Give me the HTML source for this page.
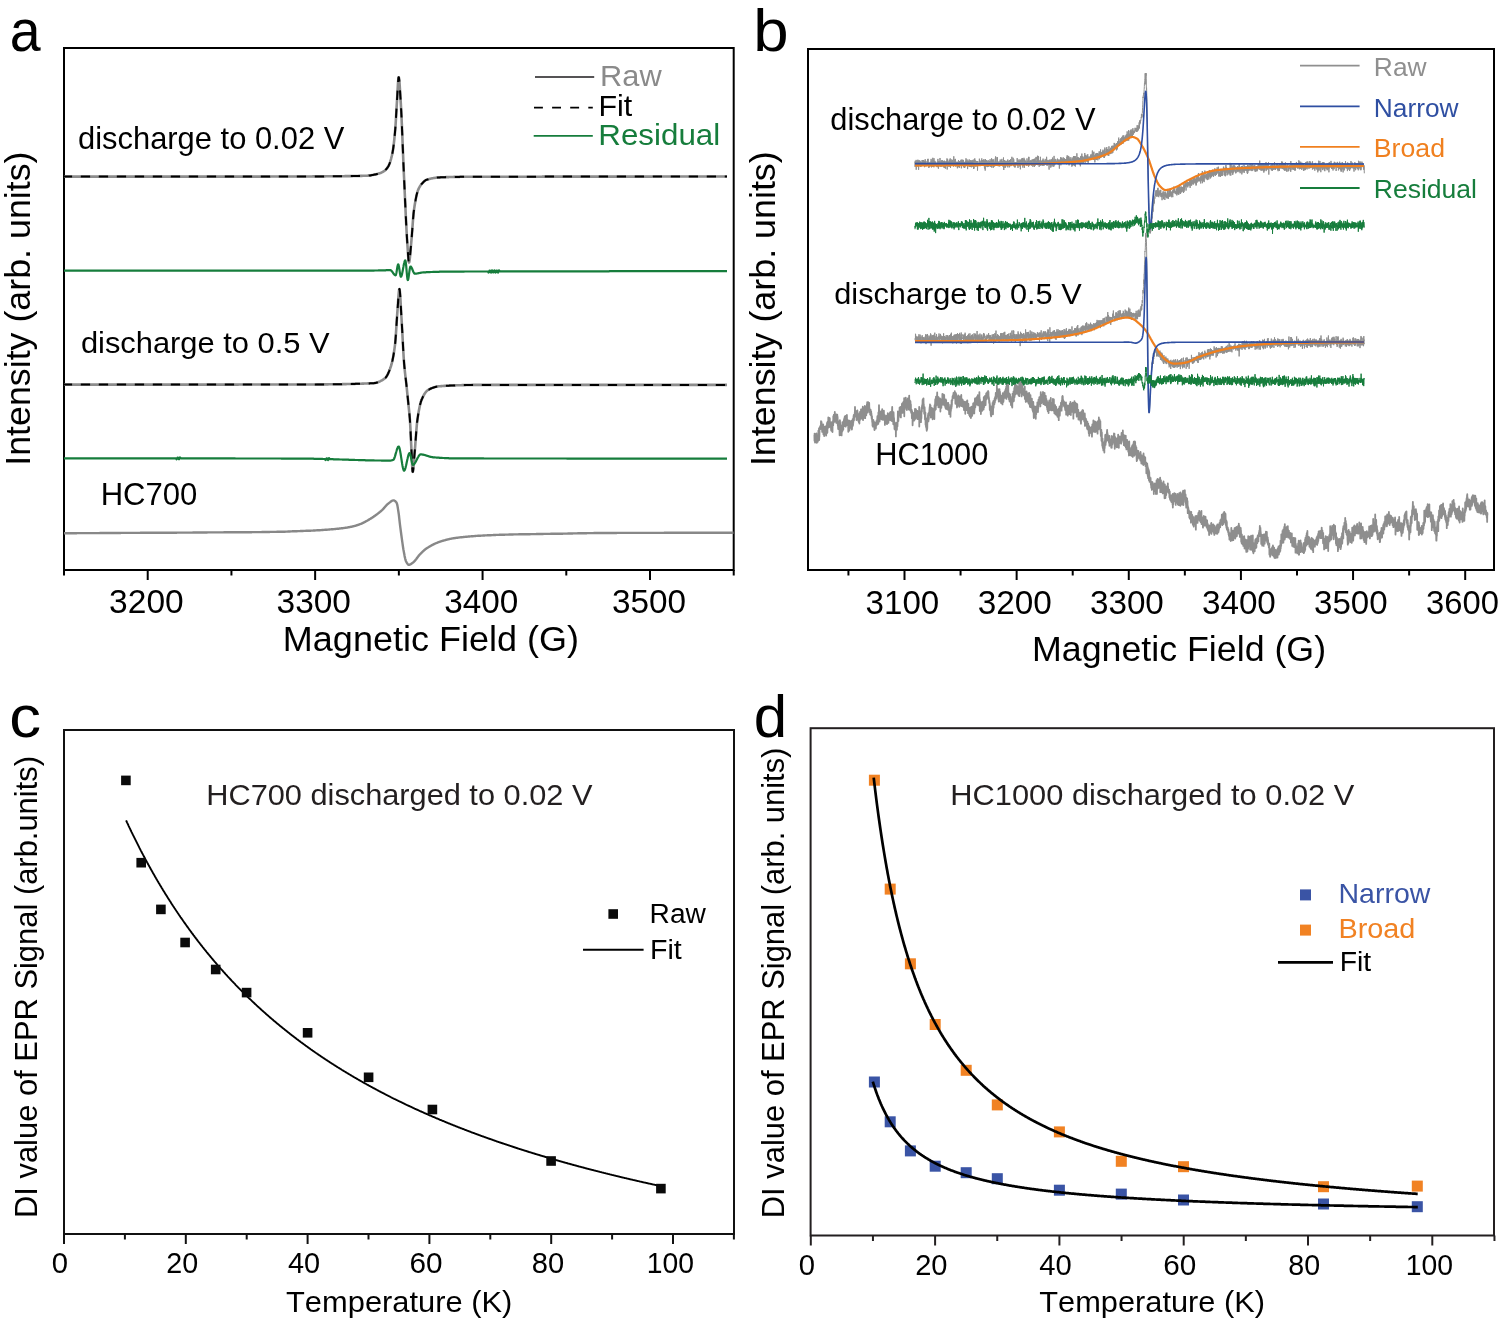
<!DOCTYPE html>
<html><head><meta charset="utf-8"><style>
html,body{margin:0;padding:0;background:#fff;overflow:hidden;}
svg{display:block;will-change:transform;}
text{font-family:"Liberation Sans", sans-serif;font-kerning:none;font-feature-settings:"kern" 0;}
</style></head><body>
<svg width="1500" height="1322" viewBox="0 0 1500 1322">
<rect width="1500" height="1322" fill="#fff"/>
<text transform="translate(9.84,51.21) scale(0.9247,1)" font-size="60.00" fill="#000">a</text>
<text transform="translate(753.20,51.11) scale(1.0599,1)" font-size="60.00" fill="#000">b</text>
<text transform="translate(9.30,737.01) scale(1.0592,1)" font-size="60.00" fill="#000">c</text>
<text transform="translate(753.78,736.71) scale(1.0007,1)" font-size="60.00" fill="#000">d</text>
<rect x="64.00" y="48.00" width="669.70" height="522.00" fill="none" stroke="#000" stroke-width="2"/>
<line x1="64.00" y1="570.00" x2="64.00" y2="575.50" stroke="#000" stroke-width="2" />
<line x1="147.71" y1="570.00" x2="147.71" y2="580.00" stroke="#000" stroke-width="2" />
<line x1="231.43" y1="570.00" x2="231.43" y2="575.50" stroke="#000" stroke-width="2" />
<line x1="315.14" y1="570.00" x2="315.14" y2="580.00" stroke="#000" stroke-width="2" />
<line x1="398.86" y1="570.00" x2="398.86" y2="575.50" stroke="#000" stroke-width="2" />
<line x1="482.57" y1="570.00" x2="482.57" y2="580.00" stroke="#000" stroke-width="2" />
<line x1="566.29" y1="570.00" x2="566.29" y2="575.50" stroke="#000" stroke-width="2" />
<line x1="650.00" y1="570.00" x2="650.00" y2="580.00" stroke="#000" stroke-width="2" />
<line x1="733.72" y1="570.00" x2="733.72" y2="575.50" stroke="#000" stroke-width="2" />
<text transform="translate(109.12,612.90) scale(1.0160,1)" font-size="33.00" fill="#000">3200</text>
<text transform="translate(276.52,612.90) scale(1.0146,1)" font-size="33.00" fill="#000">3300</text>
<text transform="translate(444.13,612.90) scale(1.0104,1)" font-size="33.00" fill="#000">3400</text>
<text transform="translate(611.93,612.90) scale(1.0089,1)" font-size="33.00" fill="#000">3500</text>
<text transform="translate(282.84,650.60) scale(1.0205,1)" font-size="35.30" fill="#000">Magnetic Field (G)</text>
<text transform="translate(30.40,465.80) rotate(-90) scale(1.0086,1)" font-size="35.50" fill="#000">Intensity (arb. units)</text>
<text transform="translate(78.00,149.00) scale(1.0068,1)" font-size="30.70" fill="#000">discharge to 0.02 V</text>
<text transform="translate(80.90,352.50) scale(1.0151,1)" font-size="30.40" fill="#000">discharge to 0.5 V</text>
<text transform="translate(100.65,505.40) scale(1.0028,1)" font-size="31.00" fill="#000">HC700</text>
<text transform="translate(600.08,85.50) scale(1.0256,1)" font-size="30.00" fill="#8a8a8a">Raw</text>
<text transform="translate(598.40,116.20) scale(1.0149,1)" font-size="30.00" fill="#000">Fit</text>
<text transform="translate(598.33,144.90) scale(1.0440,1)" font-size="30.00" fill="#167d3c">Residual</text>
<line x1="535.00" y1="77.00" x2="594.20" y2="77.00" stroke="#555355" stroke-width="1.9" />
<line x1="534.00" y1="107.60" x2="592.80" y2="107.60" stroke="#000" stroke-width="1.9" stroke-dasharray="8.9 9.2"/>
<line x1="533.70" y1="135.80" x2="592.80" y2="135.80" stroke="#167d3c" stroke-width="1.8" />
<rect x="808.00" y="49.00" width="686.00" height="521.00" fill="none" stroke="#000" stroke-width="2"/>
<line x1="848.43" y1="570.00" x2="848.43" y2="575.50" stroke="#000" stroke-width="2" />
<line x1="904.50" y1="570.00" x2="904.50" y2="580.00" stroke="#000" stroke-width="2" />
<line x1="960.57" y1="570.00" x2="960.57" y2="575.50" stroke="#000" stroke-width="2" />
<line x1="1016.64" y1="570.00" x2="1016.64" y2="580.00" stroke="#000" stroke-width="2" />
<line x1="1072.71" y1="570.00" x2="1072.71" y2="575.50" stroke="#000" stroke-width="2" />
<line x1="1128.78" y1="570.00" x2="1128.78" y2="580.00" stroke="#000" stroke-width="2" />
<line x1="1184.85" y1="570.00" x2="1184.85" y2="575.50" stroke="#000" stroke-width="2" />
<line x1="1240.92" y1="570.00" x2="1240.92" y2="580.00" stroke="#000" stroke-width="2" />
<line x1="1296.99" y1="570.00" x2="1296.99" y2="575.50" stroke="#000" stroke-width="2" />
<line x1="1353.06" y1="570.00" x2="1353.06" y2="580.00" stroke="#000" stroke-width="2" />
<line x1="1409.13" y1="570.00" x2="1409.13" y2="575.50" stroke="#000" stroke-width="2" />
<line x1="1465.20" y1="570.00" x2="1465.20" y2="580.00" stroke="#000" stroke-width="2" />
<text transform="translate(865.54,613.70) scale(0.9868,1)" font-size="33.60" fill="#000">3100</text>
<text transform="translate(977.73,613.70) scale(0.9923,1)" font-size="33.60" fill="#000">3200</text>
<text transform="translate(1089.93,613.70) scale(0.9895,1)" font-size="33.60" fill="#000">3300</text>
<text transform="translate(1201.93,613.70) scale(0.9895,1)" font-size="33.60" fill="#000">3400</text>
<text transform="translate(1314.04,613.70) scale(0.9854,1)" font-size="33.60" fill="#000">3500</text>
<text transform="translate(1426.05,613.70) scale(0.9757,1)" font-size="33.60" fill="#000">3600</text>
<text transform="translate(1031.97,661.00) scale(1.0222,1)" font-size="35.00" fill="#000">Magnetic Field (G)</text>
<text transform="translate(774.80,466.11) rotate(-90) scale(1.0103,1)" font-size="35.50" fill="#000">Intensity (arb. units)</text>
<text transform="translate(830.31,129.80) scale(1.0030,1)" font-size="30.70" fill="#000">discharge to 0.02 V</text>
<text transform="translate(834.31,304.40) scale(1.0097,1)" font-size="30.40" fill="#000">discharge to 0.5 V</text>
<text transform="translate(875.27,464.90) scale(0.9979,1)" font-size="30.90" fill="#000">HC1000</text>
<text transform="translate(1373.83,76.00) scale(1.0474,1)" font-size="25.20" fill="#8f8f8f">Raw</text>
<text transform="translate(1373.84,116.70) scale(1.0441,1)" font-size="25.20" fill="#2f4fa2">Narrow</text>
<text transform="translate(1373.81,157.30) scale(1.0589,1)" font-size="25.20" fill="#f0801f">Broad</text>
<text transform="translate(1373.82,198.30) scale(1.0530,1)" font-size="25.20" fill="#167d3c">Residual</text>
<line x1="1300.00" y1="65.60" x2="1359.60" y2="65.60" stroke="#8f8f8f" stroke-width="1.8" />
<line x1="1300.00" y1="106.30" x2="1359.60" y2="106.30" stroke="#2f4fa2" stroke-width="1.8" />
<line x1="1300.00" y1="146.90" x2="1359.60" y2="146.90" stroke="#f0801f" stroke-width="1.8" />
<line x1="1300.00" y1="188.00" x2="1359.60" y2="188.00" stroke="#167d3c" stroke-width="1.8" />
<rect x="64.00" y="730.00" width="670.00" height="504.00" fill="none" stroke="#111" stroke-width="2"/>
<line x1="64.00" y1="1234.00" x2="64.00" y2="1244.00" stroke="#111" stroke-width="2" />
<line x1="124.90" y1="1234.00" x2="124.90" y2="1239.50" stroke="#111" stroke-width="2" />
<line x1="185.80" y1="1234.00" x2="185.80" y2="1244.00" stroke="#111" stroke-width="2" />
<line x1="246.70" y1="1234.00" x2="246.70" y2="1239.50" stroke="#111" stroke-width="2" />
<line x1="307.60" y1="1234.00" x2="307.60" y2="1244.00" stroke="#111" stroke-width="2" />
<line x1="368.50" y1="1234.00" x2="368.50" y2="1239.50" stroke="#111" stroke-width="2" />
<line x1="429.40" y1="1234.00" x2="429.40" y2="1244.00" stroke="#111" stroke-width="2" />
<line x1="490.30" y1="1234.00" x2="490.30" y2="1239.50" stroke="#111" stroke-width="2" />
<line x1="551.20" y1="1234.00" x2="551.20" y2="1244.00" stroke="#111" stroke-width="2" />
<line x1="612.10" y1="1234.00" x2="612.10" y2="1239.50" stroke="#111" stroke-width="2" />
<line x1="673.00" y1="1234.00" x2="673.00" y2="1244.00" stroke="#111" stroke-width="2" />
<line x1="733.90" y1="1234.00" x2="733.90" y2="1239.50" stroke="#111" stroke-width="2" />
<text transform="translate(51.86,1273.30) scale(1.0099,1)" font-size="29.00" fill="#000">0</text>
<text transform="translate(166.15,1273.30) scale(0.9910,1)" font-size="29.00" fill="#000">20</text>
<text transform="translate(287.94,1273.30) scale(0.9981,1)" font-size="29.00" fill="#000">40</text>
<text transform="translate(409.49,1273.30) scale(1.0252,1)" font-size="29.00" fill="#000">60</text>
<text transform="translate(531.73,1273.30) scale(1.0046,1)" font-size="29.00" fill="#000">80</text>
<text transform="translate(646.84,1273.30) scale(0.9768,1)" font-size="29.00" fill="#000">100</text>
<text transform="translate(286.01,1311.50) scale(1.0357,1)" font-size="29.80" fill="#000">Temperature (K)</text>
<text transform="translate(37.40,1218.04) rotate(-90) scale(1.0038,1)" font-size="30.80" fill="#000">DI value of EPR Signal (arb.units)</text>
<text transform="translate(206.28,805.20) scale(1.0251,1)" font-size="30.00" fill="#231f20">HC700 discharged to 0.02 V</text>
<text transform="translate(649.59,923.30) scale(1.0059,1)" font-size="28.00" fill="#000">Raw</text>
<text transform="translate(649.96,958.80) scale(1.0209,1)" font-size="28.00" fill="#000">Fit</text>
<rect x="608.40" y="909.20" width="9.60" height="9.60" fill="#0a0a0a"/>
<line x1="583.00" y1="949.70" x2="643.60" y2="949.70" stroke="#000" stroke-width="2" />
<rect x="810.60" y="728.20" width="683.40" height="507.30" fill="none" stroke="#231f20" stroke-width="2"/>
<line x1="810.80" y1="1235.50" x2="810.80" y2="1245.50" stroke="#231f20" stroke-width="2" />
<line x1="872.95" y1="1235.50" x2="872.95" y2="1241.00" stroke="#231f20" stroke-width="2" />
<line x1="935.10" y1="1235.50" x2="935.10" y2="1245.50" stroke="#231f20" stroke-width="2" />
<line x1="997.25" y1="1235.50" x2="997.25" y2="1241.00" stroke="#231f20" stroke-width="2" />
<line x1="1059.40" y1="1235.50" x2="1059.40" y2="1245.50" stroke="#231f20" stroke-width="2" />
<line x1="1121.55" y1="1235.50" x2="1121.55" y2="1241.00" stroke="#231f20" stroke-width="2" />
<line x1="1183.70" y1="1235.50" x2="1183.70" y2="1245.50" stroke="#231f20" stroke-width="2" />
<line x1="1245.85" y1="1235.50" x2="1245.85" y2="1241.00" stroke="#231f20" stroke-width="2" />
<line x1="1308.00" y1="1235.50" x2="1308.00" y2="1245.50" stroke="#231f20" stroke-width="2" />
<line x1="1370.15" y1="1235.50" x2="1370.15" y2="1241.00" stroke="#231f20" stroke-width="2" />
<line x1="1432.30" y1="1235.50" x2="1432.30" y2="1245.50" stroke="#231f20" stroke-width="2" />
<line x1="1494.45" y1="1235.50" x2="1494.45" y2="1241.00" stroke="#231f20" stroke-width="2" />
<text transform="translate(798.86,1274.80) scale(1.0240,1)" font-size="28.60" fill="#000">0</text>
<text transform="translate(915.13,1274.80) scale(1.0186,1)" font-size="28.60" fill="#000">20</text>
<text transform="translate(1039.33,1274.80) scale(1.0220,1)" font-size="28.60" fill="#000">40</text>
<text transform="translate(1163.19,1274.80) scale(1.0396,1)" font-size="28.60" fill="#000">60</text>
<text transform="translate(1288.26,1274.80) scale(1.0016,1)" font-size="28.60" fill="#000">80</text>
<text transform="translate(1405.74,1274.80) scale(0.9927,1)" font-size="28.60" fill="#000">100</text>
<text transform="translate(1039.31,1312.00) scale(1.0330,1)" font-size="29.80" fill="#000">Temperature (K)</text>
<text transform="translate(783.90,1218.24) rotate(-90) scale(1.0038,1)" font-size="30.80" fill="#000">DI value of EPR Signal (arb. units)</text>
<text transform="translate(950.37,805.30) scale(1.0266,1)" font-size="30.00" fill="#231f20">HC1000 discharged to 0.02 V</text>
<text transform="translate(1338.46,902.60) scale(1.0181,1)" font-size="28.00" fill="#3a54a5">Narrow</text>
<text transform="translate(1338.43,937.80) scale(1.0309,1)" font-size="28.00" fill="#f18223">Broad</text>
<text transform="translate(1339.67,970.80) scale(1.0139,1)" font-size="28.00" fill="#000">Fit</text>
<rect x="1300.00" y="889.40" width="11.00" height="11.00" fill="#3a54a5"/>
<rect x="1300.00" y="924.60" width="11.00" height="11.00" fill="#f18223"/>
<line x1="1278.00" y1="962.40" x2="1333.00" y2="962.40" stroke="#000" stroke-width="2.6" />
<path d="M64.0 176.6l0.5 0.0 0.5 0.0 0.5 0.0 0.5 0.0 0.5 0.0 0.5 0.0 0.5 0.0 0.5 0.0 0.5 0.0 0.5 0.0 0.5 0.0 0.5 0.0 0.5 0.0 0.5 0.0 0.5 0.0 0.5 0.0 0.5 0.0 0.5 0.0 0.5 0.0 0.5 0.0 0.5 0.0 0.5 0.0 0.5 0.0 0.5 0.0 0.5 0.0 0.5 0.0 0.5 0.0 0.5 0.0 0.5 0.0 0.5 0.0 0.5 0.0 0.5 0.0 0.5 0.0 0.5 0.0 0.5 0.0 0.5 0.0 0.5 0.0 0.5 0.0 0.5 0.0 0.5 0.0 0.5 0.0 0.5 0.0 0.5 0.0 0.5 0.0 0.5 0.0 0.5 0.0 0.5 0.0 0.5 0.0 0.5 0.0 0.5 0.0 0.5 0.0 0.5 0.0 0.5 0.0 0.5 0.0 0.5 0.0 0.5 0.0 0.5 0.0 0.5 0.0 0.5 0.0 0.5 0.0 0.5 0.0 0.5 0.0 0.5 0.0 0.5 0.0 0.5 0.0 0.5 0.0 0.5 0.0 0.5 0.0 0.5 0.0 0.5 0.0 0.5 0.0 0.5 0.0 0.5 0.0 0.5 0.0 0.5 0.0 0.5 0.0 0.5 0.0 0.5 0.0 0.5 0.0 0.5 0.0 0.5 0.0 0.5 0.0 0.5 0.0 0.5 0.0 0.5 0.0 0.5 0.0 0.5 0.0 0.5 0.0 0.5 0.0 0.5 0.0 0.5 0.0 0.5 0.0 0.5 0.0 0.5 0.0 0.5 0.0 0.5 0.0 0.5 0.0 0.5 0.0 0.5 0.0 0.5 0.0 0.5 0.0 0.5 0.0 0.5 0.0 0.5 0.0 0.5 0.0 0.5 0.0 0.5 0.0 0.5 0.0 0.5 0.0 0.5 0.0 0.5 0.0 0.5 0.0 0.5 0.0 0.5 0.0 0.5 0.0 0.5 0.0 0.5 0.0 0.5 0.0 0.5 0.0 0.5 0.0 0.5 0.0 0.5 0.0 0.5 0.0 0.5 0.0 0.5 0.0 0.5 0.0 0.5 0.0 0.5 0.0 0.5 0.0 0.5 0.0 0.5 0.0 0.5 0.0 0.5 0.0 0.5 0.0 0.5 0.0 0.5 0.0 0.5 0.0 0.5 0.0 0.5 0.0 0.5 0.0 0.5 0.0 0.5 0.0 0.5 0.0 0.5 0.0 0.5 0.0 0.5 0.0 0.5 0.0 0.5 0.0 0.5 0.0 0.5 0.0 0.5 0.0 0.5 0.0 0.5 0.0 0.5 0.0 0.5 0.0 0.5 0.0 0.5 0.0 0.5 0.0 0.5 0.0 0.5 0.0 0.5 0.0 0.5 0.0 0.5 0.0 0.5 0.0 0.5 0.0 0.5 0.0 0.5 0.0 0.5 0.0 0.5 0.0 0.5 0.0 0.5 0.0 0.5 0.0 0.5 0.0 0.5 0.0 0.5 0.0 0.5 0.0 0.5 0.0 0.5 0.0 0.5 0.0 0.5 0.0 0.5 0.0 0.5 0.0 0.5 0.0 0.5 0.0 0.5 0.0 0.5 0.0 0.5 0.0 0.5 0.0 0.5 0.0 0.5 0.0 0.5 0.0 0.5 0.0 0.5 0.0 0.5 0.0 0.5 0.0 0.5 0.0 0.5 0.0 0.5 0.0 0.5 0.0 0.5 0.0 0.5 0.0 0.5 0.0 0.5 0.0 0.5 0.0 0.5 0.0 0.5 0.0 0.5 0.0 0.5 0.0 0.5 0.0 0.5 0.0 0.5 0.0 0.5 0.0 0.5 0.0 0.5 0.0 0.5 0.0 0.5 0.0 0.5 0.0 0.5 0.0 0.5 0.0 0.5 0.0 0.5 0.0 0.5 0.0 0.5 0.0 0.5 0.0 0.5 0.0 0.5 0.0 0.5 0.0 0.5 0.0 0.5 0.0 0.5 0.0 0.5 0.0 0.5 0.0 0.5 0.0 0.5 0.0 0.5 0.0 0.5 0.0 0.5 0.0 0.5 0.0 0.5 0.0 0.5 0.0 0.5 0.0 0.5 0.0 0.5 0.0 0.5 0.0 0.5 0.0 0.5 0.0 0.5 0.0 0.5 0.0 0.5 0.0 0.5 0.0 0.5 0.0 0.5 0.0 0.5 0.0 0.5 0.0 0.5 0.0 0.5 0.0 0.5 0.0 0.5 0.0 0.5 0.0 0.5 0.0 0.5 0.0 0.5 0.0 0.5 0.0 0.5 0.0 0.5 0.0 0.5 0.0 0.5 0.0 0.5 0.0 0.5 0.0 0.5 0.0 0.5 0.0 0.5 0.0 0.5 0.0 0.5 0.0 0.5 0.0 0.5 0.0 0.5 0.0 0.5 0.0 0.5 0.0 0.5 0.0 0.5 0.0 0.5 0.0 0.5 0.0 0.5 0.0 0.5 0.0 0.5 0.0 0.5 0.0 0.5 0.0 0.5 0.0 0.5 0.0 0.5 0.0 0.5 0.0 0.5 0.0 0.5 0.0 0.5 0.0 0.5 0.0 0.5 0.0 0.5 0.0 0.5 0.0 0.5 0.0 0.5 0.0 0.5 0.0 0.5 0.0 0.5 0.0 0.5 0.0 0.5 0.0 0.5 0.0 0.5 0.0 0.5 0.0 0.5 0.0 0.5 0.0 0.5 0.0 0.5 0.0 0.5 0.0 0.5 0.0 0.5 0.0 0.5 0.0 0.5 0.0 0.5 0.0 0.5 0.0 0.5 0.0 0.5 0.0 0.5 0.0 0.5 0.0 0.5 0.0 0.5 0.0 0.5 0.0 0.5 0.0 0.5 0.0 0.5 0.0 0.5 0.0 0.5 0.0 0.5 0.0 0.5 0.0 0.5 0.0 0.5 0.0 0.5 0.0 0.5 0.0 0.5 0.0 0.5 0.0 0.5 0.0 0.5 0.0 0.5 0.0 0.5 0.0 0.5 0.0 0.5 0.0 0.5 0.0 0.5 0.0 0.5 0.0 0.5 0.0 0.5 0.0 0.5 0.0 0.5 0.0 0.5 0.0 0.5 0.0 0.5 0.0 0.5 0.0 0.5 0.0 0.5 0.0 0.5 0.0 0.5 0.0 0.5 0.0 0.5 0.0 0.5 0.0 0.5 0.0 0.5 0.0 0.5 0.0 0.5 0.0 0.5 0.0 0.5 0.0 0.5 0.0 0.5 0.0 0.5 0.0 0.5 0.0 0.5 0.0 0.5 0.0 0.5 0.0 0.5 0.0 0.5 0.0 0.5 0.0 0.5 0.0 0.5 0.0 0.5 0.0 0.5 0.0 0.5 0.0 0.5 0.0 0.5 0.0 0.5 0.0 0.5 0.0 0.5 0.0 0.5 0.0 0.5 0.0 0.5 0.0 0.5 0.0 0.5 0.0 0.5 0.0 0.5 0.0 0.5 0.0 0.5 0.0 0.5 0.0 0.5 0.0 0.5 0.0 0.5 0.0 0.5 0.0 0.5 0.0 0.5 0.0 0.5 0.0 0.5 0.0 0.5 0.0 0.5 0.0 0.5 0.0 0.5 0.0 0.5 0.0 0.5 -0.1 0.5 0.0 0.5 0.0 0.5 0.0 0.5 0.0 0.5 0.0 0.5 0.0 0.5 0.0 0.5 0.0 0.5 0.0 0.5 0.0 0.5 0.0 0.5 0.0 0.5 0.0 0.5 0.0 0.5 0.0 0.5 0.0 0.5 0.0 0.5 0.0 0.5 0.0 0.5 0.0 0.5 0.0 0.5 0.0 0.5 0.0 0.5 0.0 0.5 0.0 0.5 0.0 0.5 0.0 0.5 0.0 0.5 0.0 0.5 0.0 0.5 0.0 0.5 0.0 0.5 0.0 0.5 0.0 0.5 0.0 0.5 0.0 0.5 0.0 0.5 0.0 0.5 0.0 0.5 0.0 0.5 0.0 0.5 0.0 0.5 0.0 0.5 0.0 0.5 0.0 0.5 0.0 0.5 0.0 0.5 0.0 0.5 0.0 0.5 0.0 0.5 0.0 0.5 0.0 0.5 0.0 0.5 0.0 0.5 0.0 0.5 0.0 0.5 0.0 0.5 0.0 0.5 0.0 0.5 0.0 0.5 0.0 0.5 0.0 0.5 0.0 0.5 0.0 0.5 0.0 0.5 0.0 0.5 0.0 0.5 0.0 0.5 0.0 0.5 0.0 0.5 0.0 0.5 0.0 0.5 0.0 0.5 0.0 0.5 0.0 0.5 0.0 0.5 0.0 0.5 0.0 0.5 0.0 0.5 0.0 0.5 0.0 0.5 0.0 0.5 -0.1 0.5 0.0 0.5 0.0 0.5 0.0 0.5 0.0 0.5 0.0 0.5 0.0 0.5 0.0 0.5 0.0 0.5 0.0 0.5 0.0 0.5 0.0 0.5 0.0 0.5 0.0 0.5 0.0 0.5 0.0 0.5 0.0 0.5 0.0 0.5 0.0 0.5 0.0 0.5 0.0 0.5 0.0 0.5 0.0 0.5 0.0 0.5 0.0 0.5 0.0 0.5 -0.1 0.5 0.0 0.5 0.0 0.5 0.0 0.5 0.0 0.5 0.0 0.5 0.0 0.5 0.0 0.5 0.0 0.5 0.0 0.5 0.0 0.5 0.0 0.5 0.0 0.5 0.0 0.5 0.0 0.5 0.0 0.5 0.0 0.5 0.0 0.5 0.0 0.5 0.0 0.5 -0.1 0.5 0.0 0.5 0.0 0.5 0.0 0.5 0.0 0.5 0.0 0.5 0.0 0.5 0.0 0.5 0.0 0.5 0.0 0.5 0.0 0.5 0.0 0.5 0.0 0.5 0.0 0.5 0.0 0.5 0.0 0.5 0.0 0.5 0.0 0.5 0.0 0.5 -0.1 0.5 0.0 0.5 0.0 0.5 0.0 0.5 0.0 0.5 0.0 0.5 0.0 0.5 0.0 0.5 0.0 0.5 0.0 0.5 0.0 0.5 0.0 0.5 0.0 0.5 0.0 0.5 0.0 0.5 0.0 0.5 -0.1 0.5 0.0 0.5 0.0 0.5 0.0 0.5 0.0 0.5 0.0 0.5 0.0 0.5 0.0 0.5 0.0 0.5 0.0 0.5 0.0 0.5 -0.1 0.5 0.0 0.5 0.0 0.5 0.0 0.5 0.0 0.5 0.0 0.5 0.0 0.5 0.0 0.5 -0.1 0.5 0.0 0.5 0.0 0.5 0.0 0.5 0.0 0.5 0.0 0.5 -0.1 0.5 0.0 0.5 0.0 0.5 0.0 0.5 0.0 0.5 -0.1 0.5 0.0 0.5 -0.1 0.5 0.0 0.5 -0.1 0.5 0.0 0.5 -0.1 0.5 -0.1 0.5 -0.1 0.5 -0.1 0.5 -0.1 0.5 -0.1 0.5 -0.1 0.5 -0.1 0.5 -0.1 0.5 -0.1 0.5 -0.1 0.5 -0.1 0.5 -0.2 0.5 -0.1 0.5 -0.1 0.5 -0.2 0.5 -0.1 0.5 -0.2 0.5 -0.1 0.2 -0.1 0.2 -0.1 0.1 0.0 0.1 0.0 0.2 -0.1 0.2 -0.1 0.0 0.0 0.2 -0.1 0.2 -0.1 0.1 0.0 0.1 -0.1 0.2 -0.1 0.2 -0.1 0.0 0.0 0.2 -0.1 0.2 -0.1 0.1 -0.1 0.1 0.0 0.2 -0.1 0.2 -0.2 0.0 0.0 0.2 -0.1 0.2 -0.1 0.1 -0.1 0.1 -0.1 0.2 -0.1 0.2 -0.1 0.0 0.0 0.2 -0.2 0.2 -0.1 0.1 -0.1 0.1 -0.1 0.2 -0.1 0.2 -0.2 0.0 0.0 0.2 -0.2 0.2 -0.1 0.1 -0.1 0.1 -0.1 0.2 -0.2 0.2 -0.2 0.0 0.0 0.2 -0.2 0.2 -0.2 0.1 -0.1 0.1 -0.1 0.2 -0.3 0.2 -0.2 0.0 0.0 0.2 -0.3 0.2 -0.3 0.1 -0.1 0.1 -0.2 0.2 -0.3 0.2 -0.3 0.0 0.0 0.2 -0.3 0.2 -0.4 0.1 -0.1 0.1 -0.2 0.2 -0.4 0.2 -0.5 0.0 0.0 0.2 -0.4 0.2 -0.5 0.1 -0.3 0.1 -0.2 0.2 -0.6 0.2 -0.5 0.0 0.0 0.2 -0.6 0.2 -0.7 0.1 -0.3 0.1 -0.3 0.2 -0.7 0.2 -0.7 0.0 0.0 0.2 -0.8 0.2 -0.8 0.1 -0.4 0.1 -0.4 0.2 -0.8 0.2 -0.9 0.0 0.0 0.2 -0.9 0.2 -0.9 0.1 -0.5 0.1 -0.5 0.2 -1.1 0.2 -1.3 0.0 0.0 0.2 -1.3 0.2 -1.5 0.1 -0.7 0.1 -0.8 0.2 -1.7 0.2 -1.7 0.0 0.0 0.2 -1.8 0.2 -2.0 0.1 -0.9 0.1 -1.1 0.2 -2.0 0.2 -2.2 0.0 0.0 0.2 -2.2 0.2 -2.5 0.1 -1.4 0.1 -1.5 0.2 -3.2 0.2 -3.4 0.0 0.0 0.2 -3.6 0.2 -3.5 0.1 -1.8 0.1 -1.7 0.2 -3.3 0.2 -3.1 0.0 0.0 0.2 -3.4 0.2 -3.7 0.1 -1.9 0.1 -1.8 0.2 -3.6 0.2 -3.3 0.0 0.0 0.2 -2.7 0.2 -2.1 0.1 -0.6 0.1 -0.5 0.2 0.0 0.2 0.8 0.0 0.0 0.2 1.5 0.2 2.0 0.1 1.2 0.1 1.3 0.2 2.9 0.2 3.1 0.0 0.0 0.2 3.3 0.2 3.4 0.1 1.6 0.1 1.6 0.2 3.2 0.2 3.5 0.0 0.0 0.2 3.7 0.2 4.1 0.1 2.1 0.1 2.2 0.2 4.6 0.2 4.7 0.0 0.0 0.2 4.8 0.2 5.0 0.1 2.5 0.1 2.5 0.2 5.0 0.2 5.0 0.0 0.0 0.2 5.0 0.2 4.9 0.1 2.4 0.1 2.3 0.2 4.6 0.2 4.4 0.0 0.0 0.2 4.3 0.2 4.4 0.1 2.2 0.1 2.2 0.2 4.4 0.2 4.5 0.0 0.0 0.2 4.4 0.2 4.4 0.1 2.2 0.1 2.1 0.2 4.3 0.2 4.1 0.0 0.0 0.2 4.0 0.2 3.9 0.1 1.9 0.1 1.8 0.2 3.5 0.2 3.4 0.0 0.0 0.2 3.0 0.2 3.0 0.1 1.5 0.1 1.5 0.2 3.1 0.2 3.0 0.0 0.0 0.2 2.8 0.2 2.5 0.1 1.0 0.1 0.9 0.2 1.2 0.2 0.5 0.0 0.0 0.2 -0.3 0.2 -0.8 0.1 -0.6 0.1 -0.7 0.2 -1.6 0.2 -1.9 0.0 0.0 0.2 -2.2 0.2 -2.3 0.1 -1.2 0.1 -1.1 0.2 -2.4 0.2 -2.3 0.0 0.0 0.2 -2.1 0.2 -2.1 0.1 -1.2 0.1 -1.2 0.2 -2.4 0.2 -2.7 0.0 0.0 0.2 -2.6 0.2 -2.8 0.1 -1.3 0.1 -1.4 0.2 -2.7 0.2 -2.5 0.0 0.0 0.2 -2.5 0.2 -2.3 0.1 -1.1 0.1 -1.0 0.2 -1.8 0.2 -1.6 0.0 0.0 0.2 -1.4 0.2 -1.3 0.1 -0.7 0.1 -0.6 0.2 -1.3 0.2 -1.2 0.0 0.0 0.2 -1.2 0.2 -1.1 0.1 -0.5 0.1 -0.6 0.2 -1.0 0.2 -1.0 0.0 0.0 0.2 -1.0 0.2 -0.9 0.1 -0.4 0.1 -0.5 0.2 -0.8 0.2 -0.8 0.0 0.0 0.2 -0.7 0.2 -0.7 0.1 -0.3 0.1 -0.3 0.2 -0.6 0.2 -0.6 0.0 0.0 0.2 -0.5 0.2 -0.5 0.1 -0.2 0.1 -0.2 0.2 -0.5 0.2 -0.4 0.0 0.0 0.2 -0.4 0.2 -0.3 0.1 -0.2 0.1 -0.2 0.2 -0.3 0.2 -0.4 0.0 0.0 0.2 -0.3 0.2 -0.3 0.1 -0.1 0.1 -0.2 0.2 -0.2 0.2 -0.3 0.0 0.0 0.2 -0.3 0.2 -0.2 0.1 -0.1 0.1 -0.1 0.2 -0.3 0.2 -0.2 0.0 0.0 0.2 -0.2 0.2 -0.2 0.1 -0.2 0.1 -0.1 0.2 -0.2 0.2 -0.2 0.0 0.0 0.2 -0.2 0.2 -0.2 0.1 -0.1 0.1 -0.1 0.2 -0.2 0.2 -0.2 0.0 0.0 0.2 -0.2 0.2 -0.2 0.1 -0.1 0.1 -0.1 0.2 -0.1 0.2 -0.2 0.0 0.0 0.2 -0.1 0.2 -0.2 0.1 0.0 0.1 -0.1 0.2 -0.1 0.2 -0.1 0.0 0.0 0.2 -0.1 0.2 -0.1 0.1 0.0 0.1 0.0 0.2 -0.1 0.2 -0.1 0.0 0.0 0.2 0.0 0.2 -0.1 0.1 0.0 0.1 0.0 0.2 -0.1 0.2 0.0 0.0 0.0 0.2 -0.1 0.2 -0.1 0.1 0.0 0.1 0.0 0.2 -0.1 0.2 0.0 0.0 0.0 0.2 -0.1 0.2 0.0 0.1 0.0 0.1 -0.1 0.2 0.0 0.2 -0.1 0.5 -0.1 0.5 -0.1 0.5 -0.1 0.5 -0.1 0.5 -0.1 0.5 -0.1 0.5 -0.1 0.5 -0.1 0.5 0.0 0.5 -0.1 0.5 -0.1 0.5 -0.1 0.5 0.0 0.5 -0.1 0.5 0.0 0.5 -0.1 0.5 0.0 0.5 -0.1 0.5 0.0 0.5 0.0 0.5 -0.1 0.5 0.0 0.5 0.0 0.5 0.0 0.5 0.0 0.5 -0.1 0.5 0.0 0.5 0.0 0.5 0.0 0.5 0.0 0.5 0.0 0.5 -0.1 0.5 0.0 0.5 0.0 0.5 0.0 0.5 0.0 0.5 0.0 0.5 0.0 0.5 -0.1 0.5 0.0 0.5 0.0 0.5 0.0 0.5 0.0 0.5 0.0 0.5 0.0 0.5 0.0 0.5 0.0 0.5 -0.1 0.5 0.0 0.5 0.0 0.5 0.0 0.5 0.0 0.5 0.0 0.5 0.0 0.5 0.0 0.5 0.0 0.5 0.0 0.5 0.0 0.5 0.0 0.5 -0.1 0.5 0.0 0.5 0.0 0.5 0.0 0.5 0.0 0.5 0.0 0.5 0.0 0.5 0.0 0.5 0.0 0.5 0.0 0.5 0.0 0.5 0.0 0.5 0.0 0.5 0.0 0.5 0.0 0.5 0.0 0.5 0.0 0.5 0.0 0.5 0.0 0.5 0.0 0.5 0.0 0.5 0.0 0.5 0.0 0.5 0.0 0.5 0.0 0.5 0.0 0.5 0.0 0.5 0.0 0.5 0.0 0.5 0.0 0.5 0.0 0.5 0.0 0.5 0.0 0.5 0.0 0.5 0.0 0.5 0.0 0.5 0.0 0.5 0.0 0.5 0.0 0.5 0.0 0.5 0.0 0.5 0.0 0.5 0.0 0.5 0.0 0.5 0.0 0.5 0.0 0.5 -0.1 0.5 0.0 0.5 0.0 0.5 0.0 0.5 0.0 0.5 0.0 0.5 0.0 0.5 0.0 0.5 0.0 0.5 0.0 0.5 0.0 0.5 0.0 0.5 0.0 0.5 0.0 0.5 0.0 0.5 0.0 0.5 0.0 0.5 0.0 0.5 0.0 0.5 0.0 0.5 0.0 0.5 0.0 0.5 0.0 0.5 0.0 0.5 0.0 0.5 0.0 0.5 0.0 0.5 0.0 0.5 0.0 0.5 0.0 0.5 0.0 0.5 0.0 0.5 0.0 0.5 0.0 0.5 0.0 0.5 0.0 0.5 0.0 0.5 0.0 0.5 0.0 0.5 0.0 0.5 0.0 0.5 0.0 0.5 0.0 0.5 0.0 0.5 0.0 0.5 0.0 0.5 0.0 0.5 0.0 0.5 0.0 0.5 0.0 0.5 0.0 0.5 0.0 0.5 0.0 0.5 0.0 0.5 0.0 0.5 0.0 0.5 0.0 0.5 0.0 0.5 0.0 0.5 0.0 0.5 0.0 0.5 0.0 0.5 0.0 0.5 0.0 0.5 0.0 0.5 0.0 0.5 0.0 0.5 0.0 0.5 0.0 0.5 0.0 0.5 0.0 0.5 0.0 0.5 0.0 0.5 0.0 0.5 0.0 0.5 0.0 0.5 0.0 0.5 0.0 0.5 0.0 0.5 0.0 0.5 0.0 0.5 0.0 0.5 0.0 0.5 0.0 0.5 0.0 0.5 0.0 0.5 0.0 0.5 0.0 0.5 0.0 0.5 0.0 0.5 0.0 0.5 0.0 0.5 0.0 0.5 0.0 0.5 0.0 0.5 0.0 0.5 0.0 0.5 0.0 0.5 0.0 0.5 0.0 0.5 0.0 0.5 0.0 0.5 0.0 0.5 0.0 0.5 0.0 0.5 0.0 0.5 0.0 0.5 0.0 0.5 0.0 0.5 0.0 0.5 0.0 0.5 0.0 0.5 0.0 0.5 0.0 0.5 0.0 0.5 0.0 0.5 0.0 0.5 0.0 0.5 0.0 0.5 -0.1 0.5 0.0 0.5 0.0 0.5 0.0 0.5 0.0 0.5 0.0 0.5 0.0 0.5 0.0 0.5 0.0 0.5 0.0 0.5 0.0 0.5 0.0 0.5 0.0 0.5 0.0 0.5 0.0 0.5 0.0 0.5 0.0 0.5 0.0 0.5 0.0 0.5 0.0 0.5 0.0 0.5 0.0 0.5 0.0 0.5 0.0 0.5 0.0 0.5 0.0 0.5 0.0 0.5 0.0 0.5 0.0 0.5 0.0 0.5 0.0 0.5 0.0 0.5 0.0 0.5 0.0 0.5 0.0 0.5 0.0 0.5 0.0 0.5 0.0 0.5 0.0 0.5 0.0 0.5 0.0 0.5 0.0 0.5 0.0 0.5 0.0 0.5 0.0 0.5 0.0 0.5 0.0 0.5 0.0 0.5 0.0 0.5 0.0 0.5 0.0 0.5 0.0 0.5 0.0 0.5 0.0 0.5 0.0 0.5 0.0 0.5 0.0 0.5 0.0 0.5 0.0 0.5 0.0 0.5 0.0 0.5 0.0 0.5 0.0 0.5 0.0 0.5 0.0 0.5 0.0 0.5 0.0 0.5 0.0 0.5 0.0 0.5 0.0 0.5 0.0 0.5 0.0 0.5 0.0 0.5 0.0 0.5 0.0 0.5 0.0 0.5 0.0 0.5 0.0 0.5 0.0 0.5 0.0 0.5 0.0 0.5 0.0 0.5 0.0 0.5 0.0 0.5 0.0 0.5 0.0 0.5 0.0 0.5 0.0 0.5 0.0 0.5 0.0 0.5 0.0 0.5 0.0 0.5 0.0 0.5 0.0 0.5 0.0 0.5 0.0 0.5 0.0 0.5 0.0 0.5 0.0 0.5 0.0 0.5 0.0 0.5 0.0 0.5 0.0 0.5 0.0 0.5 0.0 0.5 0.0 0.5 0.0 0.5 0.0 0.5 0.0 0.5 0.0 0.5 0.0 0.5 0.0 0.5 0.0 0.5 0.0 0.5 0.0 0.5 0.0 0.5 0.0 0.5 0.0 0.5 0.0 0.5 0.0 0.5 0.0 0.5 0.0 0.5 0.0 0.5 0.0 0.5 0.0 0.5 0.0 0.5 0.0 0.5 0.0 0.5 0.0 0.5 0.0 0.5 0.0 0.5 0.0 0.5 0.0 0.5 0.0 0.5 0.0 0.5 0.0 0.5 0.0 0.5 0.0 0.5 0.0 0.5 0.0 0.5 0.0 0.5 0.0 0.5 0.0 0.5 0.0 0.5 0.0 0.5 0.0 0.5 0.0 0.5 0.0 0.5 0.0 0.5 0.0 0.5 0.0 0.5 0.0 0.5 0.0 0.5 0.0 0.5 0.0 0.5 0.0 0.5 0.0 0.5 0.0 0.5 0.0 0.5 0.0 0.5 0.0 0.5 0.0 0.5 0.0 0.5 0.0 0.5 0.0 0.5 0.0 0.5 0.0 0.5 0.0 0.5 0.0 0.5 0.0 0.5 0.0 0.5 0.0 0.5 0.0 0.5 0.0 0.5 0.0 0.5 0.0 0.5 0.0 0.5 0.0 0.5 0.0 0.5 0.0 0.5 0.0 0.5 0.0 0.5 0.0 0.5 0.0 0.5 0.0 0.5 0.0 0.5 0.0 0.5 0.0 0.5 0.0 0.5 0.0 0.5 0.0 0.5 0.0 0.5 0.0 0.5 0.0 0.5 0.0 0.5 0.0 0.5 0.0 0.5 0.0 0.5 0.0 0.5 0.0 0.5 0.0 0.5 0.0 0.5 0.0 0.5 0.0 0.5 0.0 0.5 0.0 0.5 0.0 0.5 0.0 0.5 0.0 0.5 0.0 0.5 0.0 0.5 0.0 0.5 0.0 0.5 0.0 0.5 0.0 0.5 0.0 0.5 0.0 0.5 0.0 0.5 0.0 0.5 0.0 0.5 -0.1 0.5 0.0 0.5 0.0 0.5 0.0 0.5 0.0 0.5 0.0 0.5 0.0 0.5 0.0 0.5 0.0 0.5 0.0 0.5 0.0 0.5 0.0 0.5 0.0 0.5 0.0 0.5 0.0 0.5 0.0 0.5 0.0 0.5 0.0 0.5 0.0 0.5 0.0 0.5 0.0 0.5 0.0 0.5 0.0 0.5 0.0 0.5 0.0 0.5 0.0 0.5 0.0 0.5 0.0 0.5 0.0 0.5 0.0 0.5 0.0 0.5 0.0 0.5 0.0 0.5 0.0 0.5 0.0 0.5 0.0 0.5 0.0 0.5 0.0 0.5 0.0 0.5 0.0 0.5 0.0 0.5 0.0 0.5 0.0 0.5 0.0 0.5 0.0 0.5 0.0 0.5 0.0 0.5 0.0 0.5 0.0 0.5 0.0 0.5 0.0 0.5 0.0 0.5 0.0 0.5 0.0 0.5 0.0 0.5 0.0 0.5 0.0 0.5 0.0 0.5 0.0 0.5 0.0 0.5 0.0 0.5 0.0 0.5 0.0 0.5 0.0 0.5 0.0 0.5 0.0 0.5 0.0 0.5 0.0 0.5 0.0 0.5 0.0 0.5 0.0 0.5 0.0 0.5 0.0 0.5 0.0 0.5 0.0 0.5 0.0 0.5 0.0 0.5 0.0 0.5 0.0 0.5 0.0 0.5 0.0 0.5 0.0 0.5 0.0 0.5 0.0 0.5 0.0 0.5 0.0 0.5 0.0 0.5 0.0 0.5 0.0 0.5 0.0 0.5 0.0 0.5 0.0 0.5 0.0 0.5 0.0 0.5 0.0 0.5 0.0 0.5 0.0 0.5 0.0 0.5 0.0 0.5 0.0 0.5 0.0 0.5 0.0 0.5 0.0 0.5 0.0 0.5 0.0 0.5 0.0 0.5 0.0 0.5 0.0 0.5 0.0 0.5 0.0 0.5 0.0 0.5 0.0 0.5 0.0 0.5 0.0 0.5 0.0 0.5 0.0 0.5 0.0 0.5 0.0 0.5 0.0 0.5 0.0 0.5 0.0 0.5 0.0 0.5 0.0 0.5 0.0 0.5 0.0 0.5 0.0 0.5 0.0 0.5 0.0 0.5 0.0 0.5 0.0 0.5 0.0 0.5 0.0 0.5 0.0 0.5 0.0 0.5 0.0 0.5 0.0 0.5 0.0 0.5 0.0 0.5 0.0 0.5 0.0 0.5 0.0 0.5 0.0 0.5 0.0 0.5 0.0 0.5 0.0 0.5 0.0 0.5 0.0 0.5 0.0 0.5 0.0 0.5 0.0" fill="none" stroke="#8c8c8c" stroke-width="2.6" stroke-linejoin="round" />
<path d="M64.0 176.6l0.5 0.0 0.5 0.0 0.5 0.0 0.5 0.0 0.5 0.0 0.5 0.0 0.5 0.0 0.5 0.0 0.5 0.0 0.5 0.0 0.5 0.0 0.5 0.0 0.5 0.0 0.5 0.0 0.5 0.0 0.5 0.0 0.5 0.0 0.5 0.0 0.5 0.0 0.5 0.0 0.5 0.0 0.5 0.0 0.5 0.0 0.5 0.0 0.5 0.0 0.5 0.0 0.5 0.0 0.5 0.0 0.5 0.0 0.5 0.0 0.5 0.0 0.5 0.0 0.5 0.0 0.5 0.0 0.5 0.0 0.5 0.0 0.5 0.0 0.5 0.0 0.5 0.0 0.5 0.0 0.5 0.0 0.5 0.0 0.5 0.0 0.5 0.0 0.5 0.0 0.5 0.0 0.5 0.0 0.5 0.0 0.5 0.0 0.5 0.0 0.5 0.0 0.5 0.0 0.5 0.0 0.5 0.0 0.5 0.0 0.5 0.0 0.5 0.0 0.5 0.0 0.5 0.0 0.5 0.0 0.5 0.0 0.5 0.0 0.5 0.0 0.5 0.0 0.5 0.0 0.5 0.0 0.5 0.0 0.5 0.0 0.5 0.0 0.5 0.0 0.5 0.0 0.5 0.0 0.5 0.0 0.5 0.0 0.5 0.0 0.5 0.0 0.5 0.0 0.5 0.0 0.5 0.0 0.5 0.0 0.5 0.0 0.5 0.0 0.5 0.0 0.5 0.0 0.5 0.0 0.5 0.0 0.5 0.0 0.5 0.0 0.5 0.0 0.5 0.0 0.5 0.0 0.5 0.0 0.5 0.0 0.5 0.0 0.5 0.0 0.5 0.0 0.5 0.0 0.5 0.0 0.5 0.0 0.5 0.0 0.5 0.0 0.5 0.0 0.5 0.0 0.5 0.0 0.5 0.0 0.5 0.0 0.5 0.0 0.5 0.0 0.5 0.0 0.5 0.0 0.5 0.0 0.5 0.0 0.5 0.0 0.5 0.0 0.5 0.0 0.5 0.0 0.5 0.0 0.5 0.0 0.5 0.0 0.5 0.0 0.5 0.0 0.5 0.0 0.5 0.0 0.5 0.0 0.5 0.0 0.5 0.0 0.5 0.0 0.5 0.0 0.5 0.0 0.5 0.0 0.5 0.0 0.5 0.0 0.5 0.0 0.5 0.0 0.5 0.0 0.5 0.0 0.5 0.0 0.5 0.0 0.5 0.0 0.5 0.0 0.5 0.0 0.5 0.0 0.5 0.0 0.5 0.0 0.5 0.0 0.5 0.0 0.5 0.0 0.5 0.0 0.5 0.0 0.5 0.0 0.5 0.0 0.5 0.0 0.5 0.0 0.5 0.0 0.5 0.0 0.5 0.0 0.5 0.0 0.5 0.0 0.5 0.0 0.5 0.0 0.5 0.0 0.5 0.0 0.5 0.0 0.5 0.0 0.5 0.0 0.5 0.0 0.5 0.0 0.5 0.0 0.5 0.0 0.5 0.0 0.5 0.0 0.5 0.0 0.5 0.0 0.5 0.0 0.5 0.0 0.5 0.0 0.5 0.0 0.5 0.0 0.5 0.0 0.5 0.0 0.5 0.0 0.5 0.0 0.5 0.0 0.5 0.0 0.5 0.0 0.5 0.0 0.5 0.0 0.5 0.0 0.5 0.0 0.5 0.0 0.5 0.0 0.5 0.0 0.5 0.0 0.5 0.0 0.5 0.0 0.5 0.0 0.5 0.0 0.5 0.0 0.5 0.0 0.5 0.0 0.5 0.0 0.5 0.0 0.5 0.0 0.5 0.0 0.5 0.0 0.5 0.0 0.5 0.0 0.5 0.0 0.5 0.0 0.5 0.0 0.5 0.0 0.5 0.0 0.5 0.0 0.5 0.0 0.5 0.0 0.5 0.0 0.5 0.0 0.5 0.0 0.5 0.0 0.5 0.0 0.5 0.0 0.5 0.0 0.5 0.0 0.5 0.0 0.5 0.0 0.5 0.0 0.5 0.0 0.5 0.0 0.5 0.0 0.5 0.0 0.5 0.0 0.5 0.0 0.5 0.0 0.5 0.0 0.5 0.0 0.5 0.0 0.5 0.0 0.5 0.0 0.5 0.0 0.5 0.0 0.5 0.0 0.5 0.0 0.5 0.0 0.5 0.0 0.5 0.0 0.5 0.0 0.5 0.0 0.5 0.0 0.5 0.0 0.5 0.0 0.5 0.0 0.5 0.0 0.5 0.0 0.5 0.0 0.5 0.0 0.5 0.0 0.5 0.0 0.5 0.0 0.5 0.0 0.5 0.0 0.5 0.0 0.5 0.0 0.5 0.0 0.5 0.0 0.5 0.0 0.5 0.0 0.5 0.0 0.5 0.0 0.5 0.0 0.5 0.0 0.5 0.0 0.5 0.0 0.5 0.0 0.5 0.0 0.5 0.0 0.5 0.0 0.5 0.0 0.5 0.0 0.5 0.0 0.5 0.0 0.5 0.0 0.5 0.0 0.5 0.0 0.5 0.0 0.5 0.0 0.5 0.0 0.5 0.0 0.5 0.0 0.5 0.0 0.5 0.0 0.5 0.0 0.5 0.0 0.5 0.0 0.5 0.0 0.5 0.0 0.5 0.0 0.5 0.0 0.5 0.0 0.5 0.0 0.5 0.0 0.5 0.0 0.5 0.0 0.5 0.0 0.5 0.0 0.5 0.0 0.5 0.0 0.5 0.0 0.5 0.0 0.5 0.0 0.5 0.0 0.5 0.0 0.5 0.0 0.5 0.0 0.5 0.0 0.5 0.0 0.5 0.0 0.5 0.0 0.5 0.0 0.5 0.0 0.5 0.0 0.5 0.0 0.5 0.0 0.5 0.0 0.5 0.0 0.5 0.0 0.5 0.0 0.5 0.0 0.5 0.0 0.5 0.0 0.5 0.0 0.5 0.0 0.5 0.0 0.5 0.0 0.5 0.0 0.5 0.0 0.5 0.0 0.5 0.0 0.5 0.0 0.5 0.0 0.5 0.0 0.5 0.0 0.5 0.0 0.5 0.0 0.5 0.0 0.5 0.0 0.5 0.0 0.5 0.0 0.5 0.0 0.5 0.0 0.5 0.0 0.5 0.0 0.5 0.0 0.5 0.0 0.5 0.0 0.5 0.0 0.5 0.0 0.5 0.0 0.5 0.0 0.5 0.0 0.5 0.0 0.5 0.0 0.5 0.0 0.5 0.0 0.5 0.0 0.5 0.0 0.5 0.0 0.5 0.0 0.5 0.0 0.5 0.0 0.5 0.0 0.5 0.0 0.5 0.0 0.5 0.0 0.5 0.0 0.5 0.0 0.5 0.0 0.5 0.0 0.5 0.0 0.5 0.0 0.5 0.0 0.5 0.0 0.5 0.0 0.5 0.0 0.5 0.0 0.5 0.0 0.5 0.0 0.5 0.0 0.5 0.0 0.5 0.0 0.5 0.0 0.5 0.0 0.5 0.0 0.5 0.0 0.5 0.0 0.5 0.0 0.5 0.0 0.5 0.0 0.5 0.0 0.5 0.0 0.5 0.0 0.5 0.0 0.5 0.0 0.5 0.0 0.5 0.0 0.5 0.0 0.5 0.0 0.5 0.0 0.5 0.0 0.5 0.0 0.5 0.0 0.5 0.0 0.5 0.0 0.5 0.0 0.5 -0.1 0.5 0.0 0.5 0.0 0.5 0.0 0.5 0.0 0.5 0.0 0.5 0.0 0.5 0.0 0.5 0.0 0.5 0.0 0.5 0.0 0.5 0.0 0.5 0.0 0.5 0.0 0.5 0.0 0.5 0.0 0.5 0.0 0.5 0.0 0.5 0.0 0.5 0.0 0.5 0.0 0.5 0.0 0.5 0.0 0.5 0.0 0.5 0.0 0.5 0.0 0.5 0.0 0.5 0.0 0.5 0.0 0.5 0.0 0.5 0.0 0.5 0.0 0.5 0.0 0.5 0.0 0.5 0.0 0.5 0.0 0.5 0.0 0.5 0.0 0.5 0.0 0.5 0.0 0.5 0.0 0.5 0.0 0.5 0.0 0.5 0.0 0.5 0.0 0.5 0.0 0.5 0.0 0.5 0.0 0.5 0.0 0.5 0.0 0.5 0.0 0.5 0.0 0.5 0.0 0.5 0.0 0.5 0.0 0.5 0.0 0.5 0.0 0.5 0.0 0.5 0.0 0.5 0.0 0.5 0.0 0.5 0.0 0.5 0.0 0.5 0.0 0.5 0.0 0.5 0.0 0.5 0.0 0.5 0.0 0.5 0.0 0.5 0.0 0.5 0.0 0.5 0.0 0.5 0.0 0.5 0.0 0.5 0.0 0.5 0.0 0.5 0.0 0.5 0.0 0.5 0.0 0.5 0.0 0.5 0.0 0.5 0.0 0.5 0.0 0.5 -0.1 0.5 0.0 0.5 0.0 0.5 0.0 0.5 0.0 0.5 0.0 0.5 0.0 0.5 0.0 0.5 0.0 0.5 0.0 0.5 0.0 0.5 0.0 0.5 0.0 0.5 0.0 0.5 0.0 0.5 0.0 0.5 0.0 0.5 0.0 0.5 0.0 0.5 0.0 0.5 0.0 0.5 0.0 0.5 0.0 0.5 0.0 0.5 0.0 0.5 0.0 0.5 -0.1 0.5 0.0 0.5 0.0 0.5 0.0 0.5 0.0 0.5 0.0 0.5 0.0 0.5 0.0 0.5 0.0 0.5 0.0 0.5 0.0 0.5 0.0 0.5 0.0 0.5 0.0 0.5 0.0 0.5 0.0 0.5 0.0 0.5 0.0 0.5 0.0 0.5 0.0 0.5 -0.1 0.5 0.0 0.5 0.0 0.5 0.0 0.5 0.0 0.5 0.0 0.5 0.0 0.5 0.0 0.5 0.0 0.5 0.0 0.5 0.0 0.5 0.0 0.5 0.0 0.5 0.0 0.5 0.0 0.5 0.0 0.5 0.0 0.5 0.0 0.5 0.0 0.5 -0.1 0.5 0.0 0.5 0.0 0.5 0.0 0.5 0.0 0.5 0.0 0.5 0.0 0.5 0.0 0.5 0.0 0.5 0.0 0.5 0.0 0.5 0.0 0.5 0.0 0.5 0.0 0.5 0.0 0.5 0.0 0.5 -0.1 0.5 0.0 0.5 0.0 0.5 0.0 0.5 0.0 0.5 0.0 0.5 0.0 0.5 0.0 0.5 0.0 0.5 0.0 0.5 0.0 0.5 -0.1 0.5 0.0 0.5 0.0 0.5 0.0 0.5 0.0 0.5 0.0 0.5 0.0 0.5 0.0 0.5 -0.1 0.5 0.0 0.5 0.0 0.5 0.0 0.5 0.0 0.5 0.0 0.5 -0.1 0.5 0.0 0.5 0.0 0.5 0.0 0.5 0.0 0.5 -0.1 0.5 0.0 0.5 -0.1 0.5 0.0 0.5 -0.1 0.5 0.0 0.5 -0.1 0.5 -0.1 0.5 -0.1 0.5 -0.1 0.5 -0.1 0.5 -0.1 0.5 -0.1 0.5 -0.1 0.5 -0.1 0.5 -0.1 0.5 -0.1 0.5 -0.1 0.5 -0.2 0.5 -0.1 0.5 -0.1 0.5 -0.2 0.5 -0.1 0.5 -0.2 0.5 -0.1 0.2 -0.1 0.2 -0.1 0.1 0.0 0.1 0.0 0.2 -0.1 0.2 -0.1 0.0 0.0 0.2 -0.1 0.2 -0.1 0.1 0.0 0.1 -0.1 0.2 -0.1 0.2 -0.1 0.0 0.0 0.2 -0.1 0.2 -0.1 0.1 -0.1 0.1 0.0 0.2 -0.1 0.2 -0.2 0.0 0.0 0.2 -0.1 0.2 -0.1 0.1 -0.1 0.1 -0.1 0.2 -0.1 0.2 -0.1 0.0 0.0 0.2 -0.2 0.2 -0.1 0.1 -0.1 0.1 -0.1 0.2 -0.1 0.2 -0.2 0.0 0.0 0.2 -0.2 0.2 -0.1 0.1 -0.1 0.1 -0.1 0.2 -0.2 0.2 -0.2 0.0 0.0 0.2 -0.2 0.2 -0.2 0.1 -0.1 0.1 -0.1 0.2 -0.3 0.2 -0.2 0.0 0.0 0.2 -0.3 0.2 -0.3 0.1 -0.1 0.1 -0.2 0.2 -0.3 0.2 -0.3 0.0 0.0 0.2 -0.3 0.2 -0.4 0.1 -0.1 0.1 -0.2 0.2 -0.4 0.2 -0.5 0.0 0.0 0.2 -0.4 0.2 -0.5 0.1 -0.3 0.1 -0.2 0.2 -0.6 0.2 -0.5 0.0 0.0 0.2 -0.6 0.2 -0.7 0.1 -0.3 0.1 -0.3 0.2 -0.7 0.2 -0.7 0.0 0.0 0.2 -0.8 0.2 -0.8 0.1 -0.4 0.1 -0.4 0.2 -0.8 0.2 -0.9 0.0 0.0 0.2 -0.9 0.2 -0.9 0.1 -0.5 0.1 -0.5 0.2 -1.1 0.2 -1.3 0.0 0.0 0.2 -1.3 0.2 -1.5 0.1 -0.7 0.1 -0.8 0.2 -1.7 0.2 -1.7 0.0 0.0 0.2 -1.8 0.2 -2.0 0.1 -0.9 0.1 -1.1 0.2 -2.0 0.2 -2.2 0.0 0.0 0.2 -2.2 0.2 -2.5 0.1 -1.4 0.1 -1.5 0.2 -3.2 0.2 -3.4 0.0 0.0 0.2 -3.6 0.2 -3.5 0.1 -1.8 0.1 -1.7 0.2 -3.3 0.2 -3.1 0.0 0.0 0.2 -3.4 0.2 -3.7 0.1 -1.9 0.1 -1.8 0.2 -3.6 0.2 -3.3 0.0 0.0 0.2 -2.7 0.2 -2.1 0.1 -0.6 0.1 -0.5 0.2 0.0 0.2 0.8 0.0 0.0 0.2 1.5 0.2 2.0 0.1 1.2 0.1 1.3 0.2 2.9 0.2 3.1 0.0 0.0 0.2 3.3 0.2 3.4 0.1 1.6 0.1 1.6 0.2 3.2 0.2 3.5 0.0 0.0 0.2 3.7 0.2 4.1 0.1 2.1 0.1 2.2 0.2 4.6 0.2 4.7 0.0 0.0 0.2 4.8 0.2 5.0 0.1 2.5 0.1 2.5 0.2 5.0 0.2 5.0 0.0 0.0 0.2 5.0 0.2 4.9 0.1 2.4 0.1 2.3 0.2 4.6 0.2 4.4 0.0 0.0 0.2 4.3 0.2 4.4 0.1 2.2 0.1 2.2 0.2 4.4 0.2 4.5 0.0 0.0 0.2 4.4 0.2 4.4 0.1 2.2 0.1 2.1 0.2 4.3 0.2 4.1 0.0 0.0 0.2 4.0 0.2 3.9 0.1 1.9 0.1 1.8 0.2 3.5 0.2 3.4 0.0 0.0 0.2 3.0 0.2 3.0 0.1 1.5 0.1 1.5 0.2 3.1 0.2 3.0 0.0 0.0 0.2 2.8 0.2 2.5 0.1 1.0 0.1 0.9 0.2 1.2 0.2 0.5 0.0 0.0 0.2 -0.3 0.2 -0.8 0.1 -0.6 0.1 -0.7 0.2 -1.6 0.2 -1.9 0.0 0.0 0.2 -2.2 0.2 -2.3 0.1 -1.2 0.1 -1.1 0.2 -2.4 0.2 -2.3 0.0 0.0 0.2 -2.1 0.2 -2.1 0.1 -1.2 0.1 -1.2 0.2 -2.4 0.2 -2.7 0.0 0.0 0.2 -2.6 0.2 -2.8 0.1 -1.3 0.1 -1.4 0.2 -2.7 0.2 -2.5 0.0 0.0 0.2 -2.5 0.2 -2.3 0.1 -1.1 0.1 -1.0 0.2 -1.8 0.2 -1.6 0.0 0.0 0.2 -1.4 0.2 -1.3 0.1 -0.7 0.1 -0.6 0.2 -1.3 0.2 -1.2 0.0 0.0 0.2 -1.2 0.2 -1.1 0.1 -0.5 0.1 -0.6 0.2 -1.0 0.2 -1.0 0.0 0.0 0.2 -1.0 0.2 -0.9 0.1 -0.4 0.1 -0.5 0.2 -0.8 0.2 -0.8 0.0 0.0 0.2 -0.7 0.2 -0.7 0.1 -0.3 0.1 -0.3 0.2 -0.6 0.2 -0.6 0.0 0.0 0.2 -0.5 0.2 -0.5 0.1 -0.2 0.1 -0.2 0.2 -0.5 0.2 -0.4 0.0 0.0 0.2 -0.4 0.2 -0.3 0.1 -0.2 0.1 -0.2 0.2 -0.3 0.2 -0.4 0.0 0.0 0.2 -0.3 0.2 -0.3 0.1 -0.1 0.1 -0.2 0.2 -0.2 0.2 -0.3 0.0 0.0 0.2 -0.3 0.2 -0.2 0.1 -0.1 0.1 -0.1 0.2 -0.3 0.2 -0.2 0.0 0.0 0.2 -0.2 0.2 -0.2 0.1 -0.2 0.1 -0.1 0.2 -0.2 0.2 -0.2 0.0 0.0 0.2 -0.2 0.2 -0.2 0.1 -0.1 0.1 -0.1 0.2 -0.2 0.2 -0.2 0.0 0.0 0.2 -0.2 0.2 -0.2 0.1 -0.1 0.1 -0.1 0.2 -0.1 0.2 -0.2 0.0 0.0 0.2 -0.1 0.2 -0.2 0.1 0.0 0.1 -0.1 0.2 -0.1 0.2 -0.1 0.0 0.0 0.2 -0.1 0.2 -0.1 0.1 0.0 0.1 0.0 0.2 -0.1 0.2 -0.1 0.0 0.0 0.2 0.0 0.2 -0.1 0.1 0.0 0.1 0.0 0.2 -0.1 0.2 0.0 0.0 0.0 0.2 -0.1 0.2 -0.1 0.1 0.0 0.1 0.0 0.2 -0.1 0.2 0.0 0.0 0.0 0.2 -0.1 0.2 0.0 0.1 0.0 0.1 -0.1 0.2 0.0 0.2 -0.1 0.5 -0.1 0.5 -0.1 0.5 -0.1 0.5 -0.1 0.5 -0.1 0.5 -0.1 0.5 -0.1 0.5 -0.1 0.5 0.0 0.5 -0.1 0.5 -0.1 0.5 -0.1 0.5 0.0 0.5 -0.1 0.5 0.0 0.5 -0.1 0.5 0.0 0.5 -0.1 0.5 0.0 0.5 0.0 0.5 -0.1 0.5 0.0 0.5 0.0 0.5 0.0 0.5 0.0 0.5 -0.1 0.5 0.0 0.5 0.0 0.5 0.0 0.5 0.0 0.5 0.0 0.5 -0.1 0.5 0.0 0.5 0.0 0.5 0.0 0.5 0.0 0.5 0.0 0.5 0.0 0.5 -0.1 0.5 0.0 0.5 0.0 0.5 0.0 0.5 0.0 0.5 0.0 0.5 0.0 0.5 0.0 0.5 0.0 0.5 -0.1 0.5 0.0 0.5 0.0 0.5 0.0 0.5 0.0 0.5 0.0 0.5 0.0 0.5 0.0 0.5 0.0 0.5 0.0 0.5 0.0 0.5 0.0 0.5 -0.1 0.5 0.0 0.5 0.0 0.5 0.0 0.5 0.0 0.5 0.0 0.5 0.0 0.5 0.0 0.5 0.0 0.5 0.0 0.5 0.0 0.5 0.0 0.5 0.0 0.5 0.0 0.5 0.0 0.5 0.0 0.5 0.0 0.5 0.0 0.5 0.0 0.5 0.0 0.5 0.0 0.5 0.0 0.5 0.0 0.5 0.0 0.5 0.0 0.5 0.0 0.5 0.0 0.5 0.0 0.5 0.0 0.5 0.0 0.5 0.0 0.5 0.0 0.5 0.0 0.5 0.0 0.5 0.0 0.5 0.0 0.5 0.0 0.5 0.0 0.5 0.0 0.5 0.0 0.5 0.0 0.5 0.0 0.5 0.0 0.5 0.0 0.5 0.0 0.5 0.0 0.5 -0.1 0.5 0.0 0.5 0.0 0.5 0.0 0.5 0.0 0.5 0.0 0.5 0.0 0.5 0.0 0.5 0.0 0.5 0.0 0.5 0.0 0.5 0.0 0.5 0.0 0.5 0.0 0.5 0.0 0.5 0.0 0.5 0.0 0.5 0.0 0.5 0.0 0.5 0.0 0.5 0.0 0.5 0.0 0.5 0.0 0.5 0.0 0.5 0.0 0.5 0.0 0.5 0.0 0.5 0.0 0.5 0.0 0.5 0.0 0.5 0.0 0.5 0.0 0.5 0.0 0.5 0.0 0.5 0.0 0.5 0.0 0.5 0.0 0.5 0.0 0.5 0.0 0.5 0.0 0.5 0.0 0.5 0.0 0.5 0.0 0.5 0.0 0.5 0.0 0.5 0.0 0.5 0.0 0.5 0.0 0.5 0.0 0.5 0.0 0.5 0.0 0.5 0.0 0.5 0.0 0.5 0.0 0.5 0.0 0.5 0.0 0.5 0.0 0.5 0.0 0.5 0.0 0.5 0.0 0.5 0.0 0.5 0.0 0.5 0.0 0.5 0.0 0.5 0.0 0.5 0.0 0.5 0.0 0.5 0.0 0.5 0.0 0.5 0.0 0.5 0.0 0.5 0.0 0.5 0.0 0.5 0.0 0.5 0.0 0.5 0.0 0.5 0.0 0.5 0.0 0.5 0.0 0.5 0.0 0.5 0.0 0.5 0.0 0.5 0.0 0.5 0.0 0.5 0.0 0.5 0.0 0.5 0.0 0.5 0.0 0.5 0.0 0.5 0.0 0.5 0.0 0.5 0.0 0.5 0.0 0.5 0.0 0.5 0.0 0.5 0.0 0.5 0.0 0.5 0.0 0.5 0.0 0.5 0.0 0.5 0.0 0.5 0.0 0.5 0.0 0.5 0.0 0.5 0.0 0.5 0.0 0.5 0.0 0.5 0.0 0.5 0.0 0.5 0.0 0.5 0.0 0.5 0.0 0.5 0.0 0.5 0.0 0.5 0.0 0.5 0.0 0.5 0.0 0.5 0.0 0.5 0.0 0.5 -0.1 0.5 0.0 0.5 0.0 0.5 0.0 0.5 0.0 0.5 0.0 0.5 0.0 0.5 0.0 0.5 0.0 0.5 0.0 0.5 0.0 0.5 0.0 0.5 0.0 0.5 0.0 0.5 0.0 0.5 0.0 0.5 0.0 0.5 0.0 0.5 0.0 0.5 0.0 0.5 0.0 0.5 0.0 0.5 0.0 0.5 0.0 0.5 0.0 0.5 0.0 0.5 0.0 0.5 0.0 0.5 0.0 0.5 0.0 0.5 0.0 0.5 0.0 0.5 0.0 0.5 0.0 0.5 0.0 0.5 0.0 0.5 0.0 0.5 0.0 0.5 0.0 0.5 0.0 0.5 0.0 0.5 0.0 0.5 0.0 0.5 0.0 0.5 0.0 0.5 0.0 0.5 0.0 0.5 0.0 0.5 0.0 0.5 0.0 0.5 0.0 0.5 0.0 0.5 0.0 0.5 0.0 0.5 0.0 0.5 0.0 0.5 0.0 0.5 0.0 0.5 0.0 0.5 0.0 0.5 0.0 0.5 0.0 0.5 0.0 0.5 0.0 0.5 0.0 0.5 0.0 0.5 0.0 0.5 0.0 0.5 0.0 0.5 0.0 0.5 0.0 0.5 0.0 0.5 0.0 0.5 0.0 0.5 0.0 0.5 0.0 0.5 0.0 0.5 0.0 0.5 0.0 0.5 0.0 0.5 0.0 0.5 0.0 0.5 0.0 0.5 0.0 0.5 0.0 0.5 0.0 0.5 0.0 0.5 0.0 0.5 0.0 0.5 0.0 0.5 0.0 0.5 0.0 0.5 0.0 0.5 0.0 0.5 0.0 0.5 0.0 0.5 0.0 0.5 0.0 0.5 0.0 0.5 0.0 0.5 0.0 0.5 0.0 0.5 0.0 0.5 0.0 0.5 0.0 0.5 0.0 0.5 0.0 0.5 0.0 0.5 0.0 0.5 0.0 0.5 0.0 0.5 0.0 0.5 0.0 0.5 0.0 0.5 0.0 0.5 0.0 0.5 0.0 0.5 0.0 0.5 0.0 0.5 0.0 0.5 0.0 0.5 0.0 0.5 0.0 0.5 0.0 0.5 0.0 0.5 0.0 0.5 0.0 0.5 0.0 0.5 0.0 0.5 0.0 0.5 0.0 0.5 0.0 0.5 0.0 0.5 0.0 0.5 0.0 0.5 0.0 0.5 0.0 0.5 0.0 0.5 0.0 0.5 0.0 0.5 0.0 0.5 0.0 0.5 0.0 0.5 0.0 0.5 0.0 0.5 0.0 0.5 0.0 0.5 0.0 0.5 0.0 0.5 0.0 0.5 0.0 0.5 0.0 0.5 0.0 0.5 0.0 0.5 0.0 0.5 0.0 0.5 0.0 0.5 0.0 0.5 0.0 0.5 0.0 0.5 0.0 0.5 0.0 0.5 0.0 0.5 0.0 0.5 0.0 0.5 0.0 0.5 0.0 0.5 0.0 0.5 0.0 0.5 0.0 0.5 0.0 0.5 0.0 0.5 0.0 0.5 0.0 0.5 0.0 0.5 0.0 0.5 0.0 0.5 0.0 0.5 0.0 0.5 0.0 0.5 0.0 0.5 0.0 0.5 0.0 0.5 0.0 0.5 0.0 0.5 0.0 0.5 0.0 0.5 0.0 0.5 0.0 0.5 0.0 0.5 0.0 0.5 0.0 0.5 0.0 0.5 0.0 0.5 0.0 0.5 0.0 0.5 0.0 0.5 0.0 0.5 0.0 0.5 0.0 0.5 0.0 0.5 0.0 0.5 0.0 0.5 0.0 0.5 0.0 0.5 0.0 0.5 0.0 0.5 0.0 0.5 0.0 0.5 0.0 0.5 0.0 0.5 0.0 0.5 0.0 0.5 0.0 0.5 0.0 0.5 0.0 0.5 0.0 0.5 0.0 0.5 0.0 0.5 0.0 0.5 -0.1 0.5 0.0 0.5 0.0 0.5 0.0 0.5 0.0 0.5 0.0 0.5 0.0 0.5 0.0 0.5 0.0 0.5 0.0 0.5 0.0 0.5 0.0 0.5 0.0 0.5 0.0 0.5 0.0 0.5 0.0 0.5 0.0 0.5 0.0 0.5 0.0 0.5 0.0 0.5 0.0 0.5 0.0 0.5 0.0 0.5 0.0 0.5 0.0 0.5 0.0 0.5 0.0 0.5 0.0 0.5 0.0 0.5 0.0 0.5 0.0 0.5 0.0 0.5 0.0 0.5 0.0 0.5 0.0 0.5 0.0 0.5 0.0 0.5 0.0 0.5 0.0 0.5 0.0 0.5 0.0 0.5 0.0 0.5 0.0 0.5 0.0 0.5 0.0 0.5 0.0 0.5 0.0 0.5 0.0 0.5 0.0 0.5 0.0 0.5 0.0 0.5 0.0 0.5 0.0 0.5 0.0 0.5 0.0 0.5 0.0 0.5 0.0 0.5 0.0 0.5 0.0 0.5 0.0 0.5 0.0 0.5 0.0 0.5 0.0 0.5 0.0 0.5 0.0 0.5 0.0 0.5 0.0 0.5 0.0 0.5 0.0 0.5 0.0 0.5 0.0 0.5 0.0 0.5 0.0 0.5 0.0 0.5 0.0 0.5 0.0 0.5 0.0 0.5 0.0 0.5 0.0 0.5 0.0 0.5 0.0 0.5 0.0 0.5 0.0 0.5 0.0 0.5 0.0 0.5 0.0 0.5 0.0 0.5 0.0 0.5 0.0 0.5 0.0 0.5 0.0 0.5 0.0 0.5 0.0 0.5 0.0 0.5 0.0 0.5 0.0 0.5 0.0 0.5 0.0 0.5 0.0 0.5 0.0 0.5 0.0 0.5 0.0 0.5 0.0 0.5 0.0 0.5 0.0 0.5 0.0 0.5 0.0 0.5 0.0 0.5 0.0 0.5 0.0 0.5 0.0 0.5 0.0 0.5 0.0 0.5 0.0 0.5 0.0 0.5 0.0 0.5 0.0 0.5 0.0 0.5 0.0 0.5 0.0 0.5 0.0 0.5 0.0 0.5 0.0 0.5 0.0 0.5 0.0 0.5 0.0 0.5 0.0 0.5 0.0 0.5 0.0 0.5 0.0 0.5 0.0 0.5 0.0 0.5 0.0 0.5 0.0 0.5 0.0 0.5 0.0 0.5 0.0 0.5 0.0 0.5 0.0 0.5 0.0 0.5 0.0 0.5 0.0 0.5 0.0 0.5 0.0 0.5 0.0 0.5 0.0 0.5 0.0 0.5 0.0 0.5 0.0 0.5 0.0" fill="none" stroke="#000" stroke-width="2.0" stroke-linejoin="round" stroke-dasharray="9.3 8.7" stroke-dashoffset="1.2"/>
<path d="M64.0 384.6l0.5 0.0 0.5 0.0 0.5 0.0 0.5 0.0 0.5 0.0 0.5 0.0 0.5 0.0 0.5 0.0 0.5 0.0 0.5 0.0 0.5 0.0 0.5 0.0 0.5 0.0 0.5 0.0 0.5 0.0 0.5 0.0 0.5 0.0 0.5 0.0 0.5 0.0 0.5 0.0 0.5 0.0 0.5 0.0 0.5 0.0 0.5 0.0 0.5 0.0 0.5 0.0 0.5 0.0 0.5 0.0 0.5 0.0 0.5 0.0 0.5 0.0 0.5 0.0 0.5 0.0 0.5 0.0 0.5 0.0 0.5 0.0 0.5 0.0 0.5 0.0 0.5 0.0 0.5 0.0 0.5 0.0 0.5 0.0 0.5 0.0 0.5 0.0 0.5 0.0 0.5 0.0 0.5 0.0 0.5 0.0 0.5 0.0 0.5 0.0 0.5 0.0 0.5 0.0 0.5 0.0 0.5 0.0 0.5 0.0 0.5 0.0 0.5 0.0 0.5 0.0 0.5 0.0 0.5 0.0 0.5 0.0 0.5 0.0 0.5 0.0 0.5 0.0 0.5 0.0 0.5 0.0 0.5 0.0 0.5 0.0 0.5 0.0 0.5 0.0 0.5 0.0 0.5 0.0 0.5 0.0 0.5 0.0 0.5 0.0 0.5 0.0 0.5 0.0 0.5 0.0 0.5 0.0 0.5 0.0 0.5 0.0 0.5 0.0 0.5 0.0 0.5 0.0 0.5 0.0 0.5 0.0 0.5 0.0 0.5 0.0 0.5 0.0 0.5 0.0 0.5 0.0 0.5 0.0 0.5 0.0 0.5 0.0 0.5 0.0 0.5 0.0 0.5 0.0 0.5 0.0 0.5 0.0 0.5 0.0 0.5 0.0 0.5 0.0 0.5 0.0 0.5 0.0 0.5 0.0 0.5 0.0 0.5 0.0 0.5 0.0 0.5 0.0 0.5 0.0 0.5 0.0 0.5 0.0 0.5 0.0 0.5 0.0 0.5 0.0 0.5 0.0 0.5 0.0 0.5 0.0 0.5 0.0 0.5 0.0 0.5 0.0 0.5 0.0 0.5 0.0 0.5 0.0 0.5 0.0 0.5 0.0 0.5 0.0 0.5 0.0 0.5 0.0 0.5 0.0 0.5 0.0 0.5 0.0 0.5 0.0 0.5 0.0 0.5 0.0 0.5 0.0 0.5 0.0 0.5 0.0 0.5 0.0 0.5 0.0 0.5 0.0 0.5 0.0 0.5 0.0 0.5 0.0 0.5 0.0 0.5 0.0 0.5 0.0 0.5 0.0 0.5 0.0 0.5 0.0 0.5 0.0 0.5 0.0 0.5 0.0 0.5 0.0 0.5 0.0 0.5 0.0 0.5 0.0 0.5 0.0 0.5 0.0 0.5 0.0 0.5 0.0 0.5 0.0 0.5 0.0 0.5 0.0 0.5 0.0 0.5 0.0 0.5 0.0 0.5 0.0 0.5 0.0 0.5 0.0 0.5 0.0 0.5 0.0 0.5 0.0 0.5 0.0 0.5 0.0 0.5 0.0 0.5 0.0 0.5 0.0 0.5 0.0 0.5 0.0 0.5 0.0 0.5 0.0 0.5 0.0 0.5 0.0 0.5 0.0 0.5 0.0 0.5 0.0 0.5 0.0 0.5 0.0 0.5 0.0 0.5 0.0 0.5 0.0 0.5 0.0 0.5 0.0 0.5 0.0 0.5 0.0 0.5 0.0 0.5 0.0 0.5 0.0 0.5 0.0 0.5 0.0 0.5 0.0 0.5 0.0 0.5 0.0 0.5 0.0 0.5 0.0 0.5 0.0 0.5 0.0 0.5 0.0 0.5 0.0 0.5 0.0 0.5 0.0 0.5 0.0 0.5 0.0 0.5 0.0 0.5 0.0 0.5 0.0 0.5 0.0 0.5 0.0 0.5 0.0 0.5 0.0 0.5 0.0 0.5 0.0 0.5 0.0 0.5 0.0 0.5 0.0 0.5 0.0 0.5 0.0 0.5 0.0 0.5 0.0 0.5 0.0 0.5 0.0 0.5 0.0 0.5 0.0 0.5 0.0 0.5 0.0 0.5 0.0 0.5 0.0 0.5 0.0 0.5 0.0 0.5 0.0 0.5 0.0 0.5 0.0 0.5 0.0 0.5 0.0 0.5 0.0 0.5 0.0 0.5 0.0 0.5 0.0 0.5 0.0 0.5 0.0 0.5 0.0 0.5 0.0 0.5 0.0 0.5 0.0 0.5 0.0 0.5 0.0 0.5 0.0 0.5 0.0 0.5 0.0 0.5 0.0 0.5 0.0 0.5 0.0 0.5 0.0 0.5 0.0 0.5 0.0 0.5 0.0 0.5 0.0 0.5 0.0 0.5 0.0 0.5 0.0 0.5 0.0 0.5 0.0 0.5 0.0 0.5 0.0 0.5 0.0 0.5 0.0 0.5 0.0 0.5 0.0 0.5 0.0 0.5 0.0 0.5 0.0 0.5 0.0 0.5 0.0 0.5 0.0 0.5 0.0 0.5 0.0 0.5 0.0 0.5 0.0 0.5 0.0 0.5 0.0 0.5 0.0 0.5 0.0 0.5 0.0 0.5 0.0 0.5 0.0 0.5 0.0 0.5 0.0 0.5 0.0 0.5 0.0 0.5 0.0 0.5 0.0 0.5 0.0 0.5 0.0 0.5 0.0 0.5 0.0 0.5 0.0 0.5 0.0 0.5 0.0 0.5 0.0 0.5 0.0 0.5 0.0 0.5 0.0 0.5 0.0 0.5 0.0 0.5 0.0 0.5 0.0 0.5 0.0 0.5 0.0 0.5 0.0 0.5 0.0 0.5 0.0 0.5 0.0 0.5 0.0 0.5 0.0 0.5 0.0 0.5 0.0 0.5 0.0 0.5 0.0 0.5 0.0 0.5 0.0 0.5 0.0 0.5 0.0 0.5 0.0 0.5 0.0 0.5 0.0 0.5 0.0 0.5 0.0 0.5 0.0 0.5 0.0 0.5 0.0 0.5 0.0 0.5 0.0 0.5 0.0 0.5 0.0 0.5 0.0 0.5 0.0 0.5 0.0 0.5 0.0 0.5 -0.1 0.5 0.0 0.5 0.0 0.5 0.0 0.5 0.0 0.5 0.0 0.5 0.0 0.5 0.0 0.5 0.0 0.5 0.0 0.5 0.0 0.5 0.0 0.5 0.0 0.5 0.0 0.5 0.0 0.5 0.0 0.5 0.0 0.5 0.0 0.5 0.0 0.5 0.0 0.5 0.0 0.5 0.0 0.5 0.0 0.5 0.0 0.5 0.0 0.5 0.0 0.5 0.0 0.5 0.0 0.5 0.0 0.5 0.0 0.5 0.0 0.5 0.0 0.5 0.0 0.5 0.0 0.5 0.0 0.5 0.0 0.5 0.0 0.5 0.0 0.5 0.0 0.5 0.0 0.5 0.0 0.5 0.0 0.5 0.0 0.5 0.0 0.5 0.0 0.5 0.0 0.5 0.0 0.5 0.0 0.5 0.0 0.5 0.0 0.5 0.0 0.5 0.0 0.5 0.0 0.5 0.0 0.5 0.0 0.5 0.0 0.5 0.0 0.5 0.0 0.5 0.0 0.5 0.0 0.5 0.0 0.5 0.0 0.5 0.0 0.5 0.0 0.5 0.0 0.5 0.0 0.5 0.0 0.5 0.0 0.5 0.0 0.5 0.0 0.5 0.0 0.5 0.0 0.5 0.0 0.5 0.0 0.5 0.0 0.5 0.0 0.5 0.0 0.5 0.0 0.5 0.0 0.5 0.0 0.5 0.0 0.5 0.0 0.5 0.0 0.5 0.0 0.5 0.0 0.5 0.0 0.5 0.0 0.5 0.0 0.5 0.0 0.5 0.0 0.5 0.0 0.5 0.0 0.5 0.0 0.5 0.0 0.5 0.0 0.5 0.0 0.5 0.0 0.5 0.0 0.5 0.0 0.5 0.0 0.5 0.0 0.5 0.0 0.5 0.0 0.5 0.0 0.5 0.0 0.5 0.0 0.5 0.0 0.5 0.0 0.5 0.0 0.5 0.0 0.5 0.0 0.5 0.0 0.5 0.0 0.5 0.0 0.5 0.0 0.5 0.0 0.5 0.0 0.5 0.0 0.5 0.0 0.5 0.0 0.5 0.0 0.5 0.0 0.5 0.0 0.5 0.0 0.5 0.0 0.5 0.0 0.5 0.0 0.5 0.0 0.5 0.0 0.5 0.0 0.5 0.0 0.5 0.0 0.5 0.0 0.5 0.0 0.5 0.0 0.5 0.0 0.5 0.0 0.5 0.0 0.5 0.0 0.5 0.0 0.5 0.0 0.5 0.0 0.5 0.0 0.5 0.0 0.5 0.0 0.5 0.0 0.5 0.0 0.5 0.0 0.5 0.0 0.5 0.0 0.5 0.0 0.5 0.0 0.5 0.0 0.5 0.0 0.5 0.0 0.5 -0.1 0.5 0.0 0.5 0.0 0.5 0.0 0.5 0.0 0.5 0.0 0.5 0.0 0.5 0.0 0.5 0.0 0.5 0.0 0.5 0.0 0.5 0.0 0.5 0.0 0.5 0.0 0.5 0.0 0.5 0.0 0.5 0.0 0.5 0.0 0.5 0.0 0.5 0.0 0.5 0.0 0.5 0.0 0.5 0.0 0.5 0.0 0.5 -0.1 0.5 0.0 0.5 0.0 0.5 0.0 0.5 0.0 0.5 0.0 0.5 0.0 0.5 0.0 0.5 0.0 0.5 0.0 0.5 0.0 0.5 0.0 0.5 0.0 0.5 0.0 0.5 0.0 0.5 0.0 0.5 -0.1 0.5 0.0 0.5 0.0 0.5 0.0 0.5 0.0 0.5 0.0 0.5 0.0 0.5 0.0 0.5 0.0 0.5 0.0 0.5 0.0 0.5 0.0 0.5 -0.1 0.5 0.0 0.5 0.0 0.5 0.0 0.5 0.0 0.5 0.0 0.5 0.0 0.5 0.0 0.5 0.0 0.5 -0.1 0.5 0.0 0.5 0.0 0.5 0.0 0.5 0.0 0.5 0.0 0.5 0.0 0.5 0.0 0.5 0.0 0.5 -0.1 0.5 0.0 0.5 0.0 0.5 0.0 0.5 0.0 0.5 0.0 0.5 0.0 0.5 0.0 0.5 -0.1 0.5 0.0 0.5 0.0 0.5 0.0 0.5 0.0 0.5 0.0 0.5 -0.1 0.5 0.0 0.5 0.0 0.5 0.0 0.5 0.0 0.5 0.0 0.5 0.0 0.5 -0.1 0.5 0.0 0.5 0.0 0.5 0.0 0.5 0.0 0.5 -0.1 0.5 0.0 0.5 0.0 0.5 0.0 0.5 0.0 0.5 0.0 0.5 -0.1 0.5 0.0 0.5 0.0 0.5 0.0 0.5 0.0 0.5 -0.1 0.5 0.0 0.5 0.0 0.5 0.0 0.5 0.0 0.5 -0.1 0.5 0.0 0.5 0.0 0.5 0.0 0.5 -0.1 0.5 -0.1 0.5 -0.1 0.5 -0.1 0.5 -0.1 0.5 -0.2 0.5 -0.1 0.5 -0.2 0.5 -0.2 0.5 -0.2 0.5 -0.2 0.5 -0.2 0.2 -0.1 0.2 -0.2 0.1 0.0 0.1 -0.1 0.2 -0.1 0.2 -0.1 0.0 0.0 0.2 -0.1 0.2 -0.1 0.1 -0.1 0.1 0.0 0.2 -0.1 0.2 -0.1 0.0 0.0 0.2 -0.2 0.2 -0.1 0.1 -0.1 0.1 0.0 0.2 -0.1 0.2 -0.2 0.0 0.0 0.2 -0.1 0.2 -0.1 0.1 -0.1 0.1 -0.1 0.2 -0.1 0.2 -0.2 0.0 0.0 0.2 -0.1 0.2 -0.2 0.1 0.0 0.1 -0.1 0.2 -0.1 0.2 -0.2 0.0 0.0 0.2 -0.2 0.2 -0.1 0.1 -0.1 0.1 -0.1 0.2 -0.3 0.2 -0.2 0.0 0.0 0.2 -0.3 0.2 -0.3 0.1 -0.1 0.1 -0.2 0.2 -0.3 0.2 -0.3 0.0 0.0 0.2 -0.4 0.2 -0.3 0.1 -0.2 0.1 -0.2 0.2 -0.4 0.2 -0.4 0.0 0.0 0.2 -0.4 0.2 -0.5 0.1 -0.2 0.1 -0.2 0.2 -0.5 0.2 -0.5 0.0 0.0 0.2 -0.5 0.2 -0.5 0.1 -0.3 0.1 -0.2 0.2 -0.6 0.2 -0.5 0.0 0.0 0.2 -0.6 0.2 -0.5 0.1 -0.3 0.1 -0.3 0.2 -0.6 0.2 -0.6 0.0 0.0 0.2 -0.6 0.2 -0.7 0.1 -0.4 0.1 -0.3 0.2 -0.8 0.2 -0.8 0.0 0.0 0.2 -0.8 0.2 -0.9 0.1 -0.4 0.1 -0.5 0.2 -1.0 0.2 -1.0 0.0 0.0 0.2 -1.0 0.2 -1.1 0.1 -0.6 0.1 -0.6 0.2 -1.2 0.2 -1.3 0.0 0.0 0.2 -1.3 0.2 -1.4 0.1 -0.7 0.1 -0.7 0.2 -1.5 0.2 -1.5 0.0 0.0 0.2 -1.8 0.2 -2.2 0.1 -1.2 0.1 -1.3 0.2 -2.7 0.2 -3.0 0.0 0.0 0.2 -3.1 0.2 -3.2 0.1 -1.6 0.1 -1.5 0.2 -3.2 0.2 -3.0 0.0 0.0 0.2 -2.9 0.2 -2.6 0.1 -1.3 0.1 -1.3 0.2 -2.9 0.2 -3.0 0.0 0.0 0.2 -3.0 0.2 -2.9 0.1 -1.4 0.1 -1.2 0.2 -2.3 0.2 -1.7 0.0 0.0 0.2 -1.2 0.2 -0.4 0.1 0.1 0.1 0.4 0.2 1.3 0.2 2.0 0.0 0.0 0.2 2.6 0.2 3.2 0.1 1.6 0.1 1.8 0.2 3.7 0.2 3.7 0.0 0.0 0.2 3.8 0.2 3.5 0.1 1.7 0.1 1.6 0.2 3.2 0.2 3.5 0.0 0.0 0.2 3.6 0.2 3.8 0.1 1.9 0.1 1.9 0.2 3.8 0.2 3.8 0.0 0.0 0.2 3.7 0.2 3.5 0.1 1.7 0.1 1.7 0.2 3.1 0.2 2.7 0.0 0.0 0.2 2.5 0.2 2.2 0.1 1.1 0.1 1.0 0.2 2.0 0.2 1.9 0.0 0.0 0.2 1.7 0.2 1.8 0.1 0.8 0.1 0.9 0.2 1.6 0.2 1.7 0.0 0.0 0.2 1.7 0.2 1.8 0.1 1.0 0.1 0.9 0.2 1.9 0.2 2.0 0.0 0.0 0.2 1.9 0.2 2.0 0.1 0.9 0.1 1.0 0.2 2.0 0.2 2.0 0.0 0.0 0.2 2.0 0.2 2.0 0.1 1.0 0.1 0.9 0.2 1.9 0.2 1.9 0.0 0.0 0.2 1.9 0.2 2.0 0.1 1.1 0.1 1.2 0.2 2.4 0.2 2.7 0.0 0.0 0.2 3.3 0.2 3.7 0.1 2.0 0.1 2.1 0.2 4.2 0.2 4.4 0.0 0.0 0.2 4.2 0.2 4.2 0.1 1.9 0.1 1.9 0.2 4.1 0.2 4.5 0.0 0.0 0.2 4.4 0.2 3.5 0.1 1.3 0.1 0.8 0.2 0.2 0.2 -0.7 0.0 0.0 0.2 -1.4 0.2 -1.9 0.1 -1.0 0.1 -1.2 0.2 -2.5 0.2 -2.6 0.0 0.0 0.2 -2.7 0.2 -2.5 0.1 -1.2 0.1 -1.1 0.2 -2.3 0.2 -2.4 0.0 0.0 0.2 -2.5 0.2 -2.7 0.1 -1.3 0.1 -1.4 0.2 -2.7 0.2 -2.7 0.0 0.0 0.2 -2.6 0.2 -2.6 0.1 -1.2 0.1 -1.2 0.2 -2.3 0.2 -2.0 0.0 0.0 0.2 -1.9 0.2 -1.5 0.1 -0.7 0.1 -0.7 0.2 -1.3 0.2 -1.3 0.0 0.0 0.2 -1.3 0.2 -1.2 0.1 -0.6 0.1 -0.6 0.2 -1.1 0.2 -1.1 0.0 0.0 0.2 -1.0 0.2 -1.0 0.1 -0.5 0.1 -0.5 0.2 -0.9 0.2 -0.9 0.0 0.0 0.2 -0.8 0.2 -0.8 0.1 -0.4 0.1 -0.3 0.2 -0.7 0.2 -0.7 0.0 0.0 0.2 -0.6 0.2 -0.5 0.1 -0.3 0.1 -0.2 0.2 -0.5 0.2 -0.4 0.0 0.0 0.2 -0.5 0.2 -0.4 0.1 -0.2 0.1 -0.2 0.2 -0.5 0.2 -0.4 0.0 0.0 0.2 -0.4 0.2 -0.4 0.1 -0.2 0.1 -0.1 0.2 -0.4 0.2 -0.4 0.0 0.0 0.2 -0.3 0.2 -0.4 0.1 -0.1 0.1 -0.2 0.2 -0.3 0.2 -0.3 0.0 0.0 0.2 -0.3 0.2 -0.3 0.1 -0.1 0.1 -0.1 0.2 -0.3 0.2 -0.2 0.0 0.0 0.2 -0.3 0.2 -0.2 0.1 -0.1 0.1 -0.1 0.2 -0.2 0.2 -0.2 0.0 0.0 0.2 -0.2 0.2 -0.2 0.1 0.0 0.1 -0.1 0.2 -0.2 0.2 -0.1 0.0 0.0 0.2 -0.1 0.2 -0.1 0.1 -0.1 0.1 0.0 0.2 -0.1 0.2 -0.1 0.0 0.0 0.2 -0.1 0.2 -0.1 0.1 -0.1 0.1 0.0 0.2 -0.1 0.2 -0.1 0.5 -0.3 0.5 -0.2 0.5 -0.2 0.5 -0.2 0.5 -0.2 0.5 -0.2 0.5 -0.2 0.5 -0.1 0.5 -0.2 0.5 -0.1 0.5 -0.2 0.5 -0.1 0.5 -0.1 0.5 -0.1 0.5 -0.1 0.5 -0.1 0.5 -0.1 0.5 0.0 0.5 -0.1 0.5 0.0 0.5 0.0 0.5 -0.1 0.5 0.0 0.5 0.0 0.5 -0.1 0.5 0.0 0.5 0.0 0.5 -0.1 0.5 0.0 0.5 0.0 0.5 -0.1 0.5 0.0 0.5 0.0 0.5 0.0 0.5 -0.1 0.5 0.0 0.5 0.0 0.5 0.0 0.5 -0.1 0.5 0.0 0.5 0.0 0.5 0.0 0.5 -0.1 0.5 0.0 0.5 0.0 0.5 0.0 0.5 -0.1 0.5 0.0 0.5 0.0 0.5 0.0 0.5 0.0 0.5 -0.1 0.5 0.0 0.5 0.0 0.5 0.0 0.5 0.0 0.5 -0.1 0.5 0.0 0.5 0.0 0.5 0.0 0.5 0.0 0.5 0.0 0.5 0.0 0.5 -0.1 0.5 0.0 0.5 0.0 0.5 0.0 0.5 0.0 0.5 0.0 0.5 0.0 0.5 0.0 0.5 -0.1 0.5 0.0 0.5 0.0 0.5 0.0 0.5 0.0 0.5 0.0 0.5 0.0 0.5 0.0 0.5 0.0 0.5 0.0 0.5 0.0 0.5 0.0 0.5 -0.1 0.5 0.0 0.5 0.0 0.5 0.0 0.5 0.0 0.5 0.0 0.5 0.0 0.5 0.0 0.5 0.0 0.5 0.0 0.5 0.0 0.5 0.0 0.5 0.0 0.5 0.0 0.5 0.0 0.5 0.0 0.5 0.0 0.5 0.0 0.5 0.0 0.5 0.0 0.5 0.0 0.5 0.0 0.5 0.0 0.5 0.0 0.5 0.0 0.5 0.0 0.5 0.0 0.5 0.0 0.5 0.0 0.5 0.0 0.5 0.0 0.5 0.0 0.5 0.0 0.5 0.0 0.5 0.0 0.5 0.0 0.5 0.0 0.5 0.0 0.5 0.0 0.5 0.0 0.5 0.0 0.5 0.0 0.5 0.0 0.5 0.0 0.5 0.0 0.5 0.0 0.5 0.0 0.5 0.0 0.5 0.0 0.5 0.0 0.5 0.0 0.5 0.0 0.5 0.0 0.5 0.0 0.5 0.0 0.5 0.0 0.5 0.0 0.5 0.0 0.5 0.0 0.5 0.0 0.5 0.0 0.5 0.0 0.5 0.0 0.5 0.0 0.5 0.0 0.5 0.0 0.5 0.0 0.5 0.0 0.5 0.0 0.5 0.0 0.5 0.0 0.5 0.0 0.5 0.0 0.5 0.0 0.5 0.0 0.5 0.0 0.5 0.0 0.5 0.0 0.5 0.0 0.5 0.0 0.5 0.0 0.5 0.0 0.5 0.0 0.5 0.0 0.5 0.0 0.5 0.0 0.5 0.0 0.5 0.0 0.5 0.0 0.5 0.0 0.5 0.0 0.5 0.0 0.5 0.0 0.5 0.0 0.5 0.0 0.5 0.0 0.5 0.0 0.5 0.0 0.5 0.0 0.5 0.0 0.5 0.0 0.5 0.0 0.5 0.0 0.5 0.0 0.5 0.0 0.5 0.0 0.5 0.0 0.5 0.0 0.5 0.0 0.5 0.0 0.5 0.0 0.5 0.0 0.5 0.0 0.5 0.0 0.5 0.0 0.5 0.0 0.5 0.0 0.5 0.0 0.5 0.0 0.5 0.0 0.5 0.0 0.5 0.0 0.5 0.0 0.5 0.0 0.5 0.0 0.5 0.0 0.5 0.0 0.5 0.0 0.5 0.0 0.5 0.0 0.5 0.0 0.5 0.0 0.5 0.0 0.5 0.0 0.5 0.0 0.5 0.0 0.5 0.0 0.5 0.0 0.5 0.0 0.5 0.0 0.5 0.0 0.5 0.0 0.5 0.0 0.5 0.0 0.5 0.0 0.5 0.0 0.5 0.0 0.5 0.0 0.5 0.0 0.5 0.0 0.5 0.0 0.5 0.0 0.5 0.0 0.5 0.0 0.5 0.0 0.5 0.0 0.5 0.0 0.5 0.0 0.5 0.0 0.5 0.0 0.5 0.0 0.5 0.0 0.5 0.0 0.5 0.0 0.5 0.0 0.5 0.0 0.5 0.0 0.5 0.0 0.5 0.0 0.5 0.0 0.5 0.0 0.5 0.0 0.5 0.0 0.5 0.0 0.5 0.0 0.5 0.0 0.5 0.0 0.5 0.0 0.5 0.0 0.5 0.0 0.5 0.0 0.5 0.0 0.5 0.0 0.5 0.0 0.5 0.0 0.5 0.0 0.5 0.0 0.5 0.0 0.5 0.0 0.5 0.0 0.5 0.0 0.5 0.0 0.5 0.0 0.5 0.0 0.5 0.0 0.5 0.0 0.5 0.0 0.5 0.0 0.5 0.0 0.5 0.0 0.5 0.0 0.5 0.0 0.5 0.0 0.5 0.0 0.5 0.0 0.5 0.0 0.5 0.0 0.5 0.0 0.5 0.0 0.5 0.0 0.5 0.0 0.5 0.0 0.5 0.0 0.5 0.0 0.5 0.0 0.5 0.0 0.5 0.0 0.5 0.0 0.5 0.0 0.5 0.0 0.5 0.0 0.5 0.0 0.5 0.0 0.5 0.0 0.5 0.0 0.5 0.0 0.5 0.0 0.5 0.0 0.5 0.0 0.5 0.0 0.5 0.0 0.5 0.0 0.5 0.0 0.5 0.0 0.5 0.0 0.5 0.0 0.5 0.0 0.5 0.0 0.5 0.0 0.5 0.0 0.5 0.0 0.5 0.0 0.5 0.0 0.5 0.0 0.5 0.0 0.5 0.0 0.5 0.0 0.5 0.0 0.5 0.0 0.5 0.0 0.5 0.0 0.5 0.0 0.5 0.0 0.5 0.0 0.5 0.0 0.5 0.0 0.5 0.0 0.5 0.0 0.5 0.0 0.5 0.0 0.5 0.0 0.5 0.0 0.5 0.0 0.5 0.0 0.5 0.0 0.5 0.0 0.5 0.0 0.5 0.0 0.5 0.0 0.5 0.0 0.5 0.0 0.5 0.0 0.5 0.0 0.5 0.0 0.5 0.0 0.5 0.0 0.5 0.0 0.5 0.0 0.5 0.0 0.5 0.0 0.5 0.0 0.5 0.0 0.5 0.0 0.5 0.0 0.5 0.0 0.5 0.0 0.5 0.0 0.5 0.0 0.5 0.0 0.5 0.0 0.5 0.0 0.5 0.0 0.5 0.0 0.5 0.0 0.5 0.0 0.5 0.0 0.5 0.0 0.5 0.0 0.5 0.0 0.5 0.0 0.5 0.0 0.5 0.0 0.5 0.0 0.5 0.0 0.5 0.0 0.5 0.0 0.5 0.0 0.5 0.0 0.5 0.0 0.5 0.0 0.5 0.0 0.5 0.0 0.5 0.0 0.5 0.0 0.5 0.0 0.5 0.0 0.5 0.0 0.5 0.0 0.5 0.0 0.5 0.0 0.5 0.0 0.5 0.0 0.5 0.0 0.5 0.0 0.5 0.0 0.5 0.0 0.5 0.0 0.5 0.0 0.5 0.0 0.5 0.0 0.5 0.0 0.5 0.0 0.5 0.0 0.5 0.0 0.5 0.0 0.5 0.0 0.5 0.0 0.5 0.0 0.5 0.0 0.5 0.0 0.5 0.0 0.5 0.0 0.5 0.0 0.5 0.0 0.5 0.0 0.5 0.0 0.5 0.0 0.5 0.0 0.5 0.0 0.5 0.0 0.5 0.0 0.5 0.0 0.5 0.0 0.5 0.0 0.5 0.0 0.5 0.0 0.5 0.0 0.5 0.0 0.5 0.0 0.5 0.0 0.5 0.0 0.5 0.0 0.5 0.0 0.5 0.0 0.5 0.0 0.5 0.0 0.5 0.0 0.5 0.0 0.5 0.0 0.5 0.0 0.5 0.0 0.5 0.0 0.5 0.0 0.5 0.0 0.5 0.0 0.5 0.0 0.5 0.0 0.5 0.0 0.5 0.0 0.5 0.0 0.5 0.0 0.5 0.0 0.5 0.0 0.5 0.0 0.5 0.0 0.5 0.0 0.5 0.0 0.5 0.0 0.5 0.0 0.5 0.0 0.5 0.0 0.5 0.0 0.5 0.0 0.5 0.0 0.5 0.0 0.5 0.0 0.5 0.0 0.5 0.0 0.5 0.0 0.5 0.0 0.5 0.0 0.5 0.0 0.5 0.0 0.5 0.0 0.5 0.0 0.5 0.0 0.5 0.0 0.5 0.0 0.5 0.0 0.5 0.0 0.5 0.0 0.5 0.0 0.5 0.0 0.5 0.0 0.5 0.0 0.5 0.0 0.5 0.0 0.5 0.0 0.5 0.0 0.5 0.0 0.5 0.0 0.5 0.0 0.5 0.0 0.5 0.0 0.5 0.0 0.5 0.0 0.5 0.0 0.5 0.0 0.5 0.0 0.5 0.0 0.5 0.0 0.5 0.0 0.5 0.0 0.5 0.0 0.5 0.0 0.5 0.0 0.5 0.0 0.5 0.0 0.5 0.0 0.5 0.0 0.5 0.0 0.5 0.0 0.5 0.0 0.5 0.0 0.5 0.0 0.5 0.0 0.5 0.0 0.5 0.0 0.5 0.0 0.5 0.0 0.5 0.0 0.5 0.0 0.5 0.0 0.5 0.0 0.5 0.0 0.5 0.0 0.5 0.0 0.5 0.0 0.5 0.0 0.5 0.0 0.5 0.0 0.5 0.0 0.5 0.0 0.5 0.0 0.5 0.0 0.5 0.0 0.5 0.0 0.5 0.0 0.5 0.0 0.5 0.0 0.5 0.0 0.5 0.0 0.5 0.0 0.5 0.0 0.5 0.0 0.5 0.0 0.5 0.0 0.5 0.0 0.5 0.0 0.5 0.0 0.5 0.0 0.5 0.0 0.5 0.0 0.5 0.0 0.5 0.0 0.5 0.0 0.5 0.0 0.5 0.0 0.5 0.0 0.5 0.0 0.5 0.0 0.5 0.0 0.5 0.0 0.5 0.0 0.5 0.0 0.5 0.0 0.5 0.0 0.5 0.0 0.5 0.0 0.5 0.0 0.5 0.0 0.5 0.0 0.5 0.0 0.5 0.0 0.5 0.0 0.5 0.0 0.5 0.0 0.5 0.0 0.5 0.0 0.5 0.0 0.5 0.0" fill="none" stroke="#8c8c8c" stroke-width="2.6" stroke-linejoin="round" />
<path d="M64.0 384.6l0.5 0.0 0.5 0.0 0.5 0.0 0.5 0.0 0.5 0.0 0.5 0.0 0.5 0.0 0.5 0.0 0.5 0.0 0.5 0.0 0.5 0.0 0.5 0.0 0.5 0.0 0.5 0.0 0.5 0.0 0.5 0.0 0.5 0.0 0.5 0.0 0.5 0.0 0.5 0.0 0.5 0.0 0.5 0.0 0.5 0.0 0.5 0.0 0.5 0.0 0.5 0.0 0.5 0.0 0.5 0.0 0.5 0.0 0.5 0.0 0.5 0.0 0.5 0.0 0.5 0.0 0.5 0.0 0.5 0.0 0.5 0.0 0.5 0.0 0.5 0.0 0.5 0.0 0.5 0.0 0.5 0.0 0.5 0.0 0.5 0.0 0.5 0.0 0.5 0.0 0.5 0.0 0.5 0.0 0.5 0.0 0.5 0.0 0.5 0.0 0.5 0.0 0.5 0.0 0.5 0.0 0.5 0.0 0.5 0.0 0.5 0.0 0.5 0.0 0.5 0.0 0.5 0.0 0.5 0.0 0.5 0.0 0.5 0.0 0.5 0.0 0.5 0.0 0.5 0.0 0.5 0.0 0.5 0.0 0.5 0.0 0.5 0.0 0.5 0.0 0.5 0.0 0.5 0.0 0.5 0.0 0.5 0.0 0.5 0.0 0.5 0.0 0.5 0.0 0.5 0.0 0.5 0.0 0.5 0.0 0.5 0.0 0.5 0.0 0.5 0.0 0.5 0.0 0.5 0.0 0.5 0.0 0.5 0.0 0.5 0.0 0.5 0.0 0.5 0.0 0.5 0.0 0.5 0.0 0.5 0.0 0.5 0.0 0.5 0.0 0.5 0.0 0.5 0.0 0.5 0.0 0.5 0.0 0.5 0.0 0.5 0.0 0.5 0.0 0.5 0.0 0.5 0.0 0.5 0.0 0.5 0.0 0.5 0.0 0.5 0.0 0.5 0.0 0.5 0.0 0.5 0.0 0.5 0.0 0.5 0.0 0.5 0.0 0.5 0.0 0.5 0.0 0.5 0.0 0.5 0.0 0.5 0.0 0.5 0.0 0.5 0.0 0.5 0.0 0.5 0.0 0.5 0.0 0.5 0.0 0.5 0.0 0.5 0.0 0.5 0.0 0.5 0.0 0.5 0.0 0.5 0.0 0.5 0.0 0.5 0.0 0.5 0.0 0.5 0.0 0.5 0.0 0.5 0.0 0.5 0.0 0.5 0.0 0.5 0.0 0.5 0.0 0.5 0.0 0.5 0.0 0.5 0.0 0.5 0.0 0.5 0.0 0.5 0.0 0.5 0.0 0.5 0.0 0.5 0.0 0.5 0.0 0.5 0.0 0.5 0.0 0.5 0.0 0.5 0.0 0.5 0.0 0.5 0.0 0.5 0.0 0.5 0.0 0.5 0.0 0.5 0.0 0.5 0.0 0.5 0.0 0.5 0.0 0.5 0.0 0.5 0.0 0.5 0.0 0.5 0.0 0.5 0.0 0.5 0.0 0.5 0.0 0.5 0.0 0.5 0.0 0.5 0.0 0.5 0.0 0.5 0.0 0.5 0.0 0.5 0.0 0.5 0.0 0.5 0.0 0.5 0.0 0.5 0.0 0.5 0.0 0.5 0.0 0.5 0.0 0.5 0.0 0.5 0.0 0.5 0.0 0.5 0.0 0.5 0.0 0.5 0.0 0.5 0.0 0.5 0.0 0.5 0.0 0.5 0.0 0.5 0.0 0.5 0.0 0.5 0.0 0.5 0.0 0.5 0.0 0.5 0.0 0.5 0.0 0.5 0.0 0.5 0.0 0.5 0.0 0.5 0.0 0.5 0.0 0.5 0.0 0.5 0.0 0.5 0.0 0.5 0.0 0.5 0.0 0.5 0.0 0.5 0.0 0.5 0.0 0.5 0.0 0.5 0.0 0.5 0.0 0.5 0.0 0.5 0.0 0.5 0.0 0.5 0.0 0.5 0.0 0.5 0.0 0.5 0.0 0.5 0.0 0.5 0.0 0.5 0.0 0.5 0.0 0.5 0.0 0.5 0.0 0.5 0.0 0.5 0.0 0.5 0.0 0.5 0.0 0.5 0.0 0.5 0.0 0.5 0.0 0.5 0.0 0.5 0.0 0.5 0.0 0.5 0.0 0.5 0.0 0.5 0.0 0.5 0.0 0.5 0.0 0.5 0.0 0.5 0.0 0.5 0.0 0.5 0.0 0.5 0.0 0.5 0.0 0.5 0.0 0.5 0.0 0.5 0.0 0.5 0.0 0.5 0.0 0.5 0.0 0.5 0.0 0.5 0.0 0.5 0.0 0.5 0.0 0.5 0.0 0.5 0.0 0.5 0.0 0.5 0.0 0.5 0.0 0.5 0.0 0.5 0.0 0.5 0.0 0.5 0.0 0.5 0.0 0.5 0.0 0.5 0.0 0.5 0.0 0.5 0.0 0.5 0.0 0.5 0.0 0.5 0.0 0.5 0.0 0.5 0.0 0.5 0.0 0.5 0.0 0.5 0.0 0.5 0.0 0.5 0.0 0.5 0.0 0.5 0.0 0.5 0.0 0.5 0.0 0.5 0.0 0.5 0.0 0.5 0.0 0.5 0.0 0.5 0.0 0.5 0.0 0.5 0.0 0.5 0.0 0.5 0.0 0.5 0.0 0.5 0.0 0.5 0.0 0.5 0.0 0.5 0.0 0.5 0.0 0.5 0.0 0.5 0.0 0.5 0.0 0.5 0.0 0.5 0.0 0.5 0.0 0.5 0.0 0.5 0.0 0.5 0.0 0.5 0.0 0.5 0.0 0.5 0.0 0.5 0.0 0.5 0.0 0.5 0.0 0.5 0.0 0.5 0.0 0.5 0.0 0.5 0.0 0.5 0.0 0.5 0.0 0.5 0.0 0.5 0.0 0.5 0.0 0.5 0.0 0.5 0.0 0.5 0.0 0.5 0.0 0.5 0.0 0.5 0.0 0.5 0.0 0.5 0.0 0.5 0.0 0.5 0.0 0.5 0.0 0.5 0.0 0.5 0.0 0.5 0.0 0.5 0.0 0.5 0.0 0.5 0.0 0.5 0.0 0.5 0.0 0.5 0.0 0.5 -0.1 0.5 0.0 0.5 0.0 0.5 0.0 0.5 0.0 0.5 0.0 0.5 0.0 0.5 0.0 0.5 0.0 0.5 0.0 0.5 0.0 0.5 0.0 0.5 0.0 0.5 0.0 0.5 0.0 0.5 0.0 0.5 0.0 0.5 0.0 0.5 0.0 0.5 0.0 0.5 0.0 0.5 0.0 0.5 0.0 0.5 0.0 0.5 0.0 0.5 0.0 0.5 0.0 0.5 0.0 0.5 0.0 0.5 0.0 0.5 0.0 0.5 0.0 0.5 0.0 0.5 0.0 0.5 0.0 0.5 0.0 0.5 0.0 0.5 0.0 0.5 0.0 0.5 0.0 0.5 0.0 0.5 0.0 0.5 0.0 0.5 0.0 0.5 0.0 0.5 0.0 0.5 0.0 0.5 0.0 0.5 0.0 0.5 0.0 0.5 0.0 0.5 0.0 0.5 0.0 0.5 0.0 0.5 0.0 0.5 0.0 0.5 0.0 0.5 0.0 0.5 0.0 0.5 0.0 0.5 0.0 0.5 0.0 0.5 0.0 0.5 0.0 0.5 0.0 0.5 0.0 0.5 0.0 0.5 0.0 0.5 0.0 0.5 0.0 0.5 0.0 0.5 0.0 0.5 0.0 0.5 0.0 0.5 0.0 0.5 0.0 0.5 0.0 0.5 0.0 0.5 0.0 0.5 0.0 0.5 0.0 0.5 0.0 0.5 0.0 0.5 0.0 0.5 0.0 0.5 0.0 0.5 0.0 0.5 0.0 0.5 0.0 0.5 0.0 0.5 0.0 0.5 0.0 0.5 0.0 0.5 0.0 0.5 0.0 0.5 0.0 0.5 0.0 0.5 0.0 0.5 0.0 0.5 0.0 0.5 0.0 0.5 0.0 0.5 0.0 0.5 0.0 0.5 0.0 0.5 0.0 0.5 0.0 0.5 0.0 0.5 0.0 0.5 0.0 0.5 0.0 0.5 0.0 0.5 0.0 0.5 0.0 0.5 0.0 0.5 0.0 0.5 0.0 0.5 0.0 0.5 0.0 0.5 0.0 0.5 0.0 0.5 0.0 0.5 0.0 0.5 0.0 0.5 0.0 0.5 0.0 0.5 0.0 0.5 0.0 0.5 0.0 0.5 0.0 0.5 0.0 0.5 0.0 0.5 0.0 0.5 0.0 0.5 0.0 0.5 0.0 0.5 0.0 0.5 0.0 0.5 0.0 0.5 0.0 0.5 0.0 0.5 0.0 0.5 0.0 0.5 0.0 0.5 0.0 0.5 0.0 0.5 0.0 0.5 0.0 0.5 0.0 0.5 0.0 0.5 0.0 0.5 0.0 0.5 0.0 0.5 0.0 0.5 0.0 0.5 -0.1 0.5 0.0 0.5 0.0 0.5 0.0 0.5 0.0 0.5 0.0 0.5 0.0 0.5 0.0 0.5 0.0 0.5 0.0 0.5 0.0 0.5 0.0 0.5 0.0 0.5 0.0 0.5 0.0 0.5 0.0 0.5 0.0 0.5 0.0 0.5 0.0 0.5 0.0 0.5 0.0 0.5 0.0 0.5 0.0 0.5 0.0 0.5 -0.1 0.5 0.0 0.5 0.0 0.5 0.0 0.5 0.0 0.5 0.0 0.5 0.0 0.5 0.0 0.5 0.0 0.5 0.0 0.5 0.0 0.5 0.0 0.5 0.0 0.5 0.0 0.5 0.0 0.5 0.0 0.5 -0.1 0.5 0.0 0.5 0.0 0.5 0.0 0.5 0.0 0.5 0.0 0.5 0.0 0.5 0.0 0.5 0.0 0.5 0.0 0.5 0.0 0.5 0.0 0.5 -0.1 0.5 0.0 0.5 0.0 0.5 0.0 0.5 0.0 0.5 0.0 0.5 0.0 0.5 0.0 0.5 0.0 0.5 -0.1 0.5 0.0 0.5 0.0 0.5 0.0 0.5 0.0 0.5 0.0 0.5 0.0 0.5 0.0 0.5 0.0 0.5 -0.1 0.5 0.0 0.5 0.0 0.5 0.0 0.5 0.0 0.5 0.0 0.5 0.0 0.5 0.0 0.5 -0.1 0.5 0.0 0.5 0.0 0.5 0.0 0.5 0.0 0.5 0.0 0.5 -0.1 0.5 0.0 0.5 0.0 0.5 0.0 0.5 0.0 0.5 0.0 0.5 0.0 0.5 -0.1 0.5 0.0 0.5 0.0 0.5 0.0 0.5 0.0 0.5 -0.1 0.5 0.0 0.5 0.0 0.5 0.0 0.5 0.0 0.5 0.0 0.5 -0.1 0.5 0.0 0.5 0.0 0.5 0.0 0.5 0.0 0.5 -0.1 0.5 0.0 0.5 0.0 0.5 0.0 0.5 0.0 0.5 -0.1 0.5 0.0 0.5 0.0 0.5 0.0 0.5 -0.1 0.5 -0.1 0.5 -0.1 0.5 -0.1 0.5 -0.1 0.5 -0.2 0.5 -0.1 0.5 -0.2 0.5 -0.2 0.5 -0.2 0.5 -0.2 0.5 -0.2 0.2 -0.1 0.2 -0.2 0.1 0.0 0.1 -0.1 0.2 -0.1 0.2 -0.1 0.0 0.0 0.2 -0.1 0.2 -0.1 0.1 -0.1 0.1 0.0 0.2 -0.1 0.2 -0.1 0.0 0.0 0.2 -0.2 0.2 -0.1 0.1 -0.1 0.1 0.0 0.2 -0.1 0.2 -0.2 0.0 0.0 0.2 -0.1 0.2 -0.1 0.1 -0.1 0.1 -0.1 0.2 -0.1 0.2 -0.2 0.0 0.0 0.2 -0.1 0.2 -0.2 0.1 0.0 0.1 -0.1 0.2 -0.1 0.2 -0.2 0.0 0.0 0.2 -0.2 0.2 -0.1 0.1 -0.1 0.1 -0.1 0.2 -0.3 0.2 -0.2 0.0 0.0 0.2 -0.3 0.2 -0.3 0.1 -0.1 0.1 -0.2 0.2 -0.3 0.2 -0.3 0.0 0.0 0.2 -0.4 0.2 -0.3 0.1 -0.2 0.1 -0.2 0.2 -0.4 0.2 -0.4 0.0 0.0 0.2 -0.4 0.2 -0.5 0.1 -0.2 0.1 -0.2 0.2 -0.5 0.2 -0.5 0.0 0.0 0.2 -0.5 0.2 -0.5 0.1 -0.3 0.1 -0.2 0.2 -0.6 0.2 -0.5 0.0 0.0 0.2 -0.6 0.2 -0.5 0.1 -0.3 0.1 -0.3 0.2 -0.6 0.2 -0.6 0.0 0.0 0.2 -0.6 0.2 -0.7 0.1 -0.4 0.1 -0.3 0.2 -0.8 0.2 -0.8 0.0 0.0 0.2 -0.8 0.2 -0.9 0.1 -0.4 0.1 -0.5 0.2 -1.0 0.2 -1.0 0.0 0.0 0.2 -1.0 0.2 -1.1 0.1 -0.6 0.1 -0.6 0.2 -1.2 0.2 -1.3 0.0 0.0 0.2 -1.3 0.2 -1.4 0.1 -0.7 0.1 -0.7 0.2 -1.5 0.2 -1.5 0.0 0.0 0.2 -1.8 0.2 -2.2 0.1 -1.2 0.1 -1.3 0.2 -2.7 0.2 -3.0 0.0 0.0 0.2 -3.1 0.2 -3.2 0.1 -1.6 0.1 -1.5 0.2 -3.2 0.2 -3.0 0.0 0.0 0.2 -2.9 0.2 -2.6 0.1 -1.3 0.1 -1.3 0.2 -2.9 0.2 -3.0 0.0 0.0 0.2 -3.0 0.2 -2.9 0.1 -1.4 0.1 -1.2 0.2 -2.3 0.2 -1.7 0.0 0.0 0.2 -1.2 0.2 -0.4 0.1 0.1 0.1 0.4 0.2 1.3 0.2 2.0 0.0 0.0 0.2 2.6 0.2 3.2 0.1 1.6 0.1 1.8 0.2 3.7 0.2 3.7 0.0 0.0 0.2 3.8 0.2 3.5 0.1 1.7 0.1 1.6 0.2 3.2 0.2 3.5 0.0 0.0 0.2 3.6 0.2 3.8 0.1 1.9 0.1 1.9 0.2 3.8 0.2 3.8 0.0 0.0 0.2 3.7 0.2 3.5 0.1 1.7 0.1 1.7 0.2 3.1 0.2 2.7 0.0 0.0 0.2 2.5 0.2 2.2 0.1 1.1 0.1 1.0 0.2 2.0 0.2 1.9 0.0 0.0 0.2 1.7 0.2 1.8 0.1 0.8 0.1 0.9 0.2 1.6 0.2 1.7 0.0 0.0 0.2 1.7 0.2 1.8 0.1 1.0 0.1 0.9 0.2 1.9 0.2 2.0 0.0 0.0 0.2 1.9 0.2 2.0 0.1 0.9 0.1 1.0 0.2 2.0 0.2 2.0 0.0 0.0 0.2 2.0 0.2 2.0 0.1 1.0 0.1 0.9 0.2 1.9 0.2 1.9 0.0 0.0 0.2 1.9 0.2 2.0 0.1 1.1 0.1 1.2 0.2 2.4 0.2 2.7 0.0 0.0 0.2 3.3 0.2 3.7 0.1 2.0 0.1 2.1 0.2 4.2 0.2 4.4 0.0 0.0 0.2 4.2 0.2 4.2 0.1 1.9 0.1 1.9 0.2 4.1 0.2 4.5 0.0 0.0 0.2 4.4 0.2 3.5 0.1 1.3 0.1 0.8 0.2 0.2 0.2 -0.7 0.0 0.0 0.2 -1.4 0.2 -1.9 0.1 -1.0 0.1 -1.2 0.2 -2.5 0.2 -2.6 0.0 0.0 0.2 -2.7 0.2 -2.5 0.1 -1.2 0.1 -1.1 0.2 -2.3 0.2 -2.4 0.0 0.0 0.2 -2.5 0.2 -2.7 0.1 -1.3 0.1 -1.4 0.2 -2.7 0.2 -2.7 0.0 0.0 0.2 -2.6 0.2 -2.6 0.1 -1.2 0.1 -1.2 0.2 -2.3 0.2 -2.0 0.0 0.0 0.2 -1.9 0.2 -1.5 0.1 -0.7 0.1 -0.7 0.2 -1.3 0.2 -1.3 0.0 0.0 0.2 -1.3 0.2 -1.2 0.1 -0.6 0.1 -0.6 0.2 -1.1 0.2 -1.1 0.0 0.0 0.2 -1.0 0.2 -1.0 0.1 -0.5 0.1 -0.5 0.2 -0.9 0.2 -0.9 0.0 0.0 0.2 -0.8 0.2 -0.8 0.1 -0.4 0.1 -0.3 0.2 -0.7 0.2 -0.7 0.0 0.0 0.2 -0.6 0.2 -0.5 0.1 -0.3 0.1 -0.2 0.2 -0.5 0.2 -0.4 0.0 0.0 0.2 -0.5 0.2 -0.4 0.1 -0.2 0.1 -0.2 0.2 -0.5 0.2 -0.4 0.0 0.0 0.2 -0.4 0.2 -0.4 0.1 -0.2 0.1 -0.1 0.2 -0.4 0.2 -0.4 0.0 0.0 0.2 -0.3 0.2 -0.4 0.1 -0.1 0.1 -0.2 0.2 -0.3 0.2 -0.3 0.0 0.0 0.2 -0.3 0.2 -0.3 0.1 -0.1 0.1 -0.1 0.2 -0.3 0.2 -0.2 0.0 0.0 0.2 -0.3 0.2 -0.2 0.1 -0.1 0.1 -0.1 0.2 -0.2 0.2 -0.2 0.0 0.0 0.2 -0.2 0.2 -0.2 0.1 0.0 0.1 -0.1 0.2 -0.2 0.2 -0.1 0.0 0.0 0.2 -0.1 0.2 -0.1 0.1 -0.1 0.1 0.0 0.2 -0.1 0.2 -0.1 0.0 0.0 0.2 -0.1 0.2 -0.1 0.1 -0.1 0.1 0.0 0.2 -0.1 0.2 -0.1 0.5 -0.3 0.5 -0.2 0.5 -0.2 0.5 -0.2 0.5 -0.2 0.5 -0.2 0.5 -0.2 0.5 -0.1 0.5 -0.2 0.5 -0.1 0.5 -0.2 0.5 -0.1 0.5 -0.1 0.5 -0.1 0.5 -0.1 0.5 -0.1 0.5 -0.1 0.5 0.0 0.5 -0.1 0.5 0.0 0.5 0.0 0.5 -0.1 0.5 0.0 0.5 0.0 0.5 -0.1 0.5 0.0 0.5 0.0 0.5 -0.1 0.5 0.0 0.5 0.0 0.5 -0.1 0.5 0.0 0.5 0.0 0.5 0.0 0.5 -0.1 0.5 0.0 0.5 0.0 0.5 0.0 0.5 -0.1 0.5 0.0 0.5 0.0 0.5 0.0 0.5 -0.1 0.5 0.0 0.5 0.0 0.5 0.0 0.5 -0.1 0.5 0.0 0.5 0.0 0.5 0.0 0.5 0.0 0.5 -0.1 0.5 0.0 0.5 0.0 0.5 0.0 0.5 0.0 0.5 -0.1 0.5 0.0 0.5 0.0 0.5 0.0 0.5 0.0 0.5 0.0 0.5 0.0 0.5 -0.1 0.5 0.0 0.5 0.0 0.5 0.0 0.5 0.0 0.5 0.0 0.5 0.0 0.5 0.0 0.5 -0.1 0.5 0.0 0.5 0.0 0.5 0.0 0.5 0.0 0.5 0.0 0.5 0.0 0.5 0.0 0.5 0.0 0.5 0.0 0.5 0.0 0.5 0.0 0.5 -0.1 0.5 0.0 0.5 0.0 0.5 0.0 0.5 0.0 0.5 0.0 0.5 0.0 0.5 0.0 0.5 0.0 0.5 0.0 0.5 0.0 0.5 0.0 0.5 0.0 0.5 0.0 0.5 0.0 0.5 0.0 0.5 0.0 0.5 0.0 0.5 0.0 0.5 0.0 0.5 0.0 0.5 0.0 0.5 0.0 0.5 0.0 0.5 0.0 0.5 0.0 0.5 0.0 0.5 0.0 0.5 0.0 0.5 0.0 0.5 0.0 0.5 0.0 0.5 0.0 0.5 0.0 0.5 0.0 0.5 0.0 0.5 0.0 0.5 0.0 0.5 0.0 0.5 0.0 0.5 0.0 0.5 0.0 0.5 0.0 0.5 0.0 0.5 0.0 0.5 0.0 0.5 0.0 0.5 0.0 0.5 0.0 0.5 0.0 0.5 0.0 0.5 0.0 0.5 0.0 0.5 0.0 0.5 0.0 0.5 0.0 0.5 0.0 0.5 0.0 0.5 0.0 0.5 0.0 0.5 0.0 0.5 0.0 0.5 0.0 0.5 0.0 0.5 0.0 0.5 0.0 0.5 0.0 0.5 0.0 0.5 0.0 0.5 0.0 0.5 0.0 0.5 0.0 0.5 0.0 0.5 0.0 0.5 0.0 0.5 0.0 0.5 0.0 0.5 0.0 0.5 0.0 0.5 0.0 0.5 0.0 0.5 0.0 0.5 0.0 0.5 0.0 0.5 0.0 0.5 0.0 0.5 0.0 0.5 0.0 0.5 0.0 0.5 0.0 0.5 0.0 0.5 0.0 0.5 0.0 0.5 0.0 0.5 0.0 0.5 0.0 0.5 0.0 0.5 0.0 0.5 0.0 0.5 0.0 0.5 0.0 0.5 0.0 0.5 0.0 0.5 0.0 0.5 0.0 0.5 0.0 0.5 0.0 0.5 0.0 0.5 0.0 0.5 0.0 0.5 0.0 0.5 0.0 0.5 0.0 0.5 0.0 0.5 0.0 0.5 0.0 0.5 0.0 0.5 0.0 0.5 0.0 0.5 0.0 0.5 0.0 0.5 0.0 0.5 0.0 0.5 0.0 0.5 0.0 0.5 0.0 0.5 0.0 0.5 0.0 0.5 0.0 0.5 0.0 0.5 0.0 0.5 0.0 0.5 0.0 0.5 0.0 0.5 0.0 0.5 0.0 0.5 0.0 0.5 0.0 0.5 0.0 0.5 0.0 0.5 0.0 0.5 0.0 0.5 0.0 0.5 0.0 0.5 0.0 0.5 0.0 0.5 0.0 0.5 0.0 0.5 0.0 0.5 0.0 0.5 0.0 0.5 0.0 0.5 0.0 0.5 0.0 0.5 0.0 0.5 0.0 0.5 0.0 0.5 0.0 0.5 0.0 0.5 0.0 0.5 0.0 0.5 0.0 0.5 0.0 0.5 0.0 0.5 0.0 0.5 0.0 0.5 0.0 0.5 0.0 0.5 0.0 0.5 0.0 0.5 0.0 0.5 0.0 0.5 0.0 0.5 0.0 0.5 0.0 0.5 0.0 0.5 0.0 0.5 0.0 0.5 0.0 0.5 0.0 0.5 0.0 0.5 0.0 0.5 0.0 0.5 0.0 0.5 0.0 0.5 0.0 0.5 0.0 0.5 0.0 0.5 0.0 0.5 0.0 0.5 0.0 0.5 0.0 0.5 0.0 0.5 0.0 0.5 0.0 0.5 0.0 0.5 0.0 0.5 0.0 0.5 0.0 0.5 0.0 0.5 0.0 0.5 0.0 0.5 0.0 0.5 0.0 0.5 0.0 0.5 0.0 0.5 0.0 0.5 0.0 0.5 0.0 0.5 0.0 0.5 0.0 0.5 0.0 0.5 0.0 0.5 0.0 0.5 0.0 0.5 0.0 0.5 0.0 0.5 0.0 0.5 0.0 0.5 0.0 0.5 0.0 0.5 0.0 0.5 0.0 0.5 0.0 0.5 0.0 0.5 0.0 0.5 0.0 0.5 0.0 0.5 0.0 0.5 0.0 0.5 0.0 0.5 0.0 0.5 0.0 0.5 0.0 0.5 0.0 0.5 0.0 0.5 0.0 0.5 0.0 0.5 0.0 0.5 0.0 0.5 0.0 0.5 0.0 0.5 0.0 0.5 0.0 0.5 0.0 0.5 0.0 0.5 0.0 0.5 0.0 0.5 0.0 0.5 0.0 0.5 0.0 0.5 0.0 0.5 0.0 0.5 0.0 0.5 0.0 0.5 0.0 0.5 0.0 0.5 0.0 0.5 0.0 0.5 0.0 0.5 0.0 0.5 0.0 0.5 0.0 0.5 0.0 0.5 0.0 0.5 0.0 0.5 0.0 0.5 0.0 0.5 0.0 0.5 0.0 0.5 0.0 0.5 0.0 0.5 0.0 0.5 0.0 0.5 0.0 0.5 0.0 0.5 0.0 0.5 0.0 0.5 0.0 0.5 0.0 0.5 0.0 0.5 0.0 0.5 0.0 0.5 0.0 0.5 0.0 0.5 0.0 0.5 0.0 0.5 0.0 0.5 0.0 0.5 0.0 0.5 0.0 0.5 0.0 0.5 0.0 0.5 0.0 0.5 0.0 0.5 0.0 0.5 0.0 0.5 0.0 0.5 0.0 0.5 0.0 0.5 0.0 0.5 0.0 0.5 0.0 0.5 0.0 0.5 0.0 0.5 0.0 0.5 0.0 0.5 0.0 0.5 0.0 0.5 0.0 0.5 0.0 0.5 0.0 0.5 0.0 0.5 0.0 0.5 0.0 0.5 0.0 0.5 0.0 0.5 0.0 0.5 0.0 0.5 0.0 0.5 0.0 0.5 0.0 0.5 0.0 0.5 0.0 0.5 0.0 0.5 0.0 0.5 0.0 0.5 0.0 0.5 0.0 0.5 0.0 0.5 0.0 0.5 0.0 0.5 0.0 0.5 0.0 0.5 0.0 0.5 0.0 0.5 0.0 0.5 0.0 0.5 0.0 0.5 0.0 0.5 0.0 0.5 0.0 0.5 0.0 0.5 0.0 0.5 0.0 0.5 0.0 0.5 0.0 0.5 0.0 0.5 0.0 0.5 0.0 0.5 0.0 0.5 0.0 0.5 0.0 0.5 0.0 0.5 0.0 0.5 0.0 0.5 0.0 0.5 0.0 0.5 0.0 0.5 0.0 0.5 0.0 0.5 0.0 0.5 0.0 0.5 0.0 0.5 0.0 0.5 0.0 0.5 0.0 0.5 0.0 0.5 0.0 0.5 0.0 0.5 0.0 0.5 0.0 0.5 0.0 0.5 0.0 0.5 0.0 0.5 0.0 0.5 0.0 0.5 0.0 0.5 0.0 0.5 0.0 0.5 0.0 0.5 0.0 0.5 0.0 0.5 0.0 0.5 0.0 0.5 0.0 0.5 0.0 0.5 0.0 0.5 0.0 0.5 0.0 0.5 0.0 0.5 0.0 0.5 0.0 0.5 0.0 0.5 0.0 0.5 0.0 0.5 0.0 0.5 0.0 0.5 0.0 0.5 0.0 0.5 0.0 0.5 0.0 0.5 0.0 0.5 0.0 0.5 0.0 0.5 0.0 0.5 0.0 0.5 0.0 0.5 0.0 0.5 0.0 0.5 0.0 0.5 0.0 0.5 0.0 0.5 0.0 0.5 0.0 0.5 0.0 0.5 0.0 0.5 0.0 0.5 0.0 0.5 0.0 0.5 0.0 0.5 0.0 0.5 0.0 0.5 0.0 0.5 0.0 0.5 0.0 0.5 0.0 0.5 0.0 0.5 0.0 0.5 0.0 0.5 0.0 0.5 0.0 0.5 0.0 0.5 0.0 0.5 0.0 0.5 0.0 0.5 0.0 0.5 0.0 0.5 0.0 0.5 0.0 0.5 0.0 0.5 0.0 0.5 0.0 0.5 0.0 0.5 0.0 0.5 0.0 0.5 0.0 0.5 0.0 0.5 0.0 0.5 0.0 0.5 0.0 0.5 0.0 0.5 0.0 0.5 0.0 0.5 0.0 0.5 0.0 0.5 0.0 0.5 0.0 0.5 0.0 0.5 0.0 0.5 0.0 0.5 0.0 0.5 0.0 0.5 0.0 0.5 0.0 0.5 0.0 0.5 0.0 0.5 0.0 0.5 0.0 0.5 0.0 0.5 0.0 0.5 0.0 0.5 0.0 0.5 0.0 0.5 0.0 0.5 0.0 0.5 0.0 0.5 0.0 0.5 0.0 0.5 0.0 0.5 0.0 0.5 0.0 0.5 0.0 0.5 0.0 0.5 0.0 0.5 0.0 0.5 0.0 0.5 0.0 0.5 0.0 0.5 0.0 0.5 0.0 0.5 0.0 0.5 0.0 0.5 0.0 0.5 0.0 0.5 0.0 0.5 0.0 0.5 0.0 0.5 0.0 0.5 0.0 0.5 0.0 0.5 0.0 0.5 0.0 0.5 0.0 0.5 0.0 0.5 0.0 0.5 0.0 0.5 0.0 0.5 0.0 0.5 0.0 0.5 0.0" fill="none" stroke="#000" stroke-width="2.0" stroke-linejoin="round" stroke-dasharray="9.3 8.7" stroke-dashoffset="1.2"/>
<path d="M64.0 270.7l0.5 0.0 0.5 0.0 0.5 0.0 0.5 0.0 0.5 0.0 0.5 0.0 0.5 0.0 0.5 0.0 0.5 0.0 0.5 0.0 0.5 0.0 0.5 0.0 0.5 0.0 0.5 0.0 0.5 0.0 0.5 0.0 0.5 0.0 0.5 0.0 0.5 0.0 0.5 0.0 0.5 0.0 0.5 0.0 0.5 0.0 0.5 0.0 0.5 0.0 0.5 0.0 0.5 0.0 0.5 0.0 0.5 0.0 0.5 0.0 0.5 0.0 0.5 0.0 0.5 0.0 0.5 0.0 0.5 0.0 0.5 0.0 0.5 0.0 0.5 0.0 0.5 0.0 0.5 0.0 0.5 0.0 0.5 0.0 0.5 0.0 0.5 0.0 0.5 0.0 0.5 0.0 0.5 0.0 0.5 0.0 0.5 0.0 0.5 0.0 0.5 0.0 0.5 0.0 0.5 0.0 0.5 0.0 0.5 0.0 0.5 0.0 0.5 0.0 0.5 0.0 0.5 0.0 0.5 0.0 0.5 0.0 0.5 0.0 0.5 0.0 0.5 0.0 0.5 0.0 0.5 0.0 0.5 0.0 0.5 0.0 0.5 0.0 0.5 0.0 0.5 0.0 0.5 0.0 0.5 0.0 0.5 0.0 0.5 0.0 0.5 0.0 0.5 0.0 0.5 0.0 0.5 0.0 0.5 0.0 0.5 0.0 0.5 0.0 0.5 0.0 0.5 0.0 0.5 0.0 0.5 0.0 0.5 0.0 0.5 0.0 0.5 0.0 0.5 0.0 0.5 0.0 0.5 0.0 0.5 0.0 0.5 0.0 0.5 0.0 0.5 0.0 0.5 0.0 0.5 0.0 0.5 0.0 0.5 0.0 0.5 0.0 0.5 0.0 0.5 0.0 0.5 0.0 0.5 0.0 0.5 0.0 0.5 0.0 0.5 0.0 0.5 0.0 0.5 0.0 0.5 0.0 0.5 0.0 0.5 0.0 0.5 0.0 0.5 0.0 0.5 0.0 0.5 0.0 0.5 0.0 0.5 0.0 0.5 0.0 0.5 0.0 0.5 0.0 0.5 0.0 0.5 0.0 0.5 0.0 0.5 0.0 0.5 0.0 0.5 0.0 0.5 0.0 0.5 0.0 0.5 0.0 0.5 0.0 0.5 0.0 0.5 0.0 0.5 0.0 0.5 0.0 0.5 0.0 0.5 0.0 0.5 0.0 0.5 0.0 0.5 0.0 0.5 0.0 0.5 0.0 0.5 0.0 0.5 0.0 0.5 0.0 0.5 0.0 0.5 0.0 0.5 0.0 0.5 -0.1 0.5 0.0 0.5 0.0 0.5 0.0 0.5 0.0 0.5 0.0 0.5 0.0 0.5 0.0 0.5 0.0 0.5 0.0 0.5 0.0 0.5 0.0 0.5 0.0 0.5 0.0 0.5 0.0 0.5 0.0 0.5 0.0 0.5 0.0 0.5 0.0 0.5 0.0 0.5 0.0 0.5 0.0 0.5 0.0 0.5 0.0 0.5 0.0 0.5 0.0 0.5 0.0 0.5 0.0 0.5 0.0 0.5 0.0 0.5 0.0 0.5 0.0 0.5 0.0 0.5 0.0 0.5 0.0 0.5 0.0 0.5 0.0 0.5 0.0 0.5 0.0 0.5 0.0 0.5 0.0 0.5 0.0 0.5 0.0 0.5 0.0 0.5 0.0 0.5 0.0 0.5 0.0 0.5 0.0 0.5 0.0 0.5 0.0 0.5 0.0 0.5 0.0 0.5 0.0 0.5 0.0 0.5 0.0 0.5 0.0 0.5 0.0 0.5 0.0 0.5 0.0 0.5 0.0 0.5 0.0 0.5 0.0 0.5 0.0 0.5 0.0 0.5 0.0 0.5 0.0 0.5 0.0 0.5 0.0 0.5 0.0 0.5 0.0 0.5 0.0 0.5 0.0 0.5 0.0 0.5 0.0 0.5 0.0 0.5 0.0 0.5 0.0 0.5 0.0 0.5 0.0 0.5 0.0 0.5 0.0 0.5 0.0 0.5 0.0 0.5 0.0 0.5 0.0 0.5 0.0 0.5 0.0 0.5 0.0 0.5 0.0 0.5 0.0 0.5 0.0 0.5 0.0 0.5 0.0 0.5 0.0 0.5 0.0 0.5 0.0 0.5 0.0 0.5 0.0 0.5 0.0 0.5 0.0 0.5 0.0 0.5 0.0 0.5 0.0 0.5 0.0 0.5 0.0 0.5 0.0 0.5 0.0 0.5 0.0 0.5 0.0 0.5 0.0 0.5 0.0 0.5 0.0 0.5 0.0 0.5 0.0 0.5 0.0 0.5 0.0 0.5 0.0 0.5 0.0 0.5 0.0 0.5 0.0 0.5 0.0 0.5 0.0 0.5 0.0 0.5 0.0 0.5 0.0 0.5 0.0 0.5 0.0 0.5 0.0 0.5 0.0 0.5 0.0 0.5 0.0 0.5 0.0 0.5 0.0 0.5 0.0 0.5 0.0 0.5 0.0 0.5 0.0 0.5 0.0 0.5 0.0 0.5 0.0 0.5 0.0 0.5 0.0 0.5 0.0 0.5 0.0 0.5 0.0 0.5 0.0 0.5 0.0 0.5 0.0 0.5 0.0 0.5 0.0 0.5 0.0 0.5 0.0 0.5 0.0 0.5 0.0 0.5 0.0 0.5 0.0 0.5 0.0 0.5 0.0 0.5 0.0 0.5 0.0 0.5 0.0 0.5 0.0 0.5 0.0 0.5 0.0 0.5 0.0 0.5 0.0 0.5 0.0 0.5 0.0 0.5 0.0 0.5 0.0 0.5 0.0 0.5 0.0 0.5 0.0 0.5 0.0 0.5 0.0 0.5 0.0 0.5 0.0 0.5 0.0 0.5 0.0 0.5 0.0 0.5 0.0 0.5 0.0 0.5 0.0 0.5 0.0 0.5 0.0 0.5 0.0 0.5 0.0 0.5 0.0 0.5 0.0 0.5 0.0 0.5 0.0 0.5 0.0 0.5 0.0 0.5 0.0 0.5 0.0 0.5 0.0 0.5 0.0 0.5 0.0 0.5 0.0 0.5 0.0 0.5 0.0 0.5 0.0 0.5 0.0 0.5 0.0 0.5 0.0 0.5 0.0 0.5 0.0 0.5 0.0 0.5 0.0 0.5 0.0 0.5 0.0 0.5 0.0 0.5 0.0 0.5 0.0 0.5 0.0 0.5 0.0 0.5 0.0 0.5 0.0 0.5 0.0 0.5 0.0 0.5 0.0 0.5 0.0 0.5 0.0 0.5 0.0 0.5 0.0 0.5 0.0 0.5 0.0 0.5 0.0 0.5 0.0 0.5 0.0 0.5 0.0 0.5 0.0 0.5 0.0 0.5 0.0 0.5 0.0 0.5 0.0 0.5 0.0 0.5 0.0 0.5 0.0 0.5 0.0 0.5 0.0 0.5 0.0 0.5 0.0 0.5 0.0 0.5 0.0 0.5 0.0 0.5 0.0 0.5 0.0 0.5 0.0 0.5 0.0 0.5 0.0 0.5 0.0 0.5 0.0 0.5 0.0 0.5 0.0 0.5 0.0 0.5 0.0 0.5 0.0 0.5 0.0 0.5 0.0 0.5 0.0 0.5 0.0 0.5 0.0 0.5 0.0 0.5 0.0 0.5 0.0 0.5 0.0 0.5 0.0 0.5 0.0 0.5 0.0 0.5 0.0 0.5 0.0 0.5 0.0 0.5 0.0 0.5 0.0 0.5 0.0 0.5 0.0 0.5 0.0 0.5 0.0 0.5 0.0 0.5 0.0 0.5 0.0 0.5 0.0 0.5 0.0 0.5 0.0 0.5 0.0 0.5 0.0 0.5 0.0 0.5 0.0 0.5 0.0 0.5 0.0 0.5 0.0 0.5 0.0 0.5 0.0 0.5 0.0 0.5 0.0 0.5 0.0 0.5 0.0 0.5 0.0 0.5 0.0 0.5 0.0 0.5 0.0 0.5 0.0 0.5 0.0 0.5 0.0 0.5 0.0 0.5 0.0 0.5 0.0 0.5 0.0 0.5 0.0 0.5 0.0 0.5 0.0 0.5 0.0 0.5 0.0 0.5 0.0 0.5 0.0 0.5 0.0 0.5 0.0 0.5 0.0 0.5 0.0 0.5 0.0 0.5 0.0 0.5 0.0 0.5 0.0 0.5 0.0 0.5 0.0 0.5 0.0 0.5 0.0 0.5 0.0 0.5 0.0 0.5 0.0 0.5 0.0 0.5 0.0 0.5 0.0 0.5 0.0 0.5 0.0 0.5 0.0 0.5 0.0 0.5 0.0 0.5 0.0 0.5 0.0 0.5 0.0 0.5 0.0 0.5 0.0 0.5 0.0 0.5 0.0 0.5 0.0 0.5 0.0 0.5 0.0 0.5 0.0 0.5 0.0 0.5 0.0 0.5 0.0 0.5 0.0 0.5 0.0 0.5 0.0 0.5 0.0 0.5 0.0 0.5 0.0 0.5 0.0 0.5 0.0 0.5 0.0 0.5 0.0 0.5 0.0 0.5 0.0 0.5 0.0 0.5 0.0 0.5 0.0 0.5 0.0 0.5 0.0 0.5 0.0 0.5 0.0 0.5 0.0 0.5 0.0 0.5 0.0 0.5 0.0 0.5 0.0 0.5 0.0 0.5 0.0 0.5 0.0 0.5 0.0 0.5 0.0 0.5 0.0 0.5 0.0 0.5 0.0 0.5 0.0 0.5 0.0 0.5 0.0 0.5 0.0 0.5 0.0 0.5 0.0 0.5 0.0 0.5 0.0 0.5 0.0 0.5 0.0 0.5 0.0 0.5 0.0 0.5 0.0 0.5 0.0 0.5 0.0 0.5 0.0 0.5 0.0 0.5 0.0 0.5 0.0 0.5 0.0 0.5 0.0 0.5 0.0 0.5 0.0 0.5 0.0 0.5 0.0 0.5 0.0 0.5 0.0 0.5 0.0 0.5 0.0 0.5 0.0 0.5 0.0 0.5 0.0 0.5 0.0 0.5 0.0 0.5 0.0 0.5 0.0 0.5 0.0 0.5 0.0 0.5 0.0 0.5 0.0 0.5 0.0 0.5 0.0 0.5 0.0 0.5 0.0 0.5 0.0 0.5 0.0 0.5 0.0 0.5 0.0 0.5 0.0 0.5 0.0 0.5 0.0 0.5 0.0 0.5 0.0 0.5 0.0 0.5 0.0 0.5 0.0 0.5 0.0 0.5 0.0 0.5 0.0 0.5 0.0 0.5 0.0 0.5 0.0 0.5 0.0 0.5 0.0 0.5 0.0 0.5 0.0 0.5 0.0 0.5 0.0 0.5 0.0 0.5 0.0 0.5 0.0 0.5 0.0 0.5 0.0 0.5 0.0 0.5 0.0 0.5 0.0 0.5 0.0 0.5 0.0 0.5 0.0 0.5 0.0 0.5 0.0 0.5 0.0 0.5 0.0 0.5 0.0 0.5 0.0 0.5 0.0 0.5 -0.1 0.5 0.0 0.5 0.0 0.5 0.0 0.5 0.0 0.5 0.0 0.5 0.0 0.5 0.0 0.5 -0.1 0.5 0.0 0.5 0.0 0.5 0.0 0.2 0.0 0.2 0.0 0.1 0.0 0.1 0.0 0.2 0.0 0.2 0.0 0.0 0.0 0.2 0.0 0.2 0.0 0.1 0.0 0.1 0.0 0.2 0.0 0.2 -0.1 0.0 0.0 0.2 0.0 0.2 0.0 0.1 0.0 0.1 0.0 0.2 0.0 0.2 0.0 0.0 0.0 0.2 0.0 0.2 0.0 0.1 0.0 0.1 0.0 0.2 0.0 0.2 0.0 0.0 0.0 0.2 0.0 0.2 0.0 0.1 0.0 0.1 0.0 0.2 0.0 0.2 0.0 0.0 0.0 0.2 0.0 0.2 0.0 0.1 0.0 0.1 0.0 0.2 0.0 0.2 -0.1 0.0 0.0 0.2 0.0 0.2 0.0 0.1 0.0 0.1 0.0 0.2 0.0 0.2 0.0 0.0 0.0 0.2 0.0 0.2 0.0 0.1 0.0 0.1 0.0 0.2 0.0 0.2 0.0 0.0 0.0 0.2 0.0 0.2 0.0 0.1 0.0 0.1 0.0 0.2 0.0 0.2 0.0 0.0 0.0 0.2 0.0 0.2 0.0 0.1 0.0 0.1 0.0 0.2 0.0 0.2 0.0 0.0 0.0 0.2 0.0 0.2 0.0 0.1 0.0 0.1 0.0 0.2 0.1 0.2 0.1 0.0 0.0 0.2 0.2 0.2 0.2 0.1 0.1 0.1 0.1 0.2 0.2 0.2 0.2 0.0 0.0 0.2 0.3 0.2 0.3 0.1 0.1 0.1 0.1 0.2 0.3 0.2 0.3 0.0 0.0 0.2 0.3 0.2 0.3 0.1 0.1 0.1 0.2 0.2 0.2 0.2 0.3 0.0 0.0 0.2 0.2 0.2 0.2 0.1 0.1 0.1 0.1 0.2 0.2 0.2 0.1 0.0 0.0 0.2 0.1 0.2 0.1 0.1 0.0 0.1 0.0 0.2 -0.2 0.2 -0.5 0.0 0.0 0.2 -0.8 0.2 -1.0 0.1 -0.5 0.1 -0.6 0.2 -1.2 0.2 -1.3 0.0 0.0 0.2 -1.2 0.2 -1.1 0.1 -0.6 0.1 -0.4 0.2 -0.8 0.2 -0.5 0.0 0.0 0.2 -0.2 0.2 0.2 0.1 0.2 0.1 0.3 0.2 0.9 0.2 1.0 0.0 0.0 0.2 1.2 0.2 1.3 0.1 0.7 0.1 0.7 0.2 1.3 0.2 1.3 0.0 0.0 0.2 1.1 0.2 1.0 0.1 0.4 0.1 0.3 0.2 0.4 0.2 0.0 0.0 0.0 0.2 -0.2 0.2 -0.4 0.1 -0.2 0.1 -0.3 0.2 -0.7 0.2 -0.7 0.0 0.0 0.2 -0.9 0.2 -1.0 0.1 -0.5 0.1 -0.5 0.2 -1.1 0.2 -1.1 0.0 0.0 0.2 -1.1 0.2 -1.1 0.1 -0.5 0.1 -0.6 0.2 -1.0 0.2 -1.0 0.0 0.0 0.2 -0.9 0.2 -0.7 0.1 -0.4 0.1 -0.3 0.2 -0.5 0.2 -0.4 0.0 0.0 0.2 -0.2 0.2 0.1 0.1 0.3 0.1 0.4 0.2 1.2 0.2 1.8 0.0 0.0 0.2 2.0 0.2 2.3 0.1 1.2 0.1 1.1 0.2 2.4 0.2 2.1 0.0 0.0 0.2 1.9 0.2 1.5 0.1 0.6 0.1 0.4 0.2 0.4 0.2 -0.2 0.0 0.0 0.2 -0.6 0.2 -0.9 0.1 -0.6 0.1 -0.6 0.2 -1.3 0.2 -1.5 0.0 0.0 0.2 -1.5 0.2 -1.5 0.1 -0.7 0.1 -0.7 0.2 -1.2 0.2 -1.1 0.0 0.0 0.2 -0.7 0.2 -0.4 0.1 -0.1 0.1 0.0 0.2 0.1 0.2 0.2 0.0 0.0 0.2 0.2 0.2 0.3 0.1 0.2 0.1 0.2 0.2 0.4 0.2 0.4 0.0 0.0 0.2 0.5 0.2 0.5 0.1 0.2 0.1 0.3 0.2 0.5 0.2 0.5 0.0 0.0 0.2 0.5 0.2 0.4 0.1 0.2 0.1 0.2 0.2 0.4 0.2 0.3 0.0 0.0 0.2 0.3 0.2 0.2 0.1 0.1 0.1 0.1 0.2 0.0 0.2 0.0 0.0 0.0 0.2 0.0 0.2 0.0 0.1 0.0 0.1 0.0 0.2 0.0 0.2 -0.1 0.0 0.0 0.2 0.0 0.2 0.0 0.1 0.0 0.1 0.0 0.2 -0.1 0.2 0.0 0.0 0.0 0.2 0.0 0.2 -0.1 0.1 0.0 0.1 0.0 0.2 0.0 0.2 -0.1 0.0 0.0 0.2 0.0 0.2 -0.1 0.1 0.0 0.1 0.0 0.2 0.0 0.2 -0.1 0.0 0.0 0.2 0.0 0.2 -0.1 0.1 0.0 0.1 0.0 0.2 -0.1 0.2 0.0 0.0 0.0 0.2 0.0 0.2 -0.1 0.1 0.0 0.1 0.0 0.2 -0.1 0.2 0.0 0.0 0.0 0.2 0.0 0.2 -0.1 0.1 0.0 0.1 0.0 0.2 0.0 0.2 -0.1 0.0 0.0 0.2 0.0 0.2 0.0 0.1 0.0 0.1 0.0 0.2 -0.1 0.2 0.0 0.0 0.0 0.2 0.0 0.2 0.0 0.1 0.0 0.1 0.0 0.2 0.0 0.2 0.0 0.0 0.0 0.2 -0.1 0.2 0.0 0.1 0.0 0.1 0.0 0.2 0.0 0.2 0.0 0.0 0.0 0.2 0.0 0.2 0.0 0.1 0.0 0.1 0.0 0.2 0.0 0.2 0.0 0.0 0.0 0.2 -0.1 0.2 0.0 0.1 0.0 0.1 0.0 0.2 0.0 0.2 0.0 0.0 0.0 0.2 0.0 0.2 0.0 0.1 0.0 0.1 0.0 0.2 0.0 0.2 0.0 0.0 0.0 0.2 -0.1 0.2 0.0 0.1 0.0 0.1 0.0 0.2 0.0 0.2 0.0 0.0 0.0 0.2 0.0 0.2 0.0 0.1 0.0 0.1 0.0 0.2 0.0 0.2 0.0 0.5 -0.1 0.5 0.0 0.5 0.0 0.5 0.0 0.5 0.0 0.5 -0.1 0.5 0.0 0.5 0.0 0.5 0.0 0.5 0.0 0.5 0.0 0.5 -0.1 0.5 0.0 0.5 0.0 0.5 0.0 0.5 0.0 0.5 0.0 0.5 0.0 0.5 -0.1 0.5 0.0 0.5 0.0 0.5 0.0 0.5 0.0 0.5 0.0 0.5 0.0 0.5 0.0 0.5 0.0 0.5 0.0 0.5 -0.1 0.5 0.0 0.5 0.0 0.5 0.0 0.5 0.0 0.5 0.0 0.5 0.0 0.5 0.0 0.5 0.0 0.5 0.0 0.5 0.0 0.5 0.0 0.5 0.0 0.5 0.0 0.5 0.0 0.5 0.0 0.5 0.0 0.5 0.0 0.5 0.0 0.5 0.0 0.5 0.0 0.5 0.0 0.5 0.0 0.5 0.0 0.5 0.0 0.5 0.0 0.5 0.0 0.5 0.0 0.5 0.0 0.5 0.0 0.5 0.0 0.5 0.0 0.5 0.0 0.5 0.0 0.5 0.0 0.5 0.0 0.5 0.0 0.5 0.0 0.5 0.0 0.5 0.0 0.5 -0.1 0.5 0.0 0.5 0.0 0.5 0.0 0.5 0.0 0.5 0.0 0.5 0.0 0.5 0.0 0.5 0.0 0.5 0.0 0.5 0.0 0.5 0.0 0.5 0.0 0.5 0.0 0.5 0.0 0.5 0.0 0.5 0.0 0.5 0.0 0.5 0.0 0.5 0.0 0.5 0.0 0.5 0.0 0.5 0.0 0.5 0.0 0.5 0.0 0.5 0.0 0.5 0.0 0.5 0.0 0.5 0.0 0.5 0.0 0.5 0.0 0.5 0.0 0.5 0.0 0.5 0.0 0.5 0.0 0.5 0.0 0.5 0.0 0.5 0.0 0.5 0.0 0.5 0.0 0.5 0.0 0.5 0.0 0.5 0.0 0.5 0.0 0.5 0.0 0.5 0.0 0.5 0.0 0.5 0.0 0.5 1.1 0.5 -0.6 0.5 -1.5 0.5 0.0 0.5 1.5 0.5 0.6 0.5 -1.2 0.5 -1.1 0.5 0.7 0.5 1.4 0.5 0.0 0.5 -1.5 0.5 -0.6 0.5 1.2 0.5 1.1 0.5 -0.7 0.5 -1.4 0.5 0.1 0.5 1.4 0.5 0.6 0.5 -1.2 0.5 -1.1 0.5 0.7 0.5 0.4 0.5 0.0 0.5 0.0 0.5 0.0 0.5 0.0 0.5 0.0 0.5 0.0 0.5 0.0 0.5 0.0 0.5 0.0 0.5 0.0 0.5 0.0 0.5 0.0 0.5 0.0 0.5 0.0 0.5 0.0 0.5 0.0 0.5 0.0 0.5 0.0 0.5 0.0 0.5 0.0 0.5 0.0 0.5 0.0 0.5 0.0 0.5 0.0 0.5 0.0 0.5 0.0 0.5 0.0 0.5 0.0 0.5 0.0 0.5 0.0 0.5 0.0 0.5 0.0 0.5 0.0 0.5 0.0 0.5 0.0 0.5 0.0 0.5 0.0 0.5 0.0 0.5 0.0 0.5 0.0 0.5 0.0 0.5 0.0 0.5 0.0 0.5 0.0 0.5 0.0 0.5 0.0 0.5 0.0 0.5 0.0 0.5 0.0 0.5 0.0 0.5 0.0 0.5 0.0 0.5 0.0 0.5 0.0 0.5 0.0 0.5 0.0 0.5 0.0 0.5 0.0 0.5 0.0 0.5 0.0 0.5 0.0 0.5 0.0 0.5 0.0 0.5 0.0 0.5 0.0 0.5 0.0 0.5 0.0 0.5 0.0 0.5 0.0 0.5 0.0 0.5 0.0 0.5 0.0 0.5 0.0 0.5 0.0 0.5 0.0 0.5 0.0 0.5 0.0 0.5 0.0 0.5 0.0 0.5 0.0 0.5 -0.1 0.5 0.0 0.5 0.0 0.5 0.0 0.5 0.0 0.5 0.0 0.5 0.0 0.5 0.0 0.5 0.0 0.5 0.0 0.5 0.0 0.5 0.0 0.5 0.0 0.5 0.0 0.5 0.0 0.5 0.0 0.5 0.0 0.5 0.0 0.5 0.0 0.5 0.0 0.5 0.0 0.5 0.0 0.5 0.0 0.5 0.0 0.5 0.0 0.5 0.0 0.5 0.0 0.5 0.0 0.5 0.0 0.5 0.0 0.5 0.0 0.5 0.0 0.5 0.0 0.5 0.0 0.5 0.0 0.5 0.0 0.5 0.0 0.5 0.0 0.5 0.0 0.5 0.0 0.5 0.0 0.5 0.0 0.5 0.0 0.5 0.0 0.5 0.0 0.5 0.0 0.5 0.0 0.5 0.0 0.5 0.0 0.5 0.0 0.5 0.0 0.5 0.0 0.5 0.0 0.5 0.0 0.5 0.0 0.5 0.0 0.5 0.0 0.5 0.0 0.5 0.0 0.5 0.0 0.5 0.0 0.5 0.0 0.5 0.0 0.5 0.0 0.5 0.0 0.5 0.0 0.5 0.0 0.5 0.0 0.5 0.0 0.5 0.0 0.5 0.0 0.5 0.0 0.5 0.0 0.5 0.0 0.5 0.0 0.5 0.0 0.5 0.0 0.5 0.0 0.5 0.0 0.5 0.0 0.5 0.0 0.5 0.0 0.5 0.0 0.5 0.0 0.5 0.0 0.5 0.0 0.5 0.0 0.5 0.0 0.5 0.0 0.5 0.0 0.5 0.0 0.5 0.0 0.5 0.0 0.5 0.0 0.5 0.0 0.5 0.0 0.5 0.0 0.5 0.0 0.5 0.0 0.5 0.0 0.5 0.0 0.5 0.0 0.5 0.0 0.5 0.0 0.5 0.0 0.5 0.0 0.5 0.0 0.5 0.0 0.5 0.0 0.5 0.0 0.5 0.0 0.5 0.0 0.5 0.0 0.5 0.0 0.5 0.0 0.5 0.0 0.5 0.0 0.5 0.0 0.5 0.0 0.5 0.0 0.5 0.0 0.5 0.0 0.5 0.0 0.5 0.0 0.5 0.0 0.5 0.0 0.5 0.0 0.5 0.0 0.5 0.0 0.5 0.0 0.5 0.0 0.5 0.0 0.5 0.0 0.5 0.0 0.5 0.0 0.5 0.0 0.5 0.0 0.5 0.0 0.5 -0.1 0.5 0.0 0.5 0.0 0.5 0.0 0.5 0.0 0.5 0.0 0.5 0.0 0.5 0.0 0.5 0.0 0.5 0.0 0.5 0.0 0.5 0.0 0.5 0.0 0.5 0.0 0.5 0.0 0.5 0.0 0.5 0.0 0.5 0.0 0.5 0.0 0.5 0.0 0.5 0.0 0.5 0.0 0.5 0.0 0.5 0.0 0.5 0.0 0.5 0.0 0.5 0.0 0.5 0.0 0.5 0.0 0.5 0.0 0.5 0.0 0.5 0.0 0.5 0.0 0.5 0.0 0.5 0.0 0.5 0.0 0.5 0.0 0.5 0.0 0.5 0.0 0.5 0.0 0.5 0.0 0.5 0.0 0.5 0.0 0.5 0.0 0.5 0.0 0.5 0.0 0.5 0.0 0.5 0.0 0.5 0.0 0.5 0.0 0.5 0.0 0.5 0.0 0.5 0.0 0.5 0.0 0.5 0.0 0.5 0.0 0.5 0.0 0.5 0.0 0.5 0.0 0.5 0.0 0.5 0.0 0.5 0.0 0.5 0.0 0.5 0.0 0.5 0.0 0.5 0.0 0.5 0.0 0.5 0.0 0.5 0.0 0.5 0.0 0.5 0.0 0.5 0.0 0.5 0.0 0.5 0.0 0.5 0.0 0.5 0.0 0.5 0.0 0.5 0.0 0.5 0.0 0.5 0.0 0.5 0.0 0.5 0.0 0.5 0.0 0.5 0.0 0.5 0.0 0.5 0.0 0.5 0.0 0.5 0.0 0.5 0.0 0.5 0.0 0.5 0.0 0.5 0.0 0.5 0.0 0.5 0.0 0.5 0.0 0.5 0.0 0.5 0.0 0.5 0.0 0.5 0.0 0.5 0.0 0.5 0.0 0.5 0.0 0.5 0.0 0.5 0.0 0.5 0.0 0.5 0.0 0.5 0.0 0.5 0.0 0.5 0.0 0.5 0.0 0.5 0.0 0.5 0.0 0.5 0.0 0.5 0.0 0.5 0.0 0.5 0.0 0.5 0.0 0.5 0.0 0.5 0.0 0.5 0.0 0.5 0.0 0.5 0.0 0.5 0.0 0.5 0.0 0.5 0.0 0.5 0.0 0.5 0.0 0.5 0.0 0.5 0.0 0.5 0.0 0.5 0.0 0.5 0.0 0.5 0.0 0.5 0.0 0.5 0.0 0.5 0.0 0.5 0.0 0.5 0.0 0.5 0.0 0.5 0.0 0.5 0.0 0.5 0.0 0.5 0.0 0.5 0.0 0.5 0.0 0.5 0.0 0.5 0.0 0.5 0.0 0.5 0.0 0.5 0.0 0.5 0.0 0.5 0.0 0.5 0.0 0.5 0.0 0.5 0.0 0.5 0.0 0.5 0.0 0.5 0.0 0.5 0.0 0.5 0.0 0.5 0.0 0.5 0.0 0.5 0.0 0.5 0.0 0.5 0.0 0.5 0.0 0.5 0.0 0.5 0.0 0.5 0.0 0.5 0.0 0.5 0.0 0.5 0.0 0.5 0.0 0.5 0.0 0.5 0.0 0.5 0.0 0.5 0.0 0.5 0.0 0.5 0.0 0.5 0.0 0.5 0.0 0.5 0.0 0.5 0.0 0.5 0.0 0.5 0.0 0.5 0.0 0.5 0.0 0.5 0.0 0.5 0.0 0.5 0.0 0.5 0.0 0.5 0.0 0.5 0.0 0.5 0.0 0.5 0.0 0.5 0.0 0.5 0.0 0.5 0.0 0.5 0.0 0.5 0.0 0.5 0.0 0.5 0.0 0.5 0.0 0.5 0.0 0.5 0.0 0.5 0.0 0.5 0.0 0.5 0.0 0.5 0.0 0.5 0.0 0.5 0.0 0.5 0.0 0.5 0.0 0.5 0.0 0.5 0.0 0.5 0.0 0.5 0.0 0.5 0.0 0.5 0.0 0.5 0.0 0.5 0.0 0.5 0.0 0.5 0.0 0.5 0.0 0.5 0.0 0.5 0.0 0.5 0.0 0.5 0.0 0.5 0.0 0.5 0.0 0.5 0.0 0.5 0.0 0.5 0.0 0.5 0.0 0.5 0.0 0.5 0.0" fill="none" stroke="#167d3c" stroke-width="2.2" stroke-linejoin="round" />
<path d="M64.0 458.3l0.5 0.0 0.5 0.0 0.5 0.0 0.5 0.0 0.5 0.0 0.5 0.0 0.5 0.0 0.5 0.0 0.5 0.0 0.5 0.0 0.5 0.0 0.5 0.0 0.5 0.0 0.5 0.0 0.5 0.0 0.5 0.0 0.5 0.0 0.5 0.0 0.5 0.0 0.5 0.0 0.5 0.0 0.5 0.0 0.5 0.0 0.5 0.0 0.5 0.0 0.5 0.0 0.5 0.0 0.5 0.0 0.5 0.0 0.5 0.0 0.5 0.0 0.5 0.0 0.5 0.0 0.5 0.0 0.5 0.0 0.5 0.0 0.5 0.0 0.5 0.0 0.5 0.0 0.5 0.0 0.5 0.0 0.5 0.0 0.5 0.0 0.5 0.0 0.5 0.0 0.5 0.0 0.5 0.0 0.5 0.0 0.5 0.0 0.5 0.0 0.5 0.0 0.5 0.0 0.5 0.0 0.5 0.0 0.5 0.0 0.5 0.0 0.5 0.0 0.5 0.0 0.5 0.0 0.5 0.0 0.5 0.0 0.5 0.0 0.5 0.0 0.5 0.0 0.5 0.0 0.5 0.0 0.5 0.0 0.5 0.0 0.5 0.0 0.5 0.0 0.5 0.0 0.5 0.0 0.5 0.0 0.5 0.0 0.5 0.0 0.5 0.0 0.5 0.0 0.5 0.0 0.5 0.0 0.5 0.0 0.5 0.0 0.5 0.0 0.5 0.0 0.5 0.0 0.5 0.0 0.5 0.0 0.5 0.0 0.5 0.0 0.5 0.0 0.5 0.0 0.5 0.0 0.5 0.0 0.5 0.0 0.5 0.0 0.5 0.0 0.5 0.0 0.5 0.0 0.5 0.0 0.5 0.0 0.5 0.0 0.5 0.0 0.5 0.0 0.5 0.0 0.5 0.0 0.5 0.0 0.5 0.0 0.5 0.0 0.5 0.0 0.5 0.0 0.5 0.0 0.5 0.0 0.5 0.0 0.5 0.0 0.5 0.0 0.5 0.0 0.5 0.0 0.5 0.0 0.5 0.0 0.5 0.0 0.5 0.0 0.5 0.0 0.5 0.0 0.5 0.0 0.5 0.0 0.5 0.0 0.5 0.0 0.5 0.0 0.5 0.0 0.5 0.0 0.5 0.0 0.5 0.0 0.5 0.0 0.5 0.0 0.5 0.0 0.5 0.0 0.5 0.0 0.5 0.0 0.5 0.0 0.5 0.0 0.5 0.0 0.5 0.0 0.5 0.0 0.5 0.0 0.5 0.0 0.5 0.0 0.5 0.0 0.5 0.0 0.5 0.0 0.5 0.0 0.5 0.0 0.5 0.0 0.5 0.0 0.5 0.0 0.5 0.0 0.5 0.0 0.5 0.0 0.5 0.0 0.5 0.0 0.5 0.0 0.5 0.0 0.5 0.0 0.5 0.0 0.5 0.0 0.5 0.0 0.5 0.0 0.5 0.0 0.5 0.0 0.5 0.0 0.5 0.0 0.5 0.0 0.5 0.0 0.5 0.0 0.5 0.0 0.5 0.0 0.5 0.0 0.5 0.0 0.5 0.0 0.5 0.0 0.5 0.0 0.5 0.0 0.5 0.0 0.5 0.0 0.5 0.0 0.5 0.0 0.5 0.0 0.5 0.0 0.5 0.0 0.5 0.0 0.5 0.0 0.5 0.0 0.5 0.0 0.5 0.0 0.5 0.0 0.5 0.0 0.5 0.0 0.5 0.0 0.5 0.0 0.5 0.0 0.5 0.0 0.5 0.0 0.5 0.0 0.5 0.0 0.5 0.0 0.5 0.1 0.5 0.0 0.5 0.0 0.5 0.0 0.5 0.0 0.5 0.0 0.5 0.0 0.5 0.0 0.5 0.0 0.5 0.0 0.5 0.0 0.5 0.0 0.5 0.0 0.5 0.0 0.5 0.0 0.5 0.0 0.5 0.0 0.5 0.0 0.5 0.0 0.5 0.0 0.5 0.0 0.5 0.9 0.5 -0.5 0.5 -1.2 0.5 0.0 0.5 1.2 0.5 0.5 0.5 -1.0 0.5 -0.9 0.5 0.6 0.5 0.4 0.5 0.0 0.5 0.0 0.5 0.0 0.5 0.0 0.5 0.0 0.5 0.0 0.5 0.0 0.5 0.0 0.5 0.0 0.5 0.0 0.5 0.0 0.5 0.0 0.5 0.0 0.5 0.0 0.5 0.0 0.5 0.0 0.5 0.0 0.5 0.0 0.5 0.0 0.5 0.0 0.5 0.0 0.5 0.0 0.5 0.0 0.5 0.0 0.5 0.0 0.5 0.0 0.5 0.0 0.5 0.0 0.5 0.0 0.5 0.0 0.5 0.0 0.5 0.0 0.5 0.0 0.5 0.0 0.5 0.0 0.5 0.0 0.5 0.0 0.5 0.0 0.5 0.0 0.5 0.0 0.5 0.0 0.5 0.0 0.5 0.0 0.5 0.0 0.5 0.0 0.5 0.0 0.5 0.0 0.5 0.0 0.5 0.0 0.5 0.0 0.5 0.0 0.5 0.0 0.5 0.0 0.5 0.0 0.5 0.0 0.5 0.0 0.5 0.0 0.5 0.0 0.5 0.0 0.5 0.0 0.5 0.0 0.5 0.0 0.5 0.0 0.5 0.0 0.5 0.0 0.5 0.0 0.5 0.0 0.5 0.0 0.5 0.0 0.5 0.0 0.5 0.0 0.5 0.0 0.5 0.0 0.5 0.0 0.5 0.0 0.5 0.0 0.5 0.0 0.5 0.0 0.5 0.0 0.5 0.0 0.5 0.0 0.5 0.0 0.5 0.0 0.5 0.0 0.5 0.0 0.5 0.0 0.5 0.0 0.5 0.0 0.5 0.0 0.5 0.0 0.5 0.0 0.5 0.0 0.5 0.0 0.5 0.0 0.5 0.0 0.5 0.0 0.5 0.0 0.5 0.0 0.5 0.0 0.5 0.0 0.5 0.0 0.5 0.0 0.5 0.0 0.5 0.0 0.5 0.0 0.5 0.0 0.5 0.0 0.5 0.0 0.5 0.1 0.5 0.0 0.5 0.0 0.5 0.0 0.5 0.0 0.5 0.0 0.5 0.0 0.5 0.0 0.5 0.0 0.5 0.0 0.5 0.0 0.5 0.0 0.5 0.0 0.5 0.0 0.5 0.0 0.5 0.0 0.5 0.0 0.5 0.0 0.5 0.0 0.5 0.0 0.5 0.0 0.5 0.0 0.5 0.0 0.5 0.0 0.5 0.0 0.5 0.0 0.5 0.0 0.5 0.0 0.5 0.0 0.5 0.0 0.5 0.0 0.5 0.0 0.5 0.0 0.5 0.0 0.5 0.0 0.5 0.0 0.5 0.0 0.5 0.0 0.5 0.0 0.5 0.0 0.5 0.0 0.5 0.0 0.5 0.0 0.5 0.0 0.5 0.0 0.5 0.0 0.5 0.0 0.5 0.0 0.5 0.0 0.5 0.0 0.5 0.0 0.5 0.0 0.5 0.0 0.5 0.0 0.5 0.0 0.5 0.0 0.5 0.0 0.5 0.0 0.5 0.0 0.5 0.0 0.5 0.0 0.5 0.0 0.5 0.0 0.5 0.0 0.5 0.0 0.5 0.0 0.5 0.0 0.5 0.0 0.5 0.0 0.5 0.0 0.5 0.0 0.5 0.0 0.5 0.0 0.5 0.0 0.5 0.0 0.5 0.0 0.5 0.0 0.5 0.0 0.5 0.0 0.5 0.0 0.5 0.0 0.5 0.0 0.5 0.0 0.5 0.0 0.5 0.0 0.5 0.0 0.5 0.0 0.5 0.0 0.5 0.0 0.5 0.0 0.5 0.0 0.5 0.0 0.5 0.1 0.5 0.0 0.5 0.0 0.5 0.0 0.5 0.0 0.5 0.0 0.5 0.0 0.5 0.0 0.5 0.0 0.5 0.0 0.5 0.0 0.5 0.0 0.5 0.0 0.5 0.0 0.5 0.0 0.5 0.0 0.5 0.0 0.5 0.0 0.5 0.0 0.5 0.0 0.5 0.0 0.5 0.0 0.5 0.0 0.5 0.0 0.5 0.0 0.5 0.0 0.5 0.0 0.5 0.0 0.5 0.0 0.5 0.0 0.5 0.0 0.5 0.0 0.5 0.0 0.5 0.0 0.5 0.0 0.5 0.0 0.5 0.0 0.5 0.0 0.5 0.0 0.5 0.0 0.5 0.0 0.5 0.0 0.5 0.0 0.5 0.0 0.5 0.0 0.5 0.0 0.5 0.0 0.5 0.0 0.5 0.0 0.5 0.0 0.5 0.0 0.5 0.1 0.5 0.0 0.5 0.0 0.5 0.0 0.5 0.0 0.5 0.0 0.5 0.0 0.5 0.0 0.5 0.0 0.5 0.0 0.5 0.0 0.5 0.0 0.5 0.0 0.5 0.0 0.5 0.1 0.5 0.0 0.5 0.0 0.5 0.0 0.5 0.0 0.5 0.0 0.5 0.0 0.5 0.0 0.5 0.0 0.5 0.1 0.5 0.0 0.5 0.0 0.5 0.0 0.5 0.0 0.5 0.0 0.5 0.0 0.5 0.0 0.5 0.0 0.5 0.1 0.5 0.0 0.5 0.0 0.5 0.0 0.5 0.0 0.5 1.0 0.5 -0.5 0.5 -1.2 0.5 0.0 0.5 1.2 0.5 0.6 0.5 -1.0 0.5 -1.0 0.5 0.6 0.5 0.5 0.5 0.0 0.5 0.0 0.5 0.0 0.5 0.0 0.5 0.0 0.5 0.0 0.5 0.1 0.5 0.0 0.5 0.0 0.5 0.0 0.5 0.0 0.5 0.0 0.5 0.1 0.5 0.0 0.5 0.0 0.5 0.0 0.5 0.0 0.5 0.0 0.5 0.1 0.5 0.0 0.5 0.0 0.5 0.0 0.5 0.0 0.5 0.0 0.5 0.1 0.5 0.0 0.5 0.0 0.5 0.0 0.5 0.0 0.5 0.0 0.5 0.0 0.5 0.1 0.5 0.0 0.5 0.0 0.5 0.0 0.5 0.0 0.5 0.0 0.5 0.1 0.5 0.0 0.5 0.0 0.5 0.0 0.5 0.0 0.5 0.0 0.5 0.1 0.5 0.0 0.5 0.0 0.5 0.0 0.5 0.0 0.5 0.0 0.5 0.1 0.5 0.0 0.5 0.0 0.5 0.0 0.5 0.0 0.5 0.0 0.5 0.0 0.5 0.1 0.5 0.0 0.5 0.0 0.5 0.0 0.5 0.0 0.5 0.0 0.5 0.0 0.5 0.1 0.5 0.0 0.5 0.0 0.5 0.0 0.5 0.0 0.5 0.0 0.5 0.0 0.5 0.1 0.5 0.0 0.5 0.0 0.5 0.0 0.5 0.0 0.5 0.0 0.5 0.0 0.5 0.0 0.5 0.0 0.5 0.1 0.5 0.0 0.5 0.0 0.5 0.0 0.5 0.0 0.5 0.0 0.5 0.0 0.5 0.0 0.5 0.0 0.5 0.1 0.5 0.0 0.5 0.0 0.5 0.0 0.5 0.0 0.5 0.0 0.5 0.0 0.5 0.0 0.5 0.0 0.5 0.0 0.5 0.0 0.5 0.0 0.2 0.0 0.2 0.0 0.1 0.0 0.1 0.0 0.2 0.0 0.2 0.0 0.0 0.0 0.2 0.0 0.2 0.1 0.1 0.0 0.1 0.0 0.2 0.0 0.2 0.0 0.0 0.0 0.2 0.0 0.2 0.0 0.1 0.0 0.1 0.0 0.2 0.0 0.2 0.0 0.0 0.0 0.2 0.0 0.2 0.0 0.1 0.0 0.1 0.0 0.2 0.0 0.2 0.0 0.0 0.0 0.2 0.0 0.2 0.0 0.1 0.0 0.1 0.0 0.2 0.0 0.2 0.0 0.0 0.0 0.2 0.0 0.2 0.0 0.1 0.0 0.1 0.0 0.2 0.0 0.2 0.0 0.0 0.0 0.2 0.0 0.2 0.0 0.1 0.0 0.1 0.0 0.2 0.0 0.2 0.0 0.0 0.0 0.2 0.0 0.2 0.0 0.1 0.0 0.1 0.0 0.2 0.0 0.2 0.0 0.0 0.0 0.2 0.0 0.2 0.0 0.1 0.0 0.1 0.0 0.2 0.0 0.2 0.0 0.0 0.0 0.2 0.0 0.2 0.0 0.1 0.0 0.1 0.0 0.2 0.0 0.2 0.0 0.0 0.0 0.2 0.0 0.2 0.0 0.1 0.0 0.1 0.0 0.2 -0.1 0.2 0.0 0.0 0.0 0.2 0.0 0.2 -0.1 0.1 0.0 0.1 0.0 0.2 -0.1 0.2 0.0 0.0 0.0 0.2 -0.1 0.2 -0.1 0.1 0.0 0.1 0.0 0.2 -0.1 0.2 -0.1 0.0 0.0 0.2 -0.1 0.2 -0.1 0.1 0.0 0.1 -0.1 0.2 -0.3 0.2 -0.3 0.0 0.0 0.2 -0.5 0.2 -0.5 0.1 -0.2 0.1 -0.3 0.2 -0.6 0.2 -0.6 0.0 0.0 0.2 -0.7 0.2 -0.7 0.1 -0.4 0.1 -0.3 0.2 -0.8 0.2 -0.7 0.0 0.0 0.2 -0.7 0.2 -0.7 0.1 -0.4 0.1 -0.3 0.2 -0.7 0.2 -0.6 0.0 0.0 0.2 -0.6 0.2 -0.5 0.1 -0.3 0.1 -0.2 0.2 -0.4 0.2 -0.4 0.0 0.0 0.2 -0.2 0.2 -0.1 0.1 -0.1 0.1 0.0 0.2 0.1 0.2 0.3 0.0 0.0 0.2 0.4 0.2 0.6 0.1 0.3 0.1 0.4 0.2 0.8 0.2 1.0 0.0 0.0 0.2 1.0 0.2 1.2 0.1 0.5 0.1 0.6 0.2 1.3 0.2 1.3 0.0 0.0 0.2 1.3 0.2 1.3 0.1 0.6 0.1 0.7 0.2 1.3 0.2 1.2 0.0 0.0 0.2 1.3 0.2 1.1 0.1 0.6 0.1 0.5 0.2 1.0 0.2 0.9 0.0 0.0 0.2 0.8 0.2 0.6 0.1 0.3 0.1 0.2 0.2 0.4 0.2 0.2 0.0 0.0 0.2 0.0 0.2 -0.2 0.1 -0.1 0.1 -0.1 0.2 -0.4 0.2 -0.5 0.0 0.0 0.2 -0.5 0.2 -0.7 0.1 -0.3 0.1 -0.4 0.2 -0.8 0.2 -0.8 0.0 0.0 0.2 -0.9 0.2 -0.9 0.1 -0.5 0.1 -0.5 0.2 -0.9 0.2 -1.0 0.0 0.0 0.2 -0.9 0.2 -0.9 0.1 -0.5 0.1 -0.4 0.2 -0.9 0.2 -0.8 0.0 0.0 0.2 -0.8 0.2 -0.7 0.1 -0.3 0.1 -0.3 0.2 -0.5 0.2 -0.4 0.0 0.0 0.2 -0.3 0.2 -0.2 0.1 -0.1 0.1 0.0 0.2 0.1 0.2 0.4 0.0 0.0 0.2 0.5 0.2 0.7 0.1 0.4 0.1 0.5 0.2 0.9 0.2 1.0 0.0 0.0 0.2 1.1 0.2 1.0 0.1 0.6 0.1 0.5 0.2 1.0 0.2 0.9 0.0 0.0 0.2 0.7 0.2 0.7 0.1 0.2 0.1 0.2 0.2 0.3 0.2 0.0 0.0 0.0 0.2 0.0 0.2 -0.1 0.1 -0.1 0.1 0.0 0.2 -0.2 0.2 -0.2 0.0 0.0 0.2 -0.2 0.2 -0.2 0.1 -0.1 0.1 -0.2 0.2 -0.3 0.2 -0.3 0.0 0.0 0.2 -0.3 0.2 -0.3 0.1 -0.2 0.1 -0.2 0.2 -0.3 0.2 -0.4 0.0 0.0 0.2 -0.4 0.2 -0.4 0.1 -0.2 0.1 -0.2 0.2 -0.4 0.2 -0.4 0.0 0.0 0.2 -0.4 0.2 -0.4 0.1 -0.2 0.1 -0.2 0.2 -0.4 0.2 -0.3 0.0 0.0 0.2 -0.4 0.2 -0.3 0.1 -0.2 0.1 -0.1 0.2 -0.3 0.2 -0.3 0.0 0.0 0.2 -0.3 0.2 -0.2 0.1 -0.1 0.1 -0.1 0.2 -0.2 0.2 -0.2 0.0 0.0 0.2 -0.1 0.2 -0.1 0.1 0.0 0.1 0.0 0.2 0.0 0.2 0.0 0.0 0.0 0.2 0.0 0.2 0.0 0.1 0.0 0.1 0.0 0.2 0.1 0.2 0.0 0.0 0.0 0.2 0.0 0.2 0.0 0.1 0.0 0.1 0.1 0.2 0.0 0.2 0.0 0.0 0.0 0.2 0.1 0.2 0.0 0.1 0.0 0.1 0.1 0.2 0.0 0.2 0.0 0.0 0.0 0.2 0.1 0.2 0.0 0.1 0.1 0.1 0.0 0.2 0.1 0.2 0.0 0.0 0.0 0.2 0.1 0.2 0.0 0.1 0.1 0.1 0.0 0.2 0.1 0.2 0.0 0.0 0.0 0.2 0.1 0.2 0.0 0.1 0.1 0.1 0.0 0.2 0.1 0.2 0.0 0.0 0.0 0.2 0.1 0.2 0.1 0.1 0.0 0.1 0.0 0.2 0.1 0.2 0.1 0.0 0.0 0.2 0.0 0.2 0.1 0.1 0.0 0.1 0.1 0.2 0.0 0.2 0.1 0.0 0.0 0.2 0.0 0.2 0.1 0.1 0.0 0.1 0.1 0.2 0.0 0.2 0.1 0.5 0.1 0.5 0.1 0.5 0.1 0.5 0.1 0.5 0.1 0.5 0.1 0.5 0.0 0.5 0.1 0.5 0.0 0.5 0.0 0.5 0.1 0.5 0.0 0.5 0.1 0.5 0.0 0.5 0.0 0.5 0.1 0.5 0.0 0.5 0.0 0.5 0.1 0.5 0.0 0.5 0.0 0.5 0.1 0.5 0.0 0.5 0.0 0.5 0.1 0.5 0.0 0.5 0.0 0.5 0.0 0.5 0.1 0.5 0.0 0.5 0.0 0.5 0.0 0.5 0.1 0.5 0.0 0.5 0.0 0.5 0.0 0.5 0.0 0.5 0.1 0.5 0.0 0.5 0.0 0.5 0.0 0.5 0.0 0.5 0.0 0.5 0.0 0.5 0.1 0.5 0.0 0.5 0.0 0.5 0.0 0.5 0.0 0.5 0.0 0.5 0.0 0.5 0.0 0.5 0.0 0.5 0.0 0.5 0.0 0.5 0.0 0.5 0.0 0.5 0.0 0.5 0.0 0.5 0.0 0.5 0.0 0.5 0.0 0.5 0.0 0.5 0.0 0.5 0.0 0.5 0.0 0.5 0.0 0.5 0.0 0.5 0.0 0.5 0.0 0.5 0.0 0.5 0.0 0.5 0.0 0.5 0.0 0.5 0.0 0.5 0.0 0.5 0.0 0.5 0.0 0.5 0.0 0.5 0.0 0.5 0.0 0.5 0.0 0.5 0.0 0.5 0.0 0.5 0.0 0.5 0.0 0.5 0.0 0.5 0.0 0.5 0.0 0.5 0.0 0.5 0.0 0.5 0.0 0.5 0.0 0.5 0.0 0.5 0.0 0.5 0.0 0.5 0.0 0.5 0.0 0.5 0.0 0.5 0.0 0.5 0.0 0.5 0.0 0.5 0.0 0.5 0.0 0.5 0.0 0.5 0.0 0.5 0.0 0.5 0.1 0.5 0.0 0.5 0.0 0.5 0.0 0.5 0.0 0.5 0.0 0.5 0.0 0.5 0.0 0.5 0.0 0.5 0.0 0.5 0.0 0.5 0.0 0.5 0.0 0.5 0.0 0.5 0.0 0.5 0.0 0.5 0.0 0.5 0.0 0.5 0.0 0.5 0.0 0.5 0.0 0.5 0.0 0.5 0.0 0.5 0.0 0.5 0.0 0.5 0.0 0.5 0.0 0.5 0.0 0.5 0.0 0.5 0.0 0.5 0.0 0.5 0.0 0.5 0.0 0.5 0.0 0.5 0.0 0.5 0.0 0.5 0.0 0.5 0.0 0.5 0.0 0.5 0.0 0.5 0.0 0.5 0.0 0.5 0.0 0.5 0.0 0.5 0.0 0.5 0.0 0.5 0.0 0.5 0.0 0.5 0.0 0.5 0.0 0.5 0.0 0.5 0.0 0.5 0.0 0.5 0.0 0.5 0.0 0.5 0.0 0.5 0.0 0.5 0.0 0.5 0.0 0.5 0.0 0.5 0.0 0.5 0.0 0.5 0.0 0.5 0.0 0.5 0.0 0.5 0.0 0.5 0.0 0.5 0.0 0.5 0.0 0.5 0.0 0.5 0.0 0.5 0.0 0.5 0.0 0.5 0.0 0.5 0.0 0.5 0.0 0.5 0.0 0.5 0.0 0.5 0.0 0.5 0.0 0.5 0.0 0.5 0.0 0.5 0.0 0.5 0.0 0.5 0.0 0.5 0.0 0.5 0.0 0.5 0.0 0.5 0.0 0.5 0.0 0.5 0.0 0.5 0.0 0.5 0.0 0.5 0.0 0.5 0.0 0.5 0.0 0.5 0.0 0.5 0.0 0.5 0.0 0.5 0.0 0.5 0.0 0.5 0.0 0.5 0.0 0.5 0.0 0.5 0.0 0.5 0.0 0.5 0.0 0.5 0.0 0.5 0.0 0.5 0.0 0.5 0.0 0.5 0.0 0.5 0.0 0.5 0.0 0.5 0.0 0.5 0.0 0.5 0.0 0.5 0.0 0.5 0.0 0.5 0.0 0.5 0.0 0.5 0.0 0.5 0.0 0.5 0.0 0.5 0.0 0.5 0.0 0.5 0.0 0.5 0.0 0.5 0.0 0.5 0.0 0.5 0.0 0.5 0.0 0.5 0.0 0.5 0.0 0.5 0.0 0.5 0.0 0.5 0.0 0.5 0.0 0.5 0.0 0.5 0.0 0.5 0.0 0.5 0.0 0.5 0.0 0.5 0.0 0.5 0.0 0.5 0.0 0.5 0.0 0.5 0.0 0.5 0.0 0.5 0.0 0.5 0.0 0.5 0.0 0.5 0.0 0.5 0.0 0.5 0.0 0.5 0.0 0.5 0.0 0.5 0.0 0.5 0.0 0.5 0.0 0.5 0.0 0.5 0.0 0.5 0.0 0.5 0.0 0.5 0.0 0.5 0.0 0.5 0.1 0.5 0.0 0.5 0.0 0.5 0.0 0.5 0.0 0.5 0.0 0.5 0.0 0.5 0.0 0.5 0.0 0.5 0.0 0.5 0.0 0.5 0.0 0.5 0.0 0.5 0.0 0.5 0.0 0.5 0.0 0.5 0.0 0.5 0.0 0.5 0.0 0.5 0.0 0.5 0.0 0.5 0.0 0.5 0.0 0.5 0.0 0.5 0.0 0.5 0.0 0.5 0.0 0.5 0.0 0.5 0.0 0.5 0.0 0.5 0.0 0.5 0.0 0.5 0.0 0.5 0.0 0.5 0.0 0.5 0.0 0.5 0.0 0.5 0.0 0.5 0.0 0.5 0.0 0.5 0.0 0.5 0.0 0.5 0.0 0.5 0.0 0.5 0.0 0.5 0.0 0.5 0.0 0.5 0.0 0.5 0.0 0.5 0.0 0.5 0.0 0.5 0.0 0.5 0.0 0.5 0.0 0.5 0.0 0.5 0.0 0.5 0.0 0.5 0.0 0.5 0.0 0.5 0.0 0.5 0.0 0.5 0.0 0.5 0.0 0.5 0.0 0.5 0.0 0.5 0.0 0.5 0.0 0.5 0.0 0.5 0.0 0.5 0.0 0.5 0.0 0.5 0.0 0.5 0.0 0.5 0.0 0.5 0.0 0.5 0.0 0.5 0.0 0.5 0.0 0.5 0.0 0.5 0.0 0.5 0.0 0.5 0.0 0.5 0.0 0.5 0.0 0.5 0.0 0.5 0.0 0.5 0.0 0.5 0.0 0.5 0.0 0.5 0.0 0.5 0.0 0.5 0.0 0.5 0.0 0.5 0.0 0.5 0.0 0.5 0.0 0.5 0.0 0.5 0.0 0.5 0.0 0.5 0.0 0.5 0.0 0.5 0.0 0.5 0.0 0.5 0.0 0.5 0.0 0.5 0.0 0.5 0.0 0.5 0.0 0.5 0.0 0.5 0.0 0.5 0.0 0.5 0.0 0.5 0.0 0.5 0.0 0.5 0.0 0.5 0.0 0.5 0.0 0.5 0.0 0.5 0.0 0.5 0.0 0.5 0.0 0.5 0.0 0.5 0.0 0.5 0.0 0.5 0.0 0.5 0.0 0.5 0.0 0.5 0.0 0.5 0.0 0.5 0.0 0.5 0.0 0.5 0.0 0.5 0.0 0.5 0.0 0.5 0.0 0.5 0.0 0.5 0.0 0.5 0.0 0.5 0.0 0.5 0.0 0.5 0.0 0.5 0.0 0.5 0.0 0.5 0.0 0.5 0.0 0.5 0.0 0.5 0.0 0.5 0.0 0.5 0.0 0.5 0.0 0.5 0.0 0.5 0.0 0.5 0.0 0.5 0.0 0.5 0.0 0.5 0.0 0.5 0.0 0.5 0.0 0.5 0.0 0.5 0.0 0.5 0.0 0.5 0.0 0.5 0.0 0.5 0.0 0.5 0.0 0.5 0.0 0.5 0.0 0.5 0.0 0.5 0.0 0.5 0.0 0.5 0.0 0.5 0.0 0.5 0.0 0.5 0.0 0.5 0.0 0.5 0.0 0.5 0.0 0.5 0.0 0.5 0.0 0.5 0.0 0.5 0.0 0.5 0.0 0.5 0.0 0.5 0.0 0.5 0.0 0.5 0.0 0.5 0.0 0.5 0.0 0.5 0.0 0.5 0.0 0.5 0.0 0.5 0.0 0.5 0.0 0.5 0.0 0.5 0.0 0.5 0.0 0.5 0.0 0.5 0.0 0.5 0.0 0.5 0.0 0.5 0.0 0.5 0.0 0.5 0.0 0.5 0.0 0.5 0.0 0.5 0.0 0.5 0.0 0.5 0.0 0.5 0.0 0.5 0.0 0.5 0.0 0.5 0.0 0.5 0.0 0.5 0.0 0.5 0.0 0.5 0.0 0.5 0.0 0.5 0.0 0.5 0.0 0.5 0.0 0.5 0.0 0.5 0.0 0.5 0.0 0.5 0.0 0.5 0.0 0.5 0.0 0.5 0.0 0.5 0.0 0.5 0.0 0.5 0.0 0.5 0.0 0.5 0.0 0.5 0.0 0.5 0.0 0.5 0.0 0.5 0.0 0.5 0.0 0.5 0.0 0.5 0.0 0.5 0.0 0.5 0.0 0.5 0.0 0.5 0.0 0.5 0.0 0.5 0.0 0.5 0.0 0.5 0.0 0.5 0.0 0.5 0.0 0.5 0.0 0.5 0.0 0.5 0.0 0.5 0.0 0.5 0.0 0.5 0.0 0.5 0.0 0.5 0.0 0.5 0.0 0.5 0.0 0.5 0.0 0.5 0.0 0.5 0.0 0.5 0.0 0.5 0.0 0.5 0.0 0.5 0.0 0.5 0.0 0.5 0.0 0.5 0.0 0.5 0.0 0.5 0.0 0.5 0.0 0.5 0.0 0.5 0.0 0.5 0.0 0.5 0.0 0.5 0.0 0.5 0.0 0.5 0.0 0.5 0.0 0.5 0.0 0.5 0.0 0.5 0.0 0.5 0.0 0.5 0.0 0.5 0.0 0.5 0.0 0.5 0.0 0.5 0.0 0.5 0.0 0.5 0.0 0.5 0.0 0.5 0.0 0.5 0.0 0.5 0.0 0.5 0.0 0.5 0.0 0.5 0.0 0.5 0.0 0.5 0.0 0.5 0.0 0.5 0.0 0.5 0.0 0.5 0.0 0.5 0.0 0.5 0.0 0.5 0.0 0.5 0.0 0.5 0.0 0.5 0.0 0.5 0.0 0.5 0.0 0.5 0.0 0.5 0.0 0.5 0.0 0.5 0.0 0.5 0.0 0.5 0.0 0.5 0.0 0.5 0.0 0.5 0.0" fill="none" stroke="#167d3c" stroke-width="2.2" stroke-linejoin="round" />
<path d="M64.0 533.2l0.5 0.0 0.5 0.0 0.5 0.0 0.5 0.0 0.5 0.0 0.5 0.0 0.5 0.0 0.5 0.0 0.5 0.0 0.5 0.0 0.5 0.0 0.5 0.0 0.5 0.0 0.5 0.0 0.5 0.0 0.5 0.0 0.5 0.0 0.5 0.0 0.5 0.0 0.5 0.0 0.5 0.0 0.5 0.0 0.5 0.0 0.5 0.0 0.5 0.0 0.5 -0.1 0.5 0.0 0.5 0.0 0.5 0.0 0.5 0.0 0.5 0.0 0.5 0.0 0.5 0.0 0.5 0.0 0.5 0.0 0.5 0.0 0.5 0.0 0.5 0.0 0.5 0.0 0.5 0.0 0.5 0.0 0.5 0.0 0.5 0.0 0.5 0.0 0.5 0.0 0.5 0.0 0.5 0.0 0.5 0.0 0.5 0.0 0.5 0.0 0.5 0.0 0.5 0.0 0.5 0.0 0.5 0.0 0.5 0.0 0.5 0.0 0.5 0.0 0.5 0.0 0.5 0.0 0.5 0.0 0.5 0.0 0.5 0.0 0.5 0.0 0.5 0.0 0.5 0.0 0.5 0.0 0.5 0.0 0.5 0.0 0.5 0.0 0.5 0.0 0.5 0.0 0.5 -0.1 0.5 0.0 0.5 0.0 0.5 0.0 0.5 0.0 0.5 0.0 0.5 0.0 0.5 0.0 0.5 0.0 0.5 0.0 0.5 0.0 0.5 0.0 0.5 0.0 0.5 0.0 0.5 0.0 0.5 0.0 0.5 0.0 0.5 0.0 0.5 0.0 0.5 0.0 0.5 0.0 0.5 0.0 0.5 0.0 0.5 0.0 0.5 0.0 0.5 0.0 0.5 0.0 0.5 0.0 0.5 0.0 0.5 0.0 0.5 0.0 0.5 0.0 0.5 0.0 0.5 0.0 0.5 0.0 0.5 0.0 0.5 0.0 0.5 0.0 0.5 0.0 0.5 0.0 0.5 0.0 0.5 0.0 0.5 -0.1 0.5 0.0 0.5 0.0 0.5 0.0 0.5 0.0 0.5 0.0 0.5 0.0 0.5 0.0 0.5 0.0 0.5 0.0 0.5 0.0 0.5 0.0 0.5 0.0 0.5 0.0 0.5 0.0 0.5 0.0 0.5 0.0 0.5 0.0 0.5 0.0 0.5 0.0 0.5 0.0 0.5 0.0 0.5 0.0 0.5 0.0 0.5 0.0 0.5 0.0 0.5 0.0 0.5 0.0 0.5 0.0 0.5 0.0 0.5 0.0 0.5 0.0 0.5 0.0 0.5 0.0 0.5 0.0 0.5 0.0 0.5 0.0 0.5 0.0 0.5 0.0 0.5 -0.1 0.5 0.0 0.5 0.0 0.5 0.0 0.5 0.0 0.5 0.0 0.5 0.0 0.5 0.0 0.5 0.0 0.5 0.0 0.5 0.0 0.5 0.0 0.5 0.0 0.5 0.0 0.5 0.0 0.5 0.0 0.5 0.0 0.5 0.0 0.5 0.0 0.5 0.0 0.5 0.0 0.5 0.0 0.5 0.0 0.5 0.0 0.5 0.0 0.5 0.0 0.5 0.0 0.5 0.0 0.5 0.0 0.5 0.0 0.5 0.0 0.5 0.0 0.5 0.0 0.5 0.0 0.5 0.0 0.5 0.0 0.5 0.0 0.5 0.0 0.5 -0.1 0.5 0.0 0.5 0.0 0.5 0.0 0.5 0.0 0.5 0.0 0.5 0.0 0.5 0.0 0.5 0.0 0.5 0.0 0.5 0.0 0.5 0.0 0.5 0.0 0.5 0.0 0.5 0.0 0.5 0.0 0.5 0.0 0.5 0.0 0.5 0.0 0.5 0.0 0.5 0.0 0.5 0.0 0.5 0.0 0.5 0.0 0.5 0.0 0.5 0.0 0.5 0.0 0.5 0.0 0.5 0.0 0.5 0.0 0.5 0.0 0.5 0.0 0.5 0.0 0.5 0.0 0.5 0.0 0.5 -0.1 0.5 0.0 0.5 0.0 0.5 0.0 0.5 0.0 0.5 0.0 0.5 0.0 0.5 0.0 0.5 0.0 0.5 0.0 0.5 0.0 0.5 0.0 0.5 0.0 0.5 0.0 0.5 0.0 0.5 0.0 0.5 0.0 0.5 0.0 0.5 0.0 0.5 0.0 0.5 0.0 0.5 0.0 0.5 0.0 0.5 0.0 0.5 0.0 0.5 0.0 0.5 0.0 0.5 0.0 0.5 0.0 0.5 0.0 0.5 0.0 0.5 0.0 0.5 -0.1 0.5 0.0 0.5 0.0 0.5 0.0 0.5 0.0 0.5 0.0 0.5 0.0 0.5 0.0 0.5 0.0 0.5 0.0 0.5 0.0 0.5 0.0 0.5 0.0 0.5 0.0 0.5 0.0 0.5 0.0 0.5 0.0 0.5 0.0 0.5 0.0 0.5 0.0 0.5 0.0 0.5 0.0 0.5 0.0 0.5 0.0 0.5 0.0 0.5 0.0 0.5 0.0 0.5 0.0 0.5 0.0 0.5 -0.1 0.5 0.0 0.5 0.0 0.5 0.0 0.5 0.0 0.5 0.0 0.5 0.0 0.5 0.0 0.5 0.0 0.5 0.0 0.5 0.0 0.5 0.0 0.5 0.0 0.5 0.0 0.5 0.0 0.5 0.0 0.5 0.0 0.5 0.0 0.5 0.0 0.5 0.0 0.5 0.0 0.5 0.0 0.5 0.0 0.5 0.0 0.5 0.0 0.5 0.0 0.5 0.0 0.5 0.0 0.5 0.0 0.5 0.0 0.5 0.0 0.5 0.0 0.5 0.0 0.5 -0.1 0.5 0.0 0.5 0.0 0.5 0.0 0.5 0.0 0.5 0.0 0.5 0.0 0.5 0.0 0.5 0.0 0.5 0.0 0.5 0.0 0.5 0.0 0.5 0.0 0.5 0.0 0.5 0.0 0.5 0.0 0.5 0.0 0.5 0.0 0.5 0.0 0.5 0.0 0.5 0.0 0.5 0.0 0.5 0.0 0.5 0.0 0.5 0.0 0.5 0.0 0.5 0.0 0.5 0.0 0.5 0.0 0.5 0.0 0.5 0.0 0.5 -0.1 0.5 0.0 0.5 0.0 0.5 0.0 0.5 0.0 0.5 0.0 0.5 0.0 0.5 0.0 0.5 0.0 0.5 0.0 0.5 0.0 0.5 0.0 0.5 0.0 0.5 0.0 0.5 0.0 0.5 0.0 0.5 0.0 0.5 0.0 0.5 0.0 0.5 0.0 0.5 0.0 0.5 0.0 0.5 0.0 0.5 0.0 0.5 0.0 0.5 -0.1 0.5 0.0 0.5 0.0 0.5 0.0 0.5 0.0 0.5 0.0 0.5 0.0 0.5 0.0 0.5 0.0 0.5 0.0 0.5 0.0 0.5 0.0 0.5 0.0 0.5 0.0 0.5 0.0 0.5 0.0 0.5 0.0 0.5 0.0 0.5 0.0 0.5 0.0 0.5 -0.1 0.5 0.0 0.5 0.0 0.5 0.0 0.5 0.0 0.5 0.0 0.5 0.0 0.5 0.0 0.5 0.0 0.5 0.0 0.5 0.0 0.5 0.0 0.5 0.0 0.5 0.0 0.5 0.0 0.5 0.0 0.5 -0.1 0.5 0.0 0.5 0.0 0.5 0.0 0.5 0.0 0.5 0.0 0.5 0.0 0.5 0.0 0.5 0.0 0.5 0.0 0.5 0.0 0.5 0.0 0.5 0.0 0.5 0.0 0.5 -0.1 0.5 0.0 0.5 0.0 0.5 0.0 0.5 0.0 0.5 0.0 0.5 0.0 0.5 0.0 0.5 0.0 0.5 0.0 0.5 0.0 0.5 -0.1 0.5 0.0 0.5 0.0 0.5 0.0 0.5 0.0 0.5 0.0 0.5 -0.1 0.5 0.0 0.5 0.0 0.5 0.0 0.5 0.0 0.5 -0.1 0.5 0.0 0.5 0.0 0.5 0.0 0.5 0.0 0.5 -0.1 0.5 0.0 0.5 0.0 0.5 0.0 0.5 -0.1 0.5 0.0 0.5 0.0 0.5 0.0 0.5 0.0 0.5 -0.1 0.5 0.0 0.5 0.0 0.5 0.0 0.5 0.0 0.5 -0.1 0.5 0.0 0.5 0.0 0.5 0.0 0.5 0.0 0.5 0.0 0.5 -0.1 0.5 0.0 0.5 0.0 0.5 0.0 0.5 0.0 0.5 0.0 0.5 -0.1 0.5 0.0 0.5 0.0 0.5 0.0 0.5 0.0 0.5 -0.1 0.5 0.0 0.5 0.0 0.5 0.0 0.5 0.0 0.5 0.0 0.5 -0.1 0.5 0.0 0.5 0.0 0.5 0.0 0.5 -0.1 0.5 0.0 0.5 0.0 0.5 0.0 0.5 0.0 0.5 -0.1 0.5 0.0 0.5 0.0 0.5 0.0 0.5 -0.1 0.5 0.0 0.5 0.0 0.5 -0.1 0.5 0.0 0.5 0.0 0.5 0.0 0.5 -0.1 0.5 0.0 0.5 0.0 0.5 -0.1 0.5 0.0 0.5 0.0 0.5 -0.1 0.5 0.0 0.5 0.0 0.5 -0.1 0.5 0.0 0.5 0.0 0.5 -0.1 0.5 0.0 0.5 0.0 0.5 -0.1 0.5 0.0 0.5 -0.1 0.5 0.0 0.5 0.0 0.5 -0.1 0.5 0.0 0.5 -0.1 0.5 0.0 0.5 0.0 0.5 -0.1 0.5 0.0 0.5 -0.1 0.5 0.0 0.5 -0.1 0.5 0.0 0.5 0.0 0.5 -0.1 0.5 0.0 0.5 -0.1 0.5 0.0 0.5 -0.1 0.5 0.0 0.5 -0.1 0.5 0.0 0.5 -0.1 0.5 -0.1 0.5 0.0 0.5 -0.1 0.5 0.0 0.5 -0.1 0.5 0.0 0.5 -0.1 0.5 -0.1 0.5 0.0 0.5 -0.1 0.5 -0.1 0.5 0.0 0.5 -0.1 0.5 -0.1 0.5 -0.1 0.5 0.0 0.5 -0.1 0.5 -0.1 0.5 -0.1 0.5 -0.1 0.5 -0.1 0.5 -0.1 0.5 -0.1 0.5 -0.1 0.5 -0.1 0.5 -0.1 0.5 -0.1 0.5 -0.1 0.5 -0.2 0.5 -0.1 0.5 -0.1 0.5 -0.2 0.5 -0.1 0.5 -0.1 0.5 -0.2 0.5 -0.2 0.5 -0.1 0.5 -0.2 0.5 -0.2 0.5 -0.1 0.5 -0.2 0.5 -0.2 0.5 -0.2 0.5 -0.2 0.5 -0.2 0.5 -0.2 0.5 -0.3 0.5 -0.2 0.5 -0.3 0.5 -0.2 0.5 -0.3 0.5 -0.2 0.5 -0.3 0.5 -0.3 0.5 -0.3 0.5 -0.2 0.5 -0.3 0.5 -0.3 0.5 -0.3 0.5 -0.3 0.5 -0.3 0.5 -0.3 0.5 -0.3 0.5 -0.3 0.5 -0.3 0.5 -0.3 0.5 -0.4 0.5 -0.3 0.5 -0.3 0.5 -0.4 0.5 -0.3 0.5 -0.4 0.5 -0.3 0.5 -0.4 0.5 -0.4 0.5 -0.3 0.5 -0.4 0.5 -0.4 0.5 -0.4 0.5 -0.4 0.5 -0.4 0.5 -0.4 0.2 -0.2 0.2 -0.1 0.1 -0.1 0.1 -0.1 0.2 -0.2 0.2 -0.1 0.0 0.0 0.2 -0.2 0.2 -0.2 0.1 -0.1 0.1 -0.1 0.2 -0.2 0.2 -0.1 0.0 0.0 0.2 -0.2 0.2 -0.2 0.1 -0.1 0.1 -0.1 0.2 -0.2 0.2 -0.2 0.0 0.0 0.2 -0.2 0.2 -0.2 0.1 -0.1 0.1 -0.1 0.2 -0.3 0.2 -0.2 0.0 0.0 0.2 -0.2 0.2 -0.3 0.1 -0.1 0.1 -0.1 0.2 -0.2 0.2 -0.3 0.0 0.0 0.2 -0.2 0.2 -0.2 0.1 -0.2 0.1 -0.1 0.2 -0.2 0.2 -0.2 0.0 0.0 0.2 -0.3 0.2 -0.2 0.1 -0.1 0.1 -0.1 0.2 -0.2 0.2 -0.2 0.0 0.0 0.2 -0.2 0.2 -0.2 0.1 -0.1 0.1 -0.1 0.2 -0.1 0.2 -0.2 0.0 0.0 0.2 -0.2 0.2 -0.1 0.1 -0.1 0.1 -0.1 0.2 -0.1 0.2 -0.2 0.0 0.0 0.2 -0.2 0.2 -0.1 0.1 -0.1 0.1 -0.1 0.2 -0.2 0.2 -0.1 0.0 0.0 0.2 -0.2 0.2 -0.1 0.1 -0.1 0.1 -0.1 0.2 -0.1 0.2 -0.2 0.0 0.0 0.2 -0.1 0.2 -0.1 0.1 -0.1 0.1 -0.1 0.2 -0.1 0.2 -0.1 0.0 0.0 0.2 -0.1 0.2 -0.1 0.1 0.0 0.1 0.0 0.2 -0.1 0.2 0.0 0.0 0.0 0.2 -0.1 0.2 0.0 0.1 0.0 0.1 0.0 0.2 0.0 0.2 0.0 0.0 0.0 0.2 0.1 0.2 0.1 0.1 0.0 0.1 0.1 0.2 0.1 0.2 0.2 0.0 0.0 0.2 0.1 0.2 0.2 0.1 0.1 0.1 0.1 0.2 0.3 0.2 0.2 0.0 0.0 0.2 0.2 0.2 0.3 0.1 0.2 0.1 0.1 0.2 0.4 0.2 0.6 0.0 0.0 0.2 0.8 0.2 1.0 0.1 0.5 0.1 0.5 0.2 1.2 0.2 1.3 0.0 0.0 0.2 1.3 0.2 1.3 0.1 0.6 0.1 0.7 0.2 1.4 0.2 1.6 0.0 0.0 0.2 1.8 0.2 1.8 0.1 0.9 0.1 0.9 0.2 1.8 0.2 1.6 0.0 0.0 0.2 1.6 0.2 1.6 0.1 0.7 0.1 0.8 0.2 1.5 0.2 1.5 0.0 0.0 0.2 1.5 0.2 1.5 0.1 0.7 0.1 0.8 0.2 1.4 0.2 1.4 0.0 0.0 0.2 1.5 0.2 1.4 0.1 0.7 0.1 0.7 0.2 1.4 0.2 1.4 0.0 0.0 0.2 1.3 0.2 1.2 0.1 0.5 0.1 0.6 0.2 1.1 0.2 1.1 0.0 0.0 0.2 1.1 0.2 1.0 0.1 0.6 0.1 0.5 0.2 1.0 0.2 0.9 0.0 0.0 0.2 0.9 0.2 0.8 0.1 0.3 0.1 0.3 0.2 0.6 0.2 0.5 0.0 0.0 0.2 0.4 0.2 0.4 0.1 0.2 0.1 0.2 0.2 0.3 0.2 0.4 0.0 0.0 0.2 0.3 0.2 0.3 0.1 0.1 0.1 0.2 0.2 0.2 0.2 0.2 0.0 0.0 0.2 0.2 0.2 0.1 0.1 0.0 0.1 0.1 0.2 0.0 0.2 0.0 0.0 0.0 0.2 0.0 0.2 -0.1 0.1 0.0 0.1 0.0 0.2 -0.1 0.2 -0.1 0.0 0.0 0.2 -0.1 0.2 -0.1 0.1 0.0 0.1 -0.1 0.2 -0.1 0.2 -0.1 0.0 0.0 0.2 -0.1 0.2 -0.2 0.1 0.0 0.1 -0.1 0.2 -0.2 0.2 -0.1 0.0 0.0 0.2 -0.2 0.2 -0.1 0.1 -0.1 0.1 -0.1 0.2 -0.1 0.2 -0.2 0.0 0.0 0.2 -0.1 0.2 -0.2 0.1 -0.1 0.1 0.0 0.2 -0.2 0.2 -0.2 0.0 0.0 0.2 -0.2 0.2 -0.2 0.1 -0.1 0.1 -0.1 0.2 -0.2 0.2 -0.3 0.0 0.0 0.2 -0.2 0.2 -0.2 0.1 -0.2 0.1 -0.1 0.2 -0.2 0.2 -0.3 0.0 0.0 0.2 -0.3 0.2 -0.2 0.1 -0.2 0.1 -0.1 0.2 -0.3 0.2 -0.2 0.0 0.0 0.2 -0.3 0.2 -0.3 0.1 -0.1 0.1 -0.2 0.2 -0.2 0.2 -0.3 0.0 0.0 0.2 -0.3 0.2 -0.2 0.1 -0.1 0.1 -0.2 0.2 -0.2 0.2 -0.3 0.0 0.0 0.2 -0.2 0.2 -0.2 0.1 -0.2 0.1 -0.1 0.2 -0.2 0.2 -0.2 0.0 0.0 0.2 -0.2 0.2 -0.2 0.1 -0.1 0.1 -0.1 0.2 -0.2 0.2 -0.2 0.0 0.0 0.2 -0.2 0.2 -0.2 0.1 -0.1 0.1 -0.1 0.2 -0.2 0.2 -0.2 0.0 0.0 0.2 -0.2 0.2 -0.2 0.1 -0.1 0.1 -0.1 0.2 -0.2 0.2 -0.2 0.0 0.0 0.2 -0.2 0.2 -0.2 0.1 0.0 0.1 -0.1 0.2 -0.2 0.2 -0.2 0.0 0.0 0.2 -0.2 0.2 -0.1 0.1 -0.1 0.1 -0.1 0.2 -0.2 0.2 -0.1 0.0 0.0 0.2 -0.2 0.2 -0.2 0.1 0.0 0.1 -0.1 0.2 -0.2 0.2 -0.1 0.0 0.0 0.2 -0.2 0.2 -0.1 0.1 -0.1 0.1 0.0 0.2 -0.2 0.2 -0.1 0.0 0.0 0.2 -0.1 0.2 -0.2 0.1 0.0 0.1 -0.1 0.2 -0.1 0.2 -0.1 0.0 0.0 0.2 -0.2 0.2 -0.1 0.1 0.0 0.1 -0.1 0.2 -0.1 0.2 -0.2 0.0 0.0 0.2 -0.1 0.2 -0.1 0.1 0.0 0.1 -0.1 0.2 -0.1 0.2 -0.1 0.5 -0.3 0.5 -0.3 0.5 -0.3 0.5 -0.2 0.5 -0.3 0.5 -0.3 0.5 -0.2 0.5 -0.3 0.5 -0.2 0.5 -0.2 0.5 -0.2 0.5 -0.3 0.5 -0.2 0.5 -0.2 0.5 -0.2 0.5 -0.2 0.5 -0.2 0.5 -0.2 0.5 -0.1 0.5 -0.2 0.5 -0.2 0.5 -0.1 0.5 -0.2 0.5 -0.2 0.5 -0.1 0.5 -0.2 0.5 -0.1 0.5 -0.2 0.5 -0.1 0.5 -0.1 0.5 -0.2 0.5 -0.1 0.5 -0.2 0.5 -0.1 0.5 -0.1 0.5 -0.1 0.5 -0.1 0.5 -0.2 0.5 -0.1 0.5 -0.1 0.5 -0.1 0.5 -0.1 0.5 -0.1 0.5 -0.1 0.5 -0.1 0.5 -0.1 0.5 0.0 0.5 -0.1 0.5 -0.1 0.5 -0.1 0.5 0.0 0.5 -0.1 0.5 -0.1 0.5 0.0 0.5 -0.1 0.5 -0.1 0.5 0.0 0.5 -0.1 0.5 -0.1 0.5 0.0 0.5 -0.1 0.5 0.0 0.5 -0.1 0.5 0.0 0.5 -0.1 0.5 0.0 0.5 -0.1 0.5 0.0 0.5 -0.1 0.5 0.0 0.5 -0.1 0.5 0.0 0.5 -0.1 0.5 0.0 0.5 -0.1 0.5 0.0 0.5 -0.1 0.5 0.0 0.5 0.0 0.5 -0.1 0.5 0.0 0.5 -0.1 0.5 0.0 0.5 -0.1 0.5 0.0 0.5 0.0 0.5 -0.1 0.5 0.0 0.5 0.0 0.5 -0.1 0.5 0.0 0.5 -0.1 0.5 0.0 0.5 0.0 0.5 -0.1 0.5 0.0 0.5 0.0 0.5 0.0 0.5 -0.1 0.5 0.0 0.5 0.0 0.5 -0.1 0.5 0.0 0.5 0.0 0.5 0.0 0.5 -0.1 0.5 0.0 0.5 0.0 0.5 0.0 0.5 -0.1 0.5 0.0 0.5 0.0 0.5 0.0 0.5 -0.1 0.5 0.0 0.5 0.0 0.5 0.0 0.5 -0.1 0.5 0.0 0.5 0.0 0.5 0.0 0.5 0.0 0.5 -0.1 0.5 0.0 0.5 0.0 0.5 0.0 0.5 -0.1 0.5 0.0 0.5 0.0 0.5 0.0 0.5 0.0 0.5 -0.1 0.5 0.0 0.5 0.0 0.5 0.0 0.5 0.0 0.5 0.0 0.5 -0.1 0.5 0.0 0.5 0.0 0.5 0.0 0.5 0.0 0.5 0.0 0.5 -0.1 0.5 0.0 0.5 0.0 0.5 0.0 0.5 0.0 0.5 0.0 0.5 -0.1 0.5 0.0 0.5 0.0 0.5 0.0 0.5 0.0 0.5 0.0 0.5 0.0 0.5 0.0 0.5 -0.1 0.5 0.0 0.5 0.0 0.5 0.0 0.5 0.0 0.5 0.0 0.5 0.0 0.5 0.0 0.5 0.0 0.5 -0.1 0.5 0.0 0.5 0.0 0.5 0.0 0.5 0.0 0.5 0.0 0.5 0.0 0.5 0.0 0.5 0.0 0.5 0.0 0.5 -0.1 0.5 0.0 0.5 0.0 0.5 0.0 0.5 0.0 0.5 0.0 0.5 0.0 0.5 0.0 0.5 0.0 0.5 0.0 0.5 0.0 0.5 0.0 0.5 -0.1 0.5 0.0 0.5 0.0 0.5 0.0 0.5 0.0 0.5 0.0 0.5 0.0 0.5 0.0 0.5 0.0 0.5 0.0 0.5 0.0 0.5 0.0 0.5 -0.1 0.5 0.0 0.5 0.0 0.5 0.0 0.5 0.0 0.5 0.0 0.5 0.0 0.5 0.0 0.5 0.0 0.5 0.0 0.5 0.0 0.5 0.0 0.5 -0.1 0.5 0.0 0.5 0.0 0.5 0.0 0.5 0.0 0.5 0.0 0.5 0.0 0.5 0.0 0.5 0.0 0.5 0.0 0.5 0.0 0.5 0.0 0.5 0.0 0.5 0.0 0.5 -0.1 0.5 0.0 0.5 0.0 0.5 0.0 0.5 0.0 0.5 0.0 0.5 0.0 0.5 0.0 0.5 0.0 0.5 0.0 0.5 0.0 0.5 0.0 0.5 0.0 0.5 0.0 0.5 -0.1 0.5 0.0 0.5 0.0 0.5 0.0 0.5 0.0 0.5 0.0 0.5 0.0 0.5 0.0 0.5 0.0 0.5 0.0 0.5 0.0 0.5 0.0 0.5 0.0 0.5 -0.1 0.5 0.0 0.5 0.0 0.5 0.0 0.5 0.0 0.5 0.0 0.5 0.0 0.5 0.0 0.5 0.0 0.5 0.0 0.5 0.0 0.5 0.0 0.5 -0.1 0.5 0.0 0.5 0.0 0.5 0.0 0.5 0.0 0.5 0.0 0.5 0.0 0.5 0.0 0.5 0.0 0.5 0.0 0.5 -0.1 0.5 0.0 0.5 0.0 0.5 0.0 0.5 0.0 0.5 0.0 0.5 0.0 0.5 0.0 0.5 0.0 0.5 0.0 0.5 -0.1 0.5 0.0 0.5 0.0 0.5 0.0 0.5 0.0 0.5 0.0 0.5 0.0 0.5 0.0 0.5 0.0 0.5 -0.1 0.5 0.0 0.5 0.0 0.5 0.0 0.5 0.0 0.5 0.0 0.5 0.0 0.5 0.0 0.5 0.0 0.5 -0.1 0.5 0.0 0.5 0.0 0.5 0.0 0.5 0.0 0.5 0.0 0.5 0.0 0.5 0.0 0.5 0.0 0.5 0.0 0.5 -0.1 0.5 0.0 0.5 0.0 0.5 0.0 0.5 0.0 0.5 0.0 0.5 0.0 0.5 0.0 0.5 0.0 0.5 0.0 0.5 0.0 0.5 0.0 0.5 0.0 0.5 0.0 0.5 -0.1 0.5 0.0 0.5 0.0 0.5 0.0 0.5 0.0 0.5 0.0 0.5 0.0 0.5 0.0 0.5 0.0 0.5 0.0 0.5 0.0 0.5 0.0 0.5 0.0 0.5 0.0 0.5 0.0 0.5 0.0 0.5 0.0 0.5 0.0 0.5 0.0 0.5 0.0 0.5 0.0 0.5 0.0 0.5 0.0 0.5 0.0 0.5 0.0 0.5 0.0 0.5 0.0 0.5 0.0 0.5 0.0 0.5 0.0 0.5 0.0 0.5 0.0 0.5 0.0 0.5 0.0 0.5 0.0 0.5 0.0 0.5 0.0 0.5 0.0 0.5 0.0 0.5 0.0 0.5 0.0 0.5 0.0 0.5 0.0 0.5 0.0 0.5 0.0 0.5 0.0 0.5 -0.1 0.5 0.0 0.5 0.0 0.5 0.0 0.5 0.0 0.5 0.0 0.5 0.0 0.5 0.0 0.5 0.0 0.5 0.0 0.5 0.0 0.5 0.0 0.5 0.0 0.5 0.0 0.5 0.0 0.5 0.0 0.5 0.0 0.5 0.0 0.5 0.0 0.5 0.0 0.5 0.0 0.5 0.0 0.5 0.0 0.5 0.0 0.5 0.0 0.5 0.0 0.5 0.0 0.5 0.0 0.5 0.0 0.5 0.0 0.5 0.0 0.5 0.0 0.5 0.0 0.5 0.0 0.5 0.0 0.5 0.0 0.5 0.0 0.5 0.0 0.5 0.0 0.5 0.0 0.5 0.0 0.5 0.0 0.5 0.0 0.5 0.0 0.5 0.0 0.5 0.0 0.5 0.0 0.5 0.0 0.5 0.0 0.5 0.0 0.5 0.0 0.5 0.0 0.5 0.0 0.5 0.0 0.5 0.0 0.5 0.0 0.5 0.0 0.5 0.0 0.5 0.0 0.5 0.0 0.5 0.0 0.5 0.0 0.5 0.0 0.5 0.0 0.5 0.0 0.5 0.0 0.5 0.0 0.5 0.0 0.5 0.0 0.5 0.0 0.5 0.0 0.5 0.0 0.5 0.0 0.5 0.0 0.5 0.0 0.5 0.0 0.5 0.0 0.5 0.0 0.5 0.0 0.5 0.0 0.5 0.0 0.5 0.0 0.5 0.0 0.5 0.0 0.5 0.0 0.5 0.0 0.5 0.0 0.5 0.0 0.5 0.0 0.5 0.0 0.5 0.0 0.5 0.0 0.5 0.0 0.5 0.0 0.5 -0.1 0.5 0.0 0.5 0.0 0.5 0.0 0.5 0.0 0.5 0.0 0.5 0.0 0.5 0.0 0.5 0.0 0.5 0.0 0.5 0.0 0.5 0.0 0.5 0.0 0.5 0.0 0.5 0.0 0.5 0.0 0.5 0.0 0.5 0.0 0.5 0.0 0.5 0.0 0.5 0.0 0.5 0.0 0.5 0.0 0.5 0.0 0.5 0.0 0.5 0.0 0.5 0.0 0.5 0.0 0.5 0.0 0.5 0.0 0.5 0.0 0.5 0.0 0.5 0.0 0.5 0.0 0.5 0.0 0.5 0.0 0.5 0.0 0.5 0.0 0.5 0.0 0.5 0.0 0.5 0.0 0.5 0.0 0.5 0.0 0.5 0.0 0.5 0.0 0.5 0.0 0.5 0.0 0.5 0.0 0.5 0.0 0.5 0.0 0.5 0.0 0.5 0.0 0.5 0.0 0.5 0.0 0.5 0.0 0.5 0.0 0.5 0.0 0.5 0.0 0.5 0.0 0.5 0.0 0.5 0.0 0.5 0.0 0.5 0.0 0.5 0.0 0.5 0.0 0.5 0.0 0.5 0.0 0.5 0.0 0.5 0.0 0.5 0.0 0.5 0.0 0.5 0.0 0.5 0.0 0.5 0.0 0.5 0.0 0.5 0.0 0.5 0.0 0.5 0.0 0.5 0.0 0.5 0.0 0.5 0.0 0.5 0.0 0.5 0.0 0.5 0.0 0.5 0.0 0.5 0.0 0.5 0.0 0.5 0.0 0.5 0.0 0.5 0.0 0.5 0.0 0.5 0.0 0.5 0.0 0.5 0.0 0.5 0.0 0.5 0.0 0.5 0.0 0.5 0.0 0.5 0.0 0.5 0.0 0.5 0.0 0.5 0.0 0.5 0.0 0.5 0.0 0.5 0.0 0.5 0.0 0.5 0.0 0.5 0.0 0.5 0.0 0.5 0.0 0.5 0.0 0.5 0.0 0.5 0.0 0.5 0.0 0.5 0.0 0.5 0.0 0.5 0.0 0.5 0.0 0.5 0.0 0.5 0.0 0.5 0.0 0.5 0.0 0.5 0.0 0.5 0.0 0.5 0.0 0.5 0.0 0.5 0.0 0.5 0.0 0.5 0.0 0.5 0.0 0.5 0.0 0.5 0.0 0.5 0.0 0.5 0.0 0.5 0.0 0.5 0.0 0.5 0.0 0.5 0.0 0.5 0.0 0.5 0.0" fill="none" stroke="#888888" stroke-width="2.4" stroke-linejoin="round" />
<path d="M915.0 160.8l0.1 6.1 0.1 -4.9 0.2 1.4 0.1 0.4 0.1 -1.5 0.2 -1.3 0.1 4.8 0.1 -0.6 0.1 -5.3 0.1 9.8 0.2 -3.3 0.1 -4.2 0.1 3.7 0.2 -3.3 0.1 0.8 0.1 1.8 0.1 -4.7 0.1 4.2 0.2 1.9 0.1 -0.1 0.1 -3.8 0.2 2.8 0.1 -5.8 0.1 3.4 0.1 1.4 0.1 -4.0 0.2 3.0 0.1 4.2 0.1 2.1 0.2 -4.1 0.1 0.1 0.1 -4.2 0.1 -0.7 0.1 -0.6 0.2 4.4 0.1 0.4 0.1 -3.3 0.2 -1.3 0.1 3.5 0.1 0.2 0.1 -1.0 0.1 3.3 0.2 -3.0 0.1 0.2 0.1 -2.3 0.2 2.9 0.1 2.7 0.1 -3.0 0.1 0.0 0.1 0.9 0.2 -0.2 0.1 0.6 0.1 0.1 0.2 0.1 0.1 -3.3 0.1 2.4 0.1 -4.5 0.1 4.1 0.2 -3.8 0.1 2.5 0.1 1.3 0.2 -1.9 0.1 1.4 0.1 -3.7 0.1 2.0 0.1 3.6 0.2 -4.3 0.1 4.0 0.1 -5.0 0.2 0.9 0.1 -0.5 0.1 2.6 0.1 1.3 0.1 -3.6 0.2 2.1 0.1 4.1 0.1 -4.4 0.2 -1.2 0.1 2.8 0.1 -1.4 0.1 -1.2 0.1 -2.6 0.2 5.9 0.1 -3.3 0.1 1.4 0.2 -2.3 0.1 5.6 0.1 -1.1 0.1 0.6 0.1 -2.6 0.2 1.3 0.1 0.9 0.1 0.3 0.2 -1.7 0.1 -1.0 0.1 -0.7 0.1 -0.8 0.1 -0.5 0.2 3.2 0.1 -1.3 0.1 -4.1 0.2 4.1 0.1 2.6 0.1 -3.2 0.1 -3.7 0.1 4.1 0.2 2.3 0.1 -1.2 0.1 -1.3 0.2 5.2 0.1 0.1 0.1 -4.6 0.1 2.1 0.1 -1.0 0.2 1.0 0.1 1.6 0.1 -1.4 0.2 -1.7 0.1 -1.7 0.1 -0.4 0.1 1.8 0.1 2.6 0.2 -2.1 0.1 -0.7 0.1 0.4 0.2 -0.5 0.1 1.2 0.1 -3.8 0.1 -1.9 0.1 3.7 0.2 -1.6 0.1 6.4 0.1 -4.0 0.2 -0.1 0.1 -2.9 0.1 4.2 0.1 -2.1 0.1 4.0 0.2 -0.7 0.1 -3.7 0.1 2.8 0.2 -7.1 0.1 4.8 0.1 4.4 0.1 -1.2 0.1 -1.5 0.2 -0.7 0.1 -3.3 0.1 0.0 0.2 3.6 0.1 3.4 0.1 -9.1 0.1 6.4 0.1 0.0 0.2 0.9 0.1 -4.1 0.1 0.8 0.2 1.4 0.1 -2.4 0.1 -0.3 0.1 0.9 0.1 1.8 0.2 0.9 0.1 -1.0 0.1 0.2 0.2 -1.8 0.1 -0.1 0.1 4.3 0.1 -2.8 0.1 -0.1 0.2 2.3 0.1 0.8 0.1 0.3 0.2 -1.8 0.1 -0.9 0.1 0.9 0.1 -0.3 0.1 2.7 0.2 -2.7 0.1 0.7 0.1 -1.6 0.2 3.1 0.1 -7.8 0.1 5.6 0.1 1.0 0.1 -4.4 0.2 7.6 0.1 -5.4 0.1 -0.1 0.2 -2.2 0.1 4.4 0.1 -1.5 0.1 -1.8 0.1 2.0 0.2 1.1 0.1 1.1 0.1 -2.3 0.2 -2.8 0.1 0.9 0.1 -4.1 0.1 3.4 0.1 3.3 0.2 -0.5 0.1 -1.3 0.1 -0.4 0.2 4.4 0.1 -3.1 0.1 1.3 0.1 -1.3 0.1 -2.5 0.2 5.2 0.1 -6.2 0.1 0.2 0.2 1.9 0.1 -0.5 0.1 0.5 0.1 0.0 0.1 3.7 0.2 -2.1 0.1 0.7 0.1 -4.4 0.2 1.7 0.1 4.3 0.1 -5.4 0.1 5.3 0.1 -5.2 0.2 3.1 0.1 -2.6 0.1 2.4 0.2 -2.5 0.1 1.4 0.1 4.4 0.1 -4.8 0.1 5.6 0.2 -5.7 0.1 -1.6 0.1 2.9 0.2 -1.2 0.1 4.8 0.1 -2.2 0.1 0.6 0.1 -1.3 0.2 4.3 0.1 -3.7 0.1 -0.5 0.2 -3.1 0.1 -0.2 0.1 2.6 0.1 2.0 0.1 0.4 0.2 -4.6 0.1 3.4 0.1 -0.9 0.2 -3.1 0.1 3.8 0.1 -6.3 0.1 6.0 0.1 5.1 0.2 -8.0 0.1 2.3 0.1 -4.5 0.2 2.5 0.1 3.3 0.1 -4.2 0.1 2.3 0.1 -0.8 0.2 -0.1 0.1 1.4 0.1 0.8 0.2 1.9 0.1 -0.8 0.1 -3.2 0.1 4.4 0.1 -0.6 0.2 -6.5 0.1 5.1 0.1 0.3 0.2 0.3 0.1 -1.0 0.1 -4.2 0.1 2.3 0.1 -4.1 0.2 4.4 0.1 5.0 0.1 -3.1 0.2 0.5 0.1 -2.9 0.1 -1.1 0.1 -0.1 0.1 2.7 0.2 -2.2 0.1 0.3 0.1 4.0 0.2 -6.5 0.1 0.8 0.1 1.9 0.1 1.0 0.1 0.0 0.2 -3.0 0.1 3.6 0.1 -0.7 0.2 1.3 0.1 -3.2 0.1 3.2 0.1 0.0 0.1 -2.1 0.2 0.9 0.1 -0.8 0.1 4.3 0.2 -10.3 0.1 3.9 0.1 -0.6 0.1 3.0 0.1 -0.8 0.2 0.6 0.1 2.6 0.1 -5.3 0.2 1.9 0.1 1.6 0.1 -2.3 0.1 3.6 0.1 -0.3 0.2 -2.6 0.1 -2.7 0.1 7.6 0.2 -2.7 0.1 0.0 0.1 -0.7 0.1 0.0 0.1 2.1 0.2 -1.8 0.1 -1.4 0.1 3.2 0.2 -1.5 0.1 -1.9 0.1 -0.2 0.1 4.8 0.1 -1.2 0.2 3.1 0.1 -5.8 0.1 -0.5 0.2 2.5 0.1 2.1 0.1 -2.0 0.1 -0.5 0.1 3.2 0.2 -6.1 0.1 -1.0 0.1 1.3 0.2 1.1 0.1 1.8 0.1 1.5 0.1 -1.4 0.1 2.5 0.2 -5.5 0.1 6.2 0.1 -6.3 0.2 4.6 0.1 -4.6 0.1 3.1 0.1 -0.6 0.1 1.0 0.2 0.4 0.1 -2.3 0.1 0.3 0.2 0.7 0.1 -3.5 0.1 1.3 0.1 -2.1 0.1 3.7 0.2 4.9 0.1 -3.5 0.1 -3.8 0.2 0.3 0.1 4.0 0.1 -3.3 0.1 -2.5 0.1 1.5 0.2 0.0 0.1 0.1 0.1 4.0 0.2 -1.2 0.1 -3.5 0.1 2.1 0.1 -1.5 0.1 -0.3 0.2 -0.8 0.1 7.4 0.1 -4.8 0.2 1.9 0.1 0.5 0.1 -3.0 0.1 2.1 0.1 0.1 0.2 -0.7 0.1 4.5 0.1 -4.2 0.2 -1.1 0.1 2.1 0.1 2.7 0.1 -1.8 0.1 -3.4 0.2 -1.0 0.1 -0.1 0.1 0.7 0.2 2.5 0.1 1.2 0.1 -7.2 0.1 5.1 0.1 -2.7 0.2 4.0 0.1 0.6 0.1 -3.8 0.2 0.9 0.1 -1.1 0.1 2.9 0.1 -4.7 0.1 1.0 0.2 1.1 0.1 4.6 0.1 2.9 0.2 -5.3 0.1 -2.9 0.1 2.9 0.1 -2.3 0.1 2.9 0.2 -3.6 0.1 1.8 0.1 0.9 0.2 1.3 0.1 -1.3 0.1 3.1 0.1 -2.7 0.1 -4.5 0.2 6.2 0.1 -2.9 0.1 -0.9 0.2 5.0 0.1 -5.8 0.1 2.6 0.1 -1.7 0.1 4.8 0.2 -3.9 0.1 1.4 0.1 -3.9 0.2 6.4 0.1 -5.9 0.1 4.4 0.1 0.5 0.1 0.2 0.2 1.4 0.1 -6.8 0.1 3.6 0.2 -0.6 0.1 0.7 0.1 1.5 0.1 -2.3 0.1 -2.2 0.2 1.6 0.1 3.8 0.1 -6.2 0.2 3.0 0.1 -2.3 0.1 4.9 0.1 -6.2 0.1 3.1 0.2 0.4 0.1 0.5 0.1 5.1 0.2 -1.9 0.1 -5.9 0.1 7.4 0.1 -7.8 0.1 -1.6 0.2 0.8 0.1 4.0 0.1 0.8 0.2 -6.3 0.1 6.0 0.1 -1.8 0.1 2.2 0.1 -2.6 0.2 3.0 0.1 -0.8 0.1 -3.9 0.2 6.1 0.1 -2.8 0.1 1.2 0.1 1.3 0.1 -5.2 0.2 2.1 0.1 -1.7 0.1 -0.2 0.2 2.7 0.1 0.0 0.1 2.1 0.1 0.0 0.1 -3.2 0.2 -1.7 0.1 9.4 0.1 -2.2 0.2 -5.1 0.1 -2.0 0.1 1.1 0.1 1.6 0.1 2.0 0.2 -0.3 0.1 -1.2 0.1 -1.5 0.2 1.0 0.1 -1.2 0.1 0.7 0.1 -0.6 0.1 1.4 0.2 -5.6 0.1 3.6 0.1 0.2 0.2 -2.0 0.1 2.2 0.1 -2.0 0.1 1.0 0.1 0.9 0.2 0.2 0.1 -0.6 0.1 3.9 0.2 -2.1 0.1 0.3 0.1 -0.2 0.1 -2.0 0.1 -0.6 0.2 4.0 0.1 -2.8 0.1 -3.3 0.2 -1.0 0.1 5.5 0.1 -2.2 0.1 1.5 0.1 -1.2 0.2 0.3 0.1 0.4 0.1 -2.5 0.2 2.9 0.1 2.6 0.1 -0.4 0.1 -5.4 0.1 1.0 0.2 0.0 0.1 2.3 0.1 2.3 0.2 -1.4 0.1 -4.9 0.1 4.1 0.1 1.7 0.1 -2.9 0.2 5.3 0.1 -5.8 0.1 4.3 0.2 2.8 0.1 -8.3 0.1 2.2 0.1 2.0 0.1 6.0 0.2 -11.5 0.1 5.4 0.1 -0.6 0.2 -1.6 0.1 -0.9 0.1 0.6 0.1 0.4 0.1 -2.3 0.2 6.5 0.1 -6.1 0.1 1.6 0.2 -0.5 0.1 0.6 0.1 1.2 0.1 -1.9 0.1 1.1 0.2 4.5 0.1 -1.5 0.1 -3.1 0.2 2.8 0.1 -3.8 0.1 2.3 0.1 -3.7 0.1 0.9 0.2 0.8 0.1 4.9 0.1 -2.5 0.2 0.5 0.1 -1.1 0.1 0.3 0.1 0.1 0.1 0.8 0.2 -1.2 0.1 -2.4 0.1 0.3 0.2 4.5 0.1 0.3 0.1 -2.0 0.1 -5.1 0.1 7.3 0.2 -2.9 0.1 -1.0 0.1 0.1 0.2 -0.9 0.1 5.0 0.1 0.1 0.1 -6.1 0.1 2.2 0.2 1.3 0.1 2.4 0.1 -8.4 0.2 7.8 0.1 1.6 0.1 -4.7 0.1 0.4 0.1 2.8 0.2 -2.2 0.1 -4.1 0.1 0.2 0.2 0.2 0.1 -0.9 0.1 3.4 0.1 -1.0 0.1 1.4 0.2 1.7 0.1 2.7 0.1 -3.5 0.2 -4.7 0.1 7.5 0.1 -3.5 0.1 2.8 0.1 -3.7 0.2 1.6 0.1 -1.0 0.1 0.1 0.2 3.0 0.1 -4.6 0.1 1.8 0.1 0.1 0.1 -1.5 0.2 -4.2 0.1 5.9 0.1 -7.3 0.2 3.2 0.1 2.4 0.1 2.1 0.1 1.0 0.1 -0.1 0.2 -0.7 0.1 -2.4 0.1 3.4 0.2 -3.6 0.1 3.1 0.1 -7.6 0.1 3.1 0.1 1.1 0.2 1.4 0.1 -5.4 0.1 7.4 0.2 0.3 0.1 -0.5 0.1 -3.0 0.1 4.6 0.1 -4.5 0.2 3.4 0.1 -2.1 0.1 0.1 0.2 -0.3 0.1 0.3 0.1 2.5 0.1 0.7 0.1 -0.1 0.2 -1.2 0.1 -0.8 0.1 -0.7 0.2 2.9 0.1 -5.1 0.1 -0.1 0.1 1.9 0.1 -3.6 0.2 3.4 0.1 0.4 0.1 -2.4 0.2 0.9 0.1 2.9 0.1 -2.1 0.1 0.7 0.1 2.1 0.2 -3.9 0.1 -1.2 0.1 2.6 0.2 1.1 0.1 -5.1 0.1 5.7 0.1 -2.2 0.1 -0.2 0.2 -1.0 0.1 1.5 0.1 2.5 0.2 -1.1 0.1 0.7 0.1 -2.5 0.1 4.7 0.1 -0.6 0.2 -2.9 0.1 -6.0 0.1 6.2 0.2 6.3 0.1 -6.3 0.1 -2.2 0.1 6.3 0.1 -5.4 0.2 2.4 0.1 0.6 0.1 -5.3 0.2 3.5 0.1 2.3 0.1 -3.6 0.1 2.3 0.1 -1.5 0.2 2.5 0.1 2.0 0.1 -6.8 0.2 1.8 0.1 1.5 0.1 -2.5 0.1 -0.5 0.1 1.1 0.2 0.2 0.1 -0.7 0.1 2.4 0.2 1.3 0.1 -0.1 0.1 0.0 0.1 1.2 0.1 -5.9 0.2 2.8 0.1 0.6 0.1 0.6 0.2 -5.1 0.1 7.9 0.1 -6.5 0.1 2.5 0.1 1.1 0.2 0.9 0.1 -3.9 0.1 0.4 0.2 2.1 0.1 0.4 0.1 0.6 0.1 -2.2 0.1 -1.3 0.2 -1.4 0.1 7.2 0.1 -7.1 0.2 4.6 0.1 -1.1 0.1 1.1 0.1 0.4 0.1 1.0 0.2 -3.0 0.1 1.2 0.1 -5.3 0.2 4.7 0.1 -2.3 0.1 1.6 0.1 3.0 0.1 -2.9 0.2 2.1 0.1 -3.1 0.1 1.3 0.2 -1.9 0.1 -4.8 0.1 4.2 0.1 1.1 0.1 1.0 0.2 -0.4 0.1 -0.3 0.1 2.4 0.2 -0.8 0.1 -2.4 0.1 2.8 0.1 -6.6 0.1 4.0 0.2 0.4 0.1 3.5 0.1 -4.1 0.2 -2.2 0.1 3.7 0.1 3.4 0.1 -4.5 0.1 0.2 0.2 -0.1 0.1 0.7 0.1 2.9 0.2 1.6 0.1 -3.3 0.1 -1.3 0.1 4.7 0.1 -4.0 0.2 -0.1 0.1 -1.1 0.1 -0.1 0.2 1.2 0.1 -1.3 0.1 1.7 0.1 -0.6 0.1 1.1 0.2 -2.1 0.1 0.4 0.1 1.0 0.2 -0.5 0.1 -0.1 0.1 2.4 0.1 -5.2 0.1 -2.0 0.2 6.2 0.1 -2.1 0.1 3.7 0.2 -3.3 0.1 -2.5 0.1 7.8 0.1 -4.1 0.1 -1.9 0.2 -0.7 0.1 2.9 0.1 -2.9 0.2 2.3 0.1 1.8 0.1 -5.9 0.1 2.4 0.1 1.9 0.2 2.7 0.1 -1.7 0.1 -3.2 0.2 4.2 0.1 -4.3 0.1 0.4 0.1 1.2 0.1 -3.3 0.2 9.6 0.1 -4.2 0.1 -2.3 0.2 -1.8 0.1 -1.3 0.1 3.5 0.1 0.7 0.1 -2.4 0.2 0.6 0.1 1.8 0.1 -1.3 0.2 -4.1 0.1 5.8 0.1 -0.9 0.1 1.2 0.1 -3.4 0.2 -3.2 0.1 1.9 0.1 3.3 0.2 3.9 0.1 0.5 0.1 -4.7 0.1 -4.0 0.1 2.7 0.2 1.9 0.1 0.0 0.1 -0.7 0.2 3.0 0.1 -5.1 0.1 -2.9 0.1 3.0 0.1 -0.7 0.2 7.7 0.1 -5.6 0.1 -3.0 0.2 4.6 0.1 0.8 0.1 -2.2 0.1 0.2 0.1 1.9 0.2 -1.2 0.1 -2.7 0.1 3.1 0.2 1.0 0.1 -1.1 0.1 1.5 0.1 -0.6 0.1 -1.8 0.2 0.1 0.1 1.7 0.1 -2.7 0.2 3.8 0.1 0.2 0.1 -7.4 0.1 4.5 0.1 -1.5 0.2 0.2 0.1 1.8 0.1 -0.7 0.2 1.6 0.1 -0.7 0.1 -0.1 0.1 -2.9 0.1 0.9 0.2 4.3 0.1 -8.9 0.1 9.8 0.2 -5.1 0.1 4.0 0.1 -8.7 0.1 5.0 0.1 3.0 0.2 -1.6 0.1 1.9 0.1 -4.4 0.2 0.6 0.1 -0.2 0.1 2.6 0.1 -0.1 0.1 -1.4 0.2 -0.3 0.1 0.0 0.1 0.7 0.2 -2.5 0.1 1.8 0.1 -0.3 0.1 -1.0 0.1 0.0 0.2 4.7 0.1 -4.7 0.1 2.4 0.2 2.3 0.1 -1.4 0.1 -1.5 0.1 2.3 0.1 -5.6 0.2 0.4 0.1 1.9 0.1 0.5 0.2 0.3 0.1 4.6 0.1 -0.4 0.1 -3.9 0.1 0.7 0.2 -2.7 0.1 2.7 0.1 -4.1 0.2 6.1 0.1 -4.6 0.1 2.4 0.1 -4.2 0.1 6.4 0.2 -1.6 0.1 3.2 0.1 -4.3 0.2 -4.0 0.1 1.8 0.1 -1.1 0.1 6.5 0.1 -5.0 0.2 -0.1 0.1 3.2 0.1 -0.7 0.2 0.4 0.1 -2.5 0.1 -3.5 0.1 1.3 0.1 -2.0 0.2 7.9 0.1 -0.8 0.1 -2.9 0.2 2.4 0.1 0.2 0.1 -0.1 0.1 -0.4 0.1 0.7 0.2 -1.8 0.1 -5.3 0.1 -1.1 0.2 9.5 0.1 -1.4 0.1 -7.0 0.1 6.1 0.1 -2.5 0.2 0.6 0.1 -4.8 0.1 7.7 0.2 -1.8 0.1 2.2 0.1 0.8 0.1 0.7 0.1 1.0 0.2 -2.9 0.1 -0.2 0.1 -2.1 0.2 2.5 0.1 -1.9 0.1 -2.2 0.1 5.6 0.1 -1.1 0.2 -7.7 0.1 1.9 0.1 3.9 0.2 -2.6 0.1 5.7 0.1 -2.7 0.1 0.5 0.1 0.5 0.2 0.7 0.1 -3.8 0.1 2.1 0.2 -0.8 0.1 1.4 0.1 -0.4 0.1 2.1 0.1 -1.9 0.2 -2.2 0.1 1.5 0.1 -2.8 0.2 3.4 0.1 2.7 0.1 -5.0 0.1 -2.4 0.1 3.7 0.2 -0.9 0.1 1.3 0.1 -1.4 0.2 1.5 0.1 -2.7 0.1 5.8 0.1 -4.3 0.1 1.6 0.2 0.5 0.1 -2.2 0.1 1.4 0.2 -1.6 0.1 -0.5 0.1 0.5 0.1 1.7 0.1 -4.1 0.2 0.8 0.1 0.2 0.1 0.4 0.2 3.9 0.1 -2.6 0.1 -0.6 0.1 1.1 0.1 2.2 0.2 -4.1 0.1 4.2 0.1 -7.6 0.2 3.3 0.1 5.5 0.1 0.1 0.1 -3.2 0.1 -1.6 0.2 2.8 0.1 -3.0 0.1 4.6 0.2 -0.8 0.1 -0.9 0.1 -3.7 0.1 4.1 0.1 -2.9 0.2 0.0 0.1 -0.4 0.1 0.7 0.2 1.5 0.1 0.8 0.1 0.0 0.1 5.9 0.1 -8.6 0.2 3.5 0.1 -4.0 0.1 1.2 0.2 -2.1 0.1 5.4 0.1 -2.2 0.1 -0.4 0.1 -0.7 0.2 2.3 0.1 -3.3 0.1 2.1 0.2 4.8 0.1 -6.1 0.1 -1.2 0.1 -0.9 0.1 4.2 0.2 -1.7 0.1 -1.9 0.1 -0.2 0.2 2.0 0.1 -2.4 0.1 7.2 0.1 -5.3 0.1 0.1 0.2 0.2 0.1 -4.0 0.1 0.9 0.2 2.6 0.1 0.9 0.1 -2.7 0.1 6.8 0.1 -2.9 0.2 1.7 0.1 -0.5 0.1 -3.5 0.2 5.9 0.1 -5.3 0.1 -4.6 0.1 -1.0 0.1 5.5 0.2 2.0 0.1 -1.8 0.1 3.8 0.2 -4.8 0.1 2.0 0.1 0.3 0.1 -4.0 0.1 3.1 0.2 0.2 0.1 1.8 0.1 0.2 0.2 -0.6 0.1 -4.2 0.1 3.3 0.1 0.7 0.1 -2.3 0.2 1.7 0.1 0.2 0.1 1.0 0.2 -2.4 0.1 1.0 0.1 -0.6 0.1 -0.4 0.1 -1.7 0.2 0.5 0.1 -1.8 0.1 2.1 0.2 2.1 0.1 0.0 0.1 0.4 0.1 -1.8 0.1 3.4 0.2 -4.4 0.1 2.6 0.1 -0.9 0.2 -2.7 0.1 0.3 0.1 3.5 0.1 -1.6 0.1 0.6 0.2 6.4 0.1 -5.9 0.1 -1.0 0.2 1.3 0.1 -3.0 0.1 0.9 0.1 1.5 0.1 -3.0 0.2 1.8 0.1 -0.4 0.1 0.6 0.2 -4.3 0.1 8.2 0.1 -4.2 0.1 1.3 0.1 -3.8 0.2 -0.8 0.1 2.9 0.1 -0.9 0.2 2.3 0.1 -3.5 0.1 -0.1 0.1 3.0 0.1 0.7 0.2 0.5 0.1 -2.2 0.1 0.7 0.2 -2.4 0.1 4.9 0.1 -0.4 0.1 0.1 0.1 -6.1 0.2 5.8 0.1 -3.7 0.1 2.8 0.2 -0.2 0.1 1.8 0.1 -3.2 0.1 -0.4 0.1 -1.5 0.2 -0.5 0.1 4.0 0.1 -3.4 0.2 3.7 0.1 -2.2 0.1 -0.2 0.1 3.6 0.1 -0.2 0.2 -4.4 0.1 1.7 0.1 0.2 0.2 1.4 0.1 -3.2 0.1 0.7 0.1 0.6 0.1 1.7 0.2 0.3 0.1 -3.4 0.1 5.2 0.2 -3.0 0.1 -2.8 0.1 -1.6 0.1 2.6 0.1 -4.2 0.2 6.0 0.1 0.9 0.1 1.6 0.2 -1.8 0.1 -5.2 0.1 3.2 0.1 2.4 0.1 -6.5 0.2 3.2 0.1 3.4 0.1 -1.3 0.2 -4.9 0.1 3.4 0.1 1.1 0.1 4.6 0.1 -5.7 0.2 -1.1 0.1 2.7 0.1 0.1 0.2 0.6 0.1 1.9 0.1 -3.6 0.1 -3.2 0.1 3.0 0.2 -0.1 0.1 2.3 0.1 -0.1 0.2 -3.4 0.1 3.7 0.1 0.6 0.1 -2.8 0.1 2.4 0.2 -2.0 0.1 -0.1 0.1 -0.8 0.2 2.2 0.1 4.7 0.1 -6.1 0.1 -3.2 0.1 2.2 0.2 -0.7 0.1 2.2 0.1 -1.1 0.2 6.0 0.1 -4.2 0.1 2.6 0.1 -5.9 0.1 1.2 0.2 5.2 0.1 -8.6 0.1 4.1 0.2 -4.0 0.1 7.0 0.1 -6.8 0.1 2.6 0.1 0.3 0.2 -3.3 0.1 9.6 0.1 -5.9 0.2 4.2 0.1 -5.4 0.1 -1.9 0.1 3.8 0.1 -0.2 0.2 6.2 0.1 -9.1 0.1 -1.2 0.2 1.9 0.1 2.3 0.1 0.6 0.1 -3.0 0.1 1.0 0.2 2.1 0.1 1.3 0.1 -3.9 0.2 1.5 0.1 -6.8 0.1 4.0 0.1 3.2 0.1 -1.0 0.2 -0.3 0.1 4.2 0.1 -4.3 0.2 -1.9 0.1 3.0 0.1 0.0 0.1 -3.0 0.1 5.0 0.2 1.8 0.1 -5.3 0.1 -0.7 0.2 1.7 0.1 2.9 0.1 -4.3 0.1 -0.5 0.1 0.2 0.2 1.8 0.1 -0.1 0.1 -1.0 0.2 3.3 0.1 2.5 0.1 -6.4 0.1 3.8 0.1 -1.8 0.2 6.2 0.1 -8.9 0.1 1.2 0.2 0.9 0.1 -3.5 0.1 2.8 0.1 2.1 0.1 -5.0 0.2 3.6 0.1 3.8 0.1 -5.5 0.2 -0.6 0.1 -3.6 0.1 5.8 0.1 -3.2 0.1 5.1 0.2 2.4 0.1 -2.7 0.1 -3.4 0.2 3.0 0.1 -2.6 0.1 -1.5 0.1 1.5 0.1 1.7 0.2 -1.4 0.1 1.9 0.1 3.5 0.2 -3.6 0.1 0.3 0.1 -3.3 0.1 4.7 0.1 -2.2 0.2 1.4 0.1 -4.2 0.1 2.2 0.2 -6.0 0.1 4.6 0.1 -0.9 0.1 -0.2 0.1 6.4 0.2 -7.5 0.1 3.1 0.1 -0.1 0.2 1.4 0.1 1.0 0.1 -6.0 0.1 2.4 0.1 -0.4 0.2 3.2 0.1 0.6 0.1 -3.1 0.2 -0.3 0.1 -1.1 0.1 3.1 0.1 2.9 0.1 -3.1 0.2 -2.6 0.1 -0.4 0.1 0.3 0.2 -2.1 0.1 7.8 0.1 -3.8 0.1 -1.0 0.1 5.8 0.2 -4.7 0.1 2.8 0.1 -2.9 0.2 1.8 0.1 -2.6 0.1 -1.1 0.1 1.8 0.1 0.7 0.2 1.1 0.1 -1.9 0.1 -0.9 0.2 -0.1 0.1 1.7 0.1 -1.8 0.1 0.4 0.1 2.0 0.2 0.1 0.1 -0.3 0.1 -3.0 0.2 -1.6 0.1 3.8 0.1 -0.5 0.1 -1.2 0.1 1.2 0.2 1.5 0.1 -2.3 0.1 1.4 0.2 -3.1 0.1 1.6 0.1 -1.5 0.1 -1.5 0.1 4.3 0.2 -7.7 0.1 6.3 0.1 1.8 0.2 -1.0 0.1 -4.6 0.1 4.2 0.1 -4.8 0.1 2.2 0.2 5.3 0.1 -3.0 0.1 2.3 0.2 -5.3 0.1 -2.2 0.1 3.2 0.1 4.7 0.1 -0.9 0.2 0.3 0.1 -3.0 0.1 -0.2 0.2 -0.4 0.1 7.0 0.1 -6.6 0.1 4.0 0.1 -4.3 0.2 3.7 0.1 -5.6 0.1 1.2 0.2 1.9 0.1 -2.3 0.1 0.5 0.1 0.7 0.1 -0.7 0.2 4.9 0.1 -0.9 0.1 -5.9 0.2 7.0 0.1 -4.3 0.1 -0.2 0.1 -0.3 0.1 2.4 0.2 -0.3 0.1 -2.7 0.1 1.5 0.2 -3.1 0.1 7.3 0.1 -6.3 0.1 -0.2 0.1 0.2 0.2 1.9 0.1 1.3 0.1 -2.6 0.2 0.9 0.1 -0.8 0.1 3.8 0.1 -2.5 0.1 -4.6 0.2 7.1 0.1 -2.9 0.1 3.6 0.2 -5.9 0.1 0.3 0.1 0.8 0.1 -2.8 0.1 2.4 0.2 3.7 0.1 -1.2 0.1 -7.1 0.2 8.5 0.1 -2.1 0.1 1.1 0.1 -1.9 0.1 0.3 0.2 -0.4 0.1 -0.1 0.1 -2.7 0.2 4.5 0.1 -2.1 0.1 0.2 0.1 -0.1 0.1 -1.4 0.2 0.7 0.1 -2.9 0.1 3.6 0.2 -0.1 0.1 -1.4 0.1 -3.4 0.1 7.0 0.1 -3.4 0.2 0.3 0.1 -0.7 0.1 -0.8 0.2 0.3 0.1 -1.7 0.1 1.2 0.1 6.1 0.1 -2.0 0.2 1.9 0.1 -6.1 0.1 -2.8 0.2 1.3 0.1 -2.8 0.1 8.6 0.1 0.2 0.1 -2.7 0.2 0.5 0.1 -0.1 0.1 -1.1 0.2 1.9 0.1 -4.1 0.1 1.2 0.1 0.5 0.1 -3.7 0.2 1.6 0.1 3.4 0.1 -0.2 0.2 -6.4 0.1 7.8 0.1 -1.2 0.1 0.9 0.1 -2.0 0.2 1.3 0.1 -4.6 0.1 2.2 0.2 -2.1 0.1 1.3 0.1 3.9 0.1 1.1 0.1 -3.8 0.2 -1.2 0.1 2.7 0.1 -0.8 0.2 3.3 0.1 -2.9 0.1 -6.7 0.1 5.5 0.1 -1.1 0.2 -1.3 0.1 1.9 0.1 -0.3 0.2 -1.0 0.1 4.2 0.1 -2.6 0.1 -0.1 0.1 -0.7 0.2 2.4 0.1 -5.4 0.1 5.5 0.2 -3.3 0.1 3.9 0.1 -0.3 0.1 -2.3 0.1 -2.5 0.2 1.4 0.1 -0.1 0.1 -4.2 0.2 2.6 0.1 -0.7 0.1 4.8 0.1 0.8 0.1 -5.6 0.2 0.3 0.1 -1.9 0.1 3.4 0.2 1.0 0.1 2.1 0.1 -7.2 0.1 5.0 0.1 -2.6 0.2 -1.5 0.1 0.6 0.1 -1.1 0.2 2.6 0.1 -1.1 0.1 2.8 0.1 -4.0 0.1 -3.3 0.2 1.9 0.1 2.9 0.1 -4.1 0.2 1.7 0.1 3.0 0.1 -4.4 0.1 4.9 0.1 -1.4 0.2 -2.3 0.1 1.1 0.1 -1.2 0.2 0.1 0.1 0.0 0.1 0.6 0.1 -0.3 0.1 -1.5 0.2 -0.5 0.1 7.0 0.1 -7.2 0.2 2.1 0.1 2.9 0.1 -0.7 0.1 -4.1 0.1 6.1 0.2 -0.7 0.1 -5.0 0.1 -2.3 0.2 4.0 0.1 -2.1 0.1 -0.5 0.1 -1.5 0.1 0.3 0.2 1.6 0.1 1.7 0.1 -6.7 0.2 -0.7 0.1 7.8 0.1 -4.2 0.1 3.4 0.1 -1.4 0.2 2.4 0.1 -1.0 0.1 -2.9 0.2 0.3 0.1 1.2 0.1 1.0 0.1 -3.1 0.1 -2.1 0.2 3.6 0.1 -0.5 0.1 -0.3 0.2 -2.0 0.1 3.6 0.1 -5.4 0.1 2.7 0.1 3.8 0.2 -5.8 0.1 3.2 0.1 0.0 0.2 -0.2 0.1 -4.8 0.1 6.1 0.1 -2.0 0.1 0.8 0.2 -0.4 0.1 -0.6 0.1 2.6 0.2 0.4 0.1 -7.7 0.1 2.4 0.1 1.3 0.1 -4.7 0.2 8.2 0.1 -5.3 0.1 2.9 0.2 -0.9 0.1 -1.1 0.1 -1.9 0.1 1.3 0.1 0.9 0.2 1.4 0.1 -2.5 0.1 -0.5 0.2 0.2 0.1 3.5 0.1 -2.3 0.1 -2.2 0.1 -1.4 0.2 2.0 0.1 -1.1 0.1 1.1 0.2 3.8 0.1 -1.9 0.1 -1.4 0.1 0.1 0.1 2.9 0.2 -6.5 0.1 3.7 0.1 -1.5 0.2 0.8 0.1 -0.3 0.1 -1.1 0.1 1.7 0.1 -6.3 0.2 5.7 0.1 0.9 0.1 -3.7 0.2 0.0 0.1 6.6 0.1 -6.5 0.1 1.0 0.1 -1.1 0.2 0.0 0.1 -0.5 0.1 -3.6 0.2 10.3 0.1 -7.0 0.1 2.6 0.1 -1.1 0.1 3.2 0.2 -1.7 0.1 0.9 0.1 -0.1 0.2 -0.8 0.1 -2.0 0.1 2.0 0.1 -5.8 0.1 5.5 0.2 -0.7 0.1 -1.1 0.1 -3.9 0.2 6.1 0.1 -4.5 0.1 3.0 0.1 -5.6 0.1 3.8 0.2 -1.2 0.1 -0.5 0.1 0.0 0.2 5.4 0.1 -4.2 0.1 0.8 0.1 4.1 0.1 -8.2 0.2 6.7 0.1 -4.4 0.1 -0.7 0.2 0.4 0.1 -3.3 0.1 0.7 0.1 0.9 0.1 1.2 0.2 2.9 0.1 0.7 0.1 -3.4 0.2 1.6 0.1 0.2 0.1 -1.5 0.1 1.0 0.1 -1.9 0.2 2.5 0.1 -1.8 0.1 0.5 0.2 0.3 0.1 -0.4 0.1 -2.2 0.1 -1.7 0.1 2.8 0.2 -1.2 0.1 0.0 0.1 1.0 0.2 -1.5 0.1 2.5 0.1 -0.2 0.1 -3.1 0.1 2.9 0.2 -3.1 0.1 3.9 0.1 -0.2 0.2 -1.6 0.1 1.9 0.1 0.1 0.1 -1.5 0.1 -5.3 0.2 4.5 0.1 0.2 0.1 1.3 0.2 -4.2 0.1 3.7 0.1 -1.0 0.1 -0.2 0.1 -4.1 0.2 0.5 0.1 4.2 0.1 -1.1 0.2 -2.4 0.1 2.3 0.1 -2.1 0.1 -1.7 0.1 -2.7 0.2 5.8 0.1 -2.9 0.1 0.4 0.2 -5.2 0.1 2.3 0.1 1.4 0.1 -1.6 0.1 -1.5 0.2 -1.1 0.1 2.8 0.1 -1.7 0.2 -0.3 0.1 -0.4 0.1 -1.5 0.1 -0.1 0.1 -1.4 0.2 0.7 0.1 -4.0 0.1 -0.1 0.2 1.8 0.1 -1.3 0.1 -0.2 0.1 3.1 0.1 -4.1 0.2 -0.3 0.1 -2.9 0.1 -2.4 0.2 -2.8 0.1 -3.9 0.1 -0.5 0.1 -3.7 0.1 1.2 0.2 -2.7 0.1 -0.3 0.1 0.5 0.2 -2.6 0.1 1.3 0.1 -1.5 0.1 -1.3 0.1 -1.9 0.2 -3.0 0.1 -3.4 0.1 0.7 0.2 -2.9 0.1 -1.2 0.1 0.3 0.1 -4.5 0.1 -2.2 0.2 3.7 0.1 2.8 0.1 -1.6 0.2 6.2 0.1 -11.2 0.1 2.5 0.1 -2.5 0.1 5.2 0.2 8.8 0.1 2.6 0.1 -2.2 0.2 6.0 0.1 3.7 0.1 4.3 0.1 8.4 0.1 6.3 0.2 7.9 0.1 7.6 0.1 8.6 0.2 9.4 0.1 4.7 0.1 7.1 0.1 7.8 0.1 8.0 0.2 5.4 0.1 4.5 0.1 7.0 0.2 8.4 0.1 1.2 0.1 8.9 0.1 -0.8 0.1 8.2 0.2 3.1 0.1 0.7 0.1 2.5 0.2 1.2 0.1 5.6 0.1 -4.0 0.1 -0.1 0.1 2.6 0.2 1.5 0.1 -2.1 0.1 -1.6 0.2 2.0 0.1 -4.9 0.1 -1.0 0.1 -2.2 0.1 4.4 0.2 -9.0 0.1 0.9 0.1 2.3 0.2 -0.8 0.1 1.8 0.1 -4.2 0.1 -3.3 0.1 2.9 0.2 -2.0 0.1 -1.2 0.1 -1.5 0.2 -2.5 0.1 -5.5 0.1 -0.1 0.1 6.0 0.1 -5.2 0.2 -5.1 0.1 3.5 0.1 1.2 0.2 -2.1 0.1 -1.7 0.1 -6.1 0.1 4.7 0.1 -1.1 0.2 3.7 0.1 -4.2 0.1 -0.4 0.2 -1.2 0.1 0.3 0.1 0.4 0.1 -2.3 0.1 -1.4 0.2 -1.4 0.1 2.7 0.1 -1.4 0.2 -0.2 0.1 -3.0 0.1 1.4 0.1 -2.7 0.1 6.2 0.2 0.4 0.1 -1.9 0.1 -1.3 0.2 1.3 0.1 -4.6 0.1 0.3 0.1 5.7 0.1 -4.9 0.2 2.3 0.1 -1.3 0.1 -3.9 0.2 4.0 0.1 3.3 0.1 1.0 0.1 -8.9 0.1 2.1 0.2 2.2 0.1 3.6 0.1 0.6 0.2 0.8 0.1 0.1 0.1 -4.9 0.1 -1.3 0.1 4.3 0.2 -2.7 0.1 0.7 0.1 -0.8 0.2 0.0 0.1 3.0 0.1 -4.2 0.1 -1.4 0.1 2.6 0.2 2.0 0.1 -0.8 0.1 0.4 0.2 -4.2 0.1 2.5 0.1 4.4 0.1 -2.7 0.1 -1.1 0.2 4.2 0.1 -3.7 0.1 3.2 0.2 -1.2 0.1 0.5 0.1 1.4 0.1 2.8 0.1 -2.2 0.2 -4.8 0.1 -0.5 0.1 1.7 0.2 0.3 0.1 1.9 0.1 -1.5 0.1 0.4 0.1 -4.3 0.2 3.9 0.1 1.4 0.1 2.7 0.2 -2.2 0.1 -1.7 0.1 -3.2 0.1 2.5 0.1 -0.1 0.2 -0.3 0.1 0.7 0.1 0.9 0.2 0.0 0.1 4.2 0.1 -7.3 0.1 -1.3 0.1 4.6 0.2 -3.7 0.1 2.3 0.1 0.3 0.2 -1.6 0.1 3.8 0.1 -0.1 0.1 -0.9 0.1 1.2 0.2 0.5 0.1 -2.9 0.1 1.7 0.2 -1.3 0.1 -0.6 0.1 -1.2 0.1 5.0 0.1 -3.2 0.2 -3.9 0.1 4.5 0.1 -6.8 0.2 6.5 0.1 1.1 0.1 1.4 0.1 -2.9 0.1 -2.3 0.2 5.9 0.1 -2.2 0.1 0.5 0.2 -3.5 0.1 2.0 0.1 -5.5 0.1 5.1 0.1 -5.9 0.2 2.3 0.1 -1.0 0.1 5.9 0.2 -0.5 0.1 -3.4 0.1 4.2 0.1 -2.8 0.1 -4.7 0.2 3.6 0.1 -3.1 0.1 4.2 0.2 0.6 0.1 -2.5 0.1 3.5 0.1 0.5 0.1 -4.4 0.2 3.4 0.1 -1.6 0.1 -0.5 0.2 4.3 0.1 -5.6 0.1 0.7 0.1 0.5 0.1 1.4 0.2 0.3 0.1 -4.1 0.1 5.1 0.2 1.1 0.1 0.4 0.1 -4.2 0.1 -1.6 0.1 -1.3 0.2 3.1 0.1 -1.1 0.1 -0.2 0.2 -1.5 0.1 -3.7 0.1 4.4 0.1 0.3 0.1 -0.3 0.2 -2.3 0.1 2.7 0.1 0.3 0.2 -2.3 0.1 4.0 0.1 -1.7 0.1 0.2 0.1 0.5 0.2 -1.5 0.1 0.5 0.1 1.5 0.2 0.7 0.1 0.3 0.1 -2.5 0.1 2.1 0.1 0.8 0.2 -5.9 0.1 2.2 0.1 0.8 0.2 0.0 0.1 4.0 0.1 -1.4 0.1 -3.0 0.1 -0.1 0.2 -3.1 0.1 0.7 0.1 5.2 0.2 -7.3 0.1 5.4 0.1 -3.1 0.1 1.0 0.1 0.5 0.2 4.5 0.1 -3.5 0.1 0.4 0.2 1.1 0.1 -7.5 0.1 9.3 0.1 -8.1 0.1 2.2 0.2 3.1 0.1 -4.6 0.1 -1.3 0.2 6.7 0.1 -3.4 0.1 3.0 0.1 -0.9 0.1 -1.6 0.2 4.2 0.1 -4.8 0.1 4.9 0.2 -6.9 0.1 -0.3 0.1 0.7 0.1 2.2 0.1 -3.1 0.2 1.0 0.1 4.9 0.1 -3.0 0.2 2.1 0.1 -1.9 0.1 -2.2 0.1 -0.4 0.1 2.2 0.2 -0.4 0.1 -1.4 0.1 -0.2 0.2 4.4 0.1 -1.1 0.1 -1.8 0.1 -1.5 0.1 -0.2 0.2 5.5 0.1 -6.1 0.1 6.6 0.2 -6.9 0.1 -2.0 0.1 7.9 0.1 -5.1 0.1 3.5 0.2 -2.8 0.1 -1.8 0.1 2.6 0.2 -2.9 0.1 1.7 0.1 -1.4 0.1 -3.8 0.1 4.9 0.2 -2.1 0.1 0.9 0.1 1.4 0.2 -4.1 0.1 4.6 0.1 0.0 0.1 3.0 0.1 -2.8 0.2 -1.2 0.1 -2.4 0.1 1.3 0.2 -3.3 0.1 4.1 0.1 -1.5 0.1 -0.4 0.1 0.8 0.2 0.9 0.1 -0.7 0.1 -3.5 0.2 5.5 0.1 -3.1 0.1 0.7 0.1 -0.7 0.1 -2.2 0.2 2.8 0.1 -1.5 0.1 -1.0 0.2 2.3 0.1 1.5 0.1 -0.4 0.1 -1.2 0.1 -2.0 0.2 0.4 0.1 0.2 0.1 -3.0 0.2 5.1 0.1 -1.7 0.1 -3.1 0.1 6.4 0.1 1.0 0.2 -7.4 0.1 2.4 0.1 -1.7 0.2 3.6 0.1 -4.9 0.1 4.3 0.1 -0.1 0.1 1.7 0.2 -6.7 0.1 2.5 0.1 1.2 0.2 2.5 0.1 -2.2 0.1 1.3 0.1 -0.9 0.1 -3.3 0.2 1.6 0.1 -0.7 0.1 0.2 0.2 -1.3 0.1 3.8 0.1 -1.1 0.1 -5.2 0.1 5.9 0.2 -3.0 0.1 -2.1 0.1 6.2 0.2 -2.9 0.1 0.8 0.1 -1.3 0.1 0.1 0.1 -4.2 0.2 5.7 0.1 -3.6 0.1 1.6 0.2 -0.4 0.1 -2.1 0.1 -0.6 0.1 2.7 0.1 3.3 0.2 -4.4 0.1 0.0 0.1 1.4 0.2 -1.8 0.1 4.2 0.1 -2.0 0.1 4.6 0.1 -5.3 0.2 4.5 0.1 -6.6 0.1 1.8 0.2 -3.1 0.1 1.5 0.1 0.2 0.1 2.2 0.1 1.8 0.2 -3.7 0.1 -2.7 0.1 3.2 0.2 -0.5 0.1 -0.8 0.1 3.0 0.1 0.5 0.1 -4.2 0.2 -0.1 0.1 -4.3 0.1 4.6 0.2 3.3 0.1 -4.0 0.1 4.2 0.1 -0.5 0.1 -0.2 0.2 0.0 0.1 -1.8 0.1 2.3 0.2 -0.1 0.1 -1.8 0.1 -0.9 0.1 3.0 0.1 0.5 0.2 -4.9 0.1 3.4 0.1 -1.8 0.2 5.2 0.1 -6.1 0.1 -0.8 0.1 -0.7 0.1 4.2 0.2 -4.7 0.1 3.8 0.1 -2.8 0.2 4.3 0.1 0.5 0.1 -1.0 0.1 -7.1 0.1 1.0 0.2 -3.0 0.1 12.1 0.1 -7.4 0.2 0.3 0.1 1.0 0.1 1.2 0.1 -2.2 0.1 1.0 0.2 -0.1 0.1 -2.9 0.1 7.1 0.2 -0.3 0.1 -4.1 0.1 -0.4 0.1 4.5 0.1 1.2 0.2 -5.7 0.1 1.1 0.1 -2.3 0.2 1.8 0.1 -6.4 0.1 0.8 0.1 6.1 0.1 -1.5 0.2 1.2 0.1 -0.9 0.1 1.1 0.2 -0.8 0.1 -0.9 0.1 1.4 0.1 -2.5 0.1 4.7 0.2 -5.5 0.1 1.3 0.1 2.8 0.2 -3.1 0.1 2.9 0.1 1.2 0.1 -1.5 0.1 -2.7 0.2 5.4 0.1 -3.5 0.1 -3.5 0.2 6.7 0.1 -4.3 0.1 1.1 0.1 0.8 0.1 -3.2 0.2 3.2 0.1 -5.1 0.1 0.3 0.2 1.1 0.1 5.7 0.1 -3.6 0.1 1.3 0.1 -3.6 0.2 2.4 0.1 -5.9 0.1 4.4 0.2 1.5 0.1 -2.3 0.1 -3.3 0.1 0.7 0.1 5.2 0.2 1.6 0.1 -4.0 0.1 4.6 0.2 -6.6 0.1 4.6 0.1 -0.7 0.1 1.7 0.1 -6.1 0.2 5.6 0.1 -2.3 0.1 -2.4 0.2 0.9 0.1 0.6 0.1 1.3 0.1 -2.5 0.1 0.0 0.2 2.2 0.1 -0.4 0.1 1.1 0.2 0.8 0.1 -6.6 0.1 3.9 0.1 0.7 0.1 -0.6 0.2 -2.8 0.1 3.9 0.1 2.1 0.2 -4.4 0.1 -1.5 0.1 3.6 0.1 -1.7 0.1 0.3 0.2 0.3 0.1 -1.6 0.1 1.0 0.2 -1.6 0.1 -2.9 0.1 7.0 0.1 -1.8 0.1 -0.9 0.2 3.2 0.1 -3.6 0.1 3.0 0.2 -0.7 0.1 -2.6 0.1 -2.2 0.1 4.0 0.1 -0.5 0.2 1.8 0.1 -5.9 0.1 3.4 0.2 1.0 0.1 0.3 0.1 -0.5 0.1 0.3 0.1 -6.2 0.2 4.5 0.1 -0.9 0.1 -2.1 0.2 3.7 0.1 -1.2 0.1 -1.8 0.1 -0.5 0.1 4.1 0.2 -6.5 0.1 5.7 0.1 -2.5 0.2 2.6 0.1 4.0 0.1 -2.2 0.1 -2.6 0.1 3.7 0.2 0.9 0.1 -2.1 0.1 1.9 0.2 -3.8 0.1 0.8 0.1 -1.7 0.1 -0.7 0.1 0.9 0.2 -1.8 0.1 1.6 0.1 5.5 0.2 -3.4 0.1 -2.1 0.1 4.5 0.1 -0.6 0.1 -5.9 0.2 0.8 0.1 5.5 0.1 -3.8 0.2 0.1 0.1 -1.7 0.1 -1.4 0.1 5.3 0.1 -4.5 0.2 3.2 0.1 2.9 0.1 -3.2 0.2 -2.0 0.1 1.7 0.1 -0.3 0.1 -2.3 0.1 1.7 0.2 -3.4 0.1 -1.2 0.1 2.8 0.2 -2.8 0.1 2.6 0.1 1.1 0.1 0.8 0.1 3.9 0.2 -6.4 0.1 1.1 0.1 -0.1 0.2 -1.3 0.1 7.1 0.1 -6.6 0.1 1.3 0.1 0.0 0.2 6.0 0.1 -6.7 0.1 -1.3 0.2 4.5 0.1 -4.5 0.1 -3.3 0.1 7.7 0.1 -0.2 0.2 -5.2 0.1 0.7 0.1 3.0 0.2 -2.0 0.1 -1.2 0.1 0.7 0.1 6.9 0.1 -1.9 0.2 -5.2 0.1 2.0 0.1 0.6 0.2 -1.1 0.1 0.7 0.1 4.1 0.1 -5.8 0.1 -0.4 0.2 1.5 0.1 -1.5 0.1 0.6 0.2 0.1 0.1 -1.2 0.1 5.2 0.1 -4.3 0.1 4.8 0.2 -5.0 0.1 -0.1 0.1 2.6 0.2 -1.3 0.1 2.4 0.1 -0.5 0.1 3.7 0.1 -12.5 0.2 4.4 0.1 2.3 0.1 -0.4 0.2 0.3 0.1 6.1 0.1 -11.6 0.1 6.8 0.1 -2.2 0.2 0.6 0.1 2.7 0.1 -2.5 0.2 2.1 0.1 1.3 0.1 -0.2 0.1 -7.2 0.1 2.9 0.2 -1.5 0.1 1.3 0.1 1.5 0.2 5.3 0.1 -6.5 0.1 0.7 0.1 0.2 0.1 4.0 0.2 -4.8 0.1 2.5 0.1 0.9 0.2 -0.6 0.1 -6.1 0.1 1.7 0.1 4.7 0.1 -6.0 0.2 3.5 0.1 -3.2 0.1 4.4 0.2 -1.0 0.1 -3.5 0.1 3.1 0.1 -2.0 0.1 1.3 0.2 4.3 0.1 -2.2 0.1 0.2 0.2 2.9 0.1 -3.3 0.1 2.9 0.1 -2.2 0.1 -0.3 0.2 -1.5 0.1 -1.2 0.1 -0.6 0.2 0.1 0.1 3.2 0.1 -0.4 0.1 -2.9 0.1 4.9 0.2 -4.2 0.1 0.6 0.1 -2.4 0.2 1.2 0.1 3.8 0.1 -1.2 0.1 -2.7 0.1 4.1 0.2 -3.2 0.1 0.3 0.1 2.4 0.2 -1.2 0.1 -1.6 0.1 -1.4 0.1 5.6 0.1 -8.5 0.2 4.1 0.1 -2.8 0.1 2.6 0.2 3.2 0.1 -2.9 0.1 -0.3 0.1 0.9 0.1 4.7 0.2 -1.3 0.1 -2.7 0.1 -2.0 0.2 0.7 0.1 1.7 0.1 -1.3 0.1 0.4 0.1 -2.0 0.2 -0.7 0.1 0.5 0.1 2.9 0.2 -2.9 0.1 7.9 0.1 -4.7 0.1 0.2 0.1 0.8 0.2 -4.7 0.1 -0.2 0.1 2.2 0.2 2.1 0.1 -0.1 0.1 2.6 0.1 -0.7 0.1 -0.9 0.2 0.1 0.1 -2.1 0.1 1.3 0.2 -2.6 0.1 -0.2 0.1 3.2 0.1 -6.0 0.1 7.1 0.2 1.0 0.1 -5.5 0.1 2.9 0.2 -1.3 0.1 -2.7 0.1 3.1 0.1 0.3 0.1 1.0 0.2 -3.1 0.1 1.0 0.1 -1.8 0.2 3.8 0.1 -2.5 0.1 2.2 0.1 -3.5 0.1 1.9 0.2 -2.3 0.1 0.4 0.1 4.4 0.2 -2.9 0.1 0.3 0.1 2.0 0.1 -3.6 0.1 6.3 0.2 -6.3 0.1 0.9 0.1 6.1 0.2 -9.1 0.1 8.1 0.1 -3.2 0.1 0.2 0.1 -3.8 0.2 2.8 0.1 -3.3 0.1 5.3 0.2 -2.8 0.1 -0.9 0.1 0.3 0.1 0.7 0.1 2.5 0.2 -1.4 0.1 -2.7 0.1 -0.4 0.2 -0.5 0.1 4.2 0.1 -0.8 0.1 -3.8 0.1 -1.2 0.2 3.7 0.1 -1.0 0.1 2.7 0.2 -1.4 0.1 1.3 0.1 1.0 0.1 0.5 0.1 -3.0 0.2 2.0 0.1 -3.2 0.1 -1.6 0.2 3.2 0.1 2.2 0.1 0.6 0.1 -3.3 0.1 -3.7 0.2 4.8 0.1 -1.2 0.1 1.9 0.2 1.1 0.1 -3.5 0.1 -0.7 0.1 0.6 0.1 -0.8 0.2 -0.9 0.1 2.8 0.1 -2.1 0.2 1.3 0.1 0.1 0.1 -0.5 0.1 2.9 0.1 -2.4 0.2 0.9 0.1 1.9 0.1 -2.3 0.2 -3.1 0.1 2.1 0.1 -0.1 0.1 2.5 0.1 2.3 0.2 -3.3 0.1 -0.7 0.1 3.7 0.2 -4.9 0.1 2.2 0.1 0.4 0.1 -1.3 0.1 -0.4 0.2 0.8 0.1 3.0 0.1 -2.3 0.2 -2.8 0.1 1.9 0.1 1.4 0.1 1.9 0.1 -2.3 0.2 -1.3 0.1 2.7 0.1 -1.1 0.2 -1.7 0.1 -1.8 0.1 1.7 0.1 1.9 0.1 -4.7 0.2 -1.3 0.1 4.9 0.1 -4.6 0.2 0.7 0.1 2.6 0.1 0.0 0.1 0.5 0.1 0.1 0.2 0.8 0.1 -1.5 0.1 -1.7 0.2 -4.6 0.1 9.4 0.1 -0.9 0.1 -0.2 0.1 -1.3 0.2 -1.8 0.1 3.2 0.1 -1.3 0.2 -3.2 0.1 5.3 0.1 -5.9 0.1 2.1 0.1 4.9 0.2 -5.9 0.1 2.3 0.1 2.1 0.2 -2.4 0.1 -3.1 0.1 2.1 0.1 1.1 0.1 -3.3 0.2 6.7 0.1 -2.5 0.1 0.9 0.2 -1.1 0.1 0.3 0.1 -1.6 0.1 -2.5 0.1 4.9 0.2 -1.4 0.1 3.6 0.1 -6.2 0.2 3.1 0.1 4.6 0.1 -8.2 0.1 0.2 0.1 3.2 0.2 3.4 0.1 -6.6 0.1 2.7 0.2 -0.7 0.1 -1.0 0.1 0.6 0.1 3.4 0.1 -2.4 0.2 -3.1 0.1 1.8 0.1 1.8 0.2 -3.5 0.1 1.6 0.1 0.4 0.1 -4.1 0.1 9.0 0.2 -8.0 0.1 3.8 0.1 -0.6 0.2 -1.0 0.1 4.2 0.1 -2.6 0.1 -2.0 0.1 4.7 0.2 -1.4 0.1 -3.6 0.1 -1.2 0.2 5.5 0.1 -2.5 0.1 -3.0 0.1 4.6 0.1 -4.4 0.2 1.8 0.1 -0.4 0.1 -2.8 0.2 6.0 0.1 6.4 0.1 -6.7 0.1 -0.5 0.1 -1.5 0.2 0.5 0.1 1.0 0.1 1.0 0.2 -2.5 0.1 1.2 0.1 -0.7 0.1 1.6 0.1 0.8 0.2 0.3 0.1 -3.6 0.1 -0.1 0.2 2.7 0.1 -2.1 0.1 0.2 0.1 1.7 0.1 0.0 0.2 2.4 0.1 -5.7 0.1 5.5 0.2 -3.6 0.1 2.6 0.1 -4.7 0.1 2.5 0.1 -1.3 0.2 5.4 0.1 -6.4 0.1 4.7 0.2 -4.5 0.1 -0.7 0.1 3.3 0.1 1.7 0.1 -2.5 0.2 1.5 0.1 -0.9 0.1 -0.7 0.2 3.3 0.1 -3.1 0.1 2.3 0.1 -4.5 0.1 2.4 0.2 2.5 0.1 -3.3 0.1 -4.1 0.2 6.7 0.1 -0.3 0.1 -1.9 0.1 1.0 0.1 -0.9 0.2 1.7 0.1 1.6 0.1 -2.0 0.2 -1.1 0.1 -1.1 0.1 0.6 0.1 -0.8 0.1 3.4 0.2 -4.7 0.1 1.0 0.1 2.0 0.2 -0.3 0.1 -0.3 0.1 -1.5 0.1 1.7 0.1 -3.5 0.2 0.0 0.1 0.7 0.1 3.8 0.2 2.3 0.1 -4.2 0.1 -0.2 0.1 0.7 0.1 4.8 0.2 -3.8 0.1 -0.5 0.1 -1.7 0.2 2.4 0.1 1.9 0.1 -2.5 0.1 -2.3 0.1 4.9 0.2 -2.9 0.1 4.2 0.1 -6.4 0.2 2.1 0.1 1.0 0.1 -4.6 0.1 4.3 0.1 1.2 0.2 -1.8 0.1 1.2 0.1 -0.6 0.2 -2.5 0.1 3.5 0.1 -3.4 0.1 0.9 0.1 -1.0 0.2 3.1 0.1 -2.5 0.1 0.0 0.2 -3.8 0.1 4.3 0.1 2.9 0.1 -7.2 0.1 5.6 0.2 -1.0 0.1 -3.9 0.1 3.1 0.2 3.3 0.1 -2.2 0.1 0.9 0.1 1.7 0.1 -3.2 0.2 2.7 0.1 -4.9 0.1 0.7 0.2 5.2 0.1 -0.2 0.1 -0.9 0.1 -5.6 0.1 2.9 0.2 -1.5 0.1 6.4 0.1 -7.4 0.2 0.3 0.1 1.6 0.1 2.2 0.1 -2.0 0.1 0.6 0.2 1.4 0.1 -0.6 0.1 -4.4 0.2 1.4 0.1 6.6 0.1 -3.7 0.1 4.0 0.1 -0.9 0.2 -0.8 0.1 -2.3 0.1 3.4 0.2 -4.5 0.1 6.2 0.1 -3.7 0.1 -0.1 0.1 -2.4 0.2 -0.6 0.1 0.7 0.1 -0.5 0.2 -0.6 0.1 -0.4 0.1 3.1 0.1 2.3 0.1 1.8 0.2 -2.6 0.1 -1.9 0.1 1.7 0.2 2.4 0.1 -3.7 0.1 1.9 0.1 -1.5 0.1 -0.5 0.2 -1.5 0.1 3.0 0.1 -3.5 0.2 -0.3 0.1 3.0 0.1 1.3 0.1 -0.2 0.1 -0.3 0.2 -2.6 0.1 0.4 0.1 3.0 0.2 2.3 0.1 -10.7 0.1 9.1 0.1 -2.2 0.1 -0.6 0.2 -1.5 0.1 0.1 0.1 -1.4 0.2 3.1 0.1 -2.9 0.1 1.6 0.1 -3.1 0.1 6.0 0.2 -1.3 0.1 -4.3 0.1 3.7 0.2 -2.0 0.1 -1.1 0.1 2.2 0.1 1.8 0.1 1.5 0.2 -2.7 0.1 2.0 0.1 -1.1 0.2 0.0 0.1 0.7 0.1 -5.3 0.1 2.2 0.1 4.3 0.2 -6.5 0.1 1.0 0.1 6.1 0.2 -6.6 0.1 2.6 0.1 0.4 0.1 -1.3 0.1 2.8 0.2 -0.1 0.1 -3.5 0.1 5.7 0.2 -5.7 0.1 0.9 0.1 0.7 0.1 0.7 0.1 -2.9 0.2 3.2 0.1 -5.4 0.1 4.0 0.2 -1.0 0.1 0.4 0.1 1.2 0.1 0.6 0.1 -2.3 0.2 1.7 0.1 -3.5 0.1 2.5 0.2 2.9 0.1 -3.7 0.1 0.9 0.1 0.7 0.1 2.0 0.2 -0.9 0.1 -1.1 0.1 -1.8 0.2 2.8 0.1 -7.1 0.1 7.5 0.1 -2.7 0.1 3.0 0.2 -1.8 0.1 3.0 0.1 -4.7 0.2 -3.1 0.1 4.5 0.1 -1.1 0.1 1.0 0.1 3.0 0.2 -4.6 0.1 3.6 0.1 0.5 0.2 0.4 0.1 -7.0 0.1 4.7 0.1 -2.0 0.1 1.0 0.2 -1.4 0.1 1.1 0.1 2.9 0.2 1.7 0.1 -2.3 0.1 -4.5 0.1 5.4 0.1 -5.6 0.2 2.0 0.1 3.5 0.1 -3.8 0.2 3.0 0.1 -2.3 0.1 -2.0 0.1 3.1 0.1 -1.6 0.2 5.2 0.1 0.4 0.1 -0.4 0.2 -5.7 0.1 6.8 0.1 -3.6 0.1 0.2 0.1 -0.9 0.2 -1.9 0.1 1.5 0.1 1.9 0.2 1.6 0.1 -2.1 0.1 -1.2 0.1 -1.1 0.1 0.4 0.2 4.3 0.1 -2.2 0.1 -1.1 0.2 -4.4 0.1 -0.4 0.1 5.5 0.1 0.0 0.1 1.4 0.2 -1.8 0.1 -1.7 0.1 -2.2 0.2 1.8 0.1 -3.3 0.1 5.8 0.1 0.2 0.1 1.7 0.2 -7.5 0.1 0.8 0.1 4.6 0.2 -0.6 0.1 -5.2 0.1 3.0 0.1 1.9 0.1 -1.0 0.2 1.7 0.1 -0.8 0.1 -1.3 0.2 2.1 0.1 -1.1 0.1 2.8 0.1 -6.0 0.1 2.7 0.2 -1.0 0.1 1.1 0.1 1.4 0.2 0.5 0.1 -6.5 0.1 7.3 0.1 -1.6 0.1 -0.1 0.2 -1.0 0.1 2.2 0.1 -1.1 0.2 -4.9 0.1 2.8 0.1 1.1 0.1 -0.2 0.1 -0.1 0.2 2.4 0.1 -3.9 0.1 0.8 0.2 -0.6 0.1 2.1 0.1 0.8 0.1 -3.2 0.1 2.9 0.2 -2.0 0.1 4.8 0.1 -8.1 0.2 5.2 0.1 2.6 0.1 -3.6 0.1 -1.9 0.1 0.3 0.2 3.2 0.1 -2.5 0.1 3.8 0.2 -2.1 0.1 -1.3 0.1 0.2 0.1 2.0 0.1 1.1 0.2 -4.1 0.1 -0.8 0.1 0.1 0.2 3.9 0.1 3.2 0.1 -5.4 0.1 2.8 0.1 -2.5 0.2 2.9 0.1 -5.6 0.1 4.8 0.2 -4.3 0.1 1.0 0.1 2.7 0.1 -1.5 0.1 0.2 0.2 1.2 0.1 -0.7 0.1 3.0 0.2 -1.6 0.1 -3.7 0.1 1.8 0.1 -1.1 0.1 0.4 0.2 5.0 0.1 -5.9 0.1 4.6 0.2 0.6 0.1 2.9 0.1 -6.2 0.1 0.7 0.1 0.1 0.2 -1.6 0.1 4.8 0.1 0.4 0.2 -9.8 0.1 4.7 0.1 3.5 0.1 -5.1 0.1 0.8 0.2 1.6 0.1 -0.2 0.1 -0.3 0.2 0.2 0.1 4.6 0.1 -9.5 0.1 4.2 0.1 -1.4 0.2 3.2 0.1 -1.5 0.1 2.3 0.2 -1.0 0.1 5.4 0.1 -8.5 0.1 1.8 0.1 3.0 0.2 -3.0 0.1 1.3 0.1 -3.9 0.2 5.1 0.1 -2.0 0.1 1.5 0.1 -3.5 0.1 0.8 0.2 -0.6 0.1 5.9 0.1 -7.8 0.2 5.2 0.1 -0.4 0.1 2.3 0.1 -2.4 0.1 -3.1 0.2 3.5 0.1 -5.3 0.1 6.3 0.2 -2.7 0.1 -1.5 0.1 0.7 0.1 2.6 0.1 -5.1 0.2 8.0 0.1 -5.4 0.1 5.3 0.2 -3.1 0.1 4.0 0.1 -7.4 0.1 4.8 0.1 -2.4 0.2 -1.5 0.1 3.3 0.1 -2.7 0.2 -1.2 0.1 1.3 0.1 -1.2 0.1 1.5 0.1 0.6 0.2 2.7 0.1 -2.8 0.1 -1.6 0.2 3.5 0.1 -2.7 0.1 -1.4 0.1 -0.6 0.1 6.9 0.2 -4.4 0.1 4.0 0.1 -6.0 0.2 -0.3 0.1 6.3 0.1 -4.6 0.1 0.1 0.1 0.1 0.2 -1.7 0.1 4.9 0.1 -5.2 0.2 4.5 0.1 -4.3 0.1 8.6 0.1 -4.6 0.1 0.9 0.2 -6.6 0.1 4.8 0.1 -2.2 0.2 -0.5 0.1 0.1 0.1 3.8 0.1 -1.9 0.1 -1.4 0.2 -0.3 0.1 -0.1 0.1 0.4 0.2 0.7 0.1 -1.9 0.1 0.6 0.1 -3.2 0.1 5.0 0.2 1.3 0.1 -2.7 0.1 4.3 0.2 -5.1 0.1 1.9 0.1 2.7 0.1 -2.0 0.1 -2.4 0.2 2.8 0.1 -1.7 0.1 3.6 0.2 -0.6 0.1 -2.2 0.1 1.9 0.1 2.8 0.1 -1.5 0.2 -0.8 0.1 -2.6 0.1 -1.1 0.2 -0.4 0.1 4.1 0.1 -5.0 0.1 3.3 0.1 2.7 0.2 -7.4 0.1 4.6 0.1 -3.0 0.2 2.1 0.1 1.5 0.1 -3.5 0.1 -0.8 0.1 2.1 0.2 1.4 0.1 -1.4 0.1 -1.4 0.2 3.9 0.1 -4.1 0.1 -0.6 0.1 3.7 0.1 4.7 0.2 -6.2 0.1 1.0 0.1 -2.2 0.2 0.9 0.1 -1.2 0.1 3.1 0.1 -2.3 0.1 -0.5 0.2 3.9 0.1 -5.6 0.1 5.6 0.2 -2.4 0.1 -1.6 0.1 2.3 0.1 -0.5 0.1 1.5 0.2 -1.2 0.1 4.8 0.1 -2.0 0.2 0.0 0.1 -5.5 0.1 2.0 0.1 3.6 0.1 -1.3 0.2 -1.3 0.1 -0.2 0.1 2.7 0.2 -6.7 0.1 2.5 0.1 -1.1 0.1 6.0 0.1 -5.8 0.2 2.7 0.1 3.8 0.1 -3.9 0.2 1.3 0.1 -0.7 0.1 1.6 0.1 3.5 0.1 -7.9 0.2 2.4 0.1 3.7 0.1 1.5 0.2 -6.2 0.1 3.7 0.1 -1.6 0.1 0.0 0.1 -4.8 0.2 -0.4 0.1 4.1 0.1 -0.5 0.2 0.1 0.1 -2.4 0.1 6.2 0.1 -3.8 0.1 6.7 0.2 -6.9 0.1 1.4 0.1 0.8 0.2 -2.6 0.1 -1.6 0.1 1.0 0.1 1.3 0.1 -1.2 0.2 5.8 0.1 -5.8 0.1 3.1 0.2 0.2 0.1 -1.5 0.1 -2.9 0.1 3.8 0.1 1.0 0.2 -1.7 0.1 -0.4 0.1 -5.0 0.2 2.4 0.1 2.1 0.1 0.8 0.1 1.3 0.1 -2.4 0.2 1.2 0.1 -2.7 0.1 3.9 0.2 0.3 0.1 -1.9 0.1 2.5 0.1 -2.9 0.1 -0.4 0.2 0.4 0.1 5.3 0.1 -8.5 0.2 4.1 0.1 -1.4 0.1 1.1 0.1 -3.6 0.1 5.2 0.2 -0.2 0.1 -2.1 0.1 -0.3 0.2 1.2 0.1 2.2 0.1 -5.7 0.1 6.8 0.1 -4.1 0.2 2.6 0.1 -3.9 0.1 6.4 0.2 -4.1 0.1 3.5 0.1 -5.6 0.1 -0.1 0.1 4.1 0.2 -1.0 0.1 -0.9 0.1 2.1 0.2 -1.9 0.1 -1.7 0.1 -3.5 0.1 -0.8 0.1 6.9 0.2 -0.3 0.1 -3.6 0.1 3.2 0.2 -1.8 0.1 0.6 0.1 2.2 0.1 -5.8 0.1 4.6 0.2 0.3 0.1 -1.6 0.1 0.8 0.2 -3.0 0.1 3.1 0.1 1.2 0.1 0.4 0.1 -3.4 0.2 3.5 0.1 -1.3 0.1 0.7 0.2 -1.8 0.1 1.5 0.1 -1.0 0.1 5.2 0.1 -6.3 0.2 3.4 0.1 -2.7 0.1 -3.5 0.2 4.4 0.1 1.6 0.1 -1.2 0.1 -0.1 0.1 -3.6 0.2 2.7 0.1 -3.6 0.1 7.5 0.2 -0.4 0.1 -6.0 0.1 1.5 0.1 -1.9 0.1 1.1 0.2 0.7 0.1 -1.7 0.1 1.6 0.2 2.7 0.1 -2.0 0.1 2.4 0.1 -1.9 0.1 0.8 0.2 -3.1 0.1 5.1 0.1 -5.1 0.2 1.6 0.1 -2.5 0.1 4.0 0.1 -3.7 0.1 3.7 0.2 3.2 0.1 -3.7 0.1 -5.8 0.2 7.7 0.1 -1.9 0.1 0.9 0.1 -0.6 0.1 1.6 0.2 -0.4 0.1 -2.5 0.1 -2.7 0.2 2.7 0.1 2.1 0.1 -6.2 0.1 4.7 0.1 -4.5 0.2 6.7 0.1 1.7 0.1 -2.3 0.2 -3.0 0.1 2.9 0.1 1.5 0.1 1.0 0.1 -0.5 0.2 -0.8 0.1 -5.0 0.1 1.9 0.2 1.3 0.1 -1.0 0.1 -4.5 0.1 4.2 0.1 -1.3 0.2 2.1 0.1 0.3 0.1 -4.1 0.2 1.5 0.1 2.0 0.1 -2.9 0.1 2.3 0.1 -1.8 0.2 0.4 0.1 3.9 0.1 -2.3 0.2 -0.9 0.1 4.8 0.1 -4.4 0.1 0.7 0.1 0.1 0.2 7.1" fill="none" stroke="#8f8f8f" stroke-width="1.0" stroke-linejoin="round" />
<path d="M915.0 165.3l0.5 0.0 0.5 0.0 0.5 0.0 0.5 0.0 0.5 0.0 0.5 0.0 0.5 0.0 0.5 0.0 0.5 0.0 0.5 0.0 0.5 0.0 0.5 0.0 0.5 0.0 0.5 0.0 0.5 0.0 0.5 0.0 0.5 0.0 0.5 0.0 0.5 0.0 0.5 0.0 0.5 0.0 0.5 0.0 0.5 0.0 0.5 0.0 0.5 0.0 0.5 0.0 0.5 0.0 0.5 0.0 0.5 0.0 0.5 0.0 0.5 0.0 0.5 0.0 0.5 0.0 0.5 0.0 0.5 0.0 0.5 0.0 0.5 0.0 0.5 0.0 0.5 0.0 0.5 0.0 0.5 0.0 0.5 0.0 0.5 0.0 0.5 0.0 0.5 0.0 0.5 0.0 0.5 0.0 0.5 0.0 0.5 0.0 0.5 0.0 0.5 0.0 0.5 0.0 0.5 0.0 0.5 0.0 0.5 0.0 0.5 0.0 0.5 0.0 0.5 0.0 0.5 0.0 0.5 0.0 0.5 -0.1 0.5 0.0 0.5 0.0 0.5 0.0 0.5 0.0 0.5 0.0 0.5 0.0 0.5 0.0 0.5 0.0 0.5 0.0 0.5 0.0 0.5 0.0 0.5 0.0 0.5 0.0 0.5 0.0 0.5 0.0 0.5 0.0 0.5 0.0 0.5 0.0 0.5 0.0 0.5 0.0 0.5 0.0 0.5 0.0 0.5 0.0 0.5 0.0 0.5 0.0 0.5 0.0 0.5 0.0 0.5 0.0 0.5 0.0 0.5 0.0 0.5 0.0 0.5 0.0 0.5 0.0 0.5 0.0 0.5 0.0 0.5 0.0 0.5 0.0 0.5 0.0 0.5 0.0 0.5 0.0 0.5 0.0 0.5 0.0 0.5 0.0 0.5 0.0 0.5 0.0 0.5 0.0 0.5 0.0 0.5 -0.1 0.5 0.0 0.5 0.0 0.5 0.0 0.5 0.0 0.5 0.0 0.5 0.0 0.5 0.0 0.5 0.0 0.5 0.0 0.5 0.0 0.5 0.0 0.5 0.0 0.5 0.0 0.5 0.0 0.5 0.0 0.5 0.0 0.5 0.0 0.5 0.0 0.5 0.0 0.5 0.0 0.5 0.0 0.5 -0.1 0.5 0.0 0.5 0.0 0.5 0.0 0.5 0.0 0.5 0.0 0.5 0.0 0.5 0.0 0.5 0.0 0.5 0.0 0.5 0.0 0.5 0.0 0.5 0.0 0.5 0.0 0.5 0.0 0.5 0.0 0.5 0.0 0.5 -0.1 0.5 0.0 0.5 0.0 0.5 0.0 0.5 0.0 0.5 0.0 0.5 0.0 0.5 0.0 0.5 0.0 0.5 0.0 0.5 0.0 0.5 0.0 0.5 0.0 0.5 0.0 0.5 0.0 0.5 -0.1 0.5 0.0 0.5 0.0 0.5 0.0 0.5 0.0 0.5 0.0 0.5 0.0 0.5 0.0 0.5 0.0 0.5 0.0 0.5 0.0 0.5 0.0 0.5 0.0 0.5 0.0 0.5 -0.1 0.5 0.0 0.5 0.0 0.5 0.0 0.5 0.0 0.5 0.0 0.5 0.0 0.5 0.0 0.5 0.0 0.5 0.0 0.5 0.0 0.5 0.0 0.5 0.0 0.5 -0.1 0.5 0.0 0.5 0.0 0.5 0.0 0.5 0.0 0.5 0.0 0.5 0.0 0.5 0.0 0.5 0.0 0.5 0.0 0.5 0.0 0.5 -0.1 0.5 0.0 0.5 0.0 0.5 0.0 0.5 0.0 0.5 0.0 0.5 0.0 0.5 0.0 0.5 0.0 0.5 -0.1 0.5 0.0 0.5 0.0 0.5 0.0 0.5 0.0 0.5 0.0 0.5 0.0 0.5 0.0 0.5 0.0 0.5 -0.1 0.5 0.0 0.5 0.0 0.5 0.0 0.5 0.0 0.5 0.0 0.5 0.0 0.5 0.0 0.5 -0.1 0.5 0.0 0.5 0.0 0.5 0.0 0.5 0.0 0.5 0.0 0.5 0.0 0.5 -0.1 0.5 0.0 0.5 0.0 0.5 0.0 0.5 0.0 0.5 0.0 0.5 0.0 0.5 -0.1 0.5 0.0 0.5 0.0 0.5 0.0 0.5 0.0 0.5 0.0 0.5 -0.1 0.5 0.0 0.5 0.0 0.5 0.0 0.5 0.0 0.5 0.0 0.5 -0.1 0.5 0.0 0.5 0.0 0.5 0.0 0.5 0.0 0.5 -0.1 0.5 0.0 0.5 0.0 0.5 0.0 0.5 -0.1 0.5 0.0 0.5 0.0 0.5 0.0 0.5 -0.1 0.5 0.0 0.5 0.0 0.5 0.0 0.5 -0.1 0.5 0.0 0.5 0.0 0.5 -0.1 0.5 0.0 0.5 0.0 0.5 -0.1 0.5 0.0 0.5 0.0 0.5 0.0 0.5 -0.1 0.5 0.0 0.5 0.0 0.5 -0.1 0.5 0.0 0.5 0.0 0.5 -0.1 0.5 0.0 0.5 0.0 0.5 -0.1 0.5 0.0 0.5 0.0 0.5 -0.1 0.5 0.0 0.5 0.0 0.5 -0.1 0.5 0.0 0.5 0.0 0.5 -0.1 0.5 0.0 0.5 0.0 0.5 -0.1 0.5 0.0 0.5 0.0 0.5 -0.1 0.5 0.0 0.5 0.0 0.5 -0.1 0.5 0.0 0.5 0.0 0.5 -0.1 0.5 0.0 0.5 0.0 0.5 -0.1 0.5 0.0 0.5 -0.1 0.5 0.0 0.5 0.0 0.5 -0.1 0.5 0.0 0.5 -0.1 0.5 0.0 0.5 -0.1 0.5 0.0 0.5 -0.1 0.5 0.0 0.5 -0.1 0.5 0.0 0.5 -0.1 0.5 0.0 0.5 -0.1 0.5 -0.1 0.5 0.0 0.5 -0.1 0.5 -0.1 0.5 0.0 0.5 -0.1 0.5 -0.1 0.5 -0.1 0.5 -0.1 0.5 -0.1 0.5 -0.1 0.5 -0.1 0.5 -0.1 0.5 -0.1 0.5 -0.1 0.5 -0.1 0.5 -0.1 0.5 -0.1 0.5 -0.2 0.5 -0.1 0.5 -0.1 0.5 -0.1 0.5 -0.1 0.5 -0.2 0.5 -0.1 0.5 -0.1 0.5 -0.1 0.5 -0.2 0.5 -0.1 0.5 -0.1 0.5 -0.1 0.5 -0.2 0.5 -0.1 0.5 -0.1 0.5 -0.2 0.5 -0.1 0.5 -0.2 0.5 -0.1 0.5 -0.2 0.5 -0.1 0.5 -0.2 0.5 -0.2 0.5 -0.1 0.5 -0.2 0.5 -0.2 0.5 -0.2 0.5 -0.2 0.5 -0.1 0.5 -0.2 0.5 -0.2 0.5 -0.3 0.5 -0.2 0.5 -0.2 0.5 -0.2 0.5 -0.2 0.5 -0.3 0.5 -0.3 0.5 -0.3 0.5 -0.3 0.5 -0.3 0.5 -0.3 0.5 -0.4 0.5 -0.4 0.5 -0.3 0.5 -0.4 0.5 -0.4 0.5 -0.4 0.5 -0.4 0.5 -0.4 0.5 -0.5 0.5 -0.4 0.5 -0.4 0.5 -0.4 0.5 -0.5 0.5 -0.4 0.5 -0.4 0.5 -0.4 0.5 -0.4 0.5 -0.4 0.5 -0.4 0.5 -0.4 0.5 -0.3 0.5 -0.4 0.5 -0.4 0.5 -0.4 0.5 -0.4 0.5 -0.4 0.5 -0.4 0.5 -0.4 0.5 -0.3 0.5 -0.4 0.5 -0.3 0.5 -0.3 0.5 -0.3 0.5 -0.3 0.5 -0.2 0.5 -0.3 0.5 -0.3 0.5 -0.3 0.5 -0.2 0.5 -0.2 0.5 -0.2 0.5 -0.1 0.5 -0.1 0.5 0.0 0.5 0.0 0.5 0.1 0.5 0.1 0.5 0.2 0.5 0.2 0.1 0.0 0.1 0.1 0.1 0.0 0.1 0.1 0.1 0.0 0.0 0.0 0.1 0.1 0.1 0.0 0.1 0.1 0.1 0.0 0.1 0.1 0.0 0.0 0.1 0.0 0.1 0.1 0.1 0.0 0.1 0.1 0.1 0.0 0.0 0.0 0.1 0.1 0.1 0.0 0.1 0.1 0.1 0.0 0.1 0.1 0.0 0.0 0.1 0.1 0.1 0.0 0.1 0.1 0.1 0.1 0.1 0.1 0.0 0.0 0.1 0.1 0.1 0.0 0.1 0.1 0.1 0.2 0.1 0.1 0.0 0.0 0.1 0.1 0.1 0.1 0.1 0.1 0.1 0.2 0.1 0.1 0.0 0.0 0.1 0.1 0.1 0.2 0.1 0.1 0.1 0.2 0.1 0.1 0.0 0.0 0.1 0.2 0.1 0.1 0.1 0.2 0.1 0.1 0.1 0.2 0.0 0.0 0.1 0.1 0.1 0.2 0.1 0.2 0.1 0.1 0.1 0.2 0.0 0.0 0.1 0.2 0.1 0.1 0.1 0.2 0.1 0.2 0.1 0.1 0.0 0.0 0.1 0.2 0.1 0.2 0.1 0.1 0.1 0.2 0.1 0.2 0.0 0.0 0.1 0.1 0.1 0.2 0.1 0.2 0.1 0.1 0.1 0.2 0.0 0.0 0.1 0.1 0.1 0.2 0.1 0.2 0.1 0.1 0.1 0.2 0.0 0.0 0.1 0.2 0.1 0.2 0.1 0.1 0.1 0.2 0.1 0.2 0.0 0.0 0.1 0.2 0.1 0.1 0.1 0.2 0.1 0.2 0.1 0.2 0.0 0.0 0.1 0.1 0.1 0.2 0.1 0.2 0.1 0.2 0.1 0.2 0.0 0.0 0.1 0.2 0.1 0.2 0.1 0.1 0.1 0.2 0.1 0.2 0.0 0.0 0.1 0.2 0.1 0.2 0.1 0.2 0.1 0.2 0.1 0.2 0.0 0.0 0.1 0.2 0.1 0.2 0.1 0.2 0.1 0.2 0.1 0.2 0.0 0.0 0.1 0.2 0.1 0.2 0.1 0.2 0.1 0.2 0.1 0.2 0.0 0.0 0.1 0.2 0.1 0.2 0.1 0.2 0.1 0.2 0.1 0.2 0.0 0.0 0.1 0.3 0.1 0.2 0.1 0.2 0.1 0.2 0.1 0.2 0.0 0.0 0.1 0.2 0.1 0.3 0.1 0.2 0.1 0.2 0.1 0.2 0.0 0.0 0.1 0.2 0.1 0.3 0.1 0.2 0.1 0.2 0.1 0.2 0.0 0.0 0.1 0.3 0.1 0.2 0.1 0.2 0.1 0.2 0.1 0.3 0.0 0.0 0.1 0.2 0.1 0.2 0.1 0.3 0.1 0.2 0.1 0.3 0.0 0.0 0.1 0.2 0.1 0.3 0.1 0.2 0.1 0.3 0.1 0.3 0.0 0.0 0.1 0.2 0.1 0.3 0.1 0.3 0.1 0.2 0.1 0.3 0.0 0.0 0.1 0.3 0.1 0.3 0.1 0.3 0.1 0.3 0.1 0.3 0.0 0.0 0.1 0.3 0.1 0.3 0.1 0.3 0.1 0.3 0.1 0.3 0.0 0.0 0.1 0.3 0.1 0.3 0.1 0.3 0.1 0.3 0.1 0.3 0.0 0.0 0.1 0.3 0.1 0.3 0.1 0.3 0.1 0.3 0.1 0.3 0.0 0.0 0.1 0.3 0.1 0.3 0.1 0.3 0.1 0.3 0.1 0.4 0.0 0.0 0.1 0.3 0.1 0.3 0.1 0.3 0.1 0.3 0.1 0.3 0.0 0.0 0.1 0.3 0.1 0.2 0.1 0.3 0.1 0.3 0.1 0.3 0.0 0.0 0.1 0.3 0.1 0.3 0.1 0.3 0.1 0.3 0.1 0.2 0.0 0.0 0.1 0.3 0.1 0.3 0.1 0.2 0.1 0.3 0.1 0.3 0.0 0.0 0.1 0.2 0.1 0.3 0.1 0.2 0.1 0.3 0.1 0.2 0.0 0.0 0.1 0.2 0.1 0.3 0.1 0.2 0.1 0.2 0.1 0.2 0.0 0.0 0.1 0.2 0.1 0.3 0.1 0.2 0.1 0.2 0.1 0.2 0.0 0.0 0.1 0.2 0.1 0.2 0.1 0.3 0.1 0.2 0.1 0.2 0.0 0.0 0.1 0.2 0.1 0.2 0.1 0.2 0.1 0.2 0.1 0.2 0.0 0.0 0.1 0.2 0.1 0.3 0.1 0.2 0.1 0.2 0.1 0.2 0.0 0.0 0.1 0.2 0.1 0.2 0.1 0.2 0.1 0.1 0.1 0.2 0.0 0.0 0.1 0.2 0.1 0.2 0.1 0.2 0.1 0.2 0.1 0.2 0.0 0.0 0.1 0.1 0.1 0.2 0.1 0.2 0.1 0.1 0.1 0.2 0.0 0.0 0.1 0.2 0.1 0.1 0.1 0.2 0.1 0.1 0.1 0.2 0.0 0.0 0.1 0.1 0.1 0.2 0.1 0.1 0.1 0.1 0.1 0.1 0.0 0.0 0.1 0.2 0.1 0.1 0.1 0.1 0.1 0.1 0.1 0.1 0.0 0.0 0.1 0.1 0.1 0.1 0.1 0.1 0.1 0.1 0.1 0.1 0.0 0.0 0.1 0.1 0.1 0.1 0.1 0.1 0.1 0.1 0.1 0.1 0.0 0.0 0.1 0.1 0.1 0.1 0.1 0.1 0.1 0.1 0.1 0.1 0.0 0.0 0.1 0.1 0.1 0.1 0.1 0.1 0.1 0.1 0.1 0.1 0.0 0.0 0.1 0.0 0.1 0.1 0.1 0.1 0.1 0.1 0.1 0.1 0.0 0.0 0.1 0.1 0.1 0.1 0.1 0.0 0.1 0.1 0.1 0.1 0.0 0.0 0.1 0.1 0.1 0.0 0.1 0.1 0.1 0.1 0.1 0.0 0.0 0.0 0.1 0.1 0.1 0.0 0.1 0.1 0.1 0.1 0.1 0.0 0.0 0.0 0.1 0.1 0.1 0.0 0.1 0.0 0.1 0.1 0.1 0.0 0.0 0.0 0.1 0.1 0.1 0.0 0.1 0.0 0.1 0.0 0.1 0.1 0.5 0.0 0.5 0.0 0.5 0.0 0.5 -0.1 0.5 -0.1 0.5 -0.1 0.5 -0.1 0.5 -0.1 0.5 -0.1 0.5 -0.2 0.5 -0.1 0.5 -0.2 0.5 -0.2 0.5 -0.2 0.5 -0.1 0.5 -0.2 0.5 -0.2 0.5 -0.2 0.5 -0.2 0.5 -0.2 0.5 -0.2 0.5 -0.2 0.5 -0.2 0.5 -0.2 0.5 -0.2 0.5 -0.3 0.5 -0.2 0.5 -0.3 0.5 -0.3 0.5 -0.3 0.5 -0.3 0.5 -0.3 0.5 -0.3 0.5 -0.3 0.5 -0.3 0.5 -0.3 0.5 -0.3 0.5 -0.3 0.5 -0.3 0.5 -0.3 0.5 -0.3 0.5 -0.3 0.5 -0.3 0.5 -0.3 0.5 -0.3 0.5 -0.2 0.5 -0.3 0.5 -0.2 0.5 -0.3 0.5 -0.2 0.5 -0.3 0.5 -0.2 0.5 -0.3 0.5 -0.2 0.5 -0.3 0.5 -0.2 0.5 -0.3 0.5 -0.2 0.5 -0.3 0.5 -0.2 0.5 -0.2 0.5 -0.3 0.5 -0.2 0.5 -0.2 0.5 -0.3 0.5 -0.2 0.5 -0.2 0.5 -0.2 0.5 -0.2 0.5 -0.2 0.5 -0.2 0.5 -0.2 0.5 -0.2 0.5 -0.1 0.5 -0.2 0.5 -0.2 0.5 -0.1 0.5 -0.2 0.5 -0.2 0.5 -0.1 0.5 -0.2 0.5 -0.1 0.5 -0.2 0.5 -0.1 0.5 -0.2 0.5 -0.1 0.5 -0.2 0.5 -0.1 0.5 -0.2 0.5 -0.1 0.5 -0.1 0.5 -0.1 0.5 -0.2 0.5 -0.1 0.5 -0.1 0.5 -0.1 0.5 -0.1 0.5 -0.1 0.5 -0.1 0.5 0.0 0.5 -0.1 0.5 -0.1 0.5 0.0 0.5 -0.1 0.5 -0.1 0.5 0.0 0.5 -0.1 0.5 0.0 0.5 -0.1 0.5 0.0 0.5 -0.1 0.5 0.0 0.5 -0.1 0.5 0.0 0.5 -0.1 0.5 0.0 0.5 -0.1 0.5 0.0 0.5 -0.1 0.5 0.0 0.5 -0.1 0.5 0.0 0.5 0.0 0.5 -0.1 0.5 0.0 0.5 -0.1 0.5 0.0 0.5 0.0 0.5 -0.1 0.5 0.0 0.5 -0.1 0.5 0.0 0.5 0.0 0.5 -0.1 0.5 0.0 0.5 0.0 0.5 -0.1 0.5 0.0 0.5 0.0 0.5 -0.1 0.5 0.0 0.5 0.0 0.5 0.0 0.5 -0.1 0.5 0.0 0.5 0.0 0.5 -0.1 0.5 0.0 0.5 0.0 0.5 0.0 0.5 -0.1 0.5 0.0 0.5 0.0 0.5 0.0 0.5 -0.1 0.5 0.0 0.5 0.0 0.5 0.0 0.5 -0.1 0.5 0.0 0.5 0.0 0.5 0.0 0.5 0.0 0.5 -0.1 0.5 0.0 0.5 0.0 0.5 0.0 0.5 -0.1 0.5 0.0 0.5 0.0 0.5 0.0 0.5 0.0 0.5 -0.1 0.5 0.0 0.5 0.0 0.5 0.0 0.5 0.0 0.5 -0.1 0.5 0.0 0.5 0.0 0.5 0.0 0.5 -0.1 0.5 0.0 0.5 0.0 0.5 0.0 0.5 0.0 0.5 -0.1 0.5 0.0 0.5 0.0 0.5 0.0 0.5 0.0 0.5 0.0 0.5 -0.1 0.5 0.0 0.5 0.0 0.5 0.0 0.5 0.0 0.5 -0.1 0.5 0.0 0.5 0.0 0.5 0.0 0.5 0.0 0.5 -0.1 0.5 0.0 0.5 0.0 0.5 0.0 0.5 0.0 0.5 0.0 0.5 -0.1 0.5 0.0 0.5 0.0 0.5 0.0 0.5 0.0 0.5 0.0 0.5 -0.1 0.5 0.0 0.5 0.0 0.5 0.0 0.5 0.0 0.5 0.0 0.5 0.0 0.5 -0.1 0.5 0.0 0.5 0.0 0.5 0.0 0.5 0.0 0.5 0.0 0.5 0.0 0.5 -0.1 0.5 0.0 0.5 0.0 0.5 0.0 0.5 0.0 0.5 0.0 0.5 0.0 0.5 -0.1 0.5 0.0 0.5 0.0 0.5 0.0 0.5 0.0 0.5 0.0 0.5 0.0 0.5 0.0 0.5 0.0 0.5 0.0 0.5 -0.1 0.5 0.0 0.5 0.0 0.5 0.0 0.5 0.0 0.5 0.0 0.5 0.0 0.5 0.0 0.5 0.0 0.5 0.0 0.5 0.0 0.5 -0.1 0.5 0.0 0.5 0.0 0.5 0.0 0.5 0.0 0.5 0.0 0.5 0.0 0.5 0.0 0.5 0.0 0.5 0.0 0.5 0.0 0.5 0.0 0.5 0.0 0.5 0.0 0.5 0.0 0.5 0.0 0.5 0.0 0.5 0.0 0.5 -0.1 0.5 0.0 0.5 0.0 0.5 0.0 0.5 0.0 0.5 0.0 0.5 0.0 0.5 0.0 0.5 0.0 0.5 0.0 0.5 0.0 0.5 0.0 0.5 0.0 0.5 0.0 0.5 0.0 0.5 0.0 0.5 0.0 0.5 0.0 0.5 0.0 0.5 0.0 0.5 0.0 0.5 -0.1 0.5 0.0 0.5 0.0 0.5 0.0 0.5 0.0 0.5 0.0 0.5 0.0 0.5 0.0 0.5 0.0 0.5 0.0 0.5 0.0 0.5 0.0 0.5 0.0 0.5 0.0 0.5 0.0 0.5 0.0 0.5 0.0 0.5 0.0 0.5 0.0 0.5 0.0 0.5 0.0 0.5 0.0 0.5 0.0 0.5 0.0 0.5 0.0 0.5 -0.1 0.5 0.0 0.5 0.0 0.5 0.0 0.5 0.0 0.5 0.0 0.5 0.0 0.5 0.0 0.5 0.0 0.5 0.0 0.5 0.0 0.5 0.0 0.5 0.0 0.5 0.0 0.5 0.0 0.5 0.0 0.5 0.0 0.5 0.0 0.5 0.0 0.5 0.0 0.5 0.0 0.5 0.0 0.5 0.0 0.5 0.0 0.5 0.0 0.5 0.0 0.5 0.0 0.5 0.0 0.5 0.0 0.5 0.0 0.5 0.0 0.5 0.0 0.5 0.0 0.5 0.0 0.5 0.0 0.5 -0.1 0.5 0.0 0.5 0.0 0.5 0.0 0.5 0.0 0.5 0.0 0.5 0.0 0.5 0.0 0.5 0.0 0.5 0.0 0.5 0.0 0.5 0.0 0.5 0.0 0.5 0.0 0.5 0.0 0.5 0.0 0.5 0.0 0.5 0.0 0.5 0.0 0.5 0.0 0.5 0.0 0.5 0.0 0.5 0.0 0.5 0.0 0.5 0.0 0.5 0.0 0.5 0.0 0.5 0.0 0.5 0.0 0.5 0.0 0.5 0.0 0.5 0.0 0.5 0.0 0.5 0.0 0.5 0.0 0.5 0.0 0.5 0.0 0.5 0.0 0.5 0.0 0.5 0.0 0.5 0.0 0.5 0.0 0.5 0.0" fill="none" stroke="#f0801f" stroke-width="2.2" stroke-linejoin="round" />
<path d="M915.0 163.6l0.5 0.0 0.5 0.0 0.5 0.0 0.5 0.0 0.5 0.0 0.5 0.0 0.5 0.0 0.5 0.0 0.5 0.0 0.5 0.0 0.5 0.0 0.5 0.0 0.5 0.0 0.5 0.0 0.5 0.0 0.5 0.0 0.5 0.0 0.5 0.0 0.5 0.0 0.5 0.0 0.5 0.0 0.5 0.0 0.5 0.0 0.5 0.0 0.5 0.0 0.5 0.0 0.5 0.0 0.5 0.0 0.5 0.0 0.5 0.0 0.5 0.0 0.5 0.0 0.5 0.0 0.5 0.0 0.5 0.0 0.5 0.0 0.5 0.0 0.5 0.0 0.5 0.0 0.5 0.0 0.5 0.0 0.5 0.0 0.5 0.0 0.5 0.0 0.5 0.0 0.5 0.0 0.5 0.0 0.5 0.0 0.5 0.0 0.5 0.0 0.5 0.0 0.5 0.0 0.5 0.0 0.5 0.0 0.5 0.0 0.5 0.0 0.5 0.0 0.5 0.0 0.5 0.0 0.5 0.0 0.5 0.0 0.5 0.0 0.5 0.0 0.5 0.0 0.5 0.0 0.5 0.0 0.5 0.0 0.5 0.0 0.5 0.0 0.5 0.0 0.5 0.0 0.5 0.0 0.5 0.0 0.5 0.0 0.5 0.0 0.5 0.0 0.5 0.0 0.5 0.0 0.5 0.0 0.5 0.0 0.5 0.0 0.5 0.0 0.5 0.0 0.5 0.0 0.5 0.0 0.5 0.0 0.5 0.0 0.5 0.0 0.5 0.0 0.5 0.0 0.5 0.0 0.5 0.0 0.5 0.0 0.5 0.0 0.5 0.0 0.5 0.0 0.5 0.0 0.5 0.0 0.5 0.0 0.5 0.0 0.5 0.0 0.5 0.0 0.5 0.0 0.5 0.0 0.5 0.0 0.5 0.0 0.5 0.0 0.5 0.0 0.5 0.0 0.5 0.0 0.5 0.0 0.5 0.0 0.5 0.0 0.5 0.0 0.5 0.0 0.5 0.0 0.5 0.1 0.5 0.0 0.5 0.0 0.5 0.0 0.5 0.0 0.5 0.0 0.5 0.0 0.5 0.0 0.5 0.0 0.5 0.0 0.5 0.0 0.5 0.0 0.5 0.0 0.5 0.0 0.5 0.0 0.5 0.0 0.5 0.0 0.5 0.0 0.5 0.0 0.5 0.0 0.5 0.0 0.5 0.0 0.5 0.0 0.5 0.0 0.5 0.0 0.5 0.0 0.5 0.0 0.5 0.0 0.5 0.0 0.5 0.0 0.5 0.0 0.5 0.0 0.5 0.0 0.5 0.0 0.5 0.0 0.5 0.0 0.5 0.0 0.5 0.0 0.5 0.0 0.5 0.0 0.5 0.0 0.5 0.0 0.5 0.0 0.5 0.0 0.5 0.0 0.5 0.0 0.5 0.0 0.5 0.0 0.5 0.0 0.5 0.0 0.5 0.0 0.5 0.0 0.5 0.0 0.5 0.0 0.5 0.0 0.5 0.0 0.5 0.0 0.5 0.0 0.5 0.0 0.5 0.0 0.5 0.0 0.5 0.0 0.5 0.0 0.5 0.0 0.5 0.0 0.5 0.0 0.5 0.0 0.5 0.0 0.5 0.0 0.5 0.0 0.5 0.0 0.5 0.0 0.5 0.0 0.5 0.0 0.5 0.0 0.5 0.0 0.5 0.0 0.5 0.0 0.5 0.0 0.5 0.0 0.5 0.0 0.5 0.0 0.5 0.0 0.5 0.0 0.5 0.0 0.5 0.0 0.5 0.0 0.5 0.0 0.5 0.0 0.5 0.0 0.5 0.0 0.5 0.0 0.5 0.0 0.5 0.0 0.5 0.0 0.5 0.0 0.5 0.0 0.5 0.0 0.5 0.0 0.5 0.0 0.5 0.0 0.5 0.0 0.5 0.0 0.5 0.0 0.5 0.0 0.5 0.0 0.5 0.0 0.5 0.0 0.5 0.0 0.5 0.0 0.5 0.0 0.5 0.0 0.5 0.0 0.5 0.0 0.5 0.0 0.5 0.0 0.5 0.0 0.5 0.0 0.5 0.0 0.5 0.0 0.5 0.0 0.5 0.0 0.5 0.0 0.5 0.0 0.5 0.0 0.5 0.0 0.5 0.0 0.5 0.0 0.5 0.0 0.5 0.0 0.5 0.0 0.5 0.0 0.5 0.0 0.5 0.0 0.5 0.0 0.5 0.0 0.5 0.0 0.5 0.0 0.5 0.0 0.5 0.0 0.5 0.0 0.5 0.0 0.5 0.0 0.5 0.0 0.5 0.0 0.5 0.0 0.5 0.0 0.5 0.0 0.5 0.0 0.5 0.0 0.5 0.0 0.5 0.0 0.5 0.0 0.5 0.0 0.5 0.0 0.5 0.0 0.5 0.0 0.5 0.0 0.5 0.0 0.5 0.0 0.5 0.0 0.5 0.0 0.5 0.0 0.5 0.0 0.5 0.0 0.5 0.0 0.5 0.0 0.5 0.0 0.5 0.0 0.5 0.0 0.5 0.0 0.5 0.0 0.5 0.0 0.5 0.0 0.5 0.0 0.5 0.0 0.5 0.0 0.5 0.0 0.5 0.0 0.5 0.0 0.5 0.0 0.5 0.0 0.5 0.0 0.5 0.0 0.5 0.0 0.5 0.0 0.5 0.0 0.5 0.0 0.5 0.0 0.5 0.0 0.5 0.0 0.5 0.0 0.5 0.0 0.5 0.0 0.5 0.0 0.5 0.0 0.5 0.0 0.5 0.0 0.5 0.0 0.5 0.0 0.5 0.0 0.5 0.0 0.5 0.0 0.5 0.0 0.5 0.0 0.5 0.0 0.5 0.0 0.5 0.0 0.5 0.0 0.5 0.0 0.5 0.0 0.5 0.0 0.5 0.0 0.5 0.0 0.5 0.0 0.5 0.0 0.5 0.0 0.5 0.0 0.5 0.0 0.5 0.0 0.5 0.0 0.5 0.0 0.5 0.0 0.5 0.0 0.5 0.0 0.5 0.0 0.5 0.0 0.5 0.0 0.5 0.0 0.5 0.0 0.5 0.0 0.5 0.0 0.5 0.0 0.5 0.0 0.5 0.0 0.5 0.0 0.5 0.0 0.5 0.0 0.5 0.0 0.5 0.0 0.5 0.0 0.5 0.0 0.5 0.0 0.5 0.0 0.5 0.0 0.5 0.0 0.5 0.0 0.5 0.0 0.5 0.0 0.5 0.0 0.5 0.0 0.5 0.0 0.5 0.0 0.5 0.0 0.5 0.0 0.5 0.0 0.5 0.0 0.5 0.0 0.5 0.0 0.5 0.0 0.5 0.0 0.5 0.0 0.5 0.0 0.5 0.0 0.5 0.0 0.5 0.0 0.5 0.0 0.5 -0.1 0.5 0.0 0.5 0.0 0.5 0.0 0.5 0.0 0.5 0.0 0.5 0.0 0.5 0.0 0.5 0.0 0.5 0.0 0.5 0.0 0.5 0.0 0.5 0.0 0.5 0.0 0.5 0.0 0.5 0.0 0.5 -0.1 0.5 0.0 0.5 0.0 0.5 0.0 0.5 0.0 0.5 0.0 0.5 0.0 0.5 0.0 0.5 -0.1 0.5 0.0 0.5 0.0 0.5 0.0 0.5 0.0 0.5 -0.1 0.5 0.0 0.5 0.0 0.5 0.0 0.5 -0.1 0.5 0.0 0.5 -0.1 0.5 0.0 0.5 0.0 0.5 -0.1 0.5 0.0 0.5 -0.1 0.5 -0.1 0.5 0.0 0.5 -0.1 0.5 -0.1 0.5 -0.1 0.5 -0.1 0.5 -0.1 0.5 -0.1 0.5 -0.2 0.5 -0.1 0.5 -0.2 0.5 -0.2 0.5 -0.2 0.5 -0.3 0.5 -0.3 0.5 -0.3 0.1 -0.1 0.1 -0.1 0.1 0.0 0.1 -0.1 0.1 -0.1 0.0 0.0 0.1 -0.1 0.1 -0.1 0.1 0.0 0.1 -0.1 0.1 -0.1 0.0 0.0 0.1 -0.1 0.1 -0.1 0.1 -0.1 0.1 -0.1 0.1 -0.1 0.0 0.0 0.1 -0.1 0.1 -0.1 0.1 -0.2 0.1 -0.1 0.1 -0.1 0.0 0.0 0.1 -0.1 0.1 -0.2 0.1 -0.1 0.1 -0.1 0.1 -0.2 0.0 0.0 0.1 -0.1 0.1 -0.2 0.1 -0.1 0.1 -0.2 0.1 -0.2 0.0 0.0 0.1 -0.1 0.1 -0.2 0.1 -0.2 0.1 -0.2 0.1 -0.2 0.0 0.0 0.1 -0.2 0.1 -0.2 0.1 -0.2 0.1 -0.3 0.1 -0.2 0.0 0.0 0.1 -0.2 0.1 -0.3 0.1 -0.3 0.1 -0.2 0.1 -0.3 0.0 0.0 0.1 -0.3 0.1 -0.3 0.1 -0.4 0.1 -0.3 0.1 -0.3 0.0 0.0 0.1 -0.4 0.1 -0.4 0.1 -0.4 0.1 -0.4 0.1 -0.5 0.0 0.0 0.1 -0.4 0.1 -0.5 0.1 -0.5 0.1 -0.5 0.1 -0.6 0.0 0.0 0.1 -0.6 0.1 -0.6 0.1 -0.6 0.1 -0.7 0.1 -0.7 0.0 0.0 0.1 -0.7 0.1 -0.8 0.1 -0.8 0.1 -0.9 0.1 -0.9 0.0 0.0 0.1 -0.9 0.1 -1.0 0.1 -1.1 0.1 -1.1 0.1 -1.1 0.0 0.0 0.1 -1.2 0.1 -1.2 0.1 -1.3 0.1 -1.3 0.1 -1.4 0.0 0.0 0.1 -1.5 0.1 -1.4 0.1 -1.6 0.1 -1.5 0.1 -1.6 0.0 0.0 0.1 -1.7 0.1 -1.7 0.1 -1.7 0.1 -1.7 0.1 -1.8 0.0 0.0 0.1 -1.7 0.1 -1.8 0.1 -1.7 0.1 -1.7 0.1 -1.7 0.0 0.0 0.1 -1.6 0.1 -1.6 0.1 -1.6 0.1 -1.4 0.1 -1.3 0.0 0.0 0.1 -1.2 0.1 -1.1 0.1 -0.9 0.1 -0.8 0.1 -0.5 0.0 0.0 0.1 -0.4 0.1 -0.1 0.1 0.1 0.1 0.4 0.1 0.7 0.0 0.0 0.1 1.0 0.1 1.3 0.1 1.6 0.1 1.9 0.1 2.3 0.0 0.0 0.1 2.6 0.1 3.0 0.1 3.3 0.1 3.7 0.1 4.0 0.0 0.0 0.1 4.3 0.1 4.6 0.1 4.9 0.1 5.0 0.1 5.3 0.0 0.0 0.1 5.5 0.1 5.6 0.1 5.7 0.1 5.7 0.1 5.3 0.0 0.0 0.1 5.2 0.1 5.1 0.1 5.0 0.1 4.8 0.1 4.6 0.0 0.0 0.1 4.4 0.1 4.2 0.1 3.8 0.1 3.6 0.1 3.2 0.0 0.0 0.1 3.0 0.1 2.6 0.1 2.3 0.1 2.0 0.1 1.6 0.0 0.0 0.1 1.4 0.1 1.1 0.1 0.8 0.1 0.6 0.1 0.3 0.0 0.0 0.1 0.1 0.1 -0.1 0.1 -0.3 0.1 -0.4 0.1 -0.6 0.0 0.0 0.1 -0.7 0.1 -0.9 0.1 -0.9 0.1 -1.0 0.1 -1.1 0.0 0.0 0.1 -1.2 0.1 -1.2 0.1 -1.2 0.1 -1.3 0.1 -1.3 0.0 0.0 0.1 -1.3 0.1 -1.3 0.1 -1.3 0.1 -1.3 0.1 -1.3 0.0 0.0 0.1 -1.3 0.1 -1.3 0.1 -1.2 0.1 -1.3 0.1 -1.2 0.0 0.0 0.1 -1.2 0.1 -1.1 0.1 -1.1 0.1 -1.1 0.1 -1.1 0.0 0.0 0.1 -1.0 0.1 -1.1 0.1 -0.9 0.1 -1.0 0.1 -0.9 0.0 0.0 0.1 -0.9 0.1 -0.9 0.1 -0.8 0.1 -0.9 0.1 -0.7 0.0 0.0 0.1 -0.8 0.1 -0.7 0.1 -0.8 0.1 -0.7 0.1 -0.6 0.0 0.0 0.1 -0.7 0.1 -0.6 0.1 -0.6 0.1 -0.6 0.1 -0.5 0.0 0.0 0.1 -0.6 0.1 -0.5 0.1 -0.5 0.1 -0.5 0.1 -0.5 0.0 0.0 0.1 -0.4 0.1 -0.5 0.1 -0.4 0.1 -0.4 0.1 -0.4 0.0 0.0 0.1 -0.4 0.1 -0.4 0.1 -0.3 0.1 -0.4 0.1 -0.3 0.0 0.0 0.1 -0.3 0.1 -0.4 0.1 -0.3 0.1 -0.3 0.1 -0.2 0.0 0.0 0.1 -0.3 0.1 -0.3 0.1 -0.2 0.1 -0.3 0.1 -0.2 0.0 0.0 0.1 -0.3 0.1 -0.2 0.1 -0.2 0.1 -0.2 0.1 -0.2 0.0 0.0 0.1 -0.2 0.1 -0.2 0.1 -0.2 0.1 -0.2 0.1 -0.2 0.0 0.0 0.1 -0.2 0.1 -0.1 0.1 -0.2 0.1 -0.2 0.1 -0.1 0.0 0.0 0.1 -0.2 0.1 -0.1 0.1 -0.1 0.1 -0.2 0.1 -0.1 0.0 0.0 0.1 -0.1 0.1 -0.2 0.1 -0.1 0.1 -0.1 0.1 -0.1 0.0 0.0 0.1 -0.1 0.1 -0.1 0.1 -0.1 0.1 -0.1 0.1 -0.1 0.0 0.0 0.1 -0.1 0.1 -0.1 0.1 -0.1 0.1 -0.1 0.1 -0.1 0.0 0.0 0.1 -0.1 0.1 -0.1 0.1 0.0 0.1 -0.1 0.1 -0.1 0.0 0.0 0.1 -0.1 0.1 0.0 0.1 -0.1 0.1 -0.1 0.1 0.0 0.0 0.0 0.1 -0.1 0.1 -0.1 0.1 0.0 0.1 -0.1 0.1 -0.1 0.0 0.0 0.1 0.0 0.1 -0.1 0.1 0.0 0.1 -0.1 0.1 0.0 0.0 0.0 0.1 -0.1 0.1 0.0 0.1 -0.1 0.1 0.0 0.1 -0.1 0.0 0.0 0.1 0.0 0.1 -0.1 0.1 0.0 0.1 -0.1 0.1 0.0 0.0 0.0 0.1 0.0 0.1 -0.1 0.1 0.0 0.1 -0.1 0.1 0.0 0.0 0.0 0.1 0.0 0.1 -0.1 0.1 0.0 0.1 0.0 0.1 -0.1 0.5 -0.1 0.5 -0.2 0.5 -0.1 0.5 -0.1 0.5 -0.1 0.5 -0.1 0.5 -0.1 0.5 -0.1 0.5 0.0 0.5 -0.1 0.5 -0.1 0.5 0.0 0.5 -0.1 0.5 0.0 0.5 -0.1 0.5 0.0 0.5 0.0 0.5 -0.1 0.5 0.0 0.5 0.0 0.5 -0.1 0.5 0.0 0.5 0.0 0.5 0.0 0.5 -0.1 0.5 0.0 0.5 0.0 0.5 0.0 0.5 0.0 0.5 0.0 0.5 -0.1 0.5 0.0 0.5 0.0 0.5 0.0 0.5 0.0 0.5 0.0 0.5 0.0 0.5 0.0 0.5 0.0 0.5 0.0 0.5 -0.1 0.5 0.0 0.5 0.0 0.5 0.0 0.5 0.0 0.5 0.0 0.5 0.0 0.5 0.0 0.5 0.0 0.5 0.0 0.5 0.0 0.5 0.0 0.5 0.0 0.5 0.0 0.5 0.0 0.5 0.0 0.5 0.0 0.5 0.0 0.5 0.0 0.5 0.0 0.5 0.0 0.5 -0.1 0.5 0.0 0.5 0.0 0.5 0.0 0.5 0.0 0.5 0.0 0.5 0.0 0.5 0.0 0.5 0.0 0.5 0.0 0.5 0.0 0.5 0.0 0.5 0.0 0.5 0.0 0.5 0.0 0.5 0.0 0.5 0.0 0.5 0.0 0.5 0.0 0.5 0.0 0.5 0.0 0.5 0.0 0.5 0.0 0.5 0.0 0.5 0.0 0.5 0.0 0.5 0.0 0.5 0.0 0.5 0.0 0.5 0.0 0.5 0.0 0.5 0.0 0.5 0.0 0.5 0.0 0.5 0.0 0.5 0.0 0.5 0.0 0.5 0.0 0.5 0.0 0.5 0.0 0.5 0.0 0.5 0.0 0.5 0.0 0.5 0.0 0.5 0.0 0.5 0.0 0.5 0.0 0.5 0.0 0.5 0.0 0.5 0.0 0.5 0.0 0.5 0.0 0.5 0.0 0.5 0.0 0.5 0.0 0.5 0.0 0.5 0.0 0.5 0.0 0.5 0.0 0.5 0.0 0.5 0.0 0.5 0.0 0.5 0.0 0.5 0.0 0.5 0.0 0.5 0.0 0.5 0.0 0.5 0.0 0.5 0.0 0.5 0.0 0.5 0.0 0.5 0.0 0.5 0.0 0.5 0.0 0.5 0.0 0.5 0.0 0.5 0.0 0.5 0.0 0.5 0.0 0.5 0.0 0.5 0.0 0.5 0.0 0.5 0.0 0.5 0.0 0.5 0.0 0.5 0.0 0.5 0.0 0.5 0.0 0.5 0.0 0.5 0.0 0.5 0.0 0.5 0.0 0.5 0.0 0.5 0.0 0.5 0.0 0.5 0.0 0.5 0.0 0.5 0.0 0.5 0.0 0.5 0.0 0.5 0.0 0.5 0.0 0.5 0.0 0.5 0.0 0.5 0.0 0.5 0.0 0.5 0.0 0.5 0.0 0.5 0.0 0.5 0.0 0.5 0.0 0.5 0.0 0.5 0.0 0.5 0.0 0.5 0.0 0.5 0.0 0.5 0.0 0.5 0.0 0.5 0.0 0.5 0.0 0.5 0.0 0.5 0.0 0.5 0.0 0.5 0.0 0.5 0.0 0.5 0.0 0.5 0.0 0.5 0.0 0.5 0.0 0.5 0.0 0.5 0.0 0.5 0.0 0.5 0.0 0.5 0.0 0.5 0.0 0.5 0.0 0.5 0.0 0.5 0.0 0.5 0.0 0.5 0.0 0.5 0.0 0.5 0.0 0.5 0.0 0.5 0.0 0.5 0.0 0.5 0.0 0.5 0.0 0.5 0.0 0.5 0.0 0.5 0.0 0.5 0.0 0.5 0.0 0.5 0.0 0.5 0.0 0.5 0.0 0.5 0.0 0.5 0.0 0.5 0.0 0.5 0.0 0.5 0.0 0.5 0.0 0.5 0.0 0.5 0.0 0.5 0.0 0.5 0.0 0.5 0.0 0.5 0.0 0.5 0.0 0.5 0.0 0.5 0.0 0.5 0.0 0.5 0.0 0.5 0.0 0.5 0.0 0.5 0.0 0.5 0.0 0.5 0.0 0.5 0.0 0.5 0.0 0.5 0.0 0.5 0.0 0.5 0.0 0.5 0.0 0.5 0.0 0.5 0.0 0.5 0.0 0.5 0.0 0.5 0.0 0.5 0.0 0.5 0.0 0.5 0.0 0.5 0.0 0.5 0.0 0.5 0.0 0.5 0.0 0.5 0.0 0.5 0.0 0.5 0.0 0.5 0.0 0.5 0.0 0.5 0.0 0.5 0.0 0.5 0.0 0.5 0.0 0.5 0.0 0.5 0.0 0.5 0.0 0.5 0.0 0.5 0.0 0.5 0.0 0.5 0.0 0.5 0.0 0.5 0.0 0.5 0.0 0.5 0.0 0.5 0.0 0.5 0.0 0.5 0.0 0.5 0.0 0.5 0.1 0.5 0.0 0.5 0.0 0.5 0.0 0.5 0.0 0.5 0.0 0.5 0.0 0.5 0.0 0.5 0.0 0.5 0.0 0.5 0.0 0.5 0.0 0.5 0.0 0.5 0.0 0.5 0.0 0.5 0.0 0.5 0.0 0.5 0.0 0.5 0.0 0.5 0.0 0.5 0.0 0.5 0.0 0.5 0.0 0.5 0.0 0.5 0.0 0.5 0.0 0.5 0.0 0.5 0.0 0.5 0.0 0.5 0.0 0.5 0.0 0.5 0.0 0.5 0.0 0.5 0.0 0.5 0.0 0.5 0.0 0.5 0.0 0.5 0.0 0.5 0.0 0.5 0.0 0.5 0.0 0.5 0.0 0.5 0.0 0.5 0.0 0.5 0.0 0.5 0.0 0.5 0.0 0.5 0.0 0.5 0.0 0.5 0.0 0.5 0.0 0.5 0.0 0.5 0.0 0.5 0.0 0.5 0.0 0.5 0.0 0.5 0.0 0.5 0.0 0.5 0.0 0.5 0.0 0.5 0.0 0.5 0.0 0.5 0.0 0.5 0.0 0.5 0.0 0.5 0.0 0.5 0.0 0.5 0.0 0.5 0.0 0.5 0.0 0.5 0.0 0.5 0.0 0.5 0.0 0.5 0.0 0.5 0.0 0.5 0.0 0.5 0.0 0.5 0.0 0.5 0.0 0.5 0.0 0.5 0.0 0.5 0.0 0.5 0.0 0.5 0.0 0.5 0.0 0.5 0.0 0.5 0.0 0.5 0.0 0.5 0.0 0.5 0.0 0.5 0.0 0.5 0.0 0.5 0.0 0.5 0.0 0.5 0.0 0.5 0.0 0.5 0.0 0.5 0.0 0.5 0.0 0.5 0.0 0.5 0.0 0.5 0.0 0.5 0.0 0.5 0.0 0.5 0.0 0.5 0.0 0.5 0.0 0.5 0.0 0.5 0.0 0.5 0.0 0.5 0.0 0.5 0.0 0.5 0.0 0.5 0.0 0.5 0.0 0.5 0.0 0.5 0.0 0.5 0.0" fill="none" stroke="#2f4fa2" stroke-width="1.6" stroke-linejoin="round" />
<path d="M915.0 229.2l0.1 -3.2 0.1 1.6 0.2 -2.8 0.1 -1.3 0.1 1.2 0.2 -2.0 0.1 0.0 0.1 3.4 0.1 0.0 0.1 -3.0 0.2 -0.2 0.1 1.5 0.1 -1.1 0.2 3.1 0.1 -2.2 0.1 -2.1 0.1 1.0 0.1 2.8 0.2 3.6 0.1 -3.1 0.1 -3.8 0.2 1.0 0.1 2.2 0.1 -0.8 0.1 0.6 0.1 3.9 0.2 -6.4 0.1 0.2 0.1 1.9 0.2 0.2 0.1 0.4 0.1 1.3 0.1 -1.7 0.1 2.3 0.2 -1.8 0.1 0.3 0.1 -4.5 0.2 1.7 0.1 1.0 0.1 2.2 0.1 -2.7 0.1 -0.6 0.2 0.5 0.1 5.3 0.1 -6.8 0.2 3.6 0.1 -0.4 0.1 2.9 0.1 -1.5 0.1 -2.1 0.2 2.7 0.1 1.0 0.1 -3.4 0.2 -2.9 0.1 0.8 0.1 2.4 0.1 -2.5 0.1 2.3 0.2 2.1 0.1 -1.9 0.1 4.4 0.2 -4.8 0.1 -2.1 0.1 3.1 0.1 1.7 0.1 -4.9 0.2 3.8 0.1 2.3 0.1 -3.2 0.2 3.3 0.1 -7.1 0.1 4.3 0.1 -4.6 0.1 -0.1 0.2 0.7 0.1 5.5 0.1 -1.5 0.2 2.4 0.1 -4.7 0.1 -1.7 0.1 5.4 0.1 -3.2 0.2 -1.8 0.1 4.8 0.1 0.5 0.2 -3.9 0.1 1.9 0.1 0.8 0.1 -3.2 0.1 0.3 0.2 2.3 0.1 3.0 0.1 -5.5 0.2 3.8 0.1 -0.6 0.1 -1.0 0.1 -1.0 0.1 -1.4 0.2 3.2 0.1 -1.7 0.1 -5.1 0.2 6.0 0.1 -2.4 0.1 1.5 0.1 4.8 0.1 -3.5 0.2 -5.2 0.1 3.4 0.1 -1.7 0.2 4.5 0.1 -9.3 0.1 8.5 0.1 -0.9 0.1 -0.8 0.2 1.6 0.1 2.9 0.1 -8.0 0.2 2.8 0.1 1.0 0.1 0.2 0.1 -0.5 0.1 1.7 0.2 -0.7 0.1 -1.2 0.1 -3.1 0.2 5.6 0.1 1.7 0.1 -0.6 0.1 -1.7 0.1 1.6 0.2 -5.8 0.1 5.0 0.1 -0.9 0.2 -0.8 0.1 2.6 0.1 -2.9 0.1 -0.6 0.1 -1.4 0.2 -1.7 0.1 3.1 0.1 4.8 0.2 0.3 0.1 -5.3 0.1 1.7 0.1 3.0 0.1 -5.6 0.2 1.3 0.1 -2.1 0.1 6.6 0.2 -4.7 0.1 0.7 0.1 0.9 0.1 -1.9 0.1 7.3 0.2 -3.3 0.1 1.9 0.1 -9.3 0.2 6.1 0.1 -2.1 0.1 -2.0 0.1 2.7 0.1 3.5 0.2 -1.0 0.1 -3.7 0.1 8.7 0.2 -5.0 0.1 -4.2 0.1 0.0 0.1 0.4 0.1 1.2 0.2 -1.1 0.1 -0.4 0.1 3.5 0.2 -3.5 0.1 2.0 0.1 -1.4 0.1 1.0 0.1 3.2 0.2 -2.7 0.1 1.5 0.1 -2.0 0.2 2.6 0.1 -2.6 0.1 2.7 0.1 -5.3 0.1 5.3 0.2 -1.5 0.1 -3.2 0.1 0.4 0.2 -3.1 0.1 3.8 0.1 1.2 0.1 -1.3 0.1 3.7 0.2 -6.9 0.1 4.2 0.1 -2.4 0.2 1.5 0.1 3.0 0.1 -1.9 0.1 3.4 0.1 -3.9 0.2 -0.6 0.1 0.7 0.1 -2.8 0.2 1.3 0.1 1.7 0.1 2.1 0.1 -4.3 0.1 0.1 0.2 -1.5 0.1 0.3 0.1 3.1 0.2 0.4 0.1 0.8 0.1 -1.2 0.1 3.1 0.1 -6.2 0.2 3.7 0.1 1.3 0.1 -2.5 0.2 1.6 0.1 -1.4 0.1 -0.2 0.1 1.4 0.1 -1.8 0.2 1.2 0.1 1.3 0.1 -4.0 0.2 3.9 0.1 1.2 0.1 1.2 0.1 -4.1 0.1 3.4 0.2 -6.6 0.1 1.0 0.1 3.0 0.2 -2.8 0.1 0.2 0.1 -0.2 0.1 1.6 0.1 -0.6 0.2 -0.5 0.1 2.1 0.1 -1.0 0.2 1.1 0.1 0.6 0.1 0.5 0.1 -1.8 0.1 -0.5 0.2 0.0 0.1 -1.5 0.1 3.4 0.2 -1.2 0.1 2.4 0.1 -1.7 0.1 -1.8 0.1 2.9 0.2 -2.5 0.1 0.5 0.1 1.2 0.2 -0.4 0.1 -2.1 0.1 3.4 0.1 -0.6 0.1 -0.8 0.2 -0.4 0.1 0.8 0.1 -4.0 0.2 5.9 0.1 -8.3 0.1 3.2 0.1 0.0 0.1 3.0 0.2 -0.9 0.1 0.7 0.1 -3.5 0.2 5.3 0.1 -0.7 0.1 -6.4 0.1 4.9 0.1 -4.6 0.2 3.0 0.1 2.3 0.1 -1.1 0.2 -2.9 0.1 1.5 0.1 3.7 0.1 -2.0 0.1 1.2 0.2 -5.1 0.1 4.8 0.1 -0.6 0.2 -2.4 0.1 5.2 0.1 -3.0 0.1 2.0 0.1 -3.1 0.2 1.9 0.1 0.2 0.1 -1.4 0.2 0.4 0.1 0.3 0.1 -1.0 0.1 -2.7 0.1 3.3 0.2 -1.0 0.1 0.8 0.1 -2.2 0.2 5.1 0.1 -1.1 0.1 1.3 0.1 1.2 0.1 -1.8 0.2 -2.9 0.1 -2.2 0.1 4.9 0.2 -2.0 0.1 1.2 0.1 1.1 0.1 -3.0 0.1 -1.5 0.2 3.0 0.1 -1.7 0.1 -0.7 0.2 2.5 0.1 -1.5 0.1 1.5 0.1 -3.6 0.1 2.1 0.2 -0.3 0.1 0.6 0.1 -1.2 0.2 2.7 0.1 -4.4 0.1 4.0 0.1 1.4 0.1 -2.3 0.2 0.2 0.1 -1.8 0.1 2.2 0.2 0.4 0.1 -0.6 0.1 0.3 0.1 0.3 0.1 -0.7 0.2 -4.3 0.1 1.6 0.1 2.3 0.2 4.9 0.1 -2.3 0.1 -2.3 0.1 -0.4 0.1 -0.6 0.2 2.0 0.1 -2.1 0.1 0.7 0.2 -2.0 0.1 1.0 0.1 -1.1 0.1 0.3 0.1 0.8 0.2 3.1 0.1 -1.7 0.1 1.6 0.2 -3.0 0.1 1.6 0.1 -1.9 0.1 0.8 0.1 0.0 0.2 -3.2 0.1 3.5 0.1 -2.5 0.2 3.5 0.1 -2.4 0.1 -2.0 0.1 0.8 0.1 0.7 0.2 4.9 0.1 -5.6 0.1 1.9 0.2 1.1 0.1 -0.7 0.1 0.3 0.1 1.6 0.1 -3.0 0.2 5.0 0.1 -0.8 0.1 -2.3 0.2 2.6 0.1 -2.4 0.1 -0.9 0.1 -1.6 0.1 1.0 0.2 2.4 0.1 -0.7 0.1 2.5 0.2 -0.1 0.1 -1.3 0.1 -1.6 0.1 3.6 0.1 -3.8 0.2 -5.0 0.1 4.3 0.1 1.4 0.2 0.3 0.1 0.1 0.1 0.7 0.1 -6.8 0.1 10.3 0.2 -3.7 0.1 -1.1 0.1 -4.4 0.2 5.7 0.1 -3.8 0.1 -1.8 0.1 5.5 0.1 -0.1 0.2 -1.4 0.1 -1.8 0.1 2.6 0.2 -0.8 0.1 0.5 0.1 0.2 0.1 -4.1 0.1 4.0 0.2 -3.7 0.1 3.6 0.1 -1.7 0.2 -0.2 0.1 4.6 0.1 -2.9 0.1 0.0 0.1 1.2 0.2 3.1 0.1 -10.5 0.1 7.2 0.2 -0.9 0.1 2.3 0.1 -2.5 0.1 -0.3 0.1 1.2 0.2 -1.5 0.1 -1.9 0.1 2.0 0.2 3.9 0.1 -2.6 0.1 -6.0 0.1 4.7 0.1 -1.8 0.2 4.1 0.1 -4.4 0.1 2.2 0.2 1.2 0.1 0.6 0.1 -3.1 0.1 2.0 0.1 4.2 0.2 -6.2 0.1 1.5 0.1 -1.9 0.2 1.4 0.1 1.5 0.1 -1.0 0.1 1.2 0.1 -4.2 0.2 3.0 0.1 -1.0 0.1 -5.3 0.2 8.6 0.1 -2.1 0.1 -1.4 0.1 3.6 0.1 -1.2 0.2 -6.2 0.1 6.1 0.1 4.2 0.2 -4.5 0.1 1.1 0.1 -5.4 0.1 0.2 0.1 0.3 0.2 5.4 0.1 -0.3 0.1 -7.4 0.2 7.4 0.1 -6.5 0.1 1.4 0.1 2.8 0.1 -1.4 0.2 1.4 0.1 0.5 0.1 2.1 0.2 -3.7 0.1 -0.4 0.1 -0.2 0.1 6.8 0.1 -2.7 0.2 0.1 0.1 -1.3 0.1 -0.6 0.2 2.6 0.1 -3.2 0.1 -3.1 0.1 -0.1 0.1 9.1 0.2 -7.8 0.1 0.6 0.1 1.0 0.2 2.6 0.1 -4.7 0.1 2.0 0.1 1.3 0.1 -3.6 0.2 3.0 0.1 2.2 0.1 -1.8 0.2 -0.4 0.1 0.9 0.1 -1.2 0.1 -0.8 0.1 0.0 0.2 3.2 0.1 -5.2 0.1 1.0 0.2 4.4 0.1 0.7 0.1 -2.7 0.1 -2.4 0.1 -1.8 0.2 4.9 0.1 -0.9 0.1 0.4 0.2 0.1 0.1 -3.5 0.1 0.4 0.1 1.3 0.1 -0.2 0.2 -3.2 0.1 0.9 0.1 2.4 0.2 3.7 0.1 2.3 0.1 -4.6 0.1 -1.1 0.1 1.4 0.2 -0.5 0.1 -2.1 0.1 -5.4 0.2 7.5 0.1 -1.9 0.1 1.3 0.1 -2.0 0.1 1.5 0.2 1.0 0.1 -3.3 0.1 1.5 0.2 3.0 0.1 0.5 0.1 -5.6 0.1 5.7 0.1 1.0 0.2 -2.0 0.1 -0.1 0.1 -0.7 0.2 0.5 0.1 -1.8 0.1 3.9 0.1 -2.9 0.1 -3.1 0.2 4.4 0.1 0.8 0.1 -0.9 0.2 -2.9 0.1 3.7 0.1 -7.7 0.1 10.1 0.1 -2.5 0.2 -5.3 0.1 -0.6 0.1 9.7 0.2 -4.8 0.1 -2.1 0.1 2.3 0.1 -1.2 0.1 0.0 0.2 1.2 0.1 -0.1 0.1 -3.0 0.2 3.0 0.1 -0.3 0.1 -2.8 0.1 4.2 0.1 -1.1 0.2 -3.5 0.1 6.2 0.1 -2.7 0.2 2.1 0.1 -4.5 0.1 0.7 0.1 1.5 0.1 -1.5 0.2 0.9 0.1 -2.5 0.1 7.7 0.2 -3.3 0.1 1.6 0.1 0.8 0.1 -4.0 0.1 4.4 0.2 -9.6 0.1 4.2 0.1 -0.5 0.2 1.0 0.1 -2.4 0.1 4.5 0.1 2.5 0.1 -3.7 0.2 0.8 0.1 -6.0 0.1 3.2 0.2 2.6 0.1 -2.4 0.1 2.2 0.1 -1.6 0.1 1.5 0.2 -3.9 0.1 4.1 0.1 2.0 0.2 -1.5 0.1 3.4 0.1 -4.6 0.1 2.4 0.1 -4.9 0.2 4.8 0.1 -1.2 0.1 -1.8 0.2 2.9 0.1 -5.0 0.1 2.0 0.1 1.2 0.1 -2.9 0.2 0.0 0.1 4.3 0.1 -2.9 0.2 -1.3 0.1 1.4 0.1 -0.2 0.1 -0.5 0.1 2.3 0.2 -3.1 0.1 -1.0 0.1 3.4 0.2 -0.2 0.1 2.8 0.1 -5.6 0.1 1.6 0.1 3.4 0.2 -1.5 0.1 -2.0 0.1 -0.5 0.2 3.3 0.1 -1.7 0.1 -1.8 0.1 0.8 0.1 0.2 0.2 3.0 0.1 -7.6 0.1 4.2 0.2 3.8 0.1 -6.5 0.1 2.9 0.1 2.4 0.1 -4.7 0.2 1.8 0.1 -0.5 0.1 2.3 0.2 -1.9 0.1 -1.0 0.1 2.4 0.1 0.2 0.1 2.0 0.2 -3.2 0.1 0.6 0.1 -0.7 0.2 3.9 0.1 0.3 0.1 -4.3 0.1 -2.8 0.1 8.9 0.2 -8.4 0.1 0.2 0.1 2.5 0.2 5.3 0.1 -1.7 0.1 -3.0 0.1 2.0 0.1 -2.0 0.2 2.6 0.1 -3.6 0.1 4.4 0.2 -2.2 0.1 -2.4 0.1 -2.3 0.1 6.6 0.1 -1.1 0.2 -3.0 0.1 0.2 0.1 0.8 0.2 0.2 0.1 0.3 0.1 0.3 0.1 0.0 0.1 -1.2 0.2 5.8 0.1 -5.2 0.1 -1.0 0.2 2.3 0.1 -3.5 0.1 2.8 0.1 -0.6 0.1 2.1 0.2 -4.2 0.1 -1.8 0.1 6.7 0.2 -2.8 0.1 4.3 0.1 -2.0 0.1 -2.5 0.1 1.8 0.2 -3.4 0.1 0.3 0.1 2.1 0.2 0.2 0.1 -3.9 0.1 5.3 0.1 -0.7 0.1 1.1 0.2 -5.4 0.1 4.4 0.1 -2.7 0.2 0.3 0.1 3.2 0.1 -2.3 0.1 1.1 0.1 0.8 0.2 0.6 0.1 -4.4 0.1 0.1 0.2 3.1 0.1 0.6 0.1 -2.7 0.1 2.4 0.1 -2.8 0.2 1.2 0.1 0.2 0.1 0.7 0.2 1.0 0.1 -2.2 0.1 1.1 0.1 -2.1 0.1 3.5 0.2 -0.4 0.1 -2.2 0.1 5.4 0.2 -4.0 0.1 -0.3 0.1 -0.2 0.1 1.7 0.1 -0.5 0.2 -1.7 0.1 2.2 0.1 1.0 0.2 0.8 0.1 -1.9 0.1 -1.8 0.1 -0.9 0.1 2.8 0.2 1.6 0.1 2.2 0.1 -5.3 0.2 -1.6 0.1 0.2 0.1 2.8 0.1 0.5 0.1 -3.1 0.2 -1.1 0.1 -1.7 0.1 5.7 0.2 -4.8 0.1 4.5 0.1 -1.5 0.1 -3.9 0.1 1.7 0.2 4.5 0.1 -2.2 0.1 -0.5 0.2 3.0 0.1 -2.8 0.1 0.2 0.1 0.2 0.1 0.1 0.2 2.3 0.1 -3.3 0.1 3.6 0.2 0.9 0.1 -4.4 0.1 1.9 0.1 -3.6 0.1 2.5 0.2 2.3 0.1 -0.7 0.1 -3.0 0.2 2.1 0.1 -0.1 0.1 -0.8 0.1 0.1 0.1 3.8 0.2 -9.9 0.1 4.3 0.1 3.2 0.2 -2.1 0.1 1.2 0.1 0.2 0.1 -0.9 0.1 0.6 0.2 -1.6 0.1 1.5 0.1 1.6 0.2 0.5 0.1 -1.2 0.1 -1.7 0.1 -0.3 0.1 -2.8 0.2 3.3 0.1 -1.6 0.1 0.5 0.2 0.8 0.1 0.9 0.1 0.2 0.1 -0.3 0.1 -2.4 0.2 1.3 0.1 2.4 0.1 -1.8 0.2 1.1 0.1 -0.8 0.1 3.2 0.1 0.4 0.1 2.0 0.2 -6.2 0.1 2.5 0.1 -4.6 0.2 4.2 0.1 -0.7 0.1 -1.8 0.1 4.0 0.1 -2.7 0.2 -3.4 0.1 6.4 0.1 -3.0 0.2 1.4 0.1 -3.2 0.1 -0.3 0.1 -1.0 0.1 0.4 0.2 3.8 0.1 -0.3 0.1 -4.5 0.2 3.6 0.1 0.1 0.1 -1.7 0.1 2.2 0.1 -2.4 0.2 3.5 0.1 -2.8 0.1 0.8 0.2 -7.7 0.1 6.4 0.1 1.1 0.1 -1.4 0.1 0.8 0.2 -1.6 0.1 3.7 0.1 -3.9 0.2 1.6 0.1 3.8 0.1 -0.4 0.1 -2.5 0.1 -2.7 0.2 -1.3 0.1 4.8 0.1 -0.4 0.2 -1.2 0.1 0.0 0.1 5.1 0.1 -2.6 0.1 -1.8 0.2 -0.3 0.1 -0.1 0.1 1.6 0.2 -1.2 0.1 0.7 0.1 -1.3 0.1 2.3 0.1 -1.1 0.2 -2.9 0.1 8.6 0.1 -5.5 0.2 -1.7 0.1 -1.7 0.1 2.8 0.1 -1.4 0.1 5.0 0.2 -2.4 0.1 -2.4 0.1 -2.5 0.2 5.3 0.1 -5.4 0.1 4.5 0.1 -0.9 0.1 -6.3 0.2 5.3 0.1 4.1 0.1 -5.2 0.2 -2.8 0.1 1.3 0.1 3.5 0.1 0.8 0.1 1.1 0.2 -1.4 0.1 -2.8 0.1 0.9 0.2 0.3 0.1 0.1 0.1 -2.2 0.1 4.2 0.1 1.2 0.2 -2.5 0.1 0.6 0.1 -3.2 0.2 3.0 0.1 -2.2 0.1 -0.1 0.1 3.8 0.1 -1.3 0.2 -1.3 0.1 -2.5 0.1 3.6 0.2 3.4 0.1 -2.8 0.1 -0.3 0.1 2.2 0.1 2.0 0.2 -3.0 0.1 1.2 0.1 -1.7 0.2 0.5 0.1 -0.2 0.1 1.3 0.1 -3.5 0.1 1.6 0.2 0.0 0.1 -0.9 0.1 -1.0 0.2 3.0 0.1 -2.6 0.1 -2.5 0.1 4.9 0.1 -4.6 0.2 4.9 0.1 -7.1 0.1 5.5 0.2 3.8 0.1 -4.4 0.1 3.0 0.1 -3.4 0.1 -0.8 0.2 1.2 0.1 2.7 0.1 0.8 0.2 0.3 0.1 -1.2 0.1 -2.2 0.1 -4.4 0.1 2.5 0.2 4.9 0.1 -6.7 0.1 4.6 0.2 -0.1 0.1 -4.6 0.1 4.4 0.1 -1.7 0.1 1.2 0.2 -0.7 0.1 -0.3 0.1 -1.5 0.2 -2.3 0.1 8.2 0.1 -5.7 0.1 1.4 0.1 -0.2 0.2 0.4 0.1 -0.8 0.1 3.0 0.2 -1.2 0.1 -1.1 0.1 -0.4 0.1 2.2 0.1 -3.3 0.2 2.9 0.1 1.6 0.1 -0.6 0.2 -0.9 0.1 -4.7 0.1 5.5 0.1 -0.8 0.1 2.4 0.2 -4.4 0.1 0.1 0.1 4.0 0.2 -5.1 0.1 4.2 0.1 -1.8 0.1 -6.2 0.1 4.4 0.2 0.0 0.1 -1.8 0.1 -1.1 0.2 4.5 0.1 -2.3 0.1 0.8 0.1 -0.6 0.1 1.5 0.2 1.5 0.1 0.6 0.1 -0.6 0.2 -1.9 0.1 0.5 0.1 1.7 0.1 1.5 0.1 -2.9 0.2 -2.5 0.1 3.6 0.1 0.9 0.2 -2.4 0.1 3.6 0.1 -3.7 0.1 0.8 0.1 0.7 0.2 2.6 0.1 -6.1 0.1 3.7 0.2 0.6 0.1 -1.9 0.1 2.6 0.1 -3.6 0.1 -1.2 0.2 -0.1 0.1 1.1 0.1 -0.9 0.2 3.5 0.1 -1.2 0.1 -3.2 0.1 6.6 0.1 -2.9 0.2 -4.2 0.1 -0.5 0.1 4.1 0.2 2.8 0.1 -3.8 0.1 2.9 0.1 1.5 0.1 -2.0 0.2 -2.3 0.1 -2.3 0.1 1.4 0.2 4.3 0.1 -2.8 0.1 -2.1 0.1 1.5 0.1 0.6 0.2 3.1 0.1 -3.8 0.1 5.4 0.2 -3.7 0.1 0.2 0.1 -3.4 0.1 3.2 0.1 -0.3 0.2 1.1 0.1 -3.1 0.1 2.1 0.2 -3.8 0.1 1.3 0.1 7.5 0.1 -6.2 0.1 -0.7 0.2 3.7 0.1 -2.4 0.1 6.3 0.2 -5.6 0.1 1.5 0.1 -2.2 0.1 3.1 0.1 -2.5 0.2 5.9 0.1 -7.7 0.1 2.5 0.2 0.5 0.1 -4.2 0.1 1.3 0.1 -0.6 0.1 -2.1 0.2 4.4 0.1 -7.0 0.1 3.6 0.2 0.5 0.1 3.2 0.1 -1.1 0.1 2.4 0.1 0.1 0.2 -2.4 0.1 -2.5 0.1 3.8 0.2 -3.1 0.1 1.0 0.1 0.9 0.1 3.3 0.1 2.6 0.2 -3.1 0.1 -3.7 0.1 3.3 0.2 1.0 0.1 -4.6 0.1 2.4 0.1 -1.8 0.1 0.0 0.2 1.5 0.1 0.1 0.1 -2.2 0.2 1.6 0.1 -3.1 0.1 2.3 0.1 0.6 0.1 -1.3 0.2 -2.2 0.1 1.8 0.1 2.7 0.2 1.4 0.1 0.2 0.1 0.3 0.1 1.7 0.1 -4.9 0.2 3.4 0.1 -4.5 0.1 5.5 0.2 -1.6 0.1 -4.3 0.1 3.9 0.1 0.8 0.1 -3.9 0.2 2.5 0.1 1.1 0.1 2.1 0.2 -5.4 0.1 4.7 0.1 -5.6 0.1 0.5 0.1 5.0 0.2 -1.3 0.1 -3.5 0.1 4.8 0.2 -2.5 0.1 -1.0 0.1 -1.3 0.1 -5.2 0.1 5.7 0.2 2.1 0.1 -2.1 0.1 1.9 0.2 -1.5 0.1 3.5 0.1 -9.3 0.1 7.6 0.1 -3.2 0.2 2.4 0.1 0.8 0.1 0.9 0.2 -1.0 0.1 0.6 0.1 -5.0 0.1 2.5 0.1 -5.0 0.2 5.7 0.1 -4.2 0.1 6.2 0.2 -1.8 0.1 -0.9 0.1 -0.8 0.1 1.8 0.1 -1.9 0.2 -2.0 0.1 3.9 0.1 -2.8 0.2 3.0 0.1 -3.1 0.1 -0.5 0.1 7.6 0.1 -3.7 0.2 1.2 0.1 -3.5 0.1 0.4 0.2 0.1 0.1 4.4 0.1 -2.8 0.1 -1.1 0.1 -0.2 0.2 0.4 0.1 2.4 0.1 -2.1 0.2 0.1 0.1 2.8 0.1 -0.9 0.1 -0.4 0.1 2.6 0.2 -4.6 0.1 -2.2 0.1 -1.1 0.2 3.5 0.1 0.6 0.1 1.6 0.1 -5.3 0.1 0.2 0.2 2.5 0.1 -0.2 0.1 -2.5 0.2 2.6 0.1 1.8 0.1 -2.3 0.1 5.6 0.1 -3.6 0.2 -3.4 0.1 1.4 0.1 -2.6 0.2 8.1 0.1 -5.3 0.1 0.0 0.1 2.3 0.1 -2.3 0.2 -0.8 0.1 1.2 0.1 2.3 0.2 0.0 0.1 -5.3 0.1 -0.6 0.1 4.7 0.1 -1.8 0.2 -0.3 0.1 3.4 0.1 -1.2 0.2 -2.0 0.1 2.5 0.1 -3.1 0.1 0.4 0.1 5.2 0.2 -4.7 0.1 1.9 0.1 -1.7 0.2 -0.1 0.1 -1.9 0.1 -0.1 0.1 5.2 0.1 2.1 0.2 -3.4 0.1 -0.2 0.1 -2.5 0.2 1.2 0.1 3.6 0.1 2.5 0.1 -4.2 0.1 -0.6 0.2 1.6 0.1 -2.0 0.1 -1.9 0.2 -0.3 0.1 1.3 0.1 -0.5 0.1 -4.5 0.1 1.2 0.2 5.8 0.1 0.4 0.1 -0.3 0.2 -2.3 0.1 -0.9 0.1 1.4 0.1 0.8 0.1 -2.0 0.2 3.3 0.1 -4.2 0.1 -3.9 0.2 6.8 0.1 0.6 0.1 -2.2 0.1 2.9 0.1 0.5 0.2 -8.3 0.1 6.6 0.1 -3.6 0.2 4.2 0.1 -1.0 0.1 1.3 0.1 -2.5 0.1 -0.8 0.2 1.8 0.1 4.8 0.1 -4.5 0.2 -3.2 0.1 2.3 0.1 -0.5 0.1 3.3 0.1 -2.6 0.2 -1.1 0.1 1.1 0.1 -1.9 0.2 2.8 0.1 -3.4 0.1 1.5 0.1 1.4 0.1 -3.6 0.2 0.0 0.1 1.1 0.1 5.0 0.2 -1.5 0.1 -1.9 0.1 2.1 0.1 -0.2 0.1 -3.1 0.2 -0.9 0.1 5.3 0.1 -4.0 0.2 3.0 0.1 -4.8 0.1 3.2 0.1 -2.7 0.1 4.2 0.2 0.0 0.1 -0.9 0.1 0.7 0.2 -3.0 0.1 2.1 0.1 0.5 0.1 -3.2 0.1 3.3 0.2 -0.7 0.1 0.4 0.1 -1.6 0.2 0.4 0.1 1.3 0.1 -0.6 0.1 1.2 0.1 -4.2 0.2 5.2 0.1 -3.9 0.1 4.1 0.2 -5.7 0.1 1.7 0.1 1.9 0.1 0.2 0.1 -1.9 0.2 -1.0 0.1 3.5 0.1 1.0 0.2 -4.3 0.1 -0.6 0.1 1.4 0.1 1.1 0.1 -3.7 0.2 1.7 0.1 3.8 0.1 -3.2 0.2 -0.1 0.1 5.1 0.1 -1.1 0.1 1.0 0.1 -3.9 0.2 -0.3 0.1 -0.5 0.1 -2.2 0.2 -1.4 0.1 4.5 0.1 -1.8 0.1 3.0 0.1 0.6 0.2 -5.6 0.1 0.4 0.1 3.6 0.2 2.8 0.1 0.4 0.1 -4.9 0.1 1.7 0.1 3.1 0.2 -4.9 0.1 -0.5 0.1 5.4 0.2 -4.4 0.1 -1.0 0.1 6.3 0.1 -4.5 0.1 0.0 0.2 2.3 0.1 2.1 0.1 -1.5 0.2 -1.2 0.1 0.4 0.1 -0.1 0.1 -0.5 0.1 -4.6 0.2 4.5 0.1 -3.7 0.1 1.5 0.2 2.0 0.1 -0.4 0.1 1.2 0.1 -0.8 0.1 1.2 0.2 3.0 0.1 -6.6 0.1 4.8 0.2 1.4 0.1 -5.2 0.1 0.1 0.1 0.7 0.1 1.6 0.2 -2.4 0.1 0.9 0.1 0.6 0.2 0.1 0.1 2.7 0.1 -4.5 0.1 2.7 0.1 -0.1 0.2 -1.3 0.1 0.0 0.1 -2.0 0.2 0.2 0.1 2.3 0.1 -0.4 0.1 -1.2 0.1 3.2 0.2 -2.2 0.1 -0.1 0.1 -0.4 0.2 2.7 0.1 -1.2 0.1 -0.6 0.1 -3.5 0.1 6.6 0.2 -6.9 0.1 4.0 0.1 -3.4 0.2 -0.7 0.1 -3.7 0.1 7.3 0.1 0.2 0.1 -1.6 0.2 -0.1 0.1 -1.9 0.1 3.1 0.2 -0.5 0.1 -2.8 0.1 2.1 0.1 0.2 0.1 -1.9 0.2 4.9 0.1 -5.3 0.1 7.3 0.2 -1.7 0.1 -3.5 0.1 4.6 0.1 -1.2 0.1 0.2 0.2 -2.4 0.1 -2.6 0.1 -2.4 0.2 5.5 0.1 -0.8 0.1 -1.0 0.1 6.0 0.1 -3.5 0.2 -4.4 0.1 3.0 0.1 1.4 0.2 -4.0 0.1 3.0 0.1 -1.4 0.1 -2.7 0.1 4.2 0.2 0.7 0.1 -7.2 0.1 6.8 0.2 -2.3 0.1 0.5 0.1 -2.9 0.1 1.6 0.1 6.3 0.2 -2.3 0.1 -1.9 0.1 0.6 0.2 -1.9 0.1 1.6 0.1 -1.6 0.1 2.4 0.1 -3.2 0.2 2.8 0.1 1.1 0.1 -2.5 0.2 1.1 0.1 0.2 0.1 -1.7 0.1 -1.8 0.1 5.5 0.2 -2.2 0.1 -0.9 0.1 3.5 0.2 -4.6 0.1 0.7 0.1 -0.4 0.1 -0.7 0.1 2.1 0.2 -1.0 0.1 4.6 0.1 -4.5 0.2 4.1 0.1 -4.8 0.1 1.3 0.1 0.8 0.1 -2.1 0.2 3.4 0.1 -2.9 0.1 -0.2 0.2 2.9 0.1 -3.2 0.1 3.0 0.1 0.9 0.1 -0.5 0.2 1.5 0.1 -3.9 0.1 3.8 0.2 -3.8 0.1 -2.5 0.1 3.1 0.1 4.5 0.1 -6.6 0.2 5.9 0.1 -7.2 0.1 5.0 0.2 -0.9 0.1 -2.0 0.1 -3.9 0.1 6.5 0.1 0.1 0.2 -0.3 0.1 1.1 0.1 -3.8 0.2 6.3 0.1 -2.3 0.1 -3.6 0.1 6.4 0.1 -5.0 0.2 0.7 0.1 0.6 0.1 -3.9 0.2 -0.1 0.1 1.7 0.1 -2.0 0.1 2.3 0.1 3.6 0.2 -5.4 0.1 2.7 0.1 -1.5 0.2 3.0 0.1 -4.6 0.1 0.0 0.1 1.9 0.1 4.7 0.2 -6.4 0.1 -1.6 0.1 1.6 0.2 3.8 0.1 0.5 0.1 -2.1 0.1 0.8 0.1 -3.6 0.2 4.0 0.1 -1.3 0.1 -1.0 0.2 3.6 0.1 0.1 0.1 -3.4 0.1 1.5 0.1 -4.7 0.2 1.9 0.1 5.2 0.1 -5.3 0.2 0.5 0.1 4.5 0.1 -7.5 0.1 3.5 0.1 3.1 0.2 -2.8 0.1 -1.2 0.1 -0.6 0.2 2.6 0.1 -2.4 0.1 3.0 0.1 -0.7 0.1 0.5 0.2 2.5 0.1 -3.6 0.1 -1.3 0.2 1.9 0.1 0.6 0.1 -0.9 0.1 -3.2 0.1 5.3 0.2 -5.3 0.1 -0.5 0.1 6.3 0.2 1.3 0.1 -3.9 0.1 -1.2 0.1 4.8 0.1 -6.0 0.2 2.9 0.1 -1.2 0.1 2.6 0.2 -0.5 0.1 -2.2 0.1 4.3 0.1 -0.7 0.1 -1.6 0.2 -0.7 0.1 0.4 0.1 -2.7 0.2 2.1 0.1 -0.2 0.1 1.7 0.1 -1.7 0.1 -0.4 0.2 1.5 0.1 1.5 0.1 -0.9 0.2 -1.5 0.1 -0.6 0.1 4.1 0.1 -2.9 0.1 -2.5 0.2 3.1 0.1 -4.5 0.1 2.6 0.2 2.5 0.1 -1.9 0.1 -0.4 0.1 2.4 0.1 1.1 0.2 -4.5 0.1 -0.2 0.1 1.0 0.2 -0.9 0.1 3.4 0.1 0.6 0.1 -1.9 0.1 -2.0 0.2 -1.2 0.1 3.1 0.1 -1.4 0.2 2.6 0.1 -3.8 0.1 1.5 0.1 0.4 0.1 3.2 0.2 -0.5 0.1 -0.6 0.1 -0.6 0.2 1.0 0.1 -5.5 0.1 5.9 0.1 -2.6 0.1 3.8 0.2 -1.2 0.1 0.6 0.1 -4.1 0.2 7.8 0.1 -5.0 0.1 -0.6 0.1 -1.9 0.1 2.0 0.2 -5.4 0.1 7.5 0.1 -1.9 0.2 -1.2 0.1 3.1 0.1 -1.9 0.1 -0.3 0.1 -2.2 0.2 1.8 0.1 -3.3 0.1 0.2 0.2 3.0 0.1 -1.5 0.1 -1.5 0.1 2.5 0.1 -3.7 0.2 7.4 0.1 -5.6 0.1 -0.1 0.2 5.2 0.1 -6.6 0.1 -1.6 0.1 4.9 0.1 -0.5 0.2 2.8 0.1 -2.4 0.1 -3.5 0.2 3.5 0.1 -1.0 0.1 3.1 0.1 -2.1 0.1 -2.7 0.2 0.6 0.1 1.6 0.1 -1.0 0.2 1.3 0.1 0.0 0.1 -3.4 0.1 2.8 0.1 1.1 0.2 -4.7 0.1 -0.7 0.1 4.7 0.2 -0.5 0.1 0.8 0.1 1.6 0.1 -4.2 0.1 -2.1 0.2 2.8 0.1 -2.0 0.1 2.3 0.2 0.8 0.1 -1.4 0.1 1.0 0.1 -1.4 0.1 0.5 0.2 -3.2 0.1 6.2 0.1 -5.2 0.2 0.5 0.1 -0.7 0.1 0.8 0.1 -0.6 0.1 -3.6 0.2 7.6 0.1 -2.8 0.1 -1.6 0.2 0.7 0.1 2.5 0.1 -0.2 0.1 -1.2 0.1 1.3 0.2 -7.8 0.1 7.3 0.1 -2.4 0.2 -1.2 0.1 -0.4 0.1 2.5 0.1 -3.9 0.1 4.5 0.2 -2.5 0.1 3.2 0.1 -5.5 0.2 4.7 0.1 -1.7 0.1 -1.5 0.1 5.4 0.1 0.0 0.2 -4.2 0.1 1.6 0.1 4.0 0.2 -3.1 0.1 -1.8 0.1 -0.9 0.1 0.3 0.1 3.0 0.2 0.9 0.1 -2.6 0.1 -1.2 0.2 0.6 0.1 -2.1 0.1 4.9 0.1 -1.2 0.1 2.3 0.2 2.5 0.1 -2.1 0.1 -3.9 0.2 0.2 0.1 -2.0 0.1 -1.4 0.1 9.1 0.1 -3.1 0.2 -3.4 0.1 5.4 0.1 -5.7 0.2 4.6 0.1 1.4 0.1 -1.0 0.1 1.1 0.1 3.9 0.2 -1.9 0.1 4.8 0.1 -5.6 0.2 3.9 0.1 5.4 0.1 -5.7 0.1 0.0 0.1 2.0 0.2 -1.5 0.1 0.8 0.1 0.8 0.2 -2.0 0.1 -1.8 0.1 -2.4 0.1 0.4 0.1 0.7 0.2 -4.7 0.1 0.1 0.1 -2.5 0.2 1.4 0.1 -1.0 0.1 -3.2 0.1 -3.1 0.1 -1.1 0.2 1.7 0.1 -3.7 0.1 2.8 0.2 -2.7 0.1 0.9 0.1 5.2 0.1 -1.5 0.1 6.1 0.2 -5.7 0.1 6.4 0.1 0.1 0.2 1.5 0.1 2.5 0.1 -4.0 0.1 10.1 0.1 -4.8 0.2 7.4 0.1 -2.6 0.1 -0.5 0.2 -3.2 0.1 7.8 0.1 -2.2 0.1 1.1 0.1 -6.5 0.2 -1.2 0.1 2.2 0.1 1.0 0.2 -0.3 0.1 0.0 0.1 -5.4 0.1 -1.8 0.1 4.0 0.2 -4.4 0.1 1.6 0.1 4.4 0.2 -5.8 0.1 1.6 0.1 -0.4 0.1 -0.6 0.1 0.9 0.2 0.4 0.1 -1.0 0.1 3.4 0.2 -1.3 0.1 -4.3 0.1 5.5 0.1 -2.9 0.1 -0.7 0.2 -1.3 0.1 3.6 0.1 -1.7 0.2 -1.5 0.1 -0.1 0.1 4.4 0.1 -3.4 0.1 -0.4 0.2 6.3 0.1 -4.9 0.1 0.7 0.2 -1.1 0.1 -0.3 0.1 -2.1 0.1 3.7 0.1 -1.0 0.2 -2.5 0.1 1.6 0.1 4.1 0.2 -3.2 0.1 -0.5 0.1 -1.6 0.1 0.2 0.1 2.4 0.2 0.7 0.1 -1.4 0.1 1.5 0.2 -3.9 0.1 0.8 0.1 1.7 0.1 1.7 0.1 -3.5 0.2 3.1 0.1 -4.5 0.1 4.9 0.2 0.4 0.1 -3.5 0.1 1.5 0.1 0.9 0.1 -3.1 0.2 0.6 0.1 -0.1 0.1 2.1 0.2 0.7 0.1 -4.2 0.1 0.3 0.1 2.9 0.1 -2.9 0.2 1.0 0.1 2.3 0.1 -1.5 0.2 2.4 0.1 -1.9 0.1 -0.3 0.1 -1.3 0.1 -3.2 0.2 4.1 0.1 -3.2 0.1 5.7 0.2 -0.1 0.1 -0.6 0.1 1.5 0.1 2.2 0.1 -8.6 0.2 3.5 0.1 2.0 0.1 -2.4 0.2 0.2 0.1 2.4 0.1 -1.4 0.1 -4.3 0.1 6.3 0.2 -4.9 0.1 2.4 0.1 1.0 0.2 -4.8 0.1 7.5 0.1 -2.3 0.1 -0.7 0.1 0.8 0.2 -2.3 0.1 2.1 0.1 -0.1 0.2 -6.1 0.1 2.3 0.1 4.8 0.1 -4.5 0.1 3.3 0.2 -1.8 0.1 1.9 0.1 -5.6 0.2 4.1 0.1 -0.2 0.1 0.5 0.1 -0.1 0.1 -0.4 0.2 0.6 0.1 0.5 0.1 -2.1 0.2 4.7 0.1 -2.9 0.1 -1.3 0.1 2.7 0.1 -4.7 0.2 5.5 0.1 -3.1 0.1 1.0 0.2 0.0 0.1 1.0 0.1 -2.5 0.1 0.4 0.1 1.7 0.2 -2.3 0.1 1.0 0.1 -0.4 0.2 -0.6 0.1 -0.7 0.1 -0.3 0.1 0.8 0.1 -1.9 0.2 0.1 0.1 8.4 0.1 -5.8 0.2 2.1 0.1 -1.4 0.1 1.0 0.1 -1.3 0.1 1.9 0.2 -1.7 0.1 0.3 0.1 -3.2 0.2 4.9 0.1 -2.5 0.1 0.4 0.1 0.9 0.1 -0.3 0.2 -0.7 0.1 2.6 0.1 -4.7 0.2 -2.6 0.1 3.7 0.1 -4.2 0.1 4.4 0.1 3.1 0.2 0.6 0.1 -5.7 0.1 3.3 0.2 -3.5 0.1 3.3 0.1 2.4 0.1 -4.3 0.1 4.8 0.2 -2.8 0.1 5.1 0.1 -7.1 0.2 -0.7 0.1 4.7 0.1 -0.8 0.1 -0.7 0.1 -3.0 0.2 2.0 0.1 -1.4 0.1 4.4 0.2 -1.9 0.1 -2.9 0.1 -0.4 0.1 -1.5 0.1 1.8 0.2 1.2 0.1 1.0 0.1 1.5 0.2 -3.3 0.1 3.9 0.1 -7.1 0.1 4.1 0.1 1.4 0.2 -2.6 0.1 1.5 0.1 1.2 0.2 -3.0 0.1 1.7 0.1 2.0 0.1 -4.9 0.1 5.1 0.2 -2.6 0.1 -2.8 0.1 4.0 0.2 0.6 0.1 -2.0 0.1 1.0 0.1 0.3 0.1 -0.8 0.2 0.3 0.1 1.7 0.1 -0.1 0.2 -1.9 0.1 -4.3 0.1 1.0 0.1 1.8 0.1 3.3 0.2 -1.2 0.1 2.9 0.1 -2.7 0.2 0.0 0.1 -1.7 0.1 3.3 0.1 -5.6 0.1 3.7 0.2 -1.0 0.1 -0.9 0.1 3.1 0.2 -0.7 0.1 -0.7 0.1 -1.6 0.1 -2.4 0.1 0.3 0.2 -2.5 0.1 2.6 0.1 3.6 0.2 2.3 0.1 -5.4 0.1 5.1 0.1 1.4 0.1 -1.7 0.2 1.2 0.1 -3.8 0.1 -1.0 0.2 1.7 0.1 1.5 0.1 -1.0 0.1 -0.6 0.1 1.4 0.2 -3.7 0.1 3.6 0.1 -6.2 0.2 7.3 0.1 -0.2 0.1 2.0 0.1 -7.2 0.1 0.7 0.2 -0.9 0.1 -0.9 0.1 -1.7 0.2 7.0 0.1 -2.1 0.1 0.3 0.1 -3.6 0.1 4.3 0.2 4.1 0.1 -4.1 0.1 1.4 0.2 -4.5 0.1 4.9 0.1 -2.5 0.1 0.3 0.1 0.4 0.2 -1.4 0.1 1.9 0.1 -1.8 0.2 -0.7 0.1 -1.3 0.1 0.1 0.1 4.6 0.1 0.6 0.2 -2.7 0.1 -0.4 0.1 -1.0 0.2 1.6 0.1 2.7 0.1 -2.3 0.1 -1.5 0.1 3.6 0.2 -0.7 0.1 -5.7 0.1 2.8 0.2 3.7 0.1 -1.9 0.1 -1.0 0.1 1.1 0.1 -3.5 0.2 0.1 0.1 2.4 0.1 0.8 0.2 3.4 0.1 -3.8 0.1 0.8 0.1 2.6 0.1 -4.9 0.2 0.7 0.1 0.8 0.1 0.7 0.2 -0.1 0.1 1.3 0.1 -4.2 0.1 -0.4 0.1 2.6 0.2 -3.4 0.1 7.1 0.1 -5.2 0.2 0.5 0.1 2.6 0.1 -0.7 0.1 0.4 0.1 -1.4 0.2 -2.9 0.1 2.6 0.1 -1.0 0.2 -2.1 0.1 3.1 0.1 2.9 0.1 -4.1 0.1 0.4 0.2 -0.1 0.1 3.3 0.1 -6.2 0.2 5.6 0.1 -0.7 0.1 -0.4 0.1 -1.9 0.1 1.3 0.2 4.8 0.1 -3.7 0.1 -1.2 0.2 2.9 0.1 -4.5 0.1 5.4 0.1 -2.6 0.1 5.9 0.2 -0.6 0.1 -3.5 0.1 -0.5 0.2 -2.1 0.1 2.0 0.1 0.3 0.1 -4.6 0.1 -0.3 0.2 4.5 0.1 -2.6 0.1 1.5 0.2 0.0 0.1 0.3 0.1 -0.7 0.1 2.0 0.1 2.0 0.2 0.5 0.1 -4.4 0.1 0.9 0.2 -0.3 0.1 -3.7 0.1 -0.4 0.1 3.1 0.1 1.3 0.2 0.6 0.1 -3.1 0.1 2.8 0.2 -1.7 0.1 -0.7 0.1 3.3 0.1 -5.8 0.1 -1.1 0.2 9.5 0.1 -4.2 0.1 1.8 0.2 -2.2 0.1 -1.6 0.1 -1.2 0.1 -1.5 0.1 4.6 0.2 -2.5 0.1 2.4 0.1 1.0 0.2 -0.6 0.1 0.4 0.1 3.1 0.1 -2.8 0.1 -0.2 0.2 -1.0 0.1 3.4 0.1 -0.2 0.2 -3.9 0.1 2.5 0.1 -0.9 0.1 -0.6 0.1 -1.1 0.2 5.8 0.1 -3.0 0.1 -6.1 0.2 6.9 0.1 1.6 0.1 -3.6 0.1 -0.3 0.1 0.4 0.2 1.7 0.1 -3.3 0.1 2.1 0.2 -4.2 0.1 5.9 0.1 -5.0 0.1 1.8 0.1 1.7 0.2 1.2 0.1 -3.9 0.1 0.0 0.2 4.9 0.1 -4.7 0.1 -0.4 0.1 0.6 0.1 2.5 0.2 -0.1 0.1 0.6 0.1 -1.4 0.2 -1.9 0.1 1.8 0.1 0.7 0.1 -4.1 0.1 1.4 0.2 1.5 0.1 3.8 0.1 -4.1 0.2 0.9 0.1 0.0 0.1 0.7 0.1 0.6 0.1 -3.7 0.2 -4.0 0.1 8.0 0.1 -6.3 0.2 5.2 0.1 0.2 0.1 0.7 0.1 -3.8 0.1 3.1 0.2 0.8 0.1 0.1 0.1 1.3 0.2 -5.0 0.1 1.0 0.1 0.4 0.1 0.4 0.1 2.1 0.2 -0.6 0.1 -1.6 0.1 3.6 0.2 -2.4 0.1 -3.7 0.1 5.5 0.1 -5.7 0.1 0.0 0.2 1.8 0.1 -0.2 0.1 1.0 0.2 0.5 0.1 -1.6 0.1 0.2 0.1 3.0 0.1 -1.0 0.2 -1.3 0.1 -1.4 0.1 1.9 0.2 -2.0 0.1 -0.6 0.1 5.2 0.1 -0.8 0.1 -2.5 0.2 4.1 0.1 -3.9 0.1 1.6 0.2 -0.3 0.1 -0.6 0.1 0.1 0.1 3.1 0.1 -1.5 0.2 -6.2 0.1 5.4 0.1 -6.2 0.2 2.5 0.1 3.3 0.1 -3.4 0.1 5.2 0.1 -3.5 0.2 2.1 0.1 -0.6 0.1 1.1 0.2 1.1 0.1 -6.2 0.1 3.1 0.1 0.7 0.1 2.1 0.2 -0.9 0.1 -1.8 0.1 -2.5 0.2 -0.6 0.1 1.4 0.1 2.4 0.1 0.1 0.1 2.9 0.2 -2.4 0.1 1.2 0.1 -4.7 0.2 3.6 0.1 -1.9 0.1 -0.4 0.1 3.8 0.1 -2.8 0.2 -0.2 0.1 0.1 0.1 -3.1 0.2 -0.6 0.1 7.7 0.1 -4.1 0.1 -0.1 0.1 0.5 0.2 -1.3 0.1 0.6 0.1 -1.2 0.2 2.6 0.1 -1.2 0.1 2.6 0.1 1.3 0.1 -5.6 0.2 4.0 0.1 -2.4 0.1 5.5 0.2 -4.6 0.1 1.4 0.1 -3.4 0.1 3.8 0.1 -4.3 0.2 -0.9 0.1 -2.4 0.1 5.4 0.2 -0.6 0.1 1.4 0.1 -2.4 0.1 2.1 0.1 0.1 0.2 -2.3 0.1 6.6 0.1 0.6 0.2 -4.4 0.1 0.4 0.1 0.2 0.1 0.2 0.1 -3.1 0.2 2.6 0.1 3.4 0.1 -4.4 0.2 -0.4 0.1 -1.8 0.1 0.8 0.1 -4.1 0.1 4.7 0.2 2.5 0.1 -1.5 0.1 -0.2 0.2 0.0 0.1 0.1 0.1 -2.3 0.1 -1.8 0.1 8.3 0.2 -3.1 0.1 -5.9 0.1 8.5 0.2 -4.4 0.1 3.2 0.1 -2.4 0.1 -1.2 0.1 3.1 0.2 -2.7 0.1 -4.8 0.1 6.7 0.2 -1.5 0.1 -0.1 0.1 -0.7 0.1 1.6 0.1 2.4 0.2 -1.0 0.1 -1.3 0.1 -0.3 0.2 -1.8 0.1 5.7 0.1 -8.3 0.1 2.0 0.1 1.8 0.2 0.5 0.1 0.2 0.1 -1.6 0.2 5.0 0.1 -1.6 0.1 -6.9 0.1 2.1 0.1 -0.8 0.2 6.3 0.1 -4.2 0.1 -2.6 0.2 2.6 0.1 -2.4 0.1 2.9 0.1 1.5 0.1 -3.9 0.2 3.3 0.1 0.4 0.1 -2.1 0.2 2.6 0.1 -2.7 0.1 2.8 0.1 -1.9 0.1 -0.7 0.2 4.2 0.1 -0.9 0.1 -2.8 0.2 -6.3 0.1 7.7 0.1 -1.6 0.1 2.1 0.1 -0.8 0.2 -0.6 0.1 -0.1 0.1 4.0 0.2 0.1 0.1 -0.5 0.1 -5.7 0.1 1.5 0.1 1.1 0.2 -4.9 0.1 6.7 0.1 -4.9 0.2 4.6 0.1 -3.5 0.1 2.1 0.1 -4.7 0.1 -1.6 0.2 4.1 0.1 -1.3 0.1 0.1 0.2 1.8 0.1 1.7 0.1 1.1 0.1 -3.9 0.1 -1.2 0.2 3.1 0.1 -2.2 0.1 -0.3 0.2 1.6 0.1 3.3 0.1 -2.0 0.1 -5.4 0.1 9.1 0.2 -7.3 0.1 3.6 0.1 -1.9 0.2 4.1 0.1 -1.2 0.1 1.7 0.1 -2.3 0.1 -0.9 0.2 3.1 0.1 -7.0 0.1 1.5 0.2 -0.4 0.1 2.7 0.1 -0.8 0.1 -0.8 0.1 3.6 0.2 -0.2 0.1 -2.2 0.1 -2.1 0.2 7.9 0.1 -4.1 0.1 -2.0 0.1 1.8 0.1 0.5 0.2 -2.1 0.1 3.1 0.1 -1.4 0.2 -1.5 0.1 3.6 0.1 -3.6 0.1 4.0 0.1 -2.4 0.2 -0.7 0.1 3.5 0.1 -3.5 0.2 2.0 0.1 1.6 0.1 -4.0 0.1 -0.7 0.1 3.0 0.2 0.5 0.1 -7.2 0.1 5.9 0.2 1.3 0.1 -3.8 0.1 3.6 0.1 -2.8 0.1 -0.5 0.2 0.9 0.1 2.5 0.1 -2.6 0.2 -0.5 0.1 1.2 0.1 1.6 0.1 -6.5 0.1 6.9 0.2 0.7 0.1 -5.5 0.1 2.3 0.2 1.2 0.1 -0.8 0.1 3.9 0.1 -3.9 0.1 -1.6 0.2 0.4 0.1 1.7 0.1 -2.5 0.2 0.3 0.1 0.1 0.1 4.9 0.1 -2.3 0.1 -3.9 0.2 3.9 0.1 -7.2 0.1 5.9 0.2 1.3 0.1 -0.6 0.1 0.5 0.1 -0.5 0.1 -1.9 0.2 1.2 0.1 -0.1 0.1 -2.8 0.2 3.3 0.1 -2.5 0.1 3.5 0.1 3.6 0.1 -0.3 0.2 1.2 0.1 -6.8 0.1 0.1 0.2 2.5 0.1 -3.4 0.1 3.5 0.1 -2.6 0.1 2.1 0.2 -1.5 0.1 4.4 0.1 -1.0 0.2 -0.9 0.1 -4.7 0.1 5.3 0.1 -3.8 0.1 -2.2 0.2 3.7 0.1 1.7 0.1 -5.6 0.2 5.3 0.1 -2.1 0.1 0.3 0.1 1.8 0.1 -1.8 0.2 -0.8 0.1 3.9 0.1 -8.0 0.2 7.7 0.1 -5.2 0.1 5.6 0.1 -5.5 0.1 5.6 0.2 -7.1 0.1 7.7 0.1 -3.8 0.2 -0.9 0.1 -0.2 0.1 3.1 0.1 -2.6 0.1 1.9 0.2 -0.9 0.1 -2.6 0.1 6.5 0.2 -3.9 0.1 1.1 0.1 -0.2 0.1 -0.6 0.1 3.5 0.2 -3.0 0.1 -1.4 0.1 1.0 0.2 -0.6 0.1 -1.5 0.1 5.0 0.1 -4.7 0.1 4.7 0.2 -2.9 0.1 1.4 0.1 -2.2 0.2 -0.9 0.1 5.7 0.1 -6.1 0.1 -1.1 0.1 3.2 0.2 2.3 0.1 -5.9 0.1 1.6 0.2 3.1 0.1 0.1 0.1 -0.9 0.1 -2.2 0.1 1.4 0.2 -1.9 0.1 2.6 0.1 -1.1 0.2 0.5 0.1 -1.2 0.1 2.1 0.1 -1.4 0.1 -1.8 0.2 4.9 0.1 -2.7 0.1 -1.1 0.2 0.3 0.1 3.9 0.1 -3.1 0.1 0.5 0.1 -2.6 0.2 0.9 0.1 -0.6 0.1 -0.6 0.2 -0.4 0.1 1.6 0.1 -2.0 0.1 4.3 0.1 0.4 0.2 -3.7 0.1 2.8 0.1 -2.5 0.2 2.3 0.1 0.2 0.1 -4.7 0.1 -1.7 0.1 6.5 0.2 0.0 0.1 -1.2 0.1 -1.2 0.2 -0.3 0.1 -4.1 0.1 8.9 0.1 -8.0 0.1 5.4 0.2 -1.0 0.1 1.1 0.1 -3.5 0.2 0.8 0.1 2.8 0.1 -3.5 0.1 2.7 0.1 -3.1 0.2 3.2 0.1 0.6 0.1 -1.1 0.2 1.2 0.1 -3.6 0.1 1.5 0.1 0.5 0.1 3.9 0.2 -4.5 0.1 1.1 0.1 2.4 0.2 -2.3 0.1 1.6 0.1 -4.2 0.1 4.6 0.1 -2.1 0.2 1.1 0.1 0.3 0.1 -5.7 0.2 6.6 0.1 -3.4 0.1 3.4 0.1 -3.1 0.1 1.1 0.2 -3.9 0.1 0.8 0.1 4.8 0.2 -4.1 0.1 2.4 0.1 -0.7 0.1 -2.4 0.1 1.9 0.2 0.2 0.1 1.6 0.1 -2.1 0.2 -0.4 0.1 4.5 0.1 0.2 0.1 -2.9 0.1 -2.3 0.2 3.2 0.1 -2.0 0.1 4.1 0.2 -3.2 0.1 -1.5 0.1 0.5 0.1 -1.5 0.1 1.9 0.2 -2.6 0.1 3.4 0.1 1.5 0.2 -0.6 0.1 -3.0 0.1 2.8 0.1 -1.9 0.1 -2.4 0.2 2.7 0.1 2.0 0.1 -1.3 0.2 -1.1 0.1 -0.4 0.1 1.5 0.1 1.2 0.1 -0.7 0.2 2.0 0.1 -1.0 0.1 0.2 0.2 -2.8 0.1 1.6 0.1 -0.9 0.1 0.9 0.1 0.0 0.2 4.8 0.1 -7.6 0.1 3.4 0.2 -1.8 0.1 1.9 0.1 -0.5 0.1 2.7 0.1 -3.7 0.2 -1.2 0.1 2.2 0.1 -0.1 0.2 -5.3 0.1 8.6 0.1 -6.0 0.1 5.3 0.1 -0.6 0.2 0.2 0.1 -2.6 0.1 -2.3 0.2 0.1 0.1 4.4 0.1 -3.6 0.1 2.0 0.1 -1.7 0.2 -0.5 0.1 3.3 0.1 -4.0 0.2 1.6 0.1 -0.3 0.1 0.8 0.1 -0.7 0.1 -2.0 0.2 1.4 0.1 0.4 0.1 5.1 0.2 -2.4 0.1 -1.8 0.1 0.6 0.1 -1.0 0.1 4.1 0.2 -4.0 0.1 -1.7 0.1 10.7 0.2 -10.3 0.1 0.5 0.1 -0.8 0.1 3.1 0.1 -2.4 0.2 -0.2 0.1 3.7 0.1 1.0 0.2 -2.5 0.1 -3.0 0.1 3.2 0.1 -2.6 0.1 1.8 0.2 -0.1 0.1 -3.2 0.1 4.6 0.2 -1.8 0.1 0.0 0.1 -2.1 0.1 4.4 0.1 -3.5 0.2 1.7 0.1 -2.4 0.1 -0.6 0.2 0.0 0.1 -0.8 0.1 2.6 0.1 3.7 0.1 -0.6 0.2 -4.3 0.1 0.2 0.1 5.0 0.2 -1.5 0.1 -1.5 0.1 -0.7 0.1 0.1 0.1 -4.2 0.2 3.5 0.1 5.8 0.1 -1.1 0.2 -4.0 0.1 2.5 0.1 -0.3 0.1 -2.4 0.1 -0.6 0.2 0.8 0.1 1.7 0.1 2.6 0.2 -2.2 0.1 -0.6 0.1 -0.6 0.1 3.1 0.1 0.7 0.2 -3.2 0.1 -1.3 0.1 1.0 0.2 0.4 0.1 1.3 0.1 -0.3 0.1 -3.6 0.1 1.6 0.2 -0.5 0.1 2.3 0.1 -3.8 0.2 -1.5 0.1 3.9 0.1 -1.3 0.1 0.0 0.1 0.6 0.2 -1.7 0.1 2.1 0.1 -2.5 0.2 0.0 0.1 3.8 0.1 -1.7 0.1 3.2 0.1 -1.8 0.2 -2.2 0.1 0.4 0.1 -1.0 0.2 2.2 0.1 1.1 0.1 -1.3 0.1 0.4 0.1 -2.7 0.2 4.6 0.1 -1.4 0.1 0.8 0.2 -4.6 0.1 1.9 0.1 -1.2 0.1 4.9 0.1 -3.8 0.2 5.3 0.1 -3.8 0.1 -2.1 0.2 4.0 0.1 1.2 0.1 -4.0 0.1 -0.8 0.1 1.1 0.2 -2.3 0.1 0.2 0.1 -2.3 0.2 3.3 0.1 -1.6 0.1 2.9 0.1 0.2 0.1 1.5 0.2 -1.5 0.1 -0.9 0.1 3.3 0.2 -4.2 0.1 -3.2 0.1 1.5 0.1 1.9 0.1 2.0 0.2 0.9 0.1 -4.3 0.1 4.4 0.2 -1.4 0.1 0.6 0.1 -3.4 0.1 1.7 0.1 -3.9 0.2 4.8 0.1 -1.0 0.1 2.2 0.2 0.9 0.1 -4.4 0.1 3.8 0.1 0.3 0.1 -3.0 0.2 4.5 0.1 -5.8 0.1 -1.4 0.2 3.0 0.1 3.6 0.1 -2.4 0.1 -4.7 0.1 2.7 0.2 3.9 0.1 -4.1 0.1 1.2 0.2 -1.9 0.1 6.3 0.1 -0.5 0.1 -6.3 0.1 -1.0 0.2 5.1 0.1 -0.2 0.1 -0.9 0.2 0.2 0.1 -0.9 0.1 2.4 0.1 -0.2 0.1 0.9 0.2 -0.8 0.1 -2.9 0.1 0.4 0.2 0.3 0.1 0.9 0.1 -1.7 0.1 -0.4 0.1 1.2 0.2 -0.5 0.1 0.6 0.1 3.7 0.2 -0.6 0.1 -3.8 0.1 1.3 0.1 -0.7 0.1 -1.2 0.2 3.0 0.1 -5.4 0.1 4.6 0.2 -1.1 0.1 -2.0 0.1 3.5 0.1 0.9 0.1 -1.6 0.2 0.3 0.1 -2.8 0.1 2.8 0.2 2.1 0.1 -5.6 0.1 7.0 0.1 -8.5 0.1 5.8 0.2 -3.0 0.1 2.0 0.1 -0.2 0.2 0.2 0.1 2.1 0.1 -2.8 0.1 1.0 0.1 1.9 0.2 -2.8 0.1 -4.4 0.1 3.4 0.2 0.0 0.1 -0.7 0.1 3.1 0.1 -1.2 0.1 -2.0 0.2 0.4 0.1 -1.8 0.1 2.0 0.2 5.2 0.1 -7.6 0.1 7.8 0.1 -4.1 0.1 -0.3 0.2 -0.7 0.1 -1.4 0.1 4.0 0.2 -1.9 0.1 -0.6 0.1 1.3 0.1 3.5 0.1 -4.3 0.2 0.6 0.1 3.1 0.1 -5.2 0.2 3.9 0.1 3.3 0.1 -5.3 0.1 -3.6 0.1 5.5 0.2 -2.7 0.1 3.5 0.1 -1.7 0.2 -0.4 0.1 -2.5 0.1 4.5 0.1 -1.5 0.1 -0.1 0.2 -0.1 0.1 -0.1 0.1 -0.6 0.2 -0.6 0.1 -3.4 0.1 2.3 0.1 0.4 0.1 3.2 0.2 0.0 0.1 -4.3 0.1 1.1 0.2 -0.1 0.1 2.0 0.1 -0.1 0.1 0.6 0.1 -2.8 0.2 0.6 0.1 5.1 0.1 -6.9 0.2 5.6 0.1 -1.4 0.1 0.5 0.1 -1.7 0.1 -0.2 0.2 1.7 0.1 -1.9 0.1 0.2 0.2 -0.4 0.1 1.5 0.1 -1.1 0.1 -0.5 0.1 1.9 0.2 -0.8 0.1 -3.1 0.1 2.9 0.2 3.2 0.1 -2.0 0.1 2.4 0.1 -6.9 0.1 4.3 0.2 -5.1 0.1 5.3 0.1 -2.9 0.2 0.9 0.1 1.2 0.1 -2.8 0.1 0.4 0.1 0.9 0.2 2.6 0.1 1.5 0.1 -4.4 0.2 -0.4 0.1 1.8 0.1 -3.0 0.1 -0.7 0.1 3.8 0.2 -2.2 0.1 4.5 0.1 -5.2 0.2 5.3 0.1 -0.5 0.1 -3.2 0.1 1.1 0.1 -6.1 0.2 6.2 0.1 -0.4 0.1 -1.8 0.2 4.6 0.1 -7.9 0.1 6.6 0.1 -1.3 0.1 0.4 0.2 -3.5 0.1 4.6 0.1 -2.6 0.2 1.4 0.1 1.6 0.1 -3.7 0.1 -4.1 0.1 6.8 0.2 -0.3 0.1 -1.1 0.1 -1.0 0.2 -0.6 0.1 2.1 0.1 1.1 0.1 -2.2 0.1 3.9 0.2 -3.2 0.1 1.9 0.1 -1.8 0.2 0.2 0.1 2.0 0.1 -0.9 0.1 1.0 0.1 -0.1 0.2 -2.1 0.1 1.8 0.1 -0.4 0.2 0.0 0.1 0.6 0.1 -1.6 0.1 0.1 0.1 0.7 0.2 -2.9 0.1 4.0 0.1 0.4 0.2 -6.4 0.1 5.8 0.1 -3.4 0.1 -0.4 0.1 3.0 0.2 -3.3 0.1 2.5 0.1 -1.8 0.2 -1.1 0.1 6.5 0.1 -5.5 0.1 -0.9 0.1 1.8 0.2 4.7 0.1 -7.2 0.1 5.8 0.2 -4.3 0.1 1.7 0.1 -0.9 0.1 2.3 0.1 -3.8 0.2 5.7 0.1 -4.7 0.1 -2.0 0.2 3.5 0.1 1.5 0.1 -0.2 0.1 0.6 0.1 -2.6 0.2 3.5 0.1 -1.4 0.1 -3.9 0.2 1.1 0.1 -0.6 0.1 1.1 0.1 1.3 0.1 -1.3 0.2 0.9 0.1 2.1 0.1 0.4 0.2 1.3 0.1 -9.9 0.1 5.3 0.1 -0.2 0.1 0.4 0.2 -0.7 0.1 -0.2 0.1 3.2 0.2 0.8 0.1 -5.3 0.1 3.9 0.1 -6.1 0.1 6.0 0.2 2.6 0.1 -1.5 0.1 -3.8 0.2 0.0 0.1 1.3 0.1 3.5 0.1 -2.0 0.1 -0.3 0.2 0.7 0.1 -3.4 0.1 -2.3 0.2 3.4 0.1 0.1 0.1 1.7 0.1 -0.6 0.1 6.7 0.2 -7.9 0.1 -0.3 0.1 4.2 0.2 -2.8 0.1 4.1 0.1 -0.1 0.1 -2.3 0.1 -0.2 0.2 -5.0 0.1 6.3 0.1 -2.4 0.2 1.1 0.1 0.8 0.1 -1.7 0.1 -2.3 0.1 1.0 0.2 -1.2 0.1 4.0 0.1 -2.3 0.2 -0.1 0.1 -1.3 0.1 0.7 0.1 -2.2 0.1 2.8 0.2 -2.5 0.1 3.1 0.1 -1.0 0.2 1.5 0.1 1.4 0.1 -1.3 0.1 -0.8 0.1 1.5 0.2 -3.1 0.1 0.9 0.1 0.9 0.2 -4.0 0.1 1.6 0.1 6.0 0.1 -3.9 0.1 0.1 0.2 1.0 0.1 -1.6 0.1 -0.4 0.2 0.4 0.1 3.1 0.1 1.3 0.1 -4.8 0.1 0.7 0.2 0.9 0.1 -3.6 0.1 2.5 0.2 2.2 0.1 0.3 0.1 2.8 0.1 -5.9 0.1 0.7 0.2 1.8 0.1 -1.3 0.1 1.8 0.2 -2.3 0.1 -3.6 0.1 2.0 0.1 -1.8 0.1 4.0 0.2 2.4 0.1 -1.6 0.1 -2.3 0.2 -3.3 0.1 4.2 0.1 -1.5 0.1 0.1 0.1 1.5 0.2 5.2 0.1 -5.8 0.1 -0.6 0.2 -1.6 0.1 5.0 0.1 -4.1 0.1 -2.2 0.1 3.0 0.2 1.6 0.1 -3.3 0.1 2.4 0.2 -3.5 0.1 6.2 0.1 -5.1 0.1 2.6 0.1 -1.8 0.2 0.9 0.1 1.8 0.1 -2.1 0.2 0.9 0.1 2.7 0.1 3.0 0.1 -3.7 0.1 -1.6 0.2 0.6 0.1 -3.1 0.1 0.5 0.2 0.1 0.1 3.3 0.1 -1.2 0.1 -0.7 0.1 5.7 0.2 -5.3 0.1 1.8 0.1 -0.8 0.2 -0.8 0.1 1.0 0.1 -4.2 0.1 3.6 0.1 2.0 0.2 1.3 0.1 -4.3 0.1 3.2 0.2 -1.4 0.1 -2.7 0.1 -2.5 0.1 4.3 0.1 -1.9 0.2 4.0 0.1 -1.6 0.1 -4.1 0.2 2.1 0.1 1.8 0.1 2.0 0.1 -8.3 0.1 6.6 0.2 -3.9 0.1 2.4 0.1 -1.3 0.2 4.0 0.1 -1.2 0.1 3.2 0.1 -1.1 0.1 -4.3 0.2 -3.2 0.1 4.3 0.1 -0.8 0.2 1.2 0.1 -2.0 0.1 0.1 0.1 3.1 0.1 -1.0 0.2 -1.9 0.1 2.6 0.1 -2.8 0.2 2.0 0.1 1.9 0.1 -3.2 0.1 -1.9 0.1 3.2 0.2 -1.2 0.1 4.8 0.1 -4.1 0.2 -1.0 0.1 -1.2 0.1 -2.4 0.1 3.0 0.1 1.8 0.2 -2.1 0.1 3.1 0.1 0.9 0.2 -0.5 0.1 -3.0 0.1 -0.3 0.1 3.5 0.1 -3.3 0.2 0.1 0.1 0.1 0.1 4.0 0.2 -7.1 0.1 6.5 0.1 -0.4 0.1 1.7 0.1 -2.3 0.2 4.0 0.1 -3.2 0.1 -3.6 0.2 -1.2 0.1 3.1 0.1 0.8 0.1 -0.4 0.1 1.5 0.2 0.2 0.1 -8.0 0.1 5.3 0.2 0.0 0.1 1.3 0.1 -3.0 0.1 4.3 0.1 -2.3 0.2 2.9 0.1 -4.2 0.1 1.2 0.2 -2.6 0.1 0.8 0.1 1.4 0.1 -0.5 0.1 2.0 0.2 0.4 0.1 -1.0 0.1 0.0 0.2 -2.5 0.1 1.3 0.1 0.3 0.1 -1.2 0.1 3.4 0.2 -0.3 0.1 -2.8 0.1 0.8 0.2 0.8 0.1 0.2 0.1 2.9 0.1 -3.7 0.1 -0.8 0.2 2.2 0.1 0.6 0.1 1.2 0.2 -4.8 0.1 1.4 0.1 0.9 0.1 -0.3 0.1 -3.9 0.2 4.1 0.1 2.3 0.1 -1.7 0.2 -1.5 0.1 -1.8 0.1 0.2 0.1 2.1 0.1 -1.4 0.2 0.2 0.1 -1.8 0.1 4.5 0.2 0.8 0.1 -2.1 0.1 1.3 0.1 -1.1 0.1 3.2 0.2 -3.8 0.1 0.1 0.1 -2.6 0.2 2.4 0.1 -0.7 0.1 -0.2 0.1 4.3 0.1 -1.6 0.2 0.5 0.1 -1.7 0.1 -2.8 0.2 2.1 0.1 2.2 0.1 -3.9 0.1 1.6 0.1 0.4 0.2 2.3 0.1 -2.1 0.1 1.7 0.2 -0.1 0.1 -1.8 0.1 1.0 0.1 -3.2 0.1 1.7 0.2 2.2 0.1 -0.3 0.1 -0.1 0.2 -0.7 0.1 1.7 0.1 -0.5 0.1 -1.4 0.1 -3.8 0.2 10.1 0.1 -1.5 0.1 -6.6 0.2 5.2 0.1 -3.8 0.1 3.0 0.1 -4.5 0.1 1.8 0.2 -0.9 0.1 2.8 0.1 0.4 0.2 -1.6 0.1 -5.2 0.1 5.1 0.1 -2.5 0.1 5.6 0.2 -4.6 0.1 -3.7 0.1 4.3 0.2 -2.5 0.1 4.1 0.1 -3.4 0.1 3.7 0.1 -4.4 0.2 6.1 0.1 -2.7 0.1 1.7 0.2 -2.2 0.1 4.8 0.1 -5.0 0.1 1.9 0.1 -1.7 0.2 2.9 0.1 -6.0 0.1 -0.4 0.2 4.5 0.1 -2.7 0.1 -0.5 0.1 3.2 0.1 -1.1 0.2 -5.4 0.1 5.5 0.1 -1.5 0.2 -1.3 0.1 3.8 0.1 -0.5 0.1 1.7 0.1 -4.3 0.2 -0.9" fill="none" stroke="#167d3c" stroke-width="1.0" stroke-linejoin="round" />
<path d="M915.0 338.6l0.1 -0.2 0.1 1.8 0.2 -0.9 0.1 -5.5 0.1 0.5 0.2 2.0 0.1 1.8 0.1 1.0 0.1 -2.1 0.1 2.3 0.2 -2.9 0.1 4.5 0.1 -3.4 0.2 0.0 0.1 0.1 0.1 1.2 0.1 3.3 0.1 -2.9 0.2 1.7 0.1 -3.8 0.1 3.1 0.2 0.2 0.1 0.3 0.1 -4.5 0.1 0.1 0.1 2.2 0.2 1.4 0.1 -3.0 0.1 2.4 0.2 3.1 0.1 -8.1 0.1 1.5 0.1 2.2 0.1 1.5 0.2 -1.0 0.1 1.3 0.1 2.0 0.2 -4.3 0.1 -0.9 0.1 4.9 0.1 -6.9 0.1 5.7 0.2 1.1 0.1 -2.2 0.1 -1.8 0.2 1.7 0.1 -1.6 0.1 5.9 0.1 -2.9 0.1 -1.2 0.2 0.8 0.1 0.1 0.1 0.9 0.2 -1.9 0.1 -2.6 0.1 1.0 0.1 -1.7 0.1 -0.7 0.2 3.8 0.1 -1.7 0.1 1.0 0.2 2.0 0.1 0.8 0.1 -1.7 0.1 -1.4 0.1 2.7 0.2 -3.2 0.1 5.3 0.1 -4.4 0.2 3.5 0.1 -4.8 0.1 4.1 0.1 -0.8 0.1 -1.3 0.2 2.5 0.1 -1.5 0.1 -1.2 0.2 -0.6 0.1 1.2 0.1 -0.7 0.1 -2.1 0.1 0.2 0.2 1.2 0.1 -2.2 0.1 -1.6 0.2 6.4 0.1 -3.0 0.1 6.4 0.1 -4.8 0.1 1.0 0.2 -0.4 0.1 -1.8 0.1 -1.0 0.2 -2.6 0.1 1.3 0.1 -0.4 0.1 0.0 0.1 -0.2 0.2 3.8 0.1 -5.0 0.1 7.8 0.2 -5.6 0.1 2.7 0.1 -0.2 0.1 0.4 0.1 -1.1 0.2 0.0 0.1 0.9 0.1 1.8 0.2 -0.3 0.1 -1.2 0.1 -3.7 0.1 1.3 0.1 2.1 0.2 2.4 0.1 0.5 0.1 -4.7 0.2 2.1 0.1 -2.1 0.1 -0.7 0.1 2.4 0.1 1.2 0.2 -0.7 0.1 -5.8 0.1 7.8 0.2 -7.4 0.1 7.0 0.1 0.9 0.1 3.9 0.1 -10.4 0.2 2.1 0.1 1.3 0.1 0.7 0.2 -2.2 0.1 3.5 0.1 -3.5 0.1 1.1 0.1 0.0 0.2 1.9 0.1 -0.4 0.1 -4.6 0.2 5.4 0.1 -4.3 0.1 0.1 0.1 0.4 0.1 1.1 0.2 1.9 0.1 -0.2 0.1 -4.8 0.2 3.1 0.1 2.7 0.1 -0.2 0.1 -1.6 0.1 -2.0 0.2 3.0 0.1 -2.0 0.1 -2.6 0.2 -2.5 0.1 6.9 0.1 1.7 0.1 1.7 0.1 -1.5 0.2 -2.0 0.1 -1.3 0.1 0.7 0.2 1.1 0.1 -4.1 0.1 3.0 0.1 -1.1 0.1 2.5 0.2 -0.1 0.1 -6.2 0.1 1.1 0.2 3.5 0.1 1.2 0.1 -3.0 0.1 2.2 0.1 -0.3 0.2 -1.2 0.1 -0.3 0.1 2.1 0.2 1.8 0.1 -3.9 0.1 2.7 0.1 -0.6 0.1 -1.8 0.2 -0.2 0.1 -1.0 0.1 2.2 0.2 0.7 0.1 -2.1 0.1 -3.6 0.1 4.2 0.1 -0.5 0.2 -0.5 0.1 3.5 0.1 -4.2 0.2 1.2 0.1 1.2 0.1 3.0 0.1 -5.7 0.1 2.9 0.2 -4.7 0.1 2.6 0.1 0.8 0.2 -2.3 0.1 4.1 0.1 -0.6 0.1 -2.3 0.1 2.1 0.2 -1.7 0.1 1.1 0.1 0.3 0.2 3.7 0.1 -5.1 0.1 3.2 0.1 1.3 0.1 -2.3 0.2 1.3 0.1 3.2 0.1 -7.0 0.2 -0.1 0.1 3.7 0.1 -1.4 0.1 3.3 0.1 -4.8 0.2 1.4 0.1 1.2 0.1 -6.3 0.2 8.0 0.1 -3.0 0.1 -2.1 0.1 0.7 0.1 0.2 0.2 4.0 0.1 -5.1 0.1 4.9 0.2 -4.3 0.1 2.5 0.1 -1.7 0.1 0.9 0.1 2.2 0.2 -2.5 0.1 -1.2 0.1 3.4 0.2 2.3 0.1 -5.0 0.1 -0.2 0.1 -0.5 0.1 -1.7 0.2 1.6 0.1 2.6 0.1 -2.2 0.2 2.1 0.1 -0.3 0.1 0.9 0.1 2.0 0.1 -3.6 0.2 -3.0 0.1 3.5 0.1 0.6 0.2 2.6 0.1 -4.0 0.1 -1.6 0.1 -0.4 0.1 3.4 0.2 -1.8 0.1 2.7 0.1 0.8 0.2 -3.0 0.1 1.3 0.1 -1.1 0.1 1.4 0.1 -4.2 0.2 1.3 0.1 5.6 0.1 -7.1 0.2 0.8 0.1 3.4 0.1 -3.6 0.1 1.1 0.1 -1.1 0.2 5.4 0.1 -3.7 0.1 3.9 0.2 -3.1 0.1 -4.2 0.1 4.1 0.1 -4.5 0.1 6.2 0.2 -7.2 0.1 7.2 0.1 -1.2 0.2 2.2 0.1 -2.2 0.1 -0.3 0.1 -1.3 0.1 -0.5 0.2 -0.2 0.1 1.0 0.1 0.3 0.2 5.7 0.1 -4.4 0.1 -3.0 0.1 4.9 0.1 -2.8 0.2 -1.9 0.1 1.8 0.1 -1.7 0.2 2.7 0.1 -1.8 0.1 3.0 0.1 -5.2 0.1 3.2 0.2 -3.6 0.1 7.1 0.1 -6.7 0.2 7.3 0.1 -4.8 0.1 3.0 0.1 -4.0 0.1 1.1 0.2 3.8 0.1 -6.2 0.1 4.2 0.2 -4.9 0.1 8.4 0.1 -2.2 0.1 -6.5 0.1 3.4 0.2 3.2 0.1 2.7 0.1 -5.3 0.2 -4.1 0.1 7.2 0.1 -4.5 0.1 1.8 0.1 -1.1 0.2 -2.2 0.1 -2.1 0.1 8.5 0.2 -3.6 0.1 -0.6 0.1 -1.6 0.1 2.1 0.1 -3.3 0.2 0.0 0.1 -0.4 0.1 0.1 0.2 4.1 0.1 -4.1 0.1 7.8 0.1 -4.6 0.1 -0.8 0.2 0.6 0.1 4.2 0.1 -8.7 0.2 5.4 0.1 4.2 0.1 -1.6 0.1 -1.7 0.1 -1.8 0.2 6.2 0.1 -6.5 0.1 5.4 0.2 -6.6 0.1 -1.4 0.1 3.6 0.1 -1.0 0.1 -4.6 0.2 5.5 0.1 5.8 0.1 -6.1 0.2 1.3 0.1 -1.1 0.1 0.0 0.1 0.6 0.1 -0.3 0.2 -0.4 0.1 0.8 0.1 0.2 0.2 -0.6 0.1 -3.9 0.1 1.5 0.1 -0.8 0.1 2.1 0.2 4.1 0.1 -2.9 0.1 -1.6 0.2 5.6 0.1 -2.8 0.1 -3.5 0.1 2.5 0.1 1.1 0.2 -0.3 0.1 -3.7 0.1 1.9 0.2 -2.0 0.1 -1.4 0.1 4.3 0.1 -5.7 0.1 4.3 0.2 2.8 0.1 -0.8 0.1 -1.4 0.2 1.1 0.1 -0.4 0.1 2.7 0.1 -1.8 0.1 0.3 0.2 -3.3 0.1 1.2 0.1 -0.9 0.2 3.5 0.1 -0.4 0.1 -1.7 0.1 1.7 0.1 -1.8 0.2 -0.6 0.1 1.7 0.1 -0.5 0.2 4.8 0.1 -8.2 0.1 5.2 0.1 -4.4 0.1 3.9 0.2 -4.2 0.1 -1.7 0.1 7.3 0.2 -4.1 0.1 4.1 0.1 -5.3 0.1 0.0 0.1 4.8 0.2 -4.1 0.1 1.6 0.1 -2.1 0.2 1.6 0.1 -4.3 0.1 4.2 0.1 0.5 0.1 2.3 0.2 -0.1 0.1 -2.7 0.1 0.2 0.2 -0.4 0.1 5.1 0.1 -6.4 0.1 3.6 0.1 -1.5 0.2 -3.2 0.1 4.2 0.1 1.5 0.2 -1.8 0.1 -3.4 0.1 4.0 0.1 0.1 0.1 -2.5 0.2 3.1 0.1 -5.7 0.1 0.9 0.2 2.0 0.1 0.8 0.1 2.0 0.1 0.1 0.1 -3.9 0.2 4.2 0.1 1.3 0.1 -1.6 0.2 -2.3 0.1 -0.5 0.1 -1.5 0.1 -2.7 0.1 2.7 0.2 -1.3 0.1 3.9 0.1 0.1 0.2 0.8 0.1 0.0 0.1 0.4 0.1 -2.4 0.1 0.3 0.2 1.5 0.1 2.1 0.1 -7.6 0.2 1.3 0.1 1.8 0.1 -1.7 0.1 1.1 0.1 1.3 0.2 -1.7 0.1 3.7 0.1 -0.2 0.2 0.1 0.1 -0.7 0.1 0.7 0.1 -8.4 0.1 8.8 0.2 -3.8 0.1 7.1 0.1 -6.4 0.2 2.4 0.1 -4.1 0.1 0.7 0.1 3.3 0.1 0.4 0.2 2.6 0.1 -1.7 0.1 0.8 0.2 1.5 0.1 -8.1 0.1 6.7 0.1 -5.4 0.1 2.4 0.2 -1.1 0.1 2.4 0.1 0.0 0.2 -0.5 0.1 -2.2 0.1 -3.2 0.1 4.3 0.1 -0.1 0.2 0.3 0.1 1.4 0.1 3.2 0.2 -1.8 0.1 -1.6 0.1 -2.2 0.1 -1.7 0.1 6.2 0.2 -1.9 0.1 -1.5 0.1 -3.6 0.2 2.7 0.1 2.2 0.1 -0.6 0.1 -1.9 0.1 1.5 0.2 -1.0 0.1 -0.4 0.1 3.9 0.2 -1.7 0.1 -1.1 0.1 -1.7 0.1 4.2 0.1 -6.2 0.2 3.7 0.1 -2.9 0.1 -2.3 0.2 3.9 0.1 -3.5 0.1 4.0 0.1 -2.5 0.1 3.2 0.2 -1.2 0.1 -2.4 0.1 2.5 0.2 -0.7 0.1 5.1 0.1 -0.2 0.1 -1.6 0.1 0.1 0.2 3.3 0.1 -4.9 0.1 -0.1 0.2 3.3 0.1 -2.1 0.1 -3.4 0.1 5.8 0.1 -3.0 0.2 2.8 0.1 0.2 0.1 -4.7 0.2 0.8 0.1 1.1 0.1 -4.2 0.1 0.7 0.1 2.7 0.2 -0.4 0.1 -2.0 0.1 1.9 0.2 1.2 0.1 -2.5 0.1 -0.3 0.1 1.4 0.1 -2.2 0.2 0.5 0.1 1.1 0.1 -3.6 0.2 3.1 0.1 1.8 0.1 -2.9 0.1 5.1 0.1 -1.8 0.2 2.4 0.1 -3.2 0.1 1.7 0.2 -1.6 0.1 -2.4 0.1 3.7 0.1 -3.1 0.1 2.9 0.2 -3.5 0.1 2.4 0.1 -0.5 0.2 3.7 0.1 -3.3 0.1 3.4 0.1 -1.4 0.1 2.2 0.2 -4.5 0.1 2.9 0.1 -0.2 0.2 -0.6 0.1 -1.1 0.1 2.7 0.1 -6.4 0.1 5.0 0.2 -2.9 0.1 2.5 0.1 0.8 0.2 -1.2 0.1 -1.5 0.1 -1.7 0.1 -1.3 0.1 1.7 0.2 2.7 0.1 -4.4 0.1 9.4 0.2 -5.9 0.1 -1.6 0.1 4.1 0.1 0.1 0.1 -1.6 0.2 -2.7 0.1 1.9 0.1 2.5 0.2 -1.0 0.1 -6.3 0.1 6.5 0.1 2.2 0.1 -5.4 0.2 -2.8 0.1 2.4 0.1 1.8 0.2 -0.8 0.1 0.0 0.1 -6.5 0.1 5.5 0.1 0.1 0.2 1.5 0.1 2.7 0.1 -4.5 0.2 4.3 0.1 0.5 0.1 -0.9 0.1 -3.4 0.1 4.4 0.2 -4.0 0.1 0.5 0.1 -3.1 0.2 1.1 0.1 0.0 0.1 5.2 0.1 -2.4 0.1 -0.1 0.2 -1.4 0.1 -0.1 0.1 -1.3 0.2 1.4 0.1 3.8 0.1 -3.7 0.1 5.1 0.1 -3.4 0.2 -2.0 0.1 3.9 0.1 -2.9 0.2 2.6 0.1 -3.5 0.1 4.5 0.1 -2.3 0.1 -0.4 0.2 1.8 0.1 -3.3 0.1 -3.6 0.2 2.8 0.1 3.9 0.1 1.2 0.1 -6.8 0.1 4.2 0.2 0.2 0.1 -4.6 0.1 -0.9 0.2 7.9 0.1 -3.2 0.1 -1.8 0.1 2.0 0.1 -5.1 0.2 4.7 0.1 -1.1 0.1 -0.4 0.2 3.5 0.1 -2.4 0.1 0.2 0.1 -1.2 0.1 -0.8 0.2 1.6 0.1 3.6 0.1 -8.0 0.2 1.9 0.1 1.0 0.1 2.8 0.1 -3.0 0.1 3.1 0.2 -6.2 0.1 2.5 0.1 4.1 0.2 -7.1 0.1 6.1 0.1 2.5 0.1 -1.5 0.1 0.0 0.2 -3.9 0.1 0.5 0.1 3.4 0.2 -1.8 0.1 3.3 0.1 -3.0 0.1 -0.5 0.1 -0.2 0.2 3.3 0.1 -1.1 0.1 -3.4 0.2 2.6 0.1 -3.3 0.1 4.4 0.1 -2.6 0.1 4.1 0.2 0.2 0.1 -1.4 0.1 -5.4 0.2 2.4 0.1 2.0 0.1 -0.2 0.1 0.0 0.1 1.2 0.2 -4.2 0.1 -1.3 0.1 -0.4 0.2 5.9 0.1 -0.4 0.1 -3.1 0.1 1.0 0.1 3.1 0.2 -3.8 0.1 2.3 0.1 0.1 0.2 -1.3 0.1 1.4 0.1 0.8 0.1 -3.6 0.1 -3.0 0.2 3.5 0.1 -3.2 0.1 -0.5 0.2 5.8 0.1 -3.8 0.1 1.3 0.1 1.6 0.1 -2.6 0.2 3.5 0.1 2.9 0.1 -6.6 0.2 1.8 0.1 -6.1 0.1 3.9 0.1 6.1 0.1 -4.2 0.2 -0.9 0.1 2.2 0.1 -1.9 0.2 4.1 0.1 -3.8 0.1 -1.3 0.1 0.9 0.1 -5.4 0.2 7.4 0.1 0.4 0.1 -5.4 0.2 -1.9 0.1 5.1 0.1 1.8 0.1 2.9 0.1 -5.9 0.2 -0.1 0.1 1.6 0.1 3.1 0.2 -5.2 0.1 1.4 0.1 -0.7 0.1 4.1 0.1 1.5 0.2 1.5 0.1 -1.0 0.1 -1.7 0.2 -3.6 0.1 2.2 0.1 1.6 0.1 -1.3 0.1 -4.0 0.2 1.3 0.1 -0.3 0.1 3.4 0.2 -1.6 0.1 -1.5 0.1 2.7 0.1 -0.6 0.1 -2.4 0.2 4.1 0.1 -2.3 0.1 -0.6 0.2 -1.9 0.1 2.6 0.1 0.9 0.1 -6.5 0.1 3.5 0.2 0.9 0.1 1.8 0.1 -4.2 0.2 7.7 0.1 -5.3 0.1 -1.3 0.1 1.7 0.1 2.4 0.2 -2.0 0.1 -1.6 0.1 2.3 0.2 0.2 0.1 -0.4 0.1 -2.7 0.1 3.0 0.1 8.7 0.2 -10.0 0.1 1.1 0.1 -5.4 0.2 5.1 0.1 0.8 0.1 -1.9 0.1 0.4 0.1 -2.3 0.2 4.1 0.1 -2.0 0.1 -2.8 0.2 2.0 0.1 1.5 0.1 -0.1 0.1 5.6 0.1 -6.1 0.2 0.5 0.1 -2.3 0.1 3.2 0.2 -3.5 0.1 3.1 0.1 -2.7 0.1 -0.3 0.1 0.1 0.2 6.7 0.1 -7.5 0.1 5.1 0.2 -2.2 0.1 -3.0 0.1 2.4 0.1 -1.0 0.1 2.7 0.2 2.0 0.1 2.1 0.1 -5.8 0.2 -0.1 0.1 -0.2 0.1 1.6 0.1 -1.9 0.1 5.9 0.2 -4.5 0.1 -0.4 0.1 -6.7 0.2 7.5 0.1 -2.8 0.1 7.9 0.1 -4.2 0.1 -2.5 0.2 2.1 0.1 3.4 0.1 -3.6 0.2 1.1 0.1 -6.2 0.1 2.5 0.1 -1.1 0.1 3.8 0.2 -4.5 0.1 -0.6 0.1 3.1 0.2 0.6 0.1 1.8 0.1 2.5 0.1 -0.7 0.1 -2.7 0.2 0.1 0.1 -5.0 0.1 7.1 0.2 -4.9 0.1 1.0 0.1 0.9 0.1 -2.3 0.1 1.8 0.2 2.9 0.1 1.0 0.1 1.2 0.2 -2.5 0.1 -3.3 0.1 2.3 0.1 -3.5 0.1 -3.2 0.2 7.0 0.1 -2.4 0.1 0.0 0.2 -1.3 0.1 7.2 0.1 -4.2 0.1 2.7 0.1 -3.0 0.2 0.1 0.1 -0.2 0.1 3.1 0.2 -7.9 0.1 4.0 0.1 -0.8 0.1 2.7 0.1 -2.2 0.2 1.6 0.1 -1.5 0.1 -0.9 0.2 2.8 0.1 1.0 0.1 -2.0 0.1 -4.1 0.1 1.4 0.2 3.7 0.1 -2.7 0.1 2.8 0.2 -1.7 0.1 3.5 0.1 -5.7 0.1 3.1 0.1 1.5 0.2 -0.8 0.1 -4.4 0.1 1.0 0.2 0.9 0.1 -1.8 0.1 1.5 0.1 -0.2 0.1 0.4 0.2 0.0 0.1 -0.9 0.1 3.8 0.2 0.6 0.1 -2.9 0.1 3.4 0.1 -0.1 0.1 -3.7 0.2 5.2 0.1 -0.5 0.1 -1.4 0.2 -3.1 0.1 1.5 0.1 -2.4 0.1 2.8 0.1 -2.6 0.2 -2.1 0.1 0.0 0.1 1.5 0.2 -0.7 0.1 3.5 0.1 0.7 0.1 -1.4 0.1 -1.1 0.2 0.4 0.1 -0.6 0.1 -0.9 0.2 3.0 0.1 -2.7 0.1 2.7 0.1 -3.7 0.1 -0.4 0.2 3.8 0.1 6.0 0.1 -6.4 0.2 -2.1 0.1 5.3 0.1 -3.5 0.1 -1.0 0.1 -2.1 0.2 4.5 0.1 -2.9 0.1 -1.0 0.2 1.1 0.1 3.3 0.1 -0.7 0.1 -4.5 0.1 -2.0 0.2 8.6 0.1 -3.5 0.1 4.6 0.2 -4.0 0.1 0.2 0.1 -1.2 0.1 0.2 0.1 0.6 0.2 -0.4 0.1 3.6 0.1 -4.4 0.2 -0.4 0.1 3.5 0.1 -5.0 0.1 1.6 0.1 0.8 0.2 -3.7 0.1 4.7 0.1 -1.1 0.2 2.3 0.1 -1.4 0.1 -3.7 0.1 -0.7 0.1 1.3 0.2 1.0 0.1 0.1 0.1 -0.2 0.2 2.0 0.1 -4.0 0.1 1.6 0.1 5.0 0.1 -3.8 0.2 0.0 0.1 1.7 0.1 -4.8 0.2 3.7 0.1 -1.1 0.1 -1.6 0.1 2.2 0.1 2.9 0.2 -2.7 0.1 -1.0 0.1 4.2 0.2 -2.3 0.1 3.4 0.1 -1.4 0.1 -2.6 0.1 -1.7 0.2 0.9 0.1 3.5 0.1 -5.5 0.2 8.8 0.1 -11.7 0.1 7.0 0.1 1.4 0.1 -4.8 0.2 -3.2 0.1 4.0 0.1 0.4 0.2 3.2 0.1 -2.1 0.1 0.6 0.1 -0.9 0.1 3.9 0.2 -4.7 0.1 0.7 0.1 0.9 0.2 6.0 0.1 -14.5 0.1 2.1 0.1 3.8 0.1 -0.8 0.2 2.0 0.1 1.9 0.1 -0.3 0.2 -2.3 0.1 -1.2 0.1 1.2 0.1 -1.3 0.1 6.7 0.2 -1.6 0.1 -3.0 0.1 2.2 0.2 -2.8 0.1 1.1 0.1 0.3 0.1 -3.3 0.1 2.6 0.2 -1.7 0.1 2.5 0.1 -3.8 0.2 1.0 0.1 2.7 0.1 2.3 0.1 -2.2 0.1 -0.4 0.2 -4.4 0.1 2.0 0.1 1.6 0.2 -0.5 0.1 0.5 0.1 2.6 0.1 0.6 0.1 -4.6 0.2 -0.8 0.1 -1.9 0.1 4.2 0.2 1.3 0.1 1.6 0.1 -4.9 0.1 0.5 0.1 -1.0 0.2 7.4 0.1 -1.3 0.1 -5.0 0.2 1.8 0.1 -2.3 0.1 1.1 0.1 6.4 0.1 -5.8 0.2 0.2 0.1 0.4 0.1 -3.3 0.2 -0.8 0.1 -1.2 0.1 7.2 0.1 -4.4 0.1 0.4 0.2 3.8 0.1 -4.9 0.1 1.4 0.2 -1.1 0.1 2.7 0.1 -1.7 0.1 -3.5 0.1 6.6 0.2 0.9 0.1 -2.2 0.1 -1.4 0.2 0.5 0.1 -2.6 0.1 1.9 0.1 3.3 0.1 -1.9 0.2 -4.1 0.1 -0.1 0.1 2.5 0.2 3.8 0.1 -1.9 0.1 -1.0 0.1 2.3 0.1 -3.7 0.2 2.8 0.1 -1.6 0.1 -2.0 0.2 3.9 0.1 -4.6 0.1 2.9 0.1 2.4 0.1 -5.5 0.2 6.1 0.1 0.3 0.1 -1.4 0.2 -2.5 0.1 0.0 0.1 0.0 0.1 0.5 0.1 -2.3 0.2 3.0 0.1 2.7 0.1 -6.8 0.2 7.2 0.1 -6.6 0.1 0.6 0.1 1.1 0.1 1.0 0.2 0.6 0.1 3.5 0.1 -2.6 0.2 1.5 0.1 -4.1 0.1 2.2 0.1 -5.4 0.1 1.4 0.2 8.5 0.1 -6.0 0.1 1.6 0.2 0.5 0.1 -0.5 0.1 -5.1 0.1 3.7 0.1 5.0 0.2 -3.0 0.1 -3.5 0.1 1.1 0.2 -1.1 0.1 1.7 0.1 -0.2 0.1 -0.4 0.1 -1.9 0.2 -2.7 0.1 5.3 0.1 -0.8 0.2 0.7 0.1 1.5 0.1 -3.1 0.1 3.6 0.1 -3.0 0.2 2.8 0.1 -0.7 0.1 -3.5 0.2 4.3 0.1 -1.1 0.1 -0.9 0.1 -0.5 0.1 0.3 0.2 -1.9 0.1 -1.1 0.1 2.8 0.2 2.1 0.1 -2.5 0.1 1.9 0.1 -5.5 0.1 7.4 0.2 -3.4 0.1 -1.3 0.1 0.7 0.2 0.7 0.1 -0.7 0.1 0.7 0.1 -3.9 0.1 4.5 0.2 -1.8 0.1 -2.1 0.1 4.6 0.2 -1.9 0.1 3.7 0.1 -5.2 0.1 4.8 0.1 -1.8 0.2 -3.1 0.1 4.0 0.1 -0.9 0.2 0.9 0.1 -3.8 0.1 -4.6 0.1 4.6 0.1 1.1 0.2 1.8 0.1 0.6 0.1 0.3 0.2 -1.5 0.1 -0.8 0.1 -1.3 0.1 2.3 0.1 -2.4 0.2 1.5 0.1 -1.6 0.1 2.5 0.2 -2.7 0.1 -0.7 0.1 0.2 0.1 2.5 0.1 -2.6 0.2 4.1 0.1 -5.4 0.1 2.9 0.2 -1.6 0.1 -2.2 0.1 2.6 0.1 1.2 0.1 0.6 0.2 -2.1 0.1 -1.8 0.1 0.9 0.2 0.4 0.1 5.8 0.1 -7.3 0.1 2.7 0.1 5.6 0.2 -7.8 0.1 6.4 0.1 -0.7 0.2 -1.6 0.1 -0.9 0.1 -5.5 0.1 3.9 0.1 -0.4 0.2 3.5 0.1 -0.2 0.1 -5.4 0.2 -2.9 0.1 4.0 0.1 6.6 0.1 -4.4 0.1 -0.3 0.2 1.5 0.1 -2.5 0.1 1.4 0.2 -2.9 0.1 0.1 0.1 3.1 0.1 -0.7 0.1 1.3 0.2 -1.4 0.1 2.2 0.1 -1.4 0.2 -0.3 0.1 1.7 0.1 -2.3 0.1 -2.8 0.1 0.8 0.2 1.6 0.1 3.0 0.1 -3.9 0.2 0.4 0.1 3.5 0.1 0.4 0.1 -6.8 0.1 0.6 0.2 2.3 0.1 0.5 0.1 -1.7 0.2 -2.2 0.1 8.7 0.1 -4.3 0.1 2.5 0.1 -1.7 0.2 -0.6 0.1 -5.4 0.1 5.1 0.2 -0.2 0.1 0.0 0.1 -2.2 0.1 -1.4 0.1 2.9 0.2 1.4 0.1 1.0 0.1 -1.9 0.2 -4.7 0.1 3.0 0.1 -0.7 0.1 -0.7 0.1 -1.3 0.2 4.2 0.1 -3.1 0.1 2.0 0.2 1.2 0.1 -3.2 0.1 1.3 0.1 -0.8 0.1 4.4 0.2 -4.5 0.1 -1.9 0.1 5.9 0.2 -8.1 0.1 9.0 0.1 -2.3 0.1 -0.3 0.1 0.0 0.2 -0.9 0.1 0.7 0.1 -7.2 0.2 4.9 0.1 -2.0 0.1 -1.8 0.1 1.7 0.1 2.3 0.2 1.5 0.1 -2.5 0.1 -0.4 0.2 5.6 0.1 -2.0 0.1 -3.7 0.1 0.1 0.1 2.3 0.2 1.7 0.1 -3.3 0.1 0.9 0.2 2.2 0.1 -6.0 0.1 3.8 0.1 -1.0 0.1 -2.0 0.2 2.8 0.1 1.4 0.1 -2.7 0.2 -0.4 0.1 4.4 0.1 -2.6 0.1 -2.4 0.1 2.8 0.2 0.9 0.1 -2.1 0.1 -4.0 0.2 2.9 0.1 -1.2 0.1 6.3 0.1 -5.4 0.1 5.9 0.2 -4.1 0.1 0.0 0.1 0.4 0.2 3.1 0.1 -6.4 0.1 1.5 0.1 0.1 0.1 1.4 0.2 -2.3 0.1 1.7 0.1 1.7 0.2 -3.0 0.1 3.9 0.1 -3.1 0.1 -0.4 0.1 1.9 0.2 -2.2 0.1 1.8 0.1 -2.5 0.2 -1.6 0.1 3.4 0.1 0.8 0.1 -2.0 0.1 2.1 0.2 -3.1 0.1 5.9 0.1 -5.5 0.2 1.9 0.1 -1.3 0.1 -0.2 0.1 -1.8 0.1 5.2 0.2 -3.7 0.1 -1.2 0.1 4.0 0.2 -0.1 0.1 -4.0 0.1 3.3 0.1 1.2 0.1 -2.2 0.2 -3.5 0.1 2.8 0.1 -1.5 0.2 -1.0 0.1 3.4 0.1 0.9 0.1 -7.0 0.1 4.1 0.2 -1.4 0.1 2.6 0.1 -2.4 0.2 -1.9 0.1 6.5 0.1 -3.5 0.1 3.5 0.1 -2.7 0.2 -2.7 0.1 -1.3 0.1 -0.2 0.2 2.5 0.1 0.9 0.1 2.6 0.1 -5.9 0.1 3.1 0.2 1.7 0.1 1.4 0.1 -0.9 0.2 -0.9 0.1 0.1 0.1 -4.7 0.1 3.1 0.1 -3.2 0.2 7.8 0.1 -2.7 0.1 -2.7 0.2 -0.4 0.1 0.1 0.1 2.0 0.1 -2.1 0.1 0.4 0.2 -1.9 0.1 3.2 0.1 0.1 0.2 -4.0 0.1 3.8 0.1 -1.8 0.1 2.4 0.1 0.3 0.2 -3.4 0.1 2.6 0.1 1.2 0.2 -5.4 0.1 2.9 0.1 -2.6 0.1 3.6 0.1 -5.5 0.2 5.6 0.1 -3.0 0.1 2.3 0.2 3.3 0.1 -4.8 0.1 -2.2 0.1 -0.5 0.1 4.2 0.2 -4.8 0.1 -0.5 0.1 4.1 0.2 2.0 0.1 -2.4 0.1 3.6 0.1 -1.5 0.1 -1.0 0.2 -0.7 0.1 -0.1 0.1 0.2 0.2 1.4 0.1 -2.1 0.1 -3.9 0.1 -0.7 0.1 1.5 0.2 2.4 0.1 -3.6 0.1 3.0 0.2 1.1 0.1 1.9 0.1 -5.0 0.1 -0.3 0.1 -0.9 0.2 0.1 0.1 1.8 0.1 4.4 0.2 -11.0 0.1 7.3 0.1 0.5 0.1 2.5 0.1 -0.3 0.2 -2.3 0.1 -4.8 0.1 2.0 0.2 1.1 0.1 -0.8 0.1 3.7 0.1 -2.7 0.1 -1.4 0.2 2.4 0.1 1.9 0.1 -3.3 0.2 -1.1 0.1 0.6 0.1 2.0 0.1 0.5 0.1 -2.4 0.2 -0.4 0.1 3.4 0.1 3.4 0.2 1.0 0.1 -0.6 0.1 -7.0 0.1 1.8 0.1 -0.6 0.2 -1.0 0.1 -0.2 0.1 1.2 0.2 1.0 0.1 1.9 0.1 0.0 0.1 -3.8 0.1 -0.1 0.2 2.8 0.1 -0.6 0.1 -2.8 0.2 1.1 0.1 -4.4 0.1 4.7 0.1 -3.6 0.1 3.3 0.2 -7.5 0.1 6.6 0.1 -2.7 0.2 1.8 0.1 1.7 0.1 -1.8 0.1 5.2 0.1 -1.8 0.2 -3.5 0.1 4.7 0.1 -4.1 0.2 0.7 0.1 3.6 0.1 0.3 0.1 -4.5 0.1 1.6 0.2 -2.1 0.1 2.5 0.1 -2.9 0.2 3.3 0.1 -6.6 0.1 4.7 0.1 1.9 0.1 -2.3 0.2 -4.4 0.1 4.4 0.1 -3.0 0.2 1.5 0.1 1.4 0.1 3.8 0.1 -4.6 0.1 -2.5 0.2 6.6 0.1 -5.0 0.1 -0.9 0.2 0.9 0.1 0.0 0.1 3.8 0.1 -7.8 0.1 3.1 0.2 3.9 0.1 -1.4 0.1 -0.7 0.2 -4.3 0.1 6.3 0.1 -3.4 0.1 4.3 0.1 -8.6 0.2 6.1 0.1 0.4 0.1 2.4 0.2 -3.7 0.1 -1.9 0.1 2.0 0.1 -1.4 0.1 1.2 0.2 -4.9 0.1 4.7 0.1 0.3 0.2 -0.1 0.1 -0.6 0.1 4.1 0.1 0.3 0.1 -2.0 0.2 -2.1 0.1 3.1 0.1 -2.9 0.2 -1.3 0.1 -0.4 0.1 1.1 0.1 3.7 0.1 -0.3 0.2 -0.3 0.1 -2.0 0.1 -2.2 0.2 2.0 0.1 -0.8 0.1 -1.4 0.1 3.7 0.1 -6.2 0.2 0.3 0.1 0.4 0.1 1.6 0.2 1.3 0.1 2.2 0.1 0.3 0.1 -3.2 0.1 -0.6 0.2 1.3 0.1 2.0 0.1 -1.4 0.2 0.6 0.1 0.7 0.1 -1.1 0.1 -0.8 0.1 -4.8 0.2 3.5 0.1 -1.8 0.1 1.2 0.2 1.1 0.1 2.5 0.1 1.0 0.1 -4.1 0.1 3.3 0.2 0.3 0.1 -5.7 0.1 5.1 0.2 -1.0 0.1 -4.2 0.1 4.2 0.1 1.2 0.1 0.1 0.2 -2.8 0.1 3.0 0.1 0.8 0.2 -0.8 0.1 -4.8 0.1 5.4 0.1 -3.4 0.1 -0.1 0.2 4.0 0.1 0.3 0.1 0.0 0.2 -10.3 0.1 9.9 0.1 -8.1 0.1 6.3 0.1 -4.1 0.2 3.6 0.1 1.9 0.1 -0.1 0.2 -2.9 0.1 -5.4 0.1 4.5 0.1 0.0 0.1 1.2 0.2 2.1 0.1 -4.1 0.1 3.7 0.2 -3.7 0.1 0.6 0.1 2.4 0.1 1.0 0.1 0.4 0.2 -3.5 0.1 3.0 0.1 -4.0 0.2 7.7 0.1 -3.3 0.1 -1.4 0.1 -2.3 0.1 0.7 0.2 1.7 0.1 -1.9 0.1 1.9 0.2 -2.2 0.1 0.5 0.1 4.1 0.1 -4.6 0.1 1.2 0.2 -1.3 0.1 3.4 0.1 -3.6 0.2 1.5 0.1 0.8 0.1 -0.8 0.1 2.1 0.1 -0.7 0.2 -0.1 0.1 -1.5 0.1 0.8 0.2 -1.3 0.1 0.2 0.1 -0.6 0.1 5.8 0.1 -1.2 0.2 -4.5 0.1 2.4 0.1 2.2 0.2 -2.3 0.1 4.2 0.1 -6.6 0.1 2.9 0.1 -5.4 0.2 7.7 0.1 -4.6 0.1 2.0 0.2 1.7 0.1 -2.7 0.1 -0.8 0.1 -0.4 0.1 4.9 0.2 0.6 0.1 -4.8 0.1 4.4 0.2 -4.5 0.1 -3.8 0.1 3.7 0.1 -0.3 0.1 2.5 0.2 0.2 0.1 -2.8 0.1 0.0 0.2 1.2 0.1 -5.4 0.1 6.7 0.1 0.6 0.1 -2.4 0.2 -3.6 0.1 2.7 0.1 -1.9 0.2 0.1 0.1 5.0 0.1 -4.7 0.1 -1.3 0.1 2.8 0.2 -5.1 0.1 6.9 0.1 -3.5 0.2 -0.7 0.1 -0.3 0.1 -4.6 0.1 4.2 0.1 -0.6 0.2 -1.6 0.1 -2.6 0.1 1.1 0.2 2.9 0.1 -5.6 0.1 1.9 0.1 0.2 0.1 -5.9 0.2 0.6 0.1 0.8 0.1 1.1 0.2 -3.4 0.1 -3.5 0.1 -0.2 0.1 -5.7 0.1 3.4 0.2 -3.3 0.1 -2.3 0.1 -1.3 0.2 -1.9 0.1 -5.0 0.1 4.8 0.1 -9.8 0.1 0.2 0.2 -2.9 0.1 -6.9 0.1 -0.1 0.2 -5.0 0.1 -4.4 0.1 -4.5 0.1 0.6 0.1 -0.9 0.2 -3.5 0.1 -4.9 0.1 -1.3 0.2 -8.1 0.1 4.3 0.1 -2.8 0.1 2.8 0.1 1.2 0.2 0.7 0.1 2.8 0.1 4.9 0.2 11.1 0.1 3.0 0.1 11.0 0.1 12.0 0.1 13.1 0.2 6.6 0.1 17.2 0.1 10.5 0.2 13.5 0.1 13.7 0.1 4.8 0.1 14.0 0.1 7.8 0.2 9.6 0.1 4.2 0.1 5.2 0.2 2.5 0.1 5.7 0.1 0.6 0.1 -0.5 0.1 -8.3 0.2 7.8 0.1 -4.5 0.1 1.1 0.2 -2.8 0.1 -2.0 0.1 -4.8 0.1 -1.4 0.1 -3.4 0.2 -5.5 0.1 2.0 0.1 -5.1 0.2 -0.4 0.1 -0.2 0.1 -1.5 0.1 -3.8 0.1 -2.6 0.2 -2.6 0.1 -3.7 0.1 1.2 0.2 -1.9 0.1 -3.6 0.1 1.2 0.1 -5.1 0.1 2.4 0.2 -3.5 0.1 -1.3 0.1 -0.9 0.2 -0.1 0.1 -1.9 0.1 1.5 0.1 -0.5 0.1 5.8 0.2 -11.0 0.1 2.6 0.1 2.2 0.2 1.1 0.1 -3.7 0.1 1.8 0.1 -3.2 0.1 2.4 0.2 -3.2 0.1 -2.0 0.1 2.9 0.2 -1.2 0.1 0.2 0.1 -1.2 0.1 -2.5 0.1 2.5 0.2 -0.4 0.1 -1.4 0.1 0.8 0.2 1.7 0.1 0.2 0.1 -2.0 0.1 -0.4 0.1 1.0 0.2 -0.2 0.1 1.1 0.1 4.3 0.2 -4.6 0.1 -3.6 0.1 7.6 0.1 -3.6 0.1 -1.0 0.2 2.0 0.1 -2.0 0.1 5.1 0.2 -3.5 0.1 0.4 0.1 -0.6 0.1 1.9 0.1 -1.5 0.2 -0.4 0.1 0.6 0.1 -1.5 0.2 3.8 0.1 1.3 0.1 -5.1 0.1 1.6 0.1 2.3 0.2 -3.7 0.1 1.3 0.1 2.9 0.2 -0.9 0.1 0.5 0.1 -5.1 0.1 7.0 0.1 -2.1 0.2 -0.5 0.1 4.6 0.1 -2.0 0.2 -5.6 0.1 7.7 0.1 -5.6 0.1 1.1 0.1 -2.0 0.2 6.5 0.1 -3.1 0.1 1.7 0.2 1.2 0.1 -2.0 0.1 -4.7 0.1 8.3 0.1 -4.3 0.2 -2.7 0.1 2.7 0.1 0.2 0.2 -0.2 0.1 0.9 0.1 1.4 0.1 3.3 0.1 -2.0 0.2 -1.7 0.1 4.8 0.1 -4.9 0.2 5.4 0.1 -5.1 0.1 -3.8 0.1 7.4 0.1 -3.3 0.2 -0.1 0.1 0.6 0.1 0.6 0.2 1.4 0.1 -1.5 0.1 -2.6 0.1 4.0 0.1 0.4 0.2 -1.7 0.1 1.6 0.1 0.8 0.2 -5.6 0.1 -0.5 0.1 2.8 0.1 4.0 0.1 -5.5 0.2 6.2 0.1 -4.0 0.1 2.3 0.2 -2.2 0.1 0.0 0.1 0.7 0.1 -1.0 0.1 -0.5 0.2 0.5 0.1 0.8 0.1 0.0 0.2 -2.3 0.1 2.3 0.1 0.7 0.1 2.3 0.1 0.0 0.2 -1.0 0.1 0.3 0.1 -3.2 0.2 1.7 0.1 2.9 0.1 -0.9 0.1 2.4 0.1 1.4 0.2 -0.6 0.1 -5.6 0.1 0.0 0.2 0.8 0.1 4.0 0.1 -2.2 0.1 -1.4 0.1 -1.9 0.2 2.4 0.1 -0.4 0.1 3.6 0.2 3.0 0.1 -8.9 0.1 -0.3 0.1 5.6 0.1 -0.3 0.2 -3.0 0.1 2.3 0.1 0.1 0.2 -3.3 0.1 4.2 0.1 -3.0 0.1 1.6 0.1 2.5 0.2 -5.4 0.1 4.3 0.1 -0.2 0.2 2.0 0.1 -5.6 0.1 2.8 0.1 -4.4 0.1 3.4 0.2 3.2 0.1 1.1 0.1 -2.9 0.2 -3.9 0.1 -1.4 0.1 4.9 0.1 -2.2 0.1 2.7 0.2 -0.8 0.1 0.0 0.1 3.6 0.2 -7.3 0.1 2.8 0.1 2.4 0.1 1.7 0.1 -6.1 0.2 -0.6 0.1 1.6 0.1 -2.9 0.2 1.3 0.1 6.3 0.1 -5.2 0.1 -0.9 0.1 2.2 0.2 1.4 0.1 -2.4 0.1 1.8 0.2 2.1 0.1 -0.4 0.1 -2.3 0.1 3.5 0.1 1.0 0.2 -2.5 0.1 -5.8 0.1 6.8 0.2 -3.0 0.1 2.8 0.1 -4.0 0.1 -0.5 0.1 0.0 0.2 0.2 0.1 5.2 0.1 -5.2 0.2 0.4 0.1 1.5 0.1 -3.0 0.1 1.3 0.1 -1.0 0.2 4.6 0.1 -5.5 0.1 3.3 0.2 0.9 0.1 2.4 0.1 -1.0 0.1 -1.3 0.1 -3.0 0.2 7.8 0.1 -2.5 0.1 -2.4 0.2 -4.7 0.1 2.0 0.1 -1.6 0.1 -0.1 0.1 1.0 0.2 -1.6 0.1 0.7 0.1 1.8 0.2 0.5 0.1 -4.0 0.1 3.9 0.1 4.5 0.1 -4.2 0.2 -0.7 0.1 0.0 0.1 6.6 0.2 -3.2 0.1 -0.1 0.1 -0.7 0.1 -1.4 0.1 4.4 0.2 -5.2 0.1 -4.5 0.1 6.4 0.2 0.9 0.1 -1.6 0.1 0.8 0.1 -0.3 0.1 -0.3 0.2 4.0 0.1 -1.3 0.1 -2.0 0.2 -0.9 0.1 -1.4 0.1 -1.6 0.1 -0.3 0.1 0.0 0.2 2.1 0.1 -0.3 0.1 2.2 0.2 -1.2 0.1 -5.0 0.1 0.9 0.1 2.5 0.1 7.6 0.2 -6.9 0.1 2.2 0.1 -0.8 0.2 -2.0 0.1 2.7 0.1 -6.7 0.1 2.3 0.1 -1.4 0.2 4.5 0.1 4.0 0.1 -6.0 0.2 -1.6 0.1 0.1 0.1 2.7 0.1 -0.5 0.1 1.3 0.2 -2.5 0.1 -0.2 0.1 4.2 0.2 0.2 0.1 -1.4 0.1 -3.8 0.1 5.1 0.1 4.5 0.2 -9.9 0.1 4.2 0.1 -2.4 0.2 1.3 0.1 -0.5 0.1 0.8 0.1 -3.1 0.1 1.8 0.2 -1.9 0.1 2.2 0.1 -0.4 0.2 -1.7 0.1 1.5 0.1 -1.2 0.1 1.7 0.1 -0.4 0.2 0.0 0.1 -5.9 0.1 4.8 0.2 -1.1 0.1 0.2 0.1 3.5 0.1 -0.4 0.1 -1.7 0.2 3.2 0.1 -0.6 0.1 -2.2 0.2 1.5 0.1 1.9 0.1 -6.5 0.1 -0.5 0.1 0.5 0.2 1.4 0.1 0.8 0.1 3.0 0.2 -4.6 0.1 4.8 0.1 -0.6 0.1 -0.2 0.1 -3.2 0.2 -1.9 0.1 4.9 0.1 -1.8 0.2 -1.5 0.1 2.6 0.1 -1.2 0.1 -2.7 0.1 2.9 0.2 -0.9 0.1 -0.9 0.1 1.3 0.2 -3.0 0.1 2.0 0.1 -1.3 0.1 3.2 0.1 -1.5 0.2 -1.0 0.1 2.4 0.1 -3.7 0.2 -0.5 0.1 4.2 0.1 -4.7 0.1 5.4 0.1 -1.1 0.2 -3.2 0.1 -0.9 0.1 6.4 0.2 -4.5 0.1 -0.9 0.1 -0.4 0.1 -0.9 0.1 7.3 0.2 -3.6 0.1 -1.3 0.1 -1.6 0.2 0.2 0.1 2.8 0.1 -7.3 0.1 3.3 0.1 -0.4 0.2 -1.3 0.1 5.3 0.1 -3.2 0.2 4.2 0.1 -0.1 0.1 -4.9 0.1 4.8 0.1 -1.9 0.2 -1.3 0.1 3.2 0.1 -2.5 0.2 -0.3 0.1 -4.0 0.1 5.3 0.1 -2.7 0.1 3.5 0.2 -3.1 0.1 3.1 0.1 -1.8 0.2 1.3 0.1 -6.5 0.1 4.6 0.1 -0.8 0.1 -0.2 0.2 -2.3 0.1 -1.8 0.1 6.0 0.2 -1.6 0.1 0.3 0.1 1.7 0.1 -4.1 0.1 4.3 0.2 -1.8 0.1 -0.8 0.1 -0.3 0.2 4.0 0.1 -3.0 0.1 0.7 0.1 -3.9 0.1 3.3 0.2 -3.6 0.1 0.7 0.1 2.3 0.2 -1.6 0.1 -3.6 0.1 1.9 0.1 1.1 0.1 2.7 0.2 -2.6 0.1 3.6 0.1 -2.3 0.2 -2.7 0.1 6.0 0.1 -4.0 0.1 -0.9 0.1 -0.4 0.2 1.4 0.1 -0.9 0.1 1.6 0.2 1.2 0.1 -1.4 0.1 -2.0 0.1 3.9 0.1 -2.9 0.2 1.6 0.1 -6.1 0.1 7.6 0.2 -4.3 0.1 3.2 0.1 -4.9 0.1 2.1 0.1 3.5 0.2 -0.4 0.1 -1.9 0.1 1.1 0.2 -6.4 0.1 3.3 0.1 1.1 0.1 -4.4 0.1 3.3 0.2 1.6 0.1 1.5 0.1 -2.7 0.2 3.5 0.1 3.1 0.1 -6.2 0.1 1.8 0.1 -0.1 0.2 1.6 0.1 -8.1 0.1 5.8 0.2 -2.2 0.1 -1.7 0.1 0.0 0.1 1.8 0.1 1.8 0.2 -2.5 0.1 -2.3 0.1 2.8 0.2 3.5 0.1 -5.2 0.1 3.8 0.1 1.5 0.1 -3.0 0.2 -1.6 0.1 -0.6 0.1 5.0 0.2 -1.6 0.1 -1.8 0.1 0.6 0.1 -2.0 0.1 1.1 0.2 4.0 0.1 -2.2 0.1 -0.2 0.2 0.4 0.1 -3.0 0.1 1.8 0.1 -3.3 0.1 -2.7 0.2 5.4 0.1 -0.8 0.1 -0.3 0.2 -1.9 0.1 2.4 0.1 0.1 0.1 -1.5 0.1 0.2 0.2 -1.3 0.1 1.3 0.1 3.0 0.2 -4.1 0.1 4.1 0.1 -4.8 0.1 1.1 0.1 8.2 0.2 -10.4 0.1 5.3 0.1 -4.1 0.2 2.7 0.1 0.7 0.1 0.9 0.1 -2.3 0.1 -1.2 0.2 7.0 0.1 -4.1 0.1 0.1 0.2 -3.3 0.1 -0.7 0.1 4.0 0.1 2.0 0.1 -4.6 0.2 -1.4 0.1 4.8 0.1 -3.6 0.2 2.2 0.1 -3.6 0.1 2.4 0.1 -1.8 0.1 0.9 0.2 -1.1 0.1 2.3 0.1 -1.4 0.2 1.5 0.1 -1.5 0.1 4.0 0.1 -4.1 0.1 0.9 0.2 3.0 0.1 -2.3 0.1 -2.1 0.2 0.2 0.1 -0.7 0.1 4.1 0.1 -2.4 0.1 -0.1 0.2 -3.6 0.1 5.6 0.1 0.1 0.2 0.8 0.1 -5.3 0.1 5.4 0.1 -4.1 0.1 2.3 0.2 -0.7 0.1 1.4 0.1 -5.1 0.2 3.3 0.1 1.6 0.1 2.6 0.1 -4.8 0.1 1.5 0.2 2.0 0.1 -4.1 0.1 0.1 0.2 0.6 0.1 3.1 0.1 -3.7 0.1 1.4 0.1 -1.5 0.2 1.2 0.1 3.6 0.1 -2.6 0.2 -0.3 0.1 -2.3 0.1 -0.6 0.1 3.6 0.1 0.7 0.2 -4.5 0.1 1.1 0.1 -0.3 0.2 0.4 0.1 2.8 0.1 -4.5 0.1 5.0 0.1 0.8 0.2 -6.8 0.1 3.1 0.1 -0.9 0.2 -1.9 0.1 6.7 0.1 -0.9 0.1 -4.5 0.1 0.2 0.2 1.7 0.1 2.5 0.1 -0.5 0.2 -2.0 0.1 -3.3 0.1 -1.3 0.1 3.4 0.1 1.5 0.2 0.5 0.1 1.5 0.1 -3.4 0.2 -0.1 0.1 3.0 0.1 -3.0 0.1 2.2 0.1 -7.3 0.2 8.2 0.1 -2.1 0.1 0.0 0.2 1.1 0.1 -2.0 0.1 -3.7 0.1 2.3 0.1 4.9 0.2 -4.2 0.1 0.4 0.1 -1.1 0.2 0.8 0.1 -0.9 0.1 -0.9 0.1 2.5 0.1 -1.5 0.2 -1.1 0.1 5.2 0.1 -3.1 0.2 1.3 0.1 2.9 0.1 0.2 0.1 -5.2 0.1 2.0 0.2 -1.1 0.1 -1.6 0.1 2.2 0.2 -1.8 0.1 -0.5 0.1 1.4 0.1 0.5 0.1 0.5 0.2 -1.8 0.1 2.5 0.1 -3.1 0.2 0.1 0.1 2.6 0.1 -3.5 0.1 3.1 0.1 0.5 0.2 -2.9 0.1 -0.3 0.1 1.4 0.2 0.9 0.1 -2.4 0.1 0.2 0.1 -2.7 0.1 4.1 0.2 1.0 0.1 0.4 0.1 -2.1 0.2 1.7 0.1 2.2 0.1 -1.6 0.1 -1.4 0.1 -0.4 0.2 1.0 0.1 -0.5 0.1 -1.5 0.2 2.6 0.1 -2.3 0.1 1.8 0.1 -2.5 0.1 3.8 0.2 -2.4 0.1 -1.7 0.1 -0.4 0.2 5.5 0.1 -2.7 0.1 1.4 0.1 -3.1 0.1 0.6 0.2 -0.7 0.1 1.4 0.1 -1.6 0.2 1.0 0.1 -3.0 0.1 7.3 0.1 -7.4 0.1 12.6 0.2 -9.1 0.1 2.3 0.1 -2.8 0.2 2.7 0.1 -1.5 0.1 -3.5 0.1 0.4 0.1 -0.7 0.2 4.4 0.1 -2.5 0.1 0.3 0.2 0.5 0.1 -0.4 0.1 0.3 0.1 -1.6 0.1 -0.5 0.2 3.2 0.1 -0.2 0.1 -0.6 0.2 1.4 0.1 -0.3 0.1 -0.2 0.1 1.9 0.1 -7.7 0.2 5.3 0.1 -6.3 0.1 6.7 0.2 -0.4 0.1 -2.0 0.1 0.2 0.1 1.8 0.1 -2.3 0.2 0.7 0.1 2.3 0.1 -7.0 0.2 5.9 0.1 0.1 0.1 0.7 0.1 -0.7 0.1 -4.6 0.2 6.5 0.1 -5.1 0.1 -3.3 0.2 6.2 0.1 -0.4 0.1 0.5 0.1 0.7 0.1 2.0 0.2 -1.3 0.1 -5.4 0.1 4.1 0.2 -0.2 0.1 -1.4 0.1 0.3 0.1 -0.4 0.1 2.1 0.2 -3.5 0.1 -3.2 0.1 5.1 0.2 -1.8 0.1 1.2 0.1 2.3 0.1 -4.3 0.1 2.8 0.2 -2.8 0.1 0.2 0.1 0.8 0.2 -0.7 0.1 3.0 0.1 -3.5 0.1 2.1 0.1 -0.2 0.2 -0.4 0.1 2.5 0.1 1.0 0.2 -0.7 0.1 1.7 0.1 -2.6 0.1 2.6 0.1 -1.0 0.2 -2.0 0.1 2.3 0.1 -4.7 0.2 -0.3 0.1 -0.4 0.1 3.6 0.1 -3.7 0.1 4.8 0.2 -4.8 0.1 2.0 0.1 0.7 0.2 1.0 0.1 -3.0 0.1 2.9 0.1 0.5 0.1 -1.8 0.2 -3.9 0.1 6.5 0.1 -3.2 0.2 -0.7 0.1 2.0 0.1 -4.8 0.1 6.7 0.1 -4.6 0.2 3.4 0.1 -1.0 0.1 -2.3 0.2 2.3 0.1 -0.2 0.1 -1.3 0.1 0.7 0.1 0.4 0.2 -2.0 0.1 -0.7 0.1 2.0 0.2 -3.5 0.1 1.4 0.1 4.0 0.1 0.1 0.1 -1.7 0.2 1.7 0.1 -1.8 0.1 -1.4 0.2 2.7 0.1 -1.5 0.1 0.1 0.1 -0.4 0.1 5.5 0.2 -3.7 0.1 0.8 0.1 -2.5 0.2 1.6 0.1 -2.7 0.1 0.7 0.1 0.3 0.1 0.2 0.2 3.8 0.1 -5.4 0.1 3.6 0.2 -1.4 0.1 -0.1 0.1 4.4 0.1 -4.8 0.1 -3.3 0.2 6.4 0.1 -1.0 0.1 -5.0 0.2 4.9 0.1 -3.7 0.1 1.8 0.1 2.9 0.1 -5.1 0.2 1.6 0.1 3.2 0.1 -3.2 0.2 -0.9 0.1 2.9 0.1 0.4 0.1 0.2 0.1 3.0 0.2 -9.0 0.1 0.0 0.1 2.3 0.2 -2.4 0.1 1.6 0.1 -1.1 0.1 4.4 0.1 1.0 0.2 -3.5 0.1 6.7 0.1 -0.9 0.2 -5.3 0.1 1.0 0.1 0.1 0.1 1.5 0.1 -0.1 0.2 -1.2 0.1 0.5 0.1 0.1 0.2 1.0 0.1 -3.0 0.1 1.5 0.1 -2.4 0.1 1.7 0.2 -1.0 0.1 0.8 0.1 -4.2 0.2 1.1 0.1 7.2 0.1 -2.9 0.1 -2.4 0.1 2.9 0.2 3.6 0.1 -2.3 0.1 -5.1 0.2 0.7 0.1 -2.6 0.1 1.8 0.1 4.4 0.1 1.2 0.2 -3.1 0.1 -3.3 0.1 -2.0 0.2 5.8 0.1 -0.5 0.1 -0.2 0.1 0.3 0.1 4.4 0.2 -5.0 0.1 1.3 0.1 0.7 0.2 2.0 0.1 -3.8 0.1 -0.1 0.1 1.8 0.1 -1.4 0.2 -2.2 0.1 2.1 0.1 -0.2 0.2 -1.5 0.1 -1.4 0.1 1.6 0.1 0.9 0.1 3.0 0.2 1.0 0.1 -8.8 0.1 6.3 0.2 -0.9 0.1 0.5 0.1 1.0 0.1 -3.4 0.1 -4.1 0.2 6.8 0.1 -1.2 0.1 1.8 0.2 -0.5 0.1 -1.8 0.1 2.1 0.1 -2.1 0.1 1.5 0.2 -2.6 0.1 2.3 0.1 0.0 0.2 -2.3 0.1 1.5 0.1 3.7 0.1 -4.7 0.1 -1.5 0.2 6.1 0.1 1.4 0.1 -4.2 0.2 0.5 0.1 0.4 0.1 -2.3 0.1 2.6 0.1 -2.4 0.2 -4.6 0.1 4.3 0.1 1.5 0.2 3.5 0.1 -4.4 0.1 -1.2 0.1 1.8 0.1 -0.3 0.2 -1.0 0.1 3.9 0.1 -1.9 0.2 -3.0 0.1 2.0 0.1 1.6 0.1 -5.4 0.1 -0.4 0.2 2.9 0.1 -0.8 0.1 -0.9 0.2 1.3 0.1 -1.8 0.1 7.5 0.1 -3.6 0.1 0.7 0.2 -2.9 0.1 2.5 0.1 -7.2 0.2 4.3 0.1 2.6 0.1 -2.2 0.1 1.6 0.1 -4.6 0.2 4.2 0.1 1.4 0.1 0.3 0.2 -1.7 0.1 -1.7 0.1 4.4 0.1 -5.1 0.1 0.8 0.2 1.0 0.1 1.0 0.1 0.9 0.2 -2.9 0.1 3.1 0.1 -0.1 0.1 -4.1 0.1 3.9 0.2 -3.2 0.1 5.1 0.1 0.7 0.2 -6.7 0.1 -1.9 0.1 2.8 0.1 1.2 0.1 0.5 0.2 -0.7 0.1 4.0 0.1 -2.3 0.2 0.8 0.1 -5.5 0.1 5.1 0.1 -2.0 0.1 1.0 0.2 -0.3 0.1 2.9 0.1 -5.6 0.2 4.5 0.1 -5.5 0.1 5.5 0.1 -0.9 0.1 3.4 0.2 -3.5 0.1 1.2 0.1 -2.9 0.2 2.1 0.1 -0.6 0.1 -0.6 0.1 -0.3 0.1 1.1 0.2 -2.8 0.1 2.1 0.1 2.5 0.2 -0.8 0.1 -0.7 0.1 -4.9 0.1 1.3 0.1 -0.5 0.2 2.1 0.1 0.7 0.1 1.9 0.2 -2.8 0.1 -0.3 0.1 3.3 0.1 -2.9 0.1 -3.1 0.2 4.7 0.1 -3.0 0.1 2.5 0.2 2.1 0.1 -0.9 0.1 -2.8 0.1 1.0 0.1 -1.2 0.2 4.6 0.1 -0.7 0.1 -1.2 0.2 1.2 0.1 1.1 0.1 -3.5 0.1 2.1 0.1 2.0 0.2 -4.3 0.1 3.3 0.1 -1.4 0.2 -3.3 0.1 2.1 0.1 -2.8 0.1 4.3 0.1 -3.5 0.2 1.5 0.1 -0.5 0.1 4.6 0.2 -2.9 0.1 -1.3 0.1 3.6 0.1 -5.2 0.1 3.6 0.2 -0.5 0.1 -0.3 0.1 1.3 0.2 -3.8 0.1 5.4 0.1 -2.7 0.1 0.0 0.1 -0.4 0.2 -0.4 0.1 6.0 0.1 -6.5 0.2 -2.0 0.1 1.1 0.1 -5.4 0.1 7.6 0.1 -2.1 0.2 0.8 0.1 -1.3 0.1 3.0 0.2 3.0 0.1 -6.6 0.1 4.3 0.1 -0.7 0.1 0.1 0.2 -1.2 0.1 1.5 0.1 0.6 0.2 -3.7 0.1 -4.8 0.1 7.0 0.1 -2.2 0.1 4.3 0.2 -4.2 0.1 1.6 0.1 -6.2 0.2 6.2 0.1 -0.4 0.1 2.7 0.1 -2.0 0.1 0.4 0.2 -0.2 0.1 -5.1 0.1 6.5 0.2 -1.7 0.1 0.1 0.1 0.5 0.1 -2.4 0.1 0.6 0.2 0.4 0.1 0.8 0.1 1.9 0.2 -1.9 0.1 0.8 0.1 -2.7 0.1 6.1 0.1 -1.3 0.2 -1.2 0.1 -4.7 0.1 4.1 0.2 -3.9 0.1 2.0 0.1 -0.6 0.1 -1.1 0.1 3.1 0.2 3.2 0.1 -5.6 0.1 3.6 0.2 -2.2 0.1 -0.6 0.1 1.3 0.1 0.5 0.1 -2.8 0.2 -1.2 0.1 1.4 0.1 -5.1 0.2 -0.4 0.1 5.0 0.1 2.0 0.1 -1.2 0.1 -0.7 0.2 -0.8 0.1 -0.1 0.1 1.7 0.2 0.4 0.1 -0.5 0.1 0.9 0.1 1.4 0.1 -4.8 0.2 -0.9 0.1 6.8 0.1 -5.5 0.2 1.0 0.1 2.6 0.1 -1.6 0.1 3.1 0.1 -2.5 0.2 1.9 0.1 -1.1 0.1 0.8 0.2 -2.2 0.1 -0.5 0.1 1.7 0.1 -2.8 0.1 5.2 0.2 -3.0 0.1 -0.4 0.1 4.4 0.2 -4.9 0.1 -0.4 0.1 2.9 0.1 -1.8 0.1 0.4 0.2 0.3 0.1 1.1 0.1 -2.4 0.2 3.8 0.1 -4.3 0.1 2.3 0.1 -1.1 0.1 3.8 0.2 -4.9 0.1 7.4 0.1 -7.7 0.2 2.8 0.1 -0.4 0.1 0.8 0.1 -0.2 0.1 -4.1 0.2 -0.3 0.1 2.7 0.1 0.6 0.2 -2.6 0.1 2.8 0.1 2.4 0.1 -2.7 0.1 1.3 0.2 -2.9 0.1 7.0 0.1 -5.0 0.2 0.3 0.1 -0.1 0.1 -1.3 0.1 0.8 0.1 0.5 0.2 -2.8 0.1 4.2 0.1 -0.4 0.2 -2.0 0.1 -2.0 0.1 1.7 0.1 -1.7 0.1 6.3 0.2 -1.6 0.1 -2.4 0.1 -1.0 0.2 3.1 0.1 -0.5 0.1 2.9 0.1 -8.3 0.1 5.5 0.2 -4.6 0.1 7.7 0.1 -9.1 0.2 2.0 0.1 0.4 0.1 1.3 0.1 0.1 0.1 2.9 0.2 -2.5 0.1 0.7 0.1 0.4 0.2 -4.2 0.1 6.1 0.1 -5.7 0.1 4.1 0.1 0.1 0.2 -3.9 0.1 5.0 0.1 -1.1 0.2 -0.4 0.1 -0.5 0.1 0.1 0.1 0.9 0.1 1.1 0.2 -7.4 0.1 9.1 0.1 -3.6 0.2 0.4 0.1 -2.2 0.1 0.3 0.1 2.1 0.1 -3.2 0.2 -0.8 0.1 4.5 0.1 -1.0 0.2 -1.5 0.1 4.9 0.1 -3.5 0.1 0.5 0.1 -0.9 0.2 0.4 0.1 -1.8 0.1 4.9 0.2 -6.8 0.1 2.0 0.1 -3.0 0.1 3.4 0.1 1.1 0.2 -0.3 0.1 1.2 0.1 -2.8 0.2 2.4 0.1 -2.7 0.1 -0.1 0.1 1.8 0.1 2.4 0.2 -6.6 0.1 2.6 0.1 -0.1 0.2 2.6 0.1 -2.0 0.1 1.6 0.1 2.2 0.1 -2.0 0.2 -0.5 0.1 -2.0 0.1 -1.5 0.2 2.4 0.1 4.3 0.1 -6.2 0.1 2.2 0.1 -2.1 0.2 3.3 0.1 1.4 0.1 -5.3 0.2 2.9 0.1 -0.6 0.1 -0.5 0.1 -1.1 0.1 3.3 0.2 0.1 0.1 2.9 0.1 -5.1 0.2 1.6 0.1 -1.9 0.1 0.4 0.1 5.8 0.1 -2.0 0.2 -3.2 0.1 0.2 0.1 0.8 0.2 3.2 0.1 -1.1 0.1 -2.6 0.1 -2.8 0.1 1.8 0.2 4.6 0.1 -5.8 0.1 1.4 0.2 -3.6 0.1 5.4 0.1 -0.8 0.1 3.8 0.1 -8.5 0.2 2.0 0.1 0.0 0.1 4.1 0.2 -1.7 0.1 -3.0 0.1 4.1 0.1 -8.2 0.1 9.8 0.2 -0.7 0.1 -5.6 0.1 1.8 0.2 -1.5 0.1 4.1 0.1 0.8 0.1 -3.0 0.1 5.5 0.2 -4.4 0.1 2.2 0.1 -0.5 0.2 -0.3 0.1 0.3 0.1 -1.5 0.1 -1.3 0.1 -0.8 0.2 1.8 0.1 2.1 0.1 2.2 0.2 -3.4 0.1 -1.1 0.1 -0.2 0.1 0.4 0.1 -2.9 0.2 0.3 0.1 3.1 0.1 1.6 0.2 1.0 0.1 -1.5 0.1 -2.3 0.1 4.2 0.1 -1.4 0.2 -1.3 0.1 4.8 0.1 -4.5 0.2 2.9 0.1 -3.8 0.1 0.6 0.1 0.1 0.1 -0.1 0.2 -0.2 0.1 0.6 0.1 2.2 0.2 -2.8 0.1 -2.2 0.1 -3.1 0.1 6.5 0.1 2.3 0.2 -6.4 0.1 3.6 0.1 3.6 0.2 -5.5 0.1 0.4 0.1 2.9 0.1 -3.6 0.1 -1.3 0.2 2.3 0.1 -6.8 0.1 5.0 0.2 4.0 0.1 -2.5 0.1 0.2 0.1 0.8 0.1 -0.8 0.2 -0.7 0.1 1.1 0.1 -2.9 0.2 3.7 0.1 -1.2 0.1 1.6 0.1 -2.4 0.1 4.8 0.2 -3.8 0.1 -1.0 0.1 3.6 0.2 -4.4 0.1 5.7 0.1 1.6 0.1 -7.6 0.1 -0.8 0.2 4.0 0.1 0.8 0.1 -0.2 0.2 -3.8 0.1 -0.7 0.1 -1.8 0.1 5.8 0.1 -2.6 0.2 -3.2 0.1 5.6 0.1 0.9 0.2 -1.2 0.1 -2.0 0.1 2.9 0.1 -7.1 0.1 6.1 0.2 0.8 0.1 -2.2 0.1 -1.4 0.2 0.5 0.1 4.5 0.1 -4.9 0.1 -3.5 0.1 5.7 0.2 -3.9 0.1 3.0 0.1 -1.2 0.2 1.4 0.1 -2.7 0.1 4.6 0.1 0.2 0.1 -0.7 0.2 0.1 0.1 -0.1 0.1 -2.0 0.2 0.7 0.1 1.5 0.1 -2.2 0.1 -2.0 0.1 -3.0 0.2 6.5 0.1 2.1 0.1 -2.4 0.2 -0.4 0.1 -1.5 0.1 1.3 0.1 2.4 0.1 2.7 0.2 -3.0 0.1 -1.1 0.1 2.9 0.2 -0.3 0.1 -8.6 0.1 3.7 0.1 -3.0 0.1 -1.0 0.2 5.9 0.1 -0.6 0.1 -0.1 0.2 2.2 0.1 -1.6 0.1 0.7 0.1 0.3 0.1 -2.7 0.2 7.0 0.1 -3.0 0.1 -2.3 0.2 1.1 0.1 -2.5 0.1 2.1 0.1 0.1 0.1 -2.7 0.2 -0.3 0.1 8.5 0.1 -8.5 0.2 4.9 0.1 -4.9 0.1 0.7 0.1 2.8 0.1 -4.7 0.2 7.6 0.1 -2.5 0.1 -1.7 0.2 4.4 0.1 -5.9 0.1 4.7 0.1 -3.2 0.1 1.4 0.2 -1.8 0.1 -1.1 0.1 0.5 0.2 3.2 0.1 -2.4 0.1 -0.8 0.1 -0.6 0.1 -3.0 0.2 7.4 0.1 -2.4 0.1 -3.7 0.2 2.5 0.1 1.1 0.1 -1.8 0.1 0.9 0.1 0.3 0.2 1.4 0.1 -0.9 0.1 1.8 0.2 0.0 0.1 -1.8 0.1 0.1 0.1 -1.1 0.1 2.8 0.2 2.1 0.1 -3.0 0.1 0.3 0.2 0.9 0.1 -4.4 0.1 1.5 0.1 2.5 0.1 -1.4 0.2 2.4 0.1 -2.4 0.1 3.9 0.2 -2.6 0.1 -2.8 0.1 -1.7 0.1 5.4 0.1 -3.3 0.2 0.0 0.1 -1.1 0.1 -1.3 0.2 5.9 0.1 -3.4 0.1 1.2 0.1 -2.3 0.1 -0.1 0.2 1.9 0.1 -0.7 0.1 3.0 0.2 -0.9 0.1 -0.6 0.1 2.8 0.1 -3.3 0.1 -2.4 0.2 3.8 0.1 1.9 0.1 -4.4 0.2 4.0 0.1 -1.8 0.1 -1.5 0.1 -3.5 0.1 2.1 0.2 -0.5 0.1 3.9 0.1 -4.1 0.2 4.2 0.1 0.6 0.1 -2.9 0.1 -0.4 0.1 -1.0 0.2 2.0 0.1 -0.8 0.1 0.3 0.2 -0.5 0.1 0.7 0.1 4.1 0.1 -4.0 0.1 -1.5 0.2 -0.3 0.1 2.8 0.1 -1.9 0.2 1.3 0.1 -0.3 0.1 -1.7 0.1 -3.0 0.1 3.9 0.2 -4.6 0.1 6.7 0.1 -4.6 0.2 1.8 0.1 0.9 0.1 -1.6 0.1 4.3 0.1 -4.1 0.2 2.0 0.1 0.6 0.1 2.5 0.2 -1.2 0.1 1.4 0.1 -1.5 0.1 -6.2 0.1 5.5 0.2 -1.9 0.1 1.3 0.1 -0.3 0.2 2.4 0.1 -6.7 0.1 4.9 0.1 -1.3 0.1 -2.6 0.2 2.3 0.1 1.2 0.1 -0.9 0.2 0.1 0.1 -1.2 0.1 2.0 0.1 -0.8 0.1 -2.3 0.2 6.4 0.1 -7.2 0.1 5.8 0.2 -4.4 0.1 -0.3 0.1 3.4 0.1 -3.2 0.1 -1.0 0.2 1.4 0.1 4.0 0.1 -5.9 0.2 7.3 0.1 -1.7 0.1 -0.1 0.1 -1.1 0.1 -3.1 0.2 1.3 0.1 2.2 0.1 1.0 0.2 -0.2 0.1 -1.9 0.1 -1.1 0.1 6.5 0.1 -8.4 0.2 2.8 0.1 -2.8 0.1 5.3 0.2 -4.1 0.1 2.5 0.1 2.0 0.1 -9.4 0.1 3.6 0.2 -2.3 0.1 1.5 0.1 -0.1 0.2 1.1 0.1 4.9 0.1 -3.2 0.1 1.3 0.1 2.7 0.2 -3.0 0.1 -0.9 0.1 3.3 0.2 -1.9 0.1 -2.8 0.1 -2.5 0.1 3.4 0.1 1.6 0.2 -2.1 0.1 3.1 0.1 2.5 0.2 -2.1 0.1 -8.0 0.1 4.8 0.1 -1.3 0.1 4.5 0.2 -0.8" fill="none" stroke="#8f8f8f" stroke-width="1.0" stroke-linejoin="round" />
<path d="M915.0 341.2l0.5 0.0 0.5 0.0 0.5 0.0 0.5 0.0 0.5 0.0 0.5 0.0 0.5 0.0 0.5 0.0 0.5 0.0 0.5 0.0 0.5 0.0 0.5 0.0 0.5 0.0 0.5 0.0 0.5 0.0 0.5 0.0 0.5 0.0 0.5 0.0 0.5 0.0 0.5 0.0 0.5 0.0 0.5 0.0 0.5 0.0 0.5 0.0 0.5 0.0 0.5 0.0 0.5 0.0 0.5 0.0 0.5 0.0 0.5 0.0 0.5 0.0 0.5 0.0 0.5 0.0 0.5 0.0 0.5 0.0 0.5 0.0 0.5 0.0 0.5 0.0 0.5 0.0 0.5 0.0 0.5 0.0 0.5 -0.1 0.5 0.0 0.5 0.0 0.5 0.0 0.5 0.0 0.5 0.0 0.5 0.0 0.5 0.0 0.5 0.0 0.5 0.0 0.5 0.0 0.5 0.0 0.5 0.0 0.5 0.0 0.5 0.0 0.5 0.0 0.5 0.0 0.5 0.0 0.5 0.0 0.5 0.0 0.5 0.0 0.5 0.0 0.5 0.0 0.5 0.0 0.5 0.0 0.5 0.0 0.5 0.0 0.5 0.0 0.5 0.0 0.5 0.0 0.5 0.0 0.5 0.0 0.5 0.0 0.5 -0.1 0.5 0.0 0.5 0.0 0.5 0.0 0.5 0.0 0.5 0.0 0.5 0.0 0.5 0.0 0.5 0.0 0.5 0.0 0.5 0.0 0.5 0.0 0.5 0.0 0.5 0.0 0.5 0.0 0.5 0.0 0.5 0.0 0.5 0.0 0.5 0.0 0.5 0.0 0.5 0.0 0.5 0.0 0.5 0.0 0.5 0.0 0.5 -0.1 0.5 0.0 0.5 0.0 0.5 0.0 0.5 0.0 0.5 0.0 0.5 0.0 0.5 0.0 0.5 0.0 0.5 0.0 0.5 0.0 0.5 0.0 0.5 0.0 0.5 0.0 0.5 0.0 0.5 0.0 0.5 0.0 0.5 0.0 0.5 0.0 0.5 0.0 0.5 0.0 0.5 -0.1 0.5 0.0 0.5 0.0 0.5 0.0 0.5 0.0 0.5 0.0 0.5 0.0 0.5 0.0 0.5 0.0 0.5 0.0 0.5 0.0 0.5 0.0 0.5 0.0 0.5 0.0 0.5 0.0 0.5 0.0 0.5 0.0 0.5 0.0 0.5 0.0 0.5 -0.1 0.5 0.0 0.5 0.0 0.5 0.0 0.5 0.0 0.5 0.0 0.5 0.0 0.5 0.0 0.5 0.0 0.5 0.0 0.5 0.0 0.5 0.0 0.5 0.0 0.5 0.0 0.5 -0.1 0.5 0.0 0.5 0.0 0.5 0.0 0.5 0.0 0.5 0.0 0.5 0.0 0.5 0.0 0.5 0.0 0.5 0.0 0.5 -0.1 0.5 0.0 0.5 0.0 0.5 0.0 0.5 0.0 0.5 0.0 0.5 0.0 0.5 0.0 0.5 0.0 0.5 0.0 0.5 -0.1 0.5 0.0 0.5 0.0 0.5 0.0 0.5 0.0 0.5 0.0 0.5 0.0 0.5 0.0 0.5 -0.1 0.5 0.0 0.5 0.0 0.5 0.0 0.5 0.0 0.5 0.0 0.5 0.0 0.5 -0.1 0.5 0.0 0.5 0.0 0.5 0.0 0.5 0.0 0.5 0.0 0.5 0.0 0.5 -0.1 0.5 0.0 0.5 0.0 0.5 0.0 0.5 0.0 0.5 0.0 0.5 0.0 0.5 -0.1 0.5 0.0 0.5 0.0 0.5 0.0 0.5 0.0 0.5 0.0 0.5 -0.1 0.5 0.0 0.5 0.0 0.5 0.0 0.5 0.0 0.5 -0.1 0.5 0.0 0.5 0.0 0.5 0.0 0.5 0.0 0.5 -0.1 0.5 0.0 0.5 0.0 0.5 0.0 0.5 -0.1 0.5 0.0 0.5 0.0 0.5 -0.1 0.5 0.0 0.5 0.0 0.5 0.0 0.5 -0.1 0.5 0.0 0.5 0.0 0.5 -0.1 0.5 0.0 0.5 0.0 0.5 -0.1 0.5 0.0 0.5 0.0 0.5 -0.1 0.5 0.0 0.5 -0.1 0.5 0.0 0.5 0.0 0.5 -0.1 0.5 0.0 0.5 0.0 0.5 -0.1 0.5 0.0 0.5 -0.1 0.5 0.0 0.5 0.0 0.5 -0.1 0.5 0.0 0.5 -0.1 0.5 0.0 0.5 -0.1 0.5 0.0 0.5 0.0 0.5 -0.1 0.5 0.0 0.5 -0.1 0.5 0.0 0.5 -0.1 0.5 0.0 0.5 0.0 0.5 -0.1 0.5 0.0 0.5 -0.1 0.5 0.0 0.5 -0.1 0.5 0.0 0.5 0.0 0.5 -0.1 0.5 0.0 0.5 -0.1 0.5 0.0 0.5 -0.1 0.5 0.0 0.5 -0.1 0.5 0.0 0.5 -0.1 0.5 0.0 0.5 -0.1 0.5 0.0 0.5 -0.1 0.5 -0.1 0.5 0.0 0.5 -0.1 0.5 0.0 0.5 -0.1 0.5 0.0 0.5 -0.1 0.5 -0.1 0.5 0.0 0.5 -0.1 0.5 -0.1 0.5 0.0 0.5 -0.1 0.5 -0.1 0.5 0.0 0.5 -0.1 0.5 -0.1 0.5 -0.1 0.5 0.0 0.5 -0.1 0.5 -0.1 0.5 -0.1 0.5 -0.1 0.5 -0.1 0.5 0.0 0.5 -0.1 0.5 -0.1 0.5 -0.1 0.5 -0.1 0.5 -0.1 0.5 -0.1 0.5 -0.1 0.5 -0.1 0.5 -0.1 0.5 -0.1 0.5 -0.1 0.5 -0.1 0.5 -0.1 0.5 -0.1 0.5 -0.1 0.5 -0.1 0.5 -0.1 0.5 -0.1 0.5 -0.1 0.5 -0.1 0.5 -0.1 0.5 -0.1 0.5 -0.2 0.5 -0.1 0.5 -0.1 0.5 -0.1 0.5 -0.2 0.5 -0.1 0.5 -0.1 0.5 -0.2 0.5 -0.1 0.5 -0.1 0.5 -0.2 0.5 -0.1 0.5 -0.2 0.5 -0.1 0.5 -0.2 0.5 -0.1 0.5 -0.2 0.5 -0.1 0.5 -0.2 0.5 -0.2 0.5 -0.1 0.5 -0.2 0.5 -0.2 0.5 -0.2 0.5 -0.2 0.5 -0.2 0.5 -0.2 0.5 -0.2 0.5 -0.2 0.5 -0.2 0.5 -0.2 0.5 -0.3 0.5 -0.2 0.5 -0.2 0.5 -0.2 0.5 -0.3 0.5 -0.2 0.5 -0.2 0.5 -0.2 0.5 -0.3 0.5 -0.2 0.5 -0.2 0.5 -0.2 0.5 -0.3 0.5 -0.2 0.5 -0.2 0.5 -0.2 0.5 -0.2 0.5 -0.2 0.5 -0.2 0.5 -0.2 0.5 -0.3 0.5 -0.2 0.5 -0.2 0.5 -0.2 0.5 -0.3 0.5 -0.2 0.5 -0.2 0.5 -0.3 0.5 -0.2 0.5 -0.2 0.5 -0.2 0.5 -0.2 0.5 -0.3 0.5 -0.2 0.5 -0.2 0.5 -0.2 0.5 -0.2 0.5 -0.1 0.5 -0.2 0.5 -0.2 0.5 -0.1 0.5 -0.2 0.5 -0.1 0.5 -0.1 0.5 -0.1 0.5 -0.1 0.5 -0.1 0.5 -0.1 0.5 -0.2 0.5 -0.1 0.5 -0.1 0.5 -0.1 0.5 -0.1 0.5 0.0 0.5 -0.1 0.5 -0.1 0.5 -0.1 0.5 0.0 0.5 0.0 0.5 -0.1 0.5 0.0 0.5 0.0 0.5 0.0 0.5 0.1 0.5 0.0 0.5 0.1 0.5 0.1 0.5 0.1 0.5 0.2 0.5 0.1 0.5 0.2 0.5 0.2 0.5 0.1 0.5 0.2 0.5 0.2 0.5 0.3 0.5 0.3 0.5 0.3 0.1 0.1 0.1 0.0 0.1 0.1 0.1 0.1 0.1 0.1 0.0 0.0 0.1 0.0 0.1 0.1 0.1 0.1 0.1 0.1 0.1 0.1 0.0 0.0 0.1 0.0 0.1 0.1 0.1 0.1 0.1 0.1 0.1 0.1 0.0 0.0 0.1 0.1 0.1 0.0 0.1 0.1 0.1 0.1 0.1 0.1 0.0 0.0 0.1 0.1 0.1 0.1 0.1 0.1 0.1 0.1 0.1 0.0 0.0 0.0 0.1 0.1 0.1 0.1 0.1 0.1 0.1 0.1 0.1 0.1 0.0 0.0 0.1 0.1 0.1 0.0 0.1 0.1 0.1 0.1 0.1 0.1 0.0 0.0 0.1 0.1 0.1 0.1 0.1 0.1 0.1 0.0 0.1 0.1 0.0 0.0 0.1 0.1 0.1 0.1 0.1 0.1 0.1 0.1 0.1 0.1 0.0 0.0 0.1 0.0 0.1 0.1 0.1 0.1 0.1 0.1 0.1 0.1 0.0 0.0 0.1 0.1 0.1 0.1 0.1 0.1 0.1 0.1 0.1 0.1 0.0 0.0 0.1 0.1 0.1 0.0 0.1 0.1 0.1 0.1 0.1 0.1 0.0 0.0 0.1 0.1 0.1 0.1 0.1 0.1 0.1 0.1 0.1 0.1 0.0 0.0 0.1 0.1 0.1 0.1 0.1 0.1 0.1 0.1 0.1 0.1 0.0 0.0 0.1 0.1 0.1 0.1 0.1 0.1 0.1 0.1 0.1 0.1 0.0 0.0 0.1 0.1 0.1 0.1 0.1 0.1 0.1 0.1 0.1 0.1 0.0 0.0 0.1 0.1 0.1 0.2 0.1 0.1 0.1 0.1 0.1 0.1 0.0 0.0 0.1 0.1 0.1 0.1 0.1 0.1 0.1 0.1 0.1 0.1 0.0 0.0 0.1 0.2 0.1 0.1 0.1 0.1 0.1 0.1 0.1 0.1 0.0 0.0 0.1 0.1 0.1 0.2 0.1 0.1 0.1 0.1 0.1 0.1 0.0 0.0 0.1 0.2 0.1 0.1 0.1 0.1 0.1 0.1 0.1 0.2 0.0 0.0 0.1 0.1 0.1 0.1 0.1 0.2 0.1 0.1 0.1 0.1 0.0 0.0 0.1 0.2 0.1 0.1 0.1 0.2 0.1 0.1 0.1 0.1 0.0 0.0 0.1 0.2 0.1 0.1 0.1 0.2 0.1 0.2 0.1 0.1 0.0 0.0 0.1 0.2 0.1 0.1 0.1 0.2 0.1 0.1 0.1 0.2 0.0 0.0 0.1 0.2 0.1 0.1 0.1 0.2 0.1 0.2 0.1 0.1 0.0 0.0 0.1 0.2 0.1 0.2 0.1 0.1 0.1 0.2 0.1 0.2 0.0 0.0 0.1 0.2 0.1 0.1 0.1 0.2 0.1 0.2 0.1 0.2 0.0 0.0 0.1 0.1 0.1 0.2 0.1 0.2 0.1 0.2 0.1 0.1 0.0 0.0 0.1 0.2 0.1 0.2 0.1 0.2 0.1 0.2 0.1 0.1 0.0 0.0 0.1 0.2 0.1 0.2 0.1 0.2 0.1 0.2 0.1 0.1 0.0 0.0 0.1 0.2 0.1 0.2 0.1 0.2 0.1 0.2 0.1 0.1 0.0 0.0 0.1 0.2 0.1 0.2 0.1 0.2 0.1 0.1 0.1 0.2 0.0 0.0 0.1 0.2 0.1 0.2 0.1 0.2 0.1 0.1 0.1 0.2 0.0 0.0 0.1 0.2 0.1 0.1 0.1 0.2 0.1 0.2 0.1 0.2 0.0 0.0 0.1 0.1 0.1 0.2 0.1 0.2 0.1 0.1 0.1 0.2 0.0 0.0 0.1 0.2 0.1 0.1 0.1 0.2 0.1 0.1 0.1 0.2 0.0 0.0 0.1 0.2 0.1 0.1 0.1 0.2 0.1 0.1 0.1 0.2 0.0 0.0 0.1 0.2 0.1 0.1 0.1 0.2 0.1 0.1 0.1 0.2 0.0 0.0 0.1 0.2 0.1 0.1 0.1 0.2 0.1 0.2 0.1 0.1 0.0 0.0 0.1 0.2 0.1 0.1 0.1 0.2 0.1 0.2 0.1 0.1 0.0 0.0 0.1 0.2 0.1 0.2 0.1 0.1 0.1 0.2 0.1 0.1 0.0 0.0 0.1 0.2 0.1 0.2 0.1 0.1 0.1 0.2 0.1 0.2 0.0 0.0 0.1 0.1 0.1 0.2 0.1 0.1 0.1 0.2 0.1 0.2 0.0 0.0 0.1 0.1 0.1 0.2 0.1 0.1 0.1 0.2 0.1 0.2 0.0 0.0 0.1 0.1 0.1 0.2 0.1 0.1 0.1 0.2 0.1 0.1 0.0 0.0 0.1 0.2 0.1 0.2 0.1 0.1 0.1 0.2 0.1 0.1 0.0 0.0 0.1 0.2 0.1 0.1 0.1 0.2 0.1 0.1 0.1 0.2 0.0 0.0 0.1 0.1 0.1 0.2 0.1 0.1 0.1 0.1 0.1 0.2 0.0 0.0 0.1 0.1 0.1 0.2 0.1 0.1 0.1 0.1 0.1 0.2 0.0 0.0 0.1 0.1 0.1 0.2 0.1 0.1 0.1 0.1 0.1 0.2 0.0 0.0 0.1 0.1 0.1 0.1 0.1 0.1 0.1 0.2 0.1 0.1 0.0 0.0 0.1 0.1 0.1 0.1 0.1 0.1 0.1 0.2 0.1 0.1 0.0 0.0 0.1 0.1 0.1 0.1 0.1 0.1 0.1 0.1 0.1 0.2 0.0 0.0 0.1 0.1 0.1 0.1 0.1 0.1 0.1 0.1 0.1 0.1 0.0 0.0 0.1 0.1 0.1 0.1 0.1 0.2 0.1 0.1 0.1 0.1 0.0 0.0 0.1 0.1 0.1 0.1 0.1 0.1 0.1 0.1 0.1 0.1 0.0 0.0 0.1 0.1 0.1 0.1 0.1 0.1 0.1 0.1 0.1 0.1 0.0 0.0 0.1 0.1 0.1 0.1 0.1 0.1 0.1 0.1 0.1 0.1 0.0 0.0 0.1 0.1 0.1 0.1 0.1 0.1 0.1 0.1 0.1 0.1 0.5 0.4 0.5 0.4 0.5 0.4 0.5 0.3 0.5 0.3 0.5 0.3 0.5 0.3 0.5 0.3 0.5 0.2 0.5 0.3 0.5 0.2 0.5 0.2 0.5 0.2 0.5 0.2 0.5 0.1 0.5 0.1 0.5 0.1 0.5 0.0 0.5 0.0 0.5 0.0 0.5 0.0 0.5 0.0 0.5 0.0 0.5 -0.1 0.5 0.0 0.5 0.0 0.5 0.0 0.5 0.0 0.5 -0.1 0.5 0.0 0.5 0.0 0.5 -0.1 0.5 0.0 0.5 -0.1 0.5 -0.1 0.5 0.0 0.5 -0.1 0.5 -0.1 0.5 -0.1 0.5 -0.1 0.5 -0.1 0.5 -0.1 0.5 -0.1 0.5 -0.1 0.5 -0.2 0.5 -0.1 0.5 -0.2 0.5 -0.2 0.5 -0.2 0.5 -0.2 0.5 -0.2 0.5 -0.2 0.5 -0.3 0.5 -0.2 0.5 -0.3 0.5 -0.2 0.5 -0.3 0.5 -0.2 0.5 -0.3 0.5 -0.2 0.5 -0.3 0.5 -0.2 0.5 -0.3 0.5 -0.2 0.5 -0.2 0.5 -0.3 0.5 -0.2 0.5 -0.2 0.5 -0.2 0.5 -0.2 0.5 -0.2 0.5 -0.1 0.5 -0.2 0.5 -0.2 0.5 -0.2 0.5 -0.1 0.5 -0.2 0.5 -0.2 0.5 -0.2 0.5 -0.1 0.5 -0.2 0.5 -0.2 0.5 -0.1 0.5 -0.2 0.5 -0.2 0.5 -0.1 0.5 -0.2 0.5 -0.1 0.5 -0.2 0.5 -0.1 0.5 -0.2 0.5 -0.2 0.5 -0.1 0.5 -0.2 0.5 -0.1 0.5 -0.2 0.5 -0.1 0.5 -0.1 0.5 -0.2 0.5 -0.1 0.5 -0.2 0.5 -0.1 0.5 -0.1 0.5 -0.2 0.5 -0.1 0.5 -0.1 0.5 -0.2 0.5 -0.1 0.5 -0.1 0.5 -0.2 0.5 -0.1 0.5 -0.1 0.5 -0.1 0.5 -0.1 0.5 -0.2 0.5 -0.1 0.5 -0.1 0.5 -0.1 0.5 -0.1 0.5 -0.1 0.5 -0.2 0.5 -0.1 0.5 -0.1 0.5 -0.1 0.5 -0.1 0.5 -0.1 0.5 -0.1 0.5 -0.1 0.5 -0.1 0.5 -0.1 0.5 -0.1 0.5 -0.1 0.5 -0.1 0.5 -0.1 0.5 -0.1 0.5 -0.1 0.5 -0.1 0.5 0.0 0.5 -0.1 0.5 -0.1 0.5 -0.1 0.5 -0.1 0.5 0.0 0.5 -0.1 0.5 -0.1 0.5 -0.1 0.5 0.0 0.5 -0.1 0.5 -0.1 0.5 -0.1 0.5 0.0 0.5 -0.1 0.5 -0.1 0.5 0.0 0.5 -0.1 0.5 -0.1 0.5 0.0 0.5 -0.1 0.5 0.0 0.5 -0.1 0.5 0.0 0.5 -0.1 0.5 -0.1 0.5 0.0 0.5 -0.1 0.5 0.0 0.5 -0.1 0.5 0.0 0.5 0.0 0.5 -0.1 0.5 0.0 0.5 -0.1 0.5 0.0 0.5 -0.1 0.5 0.0 0.5 0.0 0.5 -0.1 0.5 0.0 0.5 -0.1 0.5 0.0 0.5 -0.1 0.5 0.0 0.5 0.0 0.5 -0.1 0.5 0.0 0.5 -0.1 0.5 0.0 0.5 0.0 0.5 -0.1 0.5 0.0 0.5 0.0 0.5 -0.1 0.5 0.0 0.5 -0.1 0.5 0.0 0.5 0.0 0.5 -0.1 0.5 0.0 0.5 0.0 0.5 -0.1 0.5 0.0 0.5 0.0 0.5 -0.1 0.5 0.0 0.5 0.0 0.5 -0.1 0.5 0.0 0.5 0.0 0.5 -0.1 0.5 0.0 0.5 0.0 0.5 0.0 0.5 -0.1 0.5 0.0 0.5 0.0 0.5 -0.1 0.5 0.0 0.5 0.0 0.5 0.0 0.5 -0.1 0.5 0.0 0.5 0.0 0.5 0.0 0.5 -0.1 0.5 0.0 0.5 0.0 0.5 0.0 0.5 0.0 0.5 -0.1 0.5 0.0 0.5 0.0 0.5 0.0 0.5 0.0 0.5 0.0 0.5 -0.1 0.5 0.0 0.5 0.0 0.5 0.0 0.5 0.0 0.5 0.0 0.5 0.0 0.5 -0.1 0.5 0.0 0.5 0.0 0.5 0.0 0.5 0.0 0.5 0.0 0.5 0.0 0.5 0.0 0.5 0.0 0.5 -0.1 0.5 0.0 0.5 0.0 0.5 0.0 0.5 0.0 0.5 0.0 0.5 0.0 0.5 0.0 0.5 0.0 0.5 0.0 0.5 -0.1 0.5 0.0 0.5 0.0 0.5 0.0 0.5 0.0 0.5 0.0 0.5 0.0 0.5 0.0 0.5 0.0 0.5 0.0 0.5 0.0 0.5 -0.1 0.5 0.0 0.5 0.0 0.5 0.0 0.5 0.0 0.5 0.0 0.5 0.0 0.5 0.0 0.5 0.0 0.5 0.0 0.5 0.0 0.5 0.0 0.5 0.0 0.5 0.0 0.5 -0.1 0.5 0.0 0.5 0.0 0.5 0.0 0.5 0.0 0.5 0.0 0.5 0.0 0.5 0.0 0.5 0.0 0.5 0.0 0.5 0.0 0.5 0.0 0.5 0.0 0.5 0.0 0.5 0.0 0.5 0.0 0.5 -0.1 0.5 0.0 0.5 0.0 0.5 0.0 0.5 0.0 0.5 0.0 0.5 0.0 0.5 0.0 0.5 0.0 0.5 0.0 0.5 0.0 0.5 0.0 0.5 0.0 0.5 0.0 0.5 0.0 0.5 0.0 0.5 0.0 0.5 -0.1 0.5 0.0 0.5 0.0 0.5 0.0 0.5 0.0 0.5 0.0 0.5 0.0 0.5 0.0 0.5 0.0 0.5 0.0 0.5 0.0 0.5 0.0 0.5 0.0 0.5 0.0 0.5 0.0 0.5 0.0 0.5 0.0 0.5 0.0 0.5 -0.1 0.5 0.0 0.5 0.0 0.5 0.0 0.5 0.0 0.5 0.0 0.5 0.0 0.5 0.0 0.5 0.0 0.5 0.0 0.5 0.0 0.5 0.0 0.5 0.0 0.5 0.0 0.5 0.0 0.5 0.0 0.5 0.0 0.5 0.0 0.5 0.0 0.5 0.0 0.5 -0.1 0.5 0.0 0.5 0.0 0.5 0.0 0.5 0.0 0.5 0.0 0.5 0.0 0.5 0.0 0.5 0.0 0.5 0.0 0.5 0.0 0.5 0.0 0.5 0.0 0.5 0.0 0.5 0.0 0.5 0.0 0.5 0.0 0.5 0.0 0.5 0.0 0.5 0.0 0.5 0.0 0.5 0.0 0.5 0.0 0.5 0.0 0.5 0.0 0.5 -0.1 0.5 0.0 0.5 0.0 0.5 0.0 0.5 0.0 0.5 0.0 0.5 0.0 0.5 0.0 0.5 0.0 0.5 0.0 0.5 0.0 0.5 0.0 0.5 0.0 0.5 0.0 0.5 0.0 0.5 0.0 0.5 0.0" fill="none" stroke="#f0801f" stroke-width="2.2" stroke-linejoin="round" />
<path d="M915.0 342.4l0.5 0.0 0.5 0.0 0.5 0.0 0.5 0.0 0.5 0.0 0.5 0.0 0.5 0.0 0.5 0.0 0.5 0.0 0.5 0.0 0.5 0.0 0.5 0.0 0.5 0.0 0.5 0.0 0.5 0.0 0.5 0.0 0.5 0.0 0.5 0.0 0.5 0.0 0.5 0.0 0.5 0.0 0.5 0.0 0.5 0.0 0.5 0.0 0.5 0.0 0.5 0.0 0.5 0.0 0.5 0.0 0.5 0.0 0.5 0.0 0.5 0.0 0.5 0.0 0.5 0.0 0.5 0.0 0.5 0.0 0.5 0.0 0.5 0.0 0.5 0.0 0.5 0.0 0.5 0.0 0.5 0.0 0.5 0.0 0.5 0.0 0.5 0.0 0.5 0.0 0.5 0.0 0.5 0.0 0.5 0.0 0.5 0.0 0.5 0.0 0.5 0.0 0.5 0.0 0.5 0.0 0.5 0.0 0.5 0.0 0.5 0.0 0.5 0.0 0.5 0.0 0.5 0.0 0.5 0.0 0.5 0.0 0.5 0.0 0.5 0.0 0.5 0.0 0.5 0.0 0.5 0.0 0.5 0.0 0.5 0.0 0.5 0.0 0.5 0.0 0.5 0.0 0.5 0.0 0.5 0.0 0.5 0.0 0.5 0.0 0.5 0.0 0.5 0.0 0.5 0.0 0.5 0.0 0.5 0.0 0.5 0.0 0.5 0.0 0.5 0.0 0.5 0.0 0.5 0.0 0.5 0.0 0.5 0.0 0.5 0.0 0.5 0.0 0.5 0.0 0.5 0.0 0.5 0.0 0.5 0.0 0.5 0.0 0.5 0.0 0.5 0.0 0.5 0.0 0.5 0.0 0.5 0.0 0.5 0.0 0.5 0.0 0.5 0.0 0.5 0.0 0.5 0.0 0.5 0.0 0.5 0.0 0.5 0.0 0.5 0.0 0.5 0.0 0.5 0.0 0.5 0.0 0.5 0.0 0.5 -0.1 0.5 0.0 0.5 0.0 0.5 0.0 0.5 0.0 0.5 0.0 0.5 0.0 0.5 0.0 0.5 0.0 0.5 0.0 0.5 0.0 0.5 0.0 0.5 0.0 0.5 0.0 0.5 0.0 0.5 0.0 0.5 0.0 0.5 0.0 0.5 0.0 0.5 0.0 0.5 0.0 0.5 0.0 0.5 0.0 0.5 0.0 0.5 0.0 0.5 0.0 0.5 0.0 0.5 0.0 0.5 0.0 0.5 0.0 0.5 0.0 0.5 0.0 0.5 0.0 0.5 0.0 0.5 0.0 0.5 0.0 0.5 0.0 0.5 0.0 0.5 0.0 0.5 0.0 0.5 0.0 0.5 0.0 0.5 0.0 0.5 0.0 0.5 0.0 0.5 0.0 0.5 0.0 0.5 0.0 0.5 0.0 0.5 0.0 0.5 0.0 0.5 0.0 0.5 0.0 0.5 0.0 0.5 0.0 0.5 0.0 0.5 0.0 0.5 0.0 0.5 0.0 0.5 0.0 0.5 0.0 0.5 0.0 0.5 0.0 0.5 0.0 0.5 0.0 0.5 0.0 0.5 0.0 0.5 0.0 0.5 0.0 0.5 0.0 0.5 0.0 0.5 0.0 0.5 0.0 0.5 0.0 0.5 0.0 0.5 0.0 0.5 0.0 0.5 0.0 0.5 0.0 0.5 0.0 0.5 0.0 0.5 0.0 0.5 0.0 0.5 0.0 0.5 0.0 0.5 0.0 0.5 0.0 0.5 0.0 0.5 0.0 0.5 0.0 0.5 0.0 0.5 0.0 0.5 0.0 0.5 0.0 0.5 0.0 0.5 0.0 0.5 0.0 0.5 0.0 0.5 0.0 0.5 0.0 0.5 0.0 0.5 0.0 0.5 0.0 0.5 0.0 0.5 0.0 0.5 0.0 0.5 0.0 0.5 0.0 0.5 0.0 0.5 0.0 0.5 0.0 0.5 0.0 0.5 0.0 0.5 0.0 0.5 0.0 0.5 0.0 0.5 0.0 0.5 0.0 0.5 0.0 0.5 0.0 0.5 0.0 0.5 0.0 0.5 0.0 0.5 0.0 0.5 0.0 0.5 0.0 0.5 0.0 0.5 0.0 0.5 0.0 0.5 0.0 0.5 0.0 0.5 0.0 0.5 0.0 0.5 0.0 0.5 0.0 0.5 0.0 0.5 0.0 0.5 0.0 0.5 0.0 0.5 0.0 0.5 0.0 0.5 0.0 0.5 0.0 0.5 0.0 0.5 0.0 0.5 0.0 0.5 0.0 0.5 0.0 0.5 0.0 0.5 0.0 0.5 0.0 0.5 0.0 0.5 0.0 0.5 0.0 0.5 0.0 0.5 0.0 0.5 0.0 0.5 0.0 0.5 0.0 0.5 0.0 0.5 0.0 0.5 0.0 0.5 0.0 0.5 0.0 0.5 0.0 0.5 0.0 0.5 0.0 0.5 0.0 0.5 0.0 0.5 0.0 0.5 0.0 0.5 0.0 0.5 0.0 0.5 0.0 0.5 0.0 0.5 0.0 0.5 0.0 0.5 0.0 0.5 0.0 0.5 0.0 0.5 0.0 0.5 0.0 0.5 0.0 0.5 0.0 0.5 0.0 0.5 0.0 0.5 0.0 0.5 0.0 0.5 0.0 0.5 0.0 0.5 0.0 0.5 0.0 0.5 0.0 0.5 0.0 0.5 0.0 0.5 0.0 0.5 0.0 0.5 0.0 0.5 0.0 0.5 0.0 0.5 0.0 0.5 0.0 0.5 0.0 0.5 0.0 0.5 0.0 0.5 0.0 0.5 0.0 0.5 0.0 0.5 0.0 0.5 0.0 0.5 0.0 0.5 0.0 0.5 0.0 0.5 0.0 0.5 0.0 0.5 0.0 0.5 0.0 0.5 0.0 0.5 -0.1 0.5 0.0 0.5 0.0 0.5 0.0 0.5 0.0 0.5 0.0 0.5 0.0 0.5 0.0 0.5 0.0 0.5 0.0 0.5 0.0 0.5 0.0 0.5 0.0 0.5 0.0 0.5 0.0 0.5 0.0 0.5 0.0 0.5 0.0 0.5 0.0 0.5 0.0 0.5 0.0 0.5 0.0 0.5 0.0 0.5 0.0 0.5 0.0 0.5 0.0 0.5 0.0 0.5 0.0 0.5 0.0 0.5 0.0 0.5 0.0 0.5 0.0 0.5 0.0 0.5 0.0 0.5 0.0 0.5 0.0 0.5 0.0 0.5 0.0 0.5 0.0 0.5 0.0 0.5 0.0 0.5 0.0 0.5 0.0 0.5 0.0 0.5 0.0 0.5 0.0 0.5 0.0 0.5 0.0 0.5 0.0 0.5 0.0 0.5 0.0 0.5 0.0 0.5 0.0 0.5 0.0 0.5 0.0 0.5 0.0 0.5 0.0 0.5 0.0 0.5 0.0 0.5 0.0 0.5 0.0 0.5 0.0 0.5 0.0 0.5 0.0 0.5 0.0 0.5 0.0 0.5 0.0 0.5 0.0 0.5 0.0 0.5 0.0 0.5 0.0 0.5 0.0 0.5 0.0 0.5 0.0 0.5 0.0 0.5 0.0 0.5 0.0 0.5 0.0 0.5 0.0 0.5 0.0 0.5 0.0 0.5 0.0 0.5 0.0 0.5 0.0 0.5 0.0 0.5 0.0 0.5 0.0 0.5 -0.1 0.5 0.0 0.5 0.0 0.5 0.0 0.5 0.0 0.5 0.0 0.5 0.0 0.5 0.0 0.5 0.0 0.5 0.0 0.5 0.0 0.5 0.1 0.5 0.0 0.5 0.0 0.5 0.1 0.5 0.1 0.5 0.1 0.5 0.1 0.5 0.1 0.5 0.1 0.5 0.2 0.5 0.0 0.5 0.1 0.1 0.0 0.1 0.0 0.1 0.0 0.1 0.0 0.1 0.0 0.0 0.0 0.1 0.0 0.1 0.0 0.1 0.0 0.1 0.0 0.1 0.0 0.0 0.0 0.1 0.0 0.1 -0.1 0.1 0.0 0.1 0.0 0.1 0.0 0.0 0.0 0.1 0.0 0.1 -0.1 0.1 0.0 0.1 0.0 0.1 -0.1 0.0 0.0 0.1 0.0 0.1 0.0 0.1 -0.1 0.1 0.0 0.1 -0.1 0.0 0.0 0.1 0.0 0.1 -0.1 0.1 0.0 0.1 -0.1 0.1 0.0 0.0 0.0 0.1 -0.1 0.1 0.0 0.1 -0.1 0.1 0.0 0.1 -0.1 0.0 0.0 0.1 -0.1 0.1 0.0 0.1 -0.1 0.1 0.0 0.1 -0.1 0.0 0.0 0.1 -0.1 0.1 0.0 0.1 -0.1 0.1 -0.1 0.1 -0.1 0.0 0.0 0.1 0.0 0.1 -0.1 0.1 -0.1 0.1 -0.1 0.1 -0.1 0.0 0.0 0.1 0.0 0.1 -0.1 0.1 -0.1 0.1 -0.1 0.1 -0.1 0.0 0.0 0.1 -0.1 0.1 -0.1 0.1 -0.1 0.1 -0.1 0.1 -0.1 0.0 0.0 0.1 -0.1 0.1 -0.2 0.1 -0.1 0.1 -0.1 0.1 -0.2 0.0 0.0 0.1 -0.2 0.1 -0.1 0.1 -0.2 0.1 -0.2 0.1 -0.3 0.0 0.0 0.1 -0.2 0.1 -0.3 0.1 -0.4 0.1 -0.3 0.1 -0.4 0.0 0.0 0.1 -0.5 0.1 -0.5 0.1 -0.6 0.1 -0.7 0.1 -0.8 0.0 0.0 0.1 -0.8 0.1 -1.0 0.1 -1.1 0.1 -1.2 0.1 -1.4 0.0 0.0 0.1 -1.6 0.1 -1.7 0.1 -1.9 0.1 -2.1 0.1 -2.2 0.0 0.0 0.1 -2.5 0.1 -2.7 0.1 -2.9 0.1 -3.1 0.1 -3.2 0.0 0.0 0.1 -3.4 0.1 -3.6 0.1 -3.7 0.1 -3.8 0.1 -3.8 0.0 0.0 0.1 -3.8 0.1 -3.8 0.1 -3.7 0.1 -3.5 0.1 -3.2 0.0 0.0 0.1 -3.0 0.1 -2.5 0.1 -2.2 0.1 -1.5 0.1 -1.1 0.0 0.0 0.1 -0.3 0.1 0.4 0.1 1.1 0.1 1.9 0.1 2.8 0.0 0.0 0.1 3.6 0.1 4.5 0.1 5.3 0.1 6.2 0.1 6.8 0.0 0.0 0.1 7.6 0.1 8.1 0.1 8.7 0.1 9.0 0.1 9.3 0.0 0.0 0.1 9.5 0.1 8.3 0.1 8.2 0.1 7.9 0.1 7.4 0.0 0.0 0.1 7.0 0.1 6.3 0.1 5.7 0.1 4.9 0.1 4.2 0.0 0.0 0.1 3.4 0.1 2.7 0.1 2.0 0.1 1.4 0.1 0.7 0.0 0.0 0.1 0.3 0.1 -0.2 0.1 -0.7 0.1 -0.9 0.1 -1.3 0.0 0.0 0.1 -1.5 0.1 -1.7 0.1 -1.8 0.1 -2.0 0.1 -2.0 0.0 0.0 0.1 -2.1 0.1 -2.1 0.1 -2.0 0.1 -2.1 0.1 -2.0 0.0 0.0 0.1 -2.0 0.1 -2.0 0.1 -1.9 0.1 -1.8 0.1 -1.8 0.0 0.0 0.1 -1.7 0.1 -1.6 0.1 -1.5 0.1 -1.5 0.1 -1.5 0.0 0.0 0.1 -1.3 0.1 -1.3 0.1 -1.3 0.1 -1.2 0.1 -1.1 0.0 0.0 0.1 -1.0 0.1 -1.1 0.1 -0.9 0.1 -0.9 0.1 -0.9 0.0 0.0 0.1 -0.9 0.1 -0.7 0.1 -0.8 0.1 -0.7 0.1 -0.7 0.0 0.0 0.1 -0.6 0.1 -0.7 0.1 -0.5 0.1 -0.6 0.1 -0.5 0.0 0.0 0.1 -0.5 0.1 -0.5 0.1 -0.5 0.1 -0.4 0.1 -0.4 0.0 0.0 0.1 -0.4 0.1 -0.4 0.1 -0.4 0.1 -0.3 0.1 -0.3 0.0 0.0 0.1 -0.4 0.1 -0.3 0.1 -0.2 0.1 -0.3 0.1 -0.3 0.0 0.0 0.1 -0.2 0.1 -0.3 0.1 -0.2 0.1 -0.2 0.1 -0.2 0.0 0.0 0.1 -0.2 0.1 -0.2 0.1 -0.2 0.1 -0.2 0.1 -0.2 0.0 0.0 0.1 -0.1 0.1 -0.2 0.1 -0.1 0.1 -0.2 0.1 -0.1 0.0 0.0 0.1 -0.2 0.1 -0.1 0.1 -0.1 0.1 -0.1 0.1 -0.2 0.0 0.0 0.1 -0.1 0.1 -0.1 0.1 -0.1 0.1 -0.1 0.1 -0.1 0.0 0.0 0.1 -0.1 0.1 -0.1 0.1 -0.1 0.1 0.0 0.1 -0.1 0.0 0.0 0.1 -0.1 0.1 -0.1 0.1 0.0 0.1 -0.1 0.1 -0.1 0.0 0.0 0.1 -0.1 0.1 0.0 0.1 -0.1 0.1 0.0 0.1 -0.1 0.0 0.0 0.1 -0.1 0.1 0.0 0.1 -0.1 0.1 0.0 0.1 -0.1 0.0 0.0 0.1 0.0 0.1 -0.1 0.1 0.0 0.1 0.0 0.1 -0.1 0.0 0.0 0.1 0.0 0.1 -0.1 0.1 0.0 0.1 0.0 0.1 -0.1 0.0 0.0 0.1 0.0 0.1 -0.1 0.1 0.0 0.1 0.0 0.1 -0.1 0.0 0.0 0.1 0.0 0.1 0.0 0.1 0.0 0.1 -0.1 0.1 0.0 0.0 0.0 0.1 0.0 0.1 -0.1 0.1 0.0 0.1 0.0 0.1 0.0 0.0 0.0 0.1 0.0 0.1 -0.1 0.1 0.0 0.1 0.0 0.1 0.0 0.0 0.0 0.1 -0.1 0.1 0.0 0.1 0.0 0.1 0.0 0.1 0.0 0.0 0.0 0.1 -0.1 0.1 0.0 0.1 0.0 0.1 0.0 0.1 0.0 0.0 0.0 0.1 0.0 0.1 -0.1 0.1 0.0 0.1 0.0 0.1 0.0 0.0 0.0 0.1 0.0 0.1 0.0 0.1 0.0 0.1 -0.1 0.1 0.0 0.0 0.0 0.1 0.0 0.1 0.0 0.1 0.0 0.1 0.0 0.1 0.0 0.5 -0.1 0.5 0.0 0.5 -0.1 0.5 0.0 0.5 -0.1 0.5 0.0 0.5 0.0 0.5 0.0 0.5 -0.1 0.5 0.0 0.5 0.0 0.5 0.0 0.5 -0.1 0.5 0.0 0.5 0.0 0.5 0.0 0.5 0.0 0.5 0.0 0.5 0.0 0.5 0.0 0.5 -0.1 0.5 0.0 0.5 0.0 0.5 0.0 0.5 0.0 0.5 0.0 0.5 0.0 0.5 0.0 0.5 0.0 0.5 0.0 0.5 0.0 0.5 0.0 0.5 0.0 0.5 0.0 0.5 0.0 0.5 -0.1 0.5 0.0 0.5 0.0 0.5 0.0 0.5 0.0 0.5 0.0 0.5 0.0 0.5 0.0 0.5 0.0 0.5 0.0 0.5 0.0 0.5 0.0 0.5 0.0 0.5 0.0 0.5 0.0 0.5 0.0 0.5 0.0 0.5 0.0 0.5 0.0 0.5 0.0 0.5 0.0 0.5 0.0 0.5 0.0 0.5 0.0 0.5 0.0 0.5 0.0 0.5 0.0 0.5 0.0 0.5 0.0 0.5 0.0 0.5 0.0 0.5 0.0 0.5 0.0 0.5 0.0 0.5 0.0 0.5 0.0 0.5 0.0 0.5 0.0 0.5 0.0 0.5 0.0 0.5 0.0 0.5 0.0 0.5 0.0 0.5 0.0 0.5 0.0 0.5 0.0 0.5 0.0 0.5 0.0 0.5 0.0 0.5 0.0 0.5 0.0 0.5 0.0 0.5 0.0 0.5 0.0 0.5 0.0 0.5 0.0 0.5 0.0 0.5 0.0 0.5 -0.1 0.5 0.0 0.5 0.0 0.5 0.0 0.5 0.0 0.5 0.0 0.5 0.0 0.5 0.0 0.5 0.0 0.5 0.0 0.5 0.0 0.5 0.0 0.5 0.0 0.5 0.0 0.5 0.0 0.5 0.0 0.5 0.0 0.5 0.0 0.5 0.0 0.5 0.0 0.5 0.0 0.5 0.0 0.5 0.0 0.5 0.0 0.5 0.0 0.5 0.0 0.5 0.0 0.5 0.0 0.5 0.0 0.5 0.0 0.5 0.0 0.5 0.0 0.5 0.0 0.5 0.0 0.5 0.0 0.5 0.0 0.5 0.0 0.5 0.0 0.5 0.0 0.5 0.0 0.5 0.0 0.5 0.0 0.5 0.0 0.5 0.0 0.5 0.0 0.5 0.0 0.5 0.0 0.5 0.0 0.5 0.0 0.5 0.0 0.5 0.0 0.5 0.0 0.5 0.0 0.5 0.0 0.5 0.0 0.5 0.0 0.5 0.0 0.5 0.0 0.5 0.0 0.5 0.0 0.5 0.0 0.5 0.0 0.5 0.0 0.5 0.0 0.5 0.0 0.5 0.0 0.5 0.0 0.5 0.0 0.5 0.0 0.5 0.0 0.5 0.0 0.5 0.0 0.5 0.0 0.5 0.0 0.5 0.0 0.5 0.0 0.5 0.0 0.5 0.0 0.5 0.0 0.5 0.0 0.5 0.0 0.5 0.0 0.5 0.0 0.5 0.0 0.5 0.0 0.5 0.0 0.5 0.0 0.5 0.0 0.5 0.0 0.5 0.0 0.5 0.0 0.5 0.0 0.5 0.0 0.5 0.0 0.5 0.0 0.5 0.0 0.5 0.0 0.5 0.0 0.5 0.0 0.5 0.0 0.5 0.0 0.5 0.0 0.5 0.0 0.5 0.0 0.5 0.0 0.5 0.0 0.5 0.0 0.5 0.0 0.5 0.0 0.5 0.0 0.5 0.0 0.5 0.0 0.5 0.0 0.5 0.0 0.5 0.0 0.5 0.0 0.5 0.0 0.5 0.0 0.5 0.0 0.5 0.0 0.5 0.0 0.5 0.0 0.5 0.0 0.5 0.0 0.5 0.0 0.5 0.0 0.5 0.0 0.5 0.0 0.5 0.0 0.5 0.0 0.5 0.0 0.5 0.0 0.5 0.0 0.5 0.0 0.5 0.0 0.5 0.0 0.5 0.0 0.5 0.0 0.5 0.0 0.5 0.0 0.5 0.0 0.5 0.0 0.5 0.0 0.5 0.0 0.5 0.0 0.5 0.0 0.5 0.0 0.5 0.0 0.5 0.0 0.5 0.0 0.5 0.0 0.5 0.0 0.5 0.0 0.5 0.0 0.5 0.0 0.5 0.0 0.5 0.0 0.5 0.0 0.5 0.0 0.5 0.0 0.5 0.0 0.5 0.0 0.5 0.0 0.5 0.0 0.5 0.0 0.5 0.0 0.5 0.0 0.5 0.0 0.5 0.0 0.5 0.0 0.5 0.0 0.5 0.0 0.5 0.0 0.5 0.0 0.5 0.0 0.5 0.0 0.5 0.0 0.5 0.0 0.5 0.0 0.5 0.0 0.5 0.0 0.5 0.0 0.5 0.0 0.5 0.0 0.5 0.0 0.5 0.0 0.5 0.0 0.5 0.0 0.5 0.0 0.5 0.0 0.5 0.0 0.5 0.0 0.5 0.0 0.5 0.0 0.5 0.0 0.5 -0.1 0.5 0.0 0.5 0.0 0.5 0.0 0.5 0.0 0.5 0.0 0.5 0.0 0.5 0.0 0.5 0.0 0.5 0.0 0.5 0.0 0.5 0.0 0.5 0.0 0.5 0.0 0.5 0.0 0.5 0.0 0.5 0.0 0.5 0.0 0.5 0.0 0.5 0.0 0.5 0.0 0.5 0.0 0.5 0.0 0.5 0.0 0.5 0.0 0.5 0.0 0.5 0.0 0.5 0.0 0.5 0.0 0.5 0.0 0.5 0.0 0.5 0.0 0.5 0.0 0.5 0.0 0.5 0.0 0.5 0.0 0.5 0.0 0.5 0.0 0.5 0.0 0.5 0.0 0.5 0.0 0.5 0.0 0.5 0.0 0.5 0.0 0.5 0.0 0.5 0.0 0.5 0.0 0.5 0.0 0.5 0.0 0.5 0.0 0.5 0.0 0.5 0.0 0.5 0.0 0.5 0.0 0.5 0.0 0.5 0.0 0.5 0.0 0.5 0.0 0.5 0.0 0.5 0.0 0.5 0.0 0.5 0.0 0.5 0.0 0.5 0.0 0.5 0.0 0.5 0.0 0.5 0.0 0.5 0.0 0.5 0.0 0.5 0.0 0.5 0.0 0.5 0.0 0.5 0.0 0.5 0.0 0.5 0.0 0.5 0.0 0.5 0.0 0.5 0.0 0.5 0.0 0.5 0.0 0.5 0.0 0.5 0.0 0.5 0.0 0.5 0.0 0.5 0.0 0.5 0.0 0.5 0.0 0.5 0.0 0.5 0.0 0.5 0.0 0.5 0.0 0.5 0.0 0.5 0.0 0.5 0.0 0.5 0.0 0.5 0.0 0.5 0.0 0.5 0.0 0.5 0.0 0.5 0.0 0.5 0.0 0.5 0.0 0.5 0.0 0.5 0.0 0.5 0.0 0.5 0.0 0.5 0.0 0.5 0.0 0.5 0.0 0.5 0.0" fill="none" stroke="#2f4fa2" stroke-width="1.6" stroke-linejoin="round" />
<path d="M915.0 382.3l0.1 0.6 0.1 -3.5 0.2 0.7 0.1 0.7 0.1 -3.1 0.2 2.2 0.1 0.6 0.1 0.8 0.1 -1.8 0.1 4.8 0.2 -2.0 0.1 -2.9 0.1 -0.5 0.2 0.9 0.1 1.8 0.1 0.6 0.1 0.0 0.1 -0.4 0.2 -0.1 0.1 -3.0 0.1 1.6 0.2 1.4 0.1 1.0 0.1 -3.5 0.1 4.3 0.1 0.5 0.2 -6.3 0.1 -0.6 0.1 1.1 0.2 0.5 0.1 2.7 0.1 1.9 0.1 0.3 0.1 -3.2 0.2 -0.6 0.1 4.8 0.1 -1.8 0.2 -0.9 0.1 -1.9 0.1 -0.4 0.1 2.6 0.1 -1.2 0.2 -0.1 0.1 -0.1 0.1 1.7 0.2 0.7 0.1 -0.8 0.1 -1.1 0.1 -4.1 0.1 4.9 0.2 -0.9 0.1 -4.2 0.1 3.5 0.2 -1.1 0.1 2.1 0.1 -0.1 0.1 1.1 0.1 2.6 0.2 -7.5 0.1 5.6 0.1 -4.9 0.2 4.7 0.1 -1.8 0.1 -0.3 0.1 -7.3 0.1 8.2 0.2 0.8 0.1 -1.1 0.1 1.3 0.2 2.0 0.1 -3.2 0.1 0.3 0.1 -1.0 0.1 -2.4 0.2 5.5 0.1 -0.6 0.1 -3.2 0.2 0.2 0.1 2.4 0.1 -1.4 0.1 -2.5 0.1 0.3 0.2 4.6 0.1 -4.3 0.1 0.5 0.2 1.7 0.1 0.4 0.1 0.3 0.1 -2.7 0.1 0.4 0.2 0.9 0.1 -1.9 0.1 6.4 0.2 -4.7 0.1 2.8 0.1 -4.1 0.1 0.3 0.1 0.1 0.2 0.1 0.1 -1.9 0.1 1.9 0.2 2.6 0.1 1.6 0.1 -0.7 0.1 0.1 0.1 1.3 0.2 -3.3 0.1 1.9 0.1 0.4 0.2 -3.4 0.1 1.0 0.1 1.8 0.1 1.5 0.1 -5.7 0.2 5.6 0.1 -4.3 0.1 -1.4 0.2 0.5 0.1 -2.2 0.1 3.6 0.1 0.6 0.1 3.1 0.2 -1.3 0.1 1.5 0.1 2.0 0.2 -1.5 0.1 -4.9 0.1 -0.6 0.1 1.8 0.1 -0.6 0.2 1.6 0.1 -2.2 0.1 -0.5 0.2 3.8 0.1 -1.3 0.1 1.7 0.1 0.0 0.1 -4.3 0.2 3.4 0.1 -0.7 0.1 0.3 0.2 0.2 0.1 -3.0 0.1 0.3 0.1 -1.6 0.1 -0.6 0.2 1.0 0.1 -1.5 0.1 5.4 0.2 -1.0 0.1 -0.8 0.1 1.7 0.1 -5.4 0.1 8.4 0.2 -6.6 0.1 2.6 0.1 -0.6 0.2 -1.6 0.1 2.3 0.1 -1.8 0.1 2.4 0.1 0.2 0.2 -2.3 0.1 4.5 0.1 -2.3 0.2 -2.8 0.1 -0.2 0.1 2.9 0.1 -7.0 0.1 3.2 0.2 2.7 0.1 1.1 0.1 -0.9 0.2 0.0 0.1 -2.2 0.1 -0.3 0.1 5.6 0.1 -4.4 0.2 1.3 0.1 -0.9 0.1 3.2 0.2 -7.3 0.1 4.0 0.1 -1.6 0.1 1.3 0.1 1.2 0.2 -3.1 0.1 4.8 0.1 -4.2 0.2 2.9 0.1 -1.9 0.1 0.4 0.1 1.7 0.1 -1.6 0.2 1.2 0.1 -0.9 0.1 1.2 0.2 -3.5 0.1 0.2 0.1 3.2 0.1 -0.9 0.1 -0.4 0.2 -0.9 0.1 -2.6 0.1 4.7 0.2 0.5 0.1 -2.1 0.1 -2.7 0.1 0.2 0.1 4.5 0.2 -2.3 0.1 0.8 0.1 -1.3 0.2 2.9 0.1 -1.3 0.1 -2.6 0.1 -1.2 0.1 2.4 0.2 -0.8 0.1 -0.2 0.1 4.9 0.2 -0.2 0.1 -1.1 0.1 -0.9 0.1 4.8 0.1 -6.7 0.2 1.7 0.1 -1.3 0.1 -1.1 0.2 4.4 0.1 -2.7 0.1 -1.3 0.1 -0.2 0.1 1.5 0.2 -0.7 0.1 -1.6 0.1 0.9 0.2 2.3 0.1 -3.9 0.1 1.9 0.1 6.2 0.1 -4.0 0.2 -2.0 0.1 1.6 0.1 -0.9 0.2 0.1 0.1 3.1 0.1 -1.8 0.1 0.9 0.1 -2.4 0.2 0.0 0.1 2.1 0.1 1.7 0.2 -2.2 0.1 -2.0 0.1 3.0 0.1 -0.9 0.1 -1.7 0.2 -0.3 0.1 1.0 0.1 -3.0 0.2 2.0 0.1 -2.6 0.1 5.9 0.1 -1.9 0.1 0.7 0.2 -3.4 0.1 3.9 0.1 -0.5 0.2 -2.6 0.1 4.3 0.1 -2.7 0.1 0.8 0.1 0.6 0.2 -2.5 0.1 0.9 0.1 0.1 0.2 0.1 0.1 -1.1 0.1 2.0 0.1 -2.6 0.1 -1.1 0.2 3.4 0.1 -1.1 0.1 1.2 0.2 3.2 0.1 -1.5 0.1 0.2 0.1 -2.2 0.1 0.1 0.2 -0.7 0.1 0.6 0.1 1.0 0.2 0.5 0.1 -1.4 0.1 -1.7 0.1 3.7 0.1 -5.7 0.2 2.6 0.1 1.6 0.1 3.2 0.2 -2.3 0.1 1.6 0.1 -2.7 0.1 -3.8 0.1 2.3 0.2 -1.1 0.1 1.7 0.1 -0.9 0.2 0.3 0.1 2.3 0.1 0.0 0.1 2.6 0.1 -4.4 0.2 0.9 0.1 1.5 0.1 -1.3 0.2 -1.5 0.1 0.5 0.1 -3.2 0.1 1.7 0.1 2.2 0.2 -0.3 0.1 -1.7 0.1 1.1 0.2 6.2 0.1 -2.8 0.1 -2.1 0.1 -2.6 0.1 4.4 0.2 -4.2 0.1 -3.0 0.1 6.0 0.2 3.0 0.1 -7.6 0.1 -0.6 0.1 2.7 0.1 2.9 0.2 -2.0 0.1 -0.1 0.1 -0.5 0.2 2.4 0.1 1.1 0.1 -2.8 0.1 3.4 0.1 -3.5 0.2 1.5 0.1 -0.9 0.1 -0.8 0.2 0.4 0.1 -4.5 0.1 5.0 0.1 3.8 0.1 -0.9 0.2 -1.5 0.1 -0.9 0.1 -3.9 0.2 3.9 0.1 -4.2 0.1 3.6 0.1 1.3 0.1 -6.0 0.2 2.8 0.1 2.9 0.1 -1.2 0.2 -0.7 0.1 3.0 0.1 0.2 0.1 -4.3 0.1 -2.7 0.2 2.8 0.1 1.4 0.1 4.5 0.2 -2.4 0.1 -3.6 0.1 4.0 0.1 -3.7 0.1 -0.2 0.2 0.1 0.1 1.6 0.1 1.6 0.2 -0.5 0.1 -3.1 0.1 1.8 0.1 -5.1 0.1 3.1 0.2 -3.2 0.1 4.2 0.1 4.8 0.2 -2.4 0.1 -3.7 0.1 3.7 0.1 0.0 0.1 -2.4 0.2 0.9 0.1 -2.5 0.1 5.9 0.2 -3.4 0.1 -2.6 0.1 -1.0 0.1 6.6 0.1 -6.5 0.2 2.6 0.1 -1.0 0.1 0.7 0.2 1.8 0.1 1.1 0.1 -2.5 0.1 0.2 0.1 2.1 0.2 -0.9 0.1 1.2 0.1 -5.5 0.2 5.2 0.1 0.2 0.1 -5.2 0.1 2.7 0.1 1.2 0.2 -0.2 0.1 2.1 0.1 1.0 0.2 -0.3 0.1 -5.1 0.1 5.5 0.1 -1.1 0.1 -3.9 0.2 -0.3 0.1 3.3 0.1 -2.7 0.2 -0.1 0.1 -1.0 0.1 4.8 0.1 -3.2 0.1 3.4 0.2 -5.1 0.1 1.2 0.1 2.2 0.2 1.5 0.1 2.8 0.1 -3.9 0.1 -1.1 0.1 -1.9 0.2 5.6 0.1 -2.8 0.1 0.2 0.2 -0.3 0.1 0.0 0.1 -0.9 0.1 0.7 0.1 0.1 0.2 -0.2 0.1 1.5 0.1 -1.0 0.2 -4.0 0.1 0.3 0.1 1.1 0.1 1.9 0.1 1.4 0.2 0.5 0.1 -0.8 0.1 -1.1 0.2 -2.7 0.1 2.9 0.1 0.2 0.1 -3.0 0.1 3.2 0.2 -0.2 0.1 -2.3 0.1 2.6 0.2 0.1 0.1 -2.0 0.1 1.0 0.1 0.4 0.1 -0.8 0.2 -3.3 0.1 4.1 0.1 -3.8 0.2 4.8 0.1 -0.9 0.1 1.6 0.1 -1.9 0.1 -1.3 0.2 0.7 0.1 -2.3 0.1 4.0 0.2 -0.8 0.1 -1.0 0.1 2.8 0.1 -5.8 0.1 3.4 0.2 -2.6 0.1 -1.4 0.1 2.9 0.2 -1.1 0.1 5.1 0.1 -4.4 0.1 -2.2 0.1 7.0 0.2 -2.0 0.1 0.7 0.1 -1.0 0.2 0.1 0.1 1.5 0.1 -0.2 0.1 -3.5 0.1 3.5 0.2 -8.0 0.1 4.8 0.1 -0.1 0.2 0.4 0.1 1.2 0.1 -0.5 0.1 3.1 0.1 -7.5 0.2 2.7 0.1 2.7 0.1 -0.2 0.2 -3.2 0.1 1.7 0.1 -0.5 0.1 0.9 0.1 -0.3 0.2 -2.6 0.1 1.0 0.1 -1.1 0.2 2.5 0.1 2.3 0.1 0.7 0.1 -1.1 0.1 -1.5 0.2 -4.3 0.1 4.5 0.1 -3.8 0.2 1.1 0.1 0.8 0.1 1.9 0.1 -0.1 0.1 -3.0 0.2 -1.2 0.1 4.6 0.1 -1.0 0.2 -3.4 0.1 4.4 0.1 -3.4 0.1 4.0 0.1 0.7 0.2 1.9 0.1 -3.5 0.1 -3.4 0.2 7.1 0.1 -8.0 0.1 3.3 0.1 -1.3 0.1 2.0 0.2 1.7 0.1 0.5 0.1 -4.9 0.2 -2.9 0.1 7.5 0.1 0.6 0.1 -1.7 0.1 1.3 0.2 -3.7 0.1 0.1 0.1 -3.0 0.2 4.8 0.1 -2.6 0.1 3.1 0.1 -2.7 0.1 -0.7 0.2 -2.4 0.1 4.0 0.1 -0.6 0.2 2.0 0.1 -3.3 0.1 3.1 0.1 -2.0 0.1 0.8 0.2 -1.4 0.1 1.1 0.1 1.8 0.2 1.9 0.1 -4.1 0.1 1.3 0.1 1.9 0.1 -2.8 0.2 4.2 0.1 -3.9 0.1 0.8 0.2 1.3 0.1 -1.3 0.1 1.4 0.1 0.3 0.1 -0.6 0.2 -1.1 0.1 -3.1 0.1 2.6 0.2 1.3 0.1 -2.3 0.1 2.9 0.1 -1.0 0.1 -0.1 0.2 -1.2 0.1 0.9 0.1 0.4 0.2 -1.3 0.1 1.6 0.1 -3.4 0.1 2.8 0.1 1.0 0.2 -4.5 0.1 2.9 0.1 0.6 0.2 -1.4 0.1 2.7 0.1 2.1 0.1 -1.1 0.1 -2.4 0.2 1.0 0.1 2.4 0.1 -4.1 0.2 1.0 0.1 1.0 0.1 0.9 0.1 -3.3 0.1 2.3 0.2 -5.4 0.1 5.2 0.1 -2.0 0.2 0.8 0.1 5.4 0.1 -5.6 0.1 -3.5 0.1 4.1 0.2 0.7 0.1 -2.1 0.1 0.5 0.2 1.3 0.1 -0.1 0.1 -3.2 0.1 1.1 0.1 2.4 0.2 -0.1 0.1 -0.7 0.1 2.5 0.2 -0.9 0.1 -2.7 0.1 2.4 0.1 0.7 0.1 -4.7 0.2 1.8 0.1 1.0 0.1 -3.8 0.2 6.4 0.1 0.1 0.1 -8.1 0.1 3.4 0.1 4.8 0.2 1.4 0.1 -3.0 0.1 2.7 0.2 -2.6 0.1 -0.6 0.1 3.1 0.1 -4.8 0.1 0.3 0.2 0.9 0.1 -0.5 0.1 -2.2 0.2 0.3 0.1 5.9 0.1 -3.9 0.1 -1.4 0.1 -1.6 0.2 1.0 0.1 1.7 0.1 -2.1 0.2 5.1 0.1 -3.3 0.1 2.1 0.1 -2.8 0.1 1.2 0.2 -3.6 0.1 1.8 0.1 0.6 0.2 2.8 0.1 -3.5 0.1 4.8 0.1 -4.5 0.1 1.9 0.2 0.6 0.1 -1.3 0.1 -1.4 0.2 -0.1 0.1 2.5 0.1 -2.2 0.1 5.6 0.1 -2.3 0.2 -2.2 0.1 -2.2 0.1 4.8 0.2 2.0 0.1 -6.2 0.1 -1.7 0.1 5.2 0.1 2.5 0.2 -2.6 0.1 -3.2 0.1 1.2 0.2 2.7 0.1 -3.6 0.1 2.7 0.1 0.5 0.1 0.9 0.2 -4.5 0.1 2.3 0.1 1.2 0.2 -1.6 0.1 1.9 0.1 -2.2 0.1 -1.5 0.1 -0.8 0.2 2.2 0.1 0.5 0.1 2.3 0.2 -1.6 0.1 -2.7 0.1 3.2 0.1 3.0 0.1 -5.4 0.2 2.3 0.1 -4.6 0.1 8.8 0.2 -3.2 0.1 0.8 0.1 -2.6 0.1 0.3 0.1 -1.1 0.2 -1.0 0.1 5.3 0.1 -1.5 0.2 -3.6 0.1 0.2 0.1 0.9 0.1 0.5 0.1 2.9 0.2 -6.9 0.1 2.2 0.1 -2.5 0.2 2.8 0.1 1.4 0.1 3.5 0.1 -1.6 0.1 -0.1 0.2 -2.8 0.1 5.0 0.1 -1.6 0.2 -3.3 0.1 -0.6 0.1 2.7 0.1 -3.8 0.1 0.7 0.2 3.0 0.1 -1.2 0.1 -1.1 0.2 0.9 0.1 -0.2 0.1 -0.1 0.1 1.2 0.1 -4.1 0.2 5.3 0.1 -2.3 0.1 0.1 0.2 0.5 0.1 1.2 0.1 4.0 0.1 -6.6 0.1 -0.1 0.2 1.4 0.1 -0.5 0.1 -2.4 0.2 2.6 0.1 -0.4 0.1 4.2 0.1 -1.5 0.1 -5.9 0.2 -0.5 0.1 8.2 0.1 -4.3 0.2 -3.6 0.1 2.8 0.1 3.9 0.1 -1.9 0.1 3.4 0.2 -0.9 0.1 -4.0 0.1 2.7 0.2 -5.0 0.1 4.2 0.1 -0.2 0.1 -0.2 0.1 0.5 0.2 3.4 0.1 -6.3 0.1 0.5 0.2 1.5 0.1 -0.9 0.1 2.3 0.1 -1.6 0.1 -3.1 0.2 3.8 0.1 -1.5 0.1 -1.6 0.2 4.8 0.1 -3.4 0.1 0.9 0.1 2.4 0.1 -3.1 0.2 -0.4 0.1 0.4 0.1 1.3 0.2 -0.6 0.1 2.6 0.1 -3.9 0.1 4.5 0.1 -1.2 0.2 0.1 0.1 -1.9 0.1 -3.1 0.2 2.2 0.1 2.0 0.1 1.1 0.1 -3.4 0.1 1.0 0.2 1.0 0.1 0.9 0.1 -1.2 0.2 -3.0 0.1 0.3 0.1 2.5 0.1 -1.4 0.1 6.3 0.2 -7.6 0.1 2.9 0.1 -1.8 0.2 2.5 0.1 2.9 0.1 -8.1 0.1 3.8 0.1 -0.3 0.2 2.1 0.1 -2.3 0.1 1.6 0.2 -2.4 0.1 4.4 0.1 -0.1 0.1 -3.3 0.1 -3.8 0.2 3.8 0.1 0.3 0.1 -2.2 0.2 5.2 0.1 -6.5 0.1 7.7 0.1 -3.6 0.1 1.1 0.2 -3.5 0.1 -0.5 0.1 3.7 0.2 3.4 0.1 -4.5 0.1 3.6 0.1 -2.1 0.1 -2.7 0.2 2.5 0.1 0.6 0.1 -2.2 0.2 1.6 0.1 -0.4 0.1 2.3 0.1 -3.6 0.1 0.1 0.2 2.2 0.1 -5.2 0.1 3.2 0.2 -0.9 0.1 0.1 0.1 3.1 0.1 -1.5 0.1 -0.6 0.2 1.9 0.1 -4.7 0.1 4.3 0.2 -2.8 0.1 2.4 0.1 2.6 0.1 -3.3 0.1 -2.0 0.2 -1.4 0.1 1.6 0.1 -0.3 0.2 -0.8 0.1 -0.2 0.1 1.0 0.1 -0.1 0.1 1.2 0.2 -0.2 0.1 3.9 0.1 -3.6 0.2 0.1 0.1 1.2 0.1 -0.1 0.1 -2.0 0.1 -0.5 0.2 0.9 0.1 -0.4 0.1 3.6 0.2 -4.5 0.1 1.2 0.1 1.0 0.1 0.9 0.1 2.1 0.2 -3.8 0.1 0.2 0.1 3.5 0.2 -0.2 0.1 -3.1 0.1 -2.0 0.1 3.3 0.1 -3.8 0.2 6.0 0.1 -1.1 0.1 -4.2 0.2 4.5 0.1 -4.1 0.1 1.0 0.1 3.3 0.1 -5.1 0.2 -1.5 0.1 1.7 0.1 3.3 0.2 -0.3 0.1 -2.0 0.1 -2.5 0.1 3.3 0.1 -1.3 0.2 3.6 0.1 -5.6 0.1 5.5 0.2 -2.0 0.1 1.0 0.1 0.5 0.1 0.0 0.1 -3.4 0.2 3.8 0.1 -4.3 0.1 4.2 0.2 -1.5 0.1 -1.2 0.1 1.1 0.1 0.6 0.1 -0.2 0.2 1.6 0.1 -1.4 0.1 -0.9 0.2 5.6 0.1 -6.4 0.1 -0.7 0.1 3.5 0.1 1.3 0.2 -0.2 0.1 0.1 0.1 0.5 0.2 -4.2 0.1 3.3 0.1 -4.3 0.1 2.9 0.1 -2.8 0.2 2.3 0.1 0.3 0.1 -0.1 0.2 -1.6 0.1 -0.8 0.1 3.7 0.1 0.8 0.1 -3.7 0.2 -3.3 0.1 4.0 0.1 2.0 0.2 -2.6 0.1 -0.3 0.1 2.5 0.1 1.0 0.1 -4.5 0.2 -0.3 0.1 1.6 0.1 -2.1 0.2 3.9 0.1 -4.0 0.1 5.6 0.1 -3.7 0.1 0.3 0.2 2.5 0.1 -0.4 0.1 -0.5 0.2 0.6 0.1 -2.8 0.1 5.4 0.1 -7.1 0.1 1.8 0.2 -0.9 0.1 0.1 0.1 4.4 0.2 0.4 0.1 -0.1 0.1 -2.0 0.1 -4.4 0.1 0.3 0.2 1.1 0.1 0.5 0.1 2.4 0.2 0.0 0.1 -1.1 0.1 -3.1 0.1 4.8 0.1 -1.4 0.2 -3.6 0.1 4.5 0.1 -2.5 0.2 5.8 0.1 -7.1 0.1 4.3 0.1 -2.1 0.1 -3.6 0.2 1.5 0.1 0.1 0.1 2.3 0.2 3.2 0.1 -1.6 0.1 2.3 0.1 -1.9 0.1 1.0 0.2 -2.5 0.1 1.1 0.1 0.4 0.2 -1.8 0.1 1.4 0.1 -1.8 0.1 1.0 0.1 -1.4 0.2 1.2 0.1 -0.3 0.1 2.9 0.2 -3.6 0.1 -0.3 0.1 2.1 0.1 -1.6 0.1 -0.1 0.2 1.3 0.1 0.5 0.1 -0.5 0.2 2.1 0.1 1.4 0.1 -1.4 0.1 -3.2 0.1 -2.4 0.2 -0.1 0.1 2.4 0.1 -3.3 0.2 3.9 0.1 -1.7 0.1 0.9 0.1 1.4 0.1 -0.8 0.2 -4.5 0.1 0.9 0.1 6.7 0.2 -3.2 0.1 3.4 0.1 -3.4 0.1 1.0 0.1 -2.1 0.2 2.3 0.1 0.8 0.1 -1.2 0.2 1.6 0.1 -1.2 0.1 -4.8 0.1 5.6 0.1 0.4 0.2 -3.6 0.1 3.6 0.1 -4.5 0.2 2.1 0.1 1.4 0.1 -6.1 0.1 6.3 0.1 -1.1 0.2 1.9 0.1 -2.9 0.1 0.9 0.2 0.0 0.1 0.1 0.1 -2.1 0.1 4.9 0.1 -5.5 0.2 2.1 0.1 1.6 0.1 -2.4 0.2 3.7 0.1 -3.2 0.1 -0.4 0.1 2.3 0.1 2.9 0.2 -4.3 0.1 2.6 0.1 -3.6 0.2 1.1 0.1 0.3 0.1 1.3 0.1 -0.6 0.1 -2.8 0.2 0.4 0.1 0.9 0.1 1.5 0.2 4.3 0.1 -5.4 0.1 3.8 0.1 0.7 0.1 -5.3 0.2 -0.8 0.1 4.4 0.1 -5.3 0.2 6.1 0.1 -3.2 0.1 1.6 0.1 -0.9 0.1 -4.5 0.2 5.8 0.1 -1.2 0.1 -5.6 0.2 1.3 0.1 4.3 0.1 -0.2 0.1 -0.6 0.1 0.3 0.2 -2.4 0.1 1.0 0.1 3.8 0.2 -7.6 0.1 -0.7 0.1 8.5 0.1 -1.7 0.1 2.3 0.2 -2.0 0.1 0.6 0.1 -1.6 0.2 -3.5 0.1 0.9 0.1 4.1 0.1 -1.4 0.1 1.3 0.2 1.6 0.1 -3.4 0.1 4.6 0.2 -5.6 0.1 1.0 0.1 1.6 0.1 0.3 0.1 -2.3 0.2 2.4 0.1 -5.5 0.1 4.3 0.2 1.3 0.1 -1.8 0.1 -0.3 0.1 0.4 0.1 -2.4 0.2 6.0 0.1 -3.9 0.1 -1.1 0.2 0.4 0.1 0.9 0.1 -1.9 0.1 -1.5 0.1 5.0 0.2 -3.3 0.1 0.4 0.1 -3.0 0.2 5.1 0.1 0.9 0.1 -0.5 0.1 -0.5 0.1 -4.9 0.2 7.5 0.1 -2.4 0.1 -2.2 0.2 2.7 0.1 -0.9 0.1 0.4 0.1 -1.9 0.1 1.4 0.2 -0.9 0.1 1.8 0.1 -1.8 0.2 1.1 0.1 -1.0 0.1 1.3 0.1 0.4 0.1 -1.3 0.2 2.0 0.1 -2.2 0.1 6.1 0.2 -3.8 0.1 0.0 0.1 -5.7 0.1 2.1 0.1 1.2 0.2 1.1 0.1 -0.1 0.1 0.3 0.2 -3.3 0.1 6.6 0.1 -3.7 0.1 0.6 0.1 -1.1 0.2 0.0 0.1 -0.3 0.1 3.6 0.2 -4.4 0.1 2.1 0.1 1.7 0.1 -5.5 0.1 0.9 0.2 -0.5 0.1 3.2 0.1 -4.6 0.2 2.8 0.1 0.7 0.1 -0.8 0.1 -3.1 0.1 7.3 0.2 -5.5 0.1 0.2 0.1 3.7 0.2 -3.6 0.1 -0.1 0.1 -0.8 0.1 1.4 0.1 1.6 0.2 2.4 0.1 -2.5 0.1 0.7 0.2 -4.6 0.1 4.5 0.1 1.2 0.1 0.4 0.1 -5.9 0.2 1.6 0.1 -1.7 0.1 3.2 0.2 3.0 0.1 -6.2 0.1 4.2 0.1 -2.4 0.1 3.7 0.2 -3.6 0.1 -2.7 0.1 2.5 0.2 0.6 0.1 -0.7 0.1 -0.7 0.1 3.0 0.1 -0.1 0.2 -1.5 0.1 2.1 0.1 -0.7 0.2 2.2 0.1 0.9 0.1 0.3 0.1 -5.0 0.1 2.5 0.2 -1.7 0.1 1.5 0.1 0.4 0.2 -1.4 0.1 0.0 0.1 2.1 0.1 -2.7 0.1 -0.5 0.2 -1.0 0.1 -0.3 0.1 4.4 0.2 0.8 0.1 -2.6 0.1 -1.0 0.1 4.6 0.1 -3.7 0.2 -0.9 0.1 0.5 0.1 2.3 0.2 -1.6 0.1 2.8 0.1 -1.5 0.1 -1.6 0.1 -4.3 0.2 1.7 0.1 5.2 0.1 -0.6 0.2 -1.2 0.1 0.3 0.1 -1.0 0.1 0.0 0.1 -1.9 0.2 3.8 0.1 -0.6 0.1 -3.6 0.2 -0.4 0.1 3.4 0.1 -2.5 0.1 4.7 0.1 -3.3 0.2 -2.7 0.1 1.3 0.1 -0.4 0.2 0.1 0.1 3.1 0.1 -3.1 0.1 -0.7 0.1 -2.7 0.2 6.1 0.1 -0.6 0.1 -5.1 0.2 7.2 0.1 -3.3 0.1 4.7 0.1 -3.6 0.1 -1.8 0.2 2.5 0.1 0.9 0.1 -5.0 0.2 3.3 0.1 0.7 0.1 -1.8 0.1 -1.5 0.1 1.2 0.2 3.7 0.1 0.0 0.1 -1.4 0.2 3.4 0.1 -2.5 0.1 0.7 0.1 -0.7 0.1 -1.1 0.2 -0.9 0.1 1.6 0.1 -2.3 0.2 0.9 0.1 -5.5 0.1 3.0 0.1 -0.5 0.1 6.8 0.2 -8.4 0.1 4.7 0.1 1.4 0.2 -2.9 0.1 0.3 0.1 0.9 0.1 -4.6 0.1 4.2 0.2 3.2 0.1 -0.9 0.1 -1.6 0.2 0.0 0.1 2.3 0.1 -4.1 0.1 2.4 0.1 1.8 0.2 -5.2 0.1 2.0 0.1 1.9 0.2 2.7 0.1 -6.9 0.1 4.5 0.1 1.9 0.1 -2.3 0.2 -1.2 0.1 0.0 0.1 -2.6 0.2 5.7 0.1 -6.1 0.1 2.9 0.1 -0.7 0.1 1.8 0.2 -1.9 0.1 3.7 0.1 -6.8 0.2 -0.4 0.1 4.3 0.1 -2.9 0.1 4.5 0.1 -0.1 0.2 0.4 0.1 -4.0 0.1 0.7 0.2 0.6 0.1 1.4 0.1 -0.3 0.1 1.7 0.1 -2.6 0.2 5.5 0.1 -3.6 0.1 0.4 0.2 -6.2 0.1 3.0 0.1 3.9 0.1 -3.4 0.1 -0.1 0.2 -1.2 0.1 2.1 0.1 2.2 0.2 -1.5 0.1 2.4 0.1 -4.5 0.1 3.2 0.1 -1.1 0.2 0.0 0.1 -3.5 0.1 3.1 0.2 0.6 0.1 -3.9 0.1 7.1 0.1 -4.0 0.1 -2.8 0.2 5.2 0.1 -4.9 0.1 3.1 0.2 -4.3 0.1 6.0 0.1 -1.7 0.1 -1.1 0.1 -1.7 0.2 -0.6 0.1 5.7 0.1 -3.5 0.2 3.3 0.1 -4.8 0.1 2.1 0.1 -2.6 0.1 3.2 0.2 -5.4 0.1 6.0 0.1 -4.4 0.2 4.0 0.1 -0.4 0.1 -0.2 0.1 0.1 0.1 3.7 0.2 -6.2 0.1 0.4 0.1 3.9 0.2 -1.0 0.1 1.6 0.1 -2.0 0.1 -1.6 0.1 1.0 0.2 1.2 0.1 0.6 0.1 -1.1 0.2 -2.3 0.1 1.2 0.1 3.8 0.1 -5.2 0.1 4.7 0.2 -6.0 0.1 1.3 0.1 -1.2 0.2 5.5 0.1 -3.3 0.1 0.4 0.1 3.0 0.1 -1.9 0.2 -4.0 0.1 0.7 0.1 -1.4 0.2 5.5 0.1 -1.8 0.1 -1.7 0.1 1.9 0.1 1.4 0.2 0.7 0.1 2.8 0.1 -6.5 0.2 3.5 0.1 0.2 0.1 -1.3 0.1 -6.5 0.1 2.9 0.2 7.2 0.1 -6.0 0.1 2.3 0.2 -2.3 0.1 6.3 0.1 -2.3 0.1 -3.9 0.1 -0.9 0.2 4.0 0.1 0.9 0.1 -3.2 0.2 2.5 0.1 -1.4 0.1 0.0 0.1 0.3 0.1 -3.5 0.2 1.6 0.1 2.5 0.1 -0.7 0.2 3.3 0.1 -6.3 0.1 3.9 0.1 4.4 0.1 -4.2 0.2 0.5 0.1 -2.8 0.1 0.0 0.2 1.8 0.1 -2.9 0.1 -0.8 0.1 -0.5 0.1 0.1 0.2 5.1 0.1 -0.5 0.1 0.7 0.2 -1.6 0.1 0.3 0.1 -3.3 0.1 2.1 0.1 1.7 0.2 -3.1 0.1 -2.2 0.1 5.1 0.2 -3.6 0.1 4.1 0.1 -2.5 0.1 -0.9 0.1 -0.1 0.2 0.2 0.1 2.4 0.1 0.2 0.2 0.9 0.1 -1.1 0.1 -0.4 0.1 1.2 0.1 -2.2 0.2 -0.8 0.1 1.0 0.1 -0.7 0.2 -2.8 0.1 1.1 0.1 3.7 0.1 -0.9 0.1 -0.6 0.2 1.5 0.1 0.3 0.1 1.9 0.2 -0.9 0.1 -1.2 0.1 0.7 0.1 -0.2 0.1 -4.7 0.2 7.6 0.1 -6.1 0.1 3.6 0.2 -2.6 0.1 -0.8 0.1 4.3 0.1 -4.5 0.1 0.9 0.2 -4.3 0.1 6.5 0.1 -2.4 0.2 -0.9 0.1 3.8 0.1 -2.3 0.1 -5.2 0.1 6.9 0.2 -3.6 0.1 0.6 0.1 0.0 0.2 -1.6 0.1 2.4 0.1 1.0 0.1 2.0 0.1 0.6 0.2 -4.3 0.1 5.2 0.1 -4.2 0.2 3.5 0.1 -2.2 0.1 -0.3 0.1 -5.3 0.1 7.7 0.2 -5.9 0.1 4.6 0.1 -5.2 0.2 -0.6 0.1 0.7 0.1 0.5 0.1 0.7 0.1 3.1 0.2 0.5 0.1 0.0 0.1 1.2 0.2 -1.0 0.1 -0.4 0.1 -0.7 0.1 2.7 0.1 -2.9 0.2 -4.2 0.1 2.2 0.1 4.6 0.2 -3.3 0.1 -0.6 0.1 3.8 0.1 -2.1 0.1 0.1 0.2 -0.1 0.1 3.3 0.1 -2.5 0.2 -0.2 0.1 0.3 0.1 -1.6 0.1 0.8 0.1 4.3 0.2 -4.0 0.1 2.4 0.1 -4.1 0.2 0.6 0.1 -0.8 0.1 1.9 0.1 2.2 0.1 -3.2 0.2 0.2 0.1 -2.3 0.1 5.0 0.2 0.0 0.1 -1.3 0.1 2.1 0.1 -1.2 0.1 -2.0 0.2 -3.5 0.1 3.1 0.1 -1.7 0.2 2.9 0.1 1.3 0.1 -2.8 0.1 -3.0 0.1 6.1 0.2 -0.6 0.1 0.3 0.1 -4.5 0.2 2.2 0.1 3.0 0.1 0.5 0.1 -0.3 0.1 -6.4 0.2 7.8 0.1 -5.2 0.1 0.0 0.2 3.1 0.1 -2.6 0.1 -0.1 0.1 1.5 0.1 -0.4 0.2 0.3 0.1 -0.8 0.1 -1.3 0.2 1.3 0.1 0.5 0.1 0.0 0.1 1.7 0.1 2.5 0.2 -6.8 0.1 2.9 0.1 0.5 0.2 -3.0 0.1 1.3 0.1 0.1 0.1 0.4 0.1 -0.5 0.2 -0.1 0.1 2.8 0.1 -4.6 0.2 4.4 0.1 0.6 0.1 -0.4 0.1 -4.1 0.1 -0.3 0.2 2.2 0.1 -1.0 0.1 -0.6 0.2 4.4 0.1 -4.6 0.1 3.8 0.1 1.3 0.1 0.3 0.2 1.2 0.1 -2.0 0.1 -2.0 0.2 -3.6 0.1 2.4 0.1 -0.6 0.1 4.7 0.1 -1.8 0.2 -1.5 0.1 -2.9 0.1 0.2 0.2 1.6 0.1 1.1 0.1 1.5 0.1 -1.2 0.1 -0.9 0.2 1.6 0.1 -4.2 0.1 1.0 0.2 0.1 0.1 1.9 0.1 1.0 0.1 -1.8 0.1 -2.9 0.2 3.8 0.1 -2.7 0.1 3.4 0.2 -5.9 0.1 9.0 0.1 -6.3 0.1 5.9 0.1 -2.3 0.2 1.6 0.1 -0.6 0.1 -3.7 0.2 0.3 0.1 -0.6 0.1 -0.8 0.1 4.4 0.1 -4.9 0.2 1.0 0.1 -3.1 0.1 4.7 0.2 -3.8 0.1 8.4 0.1 -5.4 0.1 -0.3 0.1 1.1 0.2 -2.7 0.1 0.6 0.1 0.9 0.2 0.4 0.1 0.8 0.1 -1.5 0.1 -4.6 0.1 3.6 0.2 -1.0 0.1 1.0 0.1 0.9 0.2 -0.8 0.1 4.3 0.1 -5.5 0.1 -1.4 0.1 1.7 0.2 0.2 0.1 2.7 0.1 -4.6 0.2 2.8 0.1 -0.5 0.1 -0.5 0.1 -0.1 0.1 0.0 0.2 -3.3 0.1 1.3 0.1 1.6 0.2 2.6 0.1 -1.4 0.1 -1.4 0.1 -0.1 0.1 0.1 0.2 0.4 0.1 0.7 0.1 -5.4 0.2 2.5 0.1 5.3 0.1 -3.0 0.1 -2.2 0.1 -0.7 0.2 1.4 0.1 -3.0 0.1 1.2 0.2 3.2 0.1 0.1 0.1 -1.1 0.1 -0.1 0.1 -0.7 0.2 -1.8 0.1 0.9 0.1 1.0 0.2 1.0 0.1 -1.9 0.1 0.3 0.1 5.0 0.1 -3.2 0.2 2.6 0.1 -1.8 0.1 -1.4 0.2 1.4 0.1 -1.4 0.1 5.4 0.1 0.7 0.1 0.6 0.2 -0.5 0.1 -0.7 0.1 -0.1 0.2 4.0 0.1 -1.3 0.1 0.2 0.1 0.8 0.1 1.6 0.2 -0.9 0.1 1.6 0.1 1.9 0.2 0.3 0.1 -3.6 0.1 1.8 0.1 -1.6 0.1 -2.4 0.2 -1.8 0.1 3.6 0.1 2.0 0.2 -3.8 0.1 0.6 0.1 0.1 0.1 -2.4 0.1 -6.9 0.2 0.4 0.1 -3.7 0.1 -5.1 0.2 3.9 0.1 -4.4 0.1 3.6 0.1 -3.0 0.1 1.8 0.2 0.7 0.1 2.7 0.1 4.0 0.2 0.3 0.1 1.5 0.1 0.1 0.1 2.4 0.1 -2.9 0.2 2.9 0.1 0.7 0.1 -2.2 0.2 4.0 0.1 -2.6 0.1 -3.3 0.1 2.4 0.1 1.8 0.2 -1.0 0.1 -4.0 0.1 4.8 0.2 -2.5 0.1 1.3 0.1 -5.0 0.1 8.0 0.1 -0.4 0.2 -4.0 0.1 -3.6 0.1 4.0 0.2 3.4 0.1 -2.0 0.1 2.3 0.1 -8.2 0.1 6.1 0.2 -3.5 0.1 0.2 0.1 2.7 0.2 -1.1 0.1 -2.5 0.1 -1.8 0.1 4.1 0.1 -0.5 0.2 7.3 0.1 -6.9 0.1 5.2 0.2 -4.0 0.1 4.5 0.1 -1.2 0.1 1.6 0.1 -2.3 0.2 1.2 0.1 -2.3 0.1 -1.4 0.2 6.1 0.1 0.7 0.1 -3.0 0.1 3.3 0.1 -7.1 0.2 2.0 0.1 -1.2 0.1 2.8 0.2 -3.7 0.1 3.2 0.1 1.1 0.1 1.8 0.1 -2.7 0.2 4.4 0.1 -6.8 0.1 3.3 0.2 2.9 0.1 -6.9 0.1 2.7 0.1 0.7 0.1 2.3 0.2 -1.2 0.1 -4.4 0.1 0.9 0.2 0.4 0.1 2.7 0.1 1.1 0.1 -3.5 0.1 -2.3 0.2 -0.7 0.1 4.2 0.1 1.1 0.2 -3.8 0.1 -1.7 0.1 0.1 0.1 2.6 0.1 -4.3 0.2 2.3 0.1 1.2 0.1 -4.0 0.2 4.5 0.1 -2.8 0.1 3.9 0.1 -6.5 0.1 6.8 0.2 -5.6 0.1 3.4 0.1 1.2 0.2 -2.5 0.1 1.3 0.1 -0.4 0.1 -0.3 0.1 3.3 0.2 -5.1 0.1 4.0 0.1 2.0 0.2 -2.1 0.1 -3.7 0.1 2.7 0.1 0.6 0.1 0.1 0.2 -5.9 0.1 -0.4 0.1 7.8 0.2 -1.7 0.1 -0.8 0.1 -1.0 0.1 2.3 0.1 1.5 0.2 -1.4 0.1 -3.2 0.1 2.0 0.2 3.7 0.1 -4.5 0.1 -1.9 0.1 4.2 0.1 -3.5 0.2 1.3 0.1 3.7 0.1 -1.1 0.2 -4.7 0.1 4.0 0.1 0.4 0.1 0.5 0.1 -3.2 0.2 0.3 0.1 3.7 0.1 -7.8 0.2 1.5 0.1 0.0 0.1 3.7 0.1 0.1 0.1 -1.3 0.2 2.1 0.1 -3.5 0.1 -0.6 0.2 1.1 0.1 -3.6 0.1 1.2 0.1 3.4 0.1 -1.1 0.2 -1.2 0.1 3.8 0.1 -1.1 0.2 -1.1 0.1 -0.1 0.1 2.2 0.1 2.6 0.1 -7.2 0.2 1.4 0.1 -0.8 0.1 2.1 0.2 -3.3 0.1 2.2 0.1 3.8 0.1 -4.1 0.1 -1.7 0.2 3.4 0.1 0.6 0.1 -2.8 0.2 4.2 0.1 -2.6 0.1 2.5 0.1 -1.3 0.1 -1.8 0.2 -0.8 0.1 2.4 0.1 -3.7 0.2 -1.2 0.1 6.7 0.1 -6.5 0.1 1.6 0.1 0.0 0.2 0.8 0.1 -2.7 0.1 0.9 0.2 3.6 0.1 -0.7 0.1 -4.7 0.1 5.8 0.1 -0.5 0.2 -1.7 0.1 -2.4 0.1 6.3 0.2 2.1 0.1 -6.9 0.1 -3.1 0.1 9.0 0.1 -4.3 0.2 0.8 0.1 0.1 0.1 -2.7 0.2 1.1 0.1 -0.2 0.1 1.7 0.1 -1.6 0.1 3.9 0.2 -3.5 0.1 3.0 0.1 -5.7 0.2 2.8 0.1 0.2 0.1 -2.3 0.1 2.7 0.1 -1.2 0.2 4.1 0.1 -0.7 0.1 -2.4 0.2 -1.4 0.1 1.0 0.1 2.7 0.1 -2.3 0.1 -1.3 0.2 -0.5 0.1 -3.1 0.1 6.5 0.2 -3.6 0.1 1.7 0.1 0.5 0.1 -2.4 0.1 0.9 0.2 1.5 0.1 2.7 0.1 -3.3 0.2 0.0 0.1 0.4 0.1 -0.7 0.1 2.8 0.1 -4.6 0.2 2.1 0.1 0.2 0.1 1.8 0.2 -0.6 0.1 -2.7 0.1 0.6 0.1 -1.9 0.1 2.4 0.2 0.1 0.1 -2.7 0.1 3.9 0.2 4.8 0.1 -4.3 0.1 -1.7 0.1 -0.3 0.1 4.0 0.2 -2.9 0.1 -1.4 0.1 -1.9 0.2 5.4 0.1 -7.0 0.1 5.8 0.1 -2.3 0.1 4.1 0.2 -2.8 0.1 -1.1 0.1 3.8 0.2 -5.5 0.1 5.0 0.1 0.1 0.1 -6.6 0.1 3.1 0.2 0.2 0.1 1.0 0.1 1.3 0.2 -0.7 0.1 1.8 0.1 -2.3 0.1 -2.3 0.1 -1.9 0.2 2.7 0.1 1.0 0.1 -0.2 0.2 3.1 0.1 -1.4 0.1 -3.7 0.1 1.7 0.1 0.7 0.2 6.4 0.1 -3.9 0.1 -2.2 0.2 1.6 0.1 1.3 0.1 -4.6 0.1 6.4 0.1 -5.8 0.2 3.7 0.1 2.0 0.1 -3.4 0.2 1.3 0.1 -3.7 0.1 5.2 0.1 -1.0 0.1 2.4 0.2 -2.3 0.1 -3.5 0.1 -0.6 0.2 0.0 0.1 0.3 0.1 4.7 0.1 -6.2 0.1 0.7 0.2 1.0 0.1 -1.5 0.1 1.0 0.2 4.4 0.1 -3.1 0.1 1.3 0.1 -1.0 0.1 1.6 0.2 1.2 0.1 -1.2 0.1 -0.7 0.2 -1.9 0.1 -1.0 0.1 3.5 0.1 0.5 0.1 0.8 0.2 -1.6 0.1 -2.2 0.1 0.0 0.2 3.2 0.1 -2.2 0.1 -1.0 0.1 -0.9 0.1 1.2 0.2 3.4 0.1 -0.6 0.1 2.2 0.2 -2.1 0.1 -0.2 0.1 2.0 0.1 0.3 0.1 -3.1 0.2 -5.7 0.1 5.6 0.1 -1.4 0.2 4.5 0.1 -2.5 0.1 -2.3 0.1 -1.7 0.1 4.0 0.2 1.2 0.1 -5.9 0.1 4.0 0.2 -2.3 0.1 2.2 0.1 4.1 0.1 -7.7 0.1 4.2 0.2 2.8 0.1 -4.2 0.1 -2.6 0.2 -3.2 0.1 3.9 0.1 2.7 0.1 -2.9 0.1 5.4 0.2 -8.3 0.1 2.1 0.1 4.2 0.2 -1.0 0.1 1.4 0.1 -0.6 0.1 -2.5 0.1 0.9 0.2 4.5 0.1 -2.5 0.1 2.0 0.2 -1.8 0.1 1.9 0.1 -1.6 0.1 -2.0 0.1 -1.8 0.2 5.0 0.1 -3.4 0.1 -2.7 0.2 6.8 0.1 -2.1 0.1 -0.2 0.1 -3.2 0.1 4.3 0.2 -2.0 0.1 -2.6 0.1 1.5 0.2 -1.1 0.1 6.2 0.1 -4.4 0.1 1.9 0.1 1.6 0.2 1.6 0.1 -5.9 0.1 -1.2 0.2 4.5 0.1 -0.3 0.1 3.8 0.1 -6.3 0.1 4.4 0.2 -1.2 0.1 -2.0 0.1 -7.3 0.2 7.0 0.1 -0.9 0.1 -4.0 0.1 6.6 0.1 -3.4 0.2 -0.5 0.1 1.7 0.1 3.1 0.2 1.7 0.1 -2.1 0.1 -1.3 0.1 -0.5 0.1 -4.3 0.2 1.2 0.1 2.0 0.1 0.1 0.2 -1.3 0.1 5.4 0.1 -0.7 0.1 -4.5 0.1 4.1 0.2 -1.9 0.1 5.3 0.1 -3.1 0.2 -0.8 0.1 -0.8 0.1 0.9 0.1 -2.1 0.1 4.3 0.2 -4.1 0.1 -3.2 0.1 3.5 0.2 1.8 0.1 -5.1 0.1 -0.5 0.1 3.0 0.1 3.4 0.2 -1.2 0.1 -7.7 0.1 7.6 0.2 -2.4 0.1 -0.8 0.1 1.9 0.1 5.2 0.1 -8.3 0.2 2.3 0.1 -4.4 0.1 6.2 0.2 -0.5 0.1 -0.4 0.1 0.2 0.1 -4.1 0.1 2.4 0.2 -0.3 0.1 -1.5 0.1 4.0 0.2 -0.2 0.1 -3.5 0.1 2.4 0.1 0.7 0.1 -0.6 0.2 0.7 0.1 -1.2 0.1 -0.6 0.2 -2.3 0.1 1.2 0.1 2.1 0.1 0.1 0.1 -3.0 0.2 2.5 0.1 1.6 0.1 1.9 0.2 -1.6 0.1 -1.2 0.1 1.9 0.1 -5.4 0.1 4.1 0.2 -2.4 0.1 5.7 0.1 -6.6 0.2 3.9 0.1 2.7 0.1 -5.5 0.1 -0.5 0.1 1.4 0.2 -0.5 0.1 -1.5 0.1 0.7 0.2 3.2 0.1 -0.4 0.1 -3.5 0.1 -0.2 0.1 2.7 0.2 0.7 0.1 -0.6 0.1 0.3 0.2 4.2 0.1 -1.8 0.1 -1.0 0.1 -2.9 0.1 5.0 0.2 -4.3 0.1 0.8 0.1 -6.1 0.2 7.5 0.1 -5.7 0.1 2.3 0.1 3.8 0.1 -2.8 0.2 -1.2 0.1 3.6 0.1 0.7 0.2 -1.8 0.1 1.1 0.1 -3.9 0.1 2.6 0.1 -1.3 0.2 -3.4 0.1 5.1 0.1 -1.8 0.2 0.2 0.1 1.0 0.1 -0.6 0.1 2.4 0.1 -2.8 0.2 2.6 0.1 -2.7 0.1 2.2 0.2 -1.3 0.1 1.6 0.1 3.6 0.1 -5.3 0.1 1.4 0.2 -3.8 0.1 1.0 0.1 1.7 0.2 1.9 0.1 -5.1 0.1 2.2 0.1 3.4 0.1 -6.6 0.2 4.9 0.1 -1.6 0.1 4.7 0.2 -4.5 0.1 -1.7 0.1 5.4 0.1 0.0 0.1 -2.4 0.2 3.2 0.1 -4.8 0.1 1.4 0.2 -1.6 0.1 -0.3 0.1 2.6 0.1 -1.5 0.1 4.5 0.2 -5.7 0.1 1.9 0.1 -5.3 0.2 5.3 0.1 -1.6 0.1 -0.1 0.1 1.6 0.1 -1.1 0.2 -2.0 0.1 4.0 0.1 -1.0 0.2 -1.4 0.1 4.8 0.1 -3.6 0.1 1.8 0.1 -0.2 0.2 -2.9 0.1 1.4 0.1 -1.1 0.2 -1.5 0.1 1.2 0.1 4.9 0.1 -3.5 0.1 3.6 0.2 -1.9 0.1 -5.0 0.1 2.9 0.2 2.0 0.1 -1.6 0.1 0.6 0.1 -0.3 0.1 -2.4 0.2 3.8 0.1 2.2 0.1 -5.1 0.2 0.5 0.1 1.1 0.1 1.5 0.1 -2.5 0.1 3.0 0.2 -3.0 0.1 -0.8 0.1 -2.9 0.2 5.0 0.1 0.9 0.1 -3.8 0.1 1.9 0.1 -1.8 0.2 -0.1 0.1 5.5 0.1 -1.1 0.2 -6.5 0.1 6.2 0.1 -1.2 0.1 3.3 0.1 -3.3 0.2 -0.3 0.1 -2.4 0.1 1.4 0.2 -0.2 0.1 -2.6 0.1 5.1 0.1 -3.0 0.1 1.5 0.2 1.1 0.1 -5.5 0.1 3.3 0.2 -0.8 0.1 0.3 0.1 -1.5 0.1 2.9 0.1 -3.5 0.2 1.6 0.1 -0.1 0.1 0.0 0.2 0.8 0.1 0.3 0.1 0.8 0.1 3.9 0.1 -6.1 0.2 1.0 0.1 -1.1 0.1 5.4 0.2 -7.9 0.1 1.4 0.1 4.4 0.1 -1.0 0.1 -3.9 0.2 5.8 0.1 -4.7 0.1 0.3 0.2 5.2 0.1 0.1 0.1 -0.9 0.1 -1.5 0.1 1.2 0.2 -3.6 0.1 5.9 0.1 -8.4 0.2 5.0 0.1 1.7 0.1 -5.2 0.1 1.7 0.1 1.6 0.2 3.2 0.1 -1.7 0.1 0.3 0.2 -2.7 0.1 1.3 0.1 0.3 0.1 2.2 0.1 -6.2 0.2 3.5 0.1 -0.4 0.1 -0.8 0.2 4.9 0.1 -6.1 0.1 2.7 0.1 -1.1 0.1 0.9 0.2 -3.2 0.1 -1.0 0.1 7.5 0.2 -2.1 0.1 -2.7 0.1 -1.3 0.1 1.9 0.1 -0.3 0.2 -0.8 0.1 2.6 0.1 -1.1 0.2 -0.9 0.1 1.0 0.1 -1.9 0.1 2.7 0.1 -0.6 0.2 -5.1 0.1 5.9 0.1 -2.5 0.2 0.5 0.1 1.8 0.1 -1.6 0.1 0.9 0.1 -3.8 0.2 5.8 0.1 -3.0 0.1 3.3 0.2 -2.2 0.1 0.2 0.1 2.0 0.1 -0.9 0.1 -1.7 0.2 0.9 0.1 3.4 0.1 -4.4 0.2 -0.8 0.1 2.3 0.1 -4.3 0.1 3.7 0.1 -1.3 0.2 1.3 0.1 -5.7 0.1 7.3 0.2 -1.5 0.1 -2.2 0.1 3.9 0.1 -3.3 0.1 -2.0 0.2 0.2 0.1 2.0 0.1 -0.6 0.2 0.7 0.1 -0.9 0.1 2.2 0.1 0.6 0.1 -3.7 0.2 4.7 0.1 -4.6 0.1 3.6 0.2 0.3 0.1 -2.2 0.1 -1.2 0.1 -1.2 0.1 6.8 0.2 -7.6 0.1 3.4 0.1 0.3 0.2 2.7 0.1 -0.9 0.1 -2.1 0.1 -1.2 0.1 6.2 0.2 -5.3 0.1 -1.4 0.1 5.3 0.2 -4.2 0.1 -1.9 0.1 3.9 0.1 -2.0 0.1 -4.1 0.2 4.1 0.1 1.4 0.1 -4.4 0.2 3.0 0.1 3.0 0.1 -3.4 0.1 -1.5 0.1 0.8 0.2 3.7 0.1 -2.9 0.1 2.2 0.2 -1.3 0.1 -1.6 0.1 3.9 0.1 1.9 0.1 -6.4 0.2 3.1 0.1 0.1 0.1 -0.3 0.2 -0.2 0.1 3.5 0.1 2.3 0.1 -4.8 0.1 -0.6 0.2 2.1 0.1 -3.7 0.1 -0.1 0.2 2.7 0.1 1.0 0.1 -1.7 0.1 0.7 0.1 -6.1 0.2 2.7 0.1 1.8 0.1 1.8 0.2 -4.0 0.1 3.4 0.1 -1.3 0.1 1.1 0.1 -1.9 0.2 2.7 0.1 -3.9 0.1 4.7 0.2 -4.2 0.1 2.2 0.1 -3.6 0.1 1.0 0.1 2.4 0.2 -5.8 0.1 5.0 0.1 -0.1 0.2 7.2 0.1 -7.1 0.1 4.2 0.1 -3.8 0.1 -0.8 0.2 4.2 0.1 -1.5 0.1 2.6 0.2 -6.3 0.1 -0.7 0.1 5.7 0.1 0.2 0.1 -0.5 0.2 -2.9 0.1 2.7 0.1 -2.4 0.2 -1.3 0.1 1.2 0.1 -3.7 0.1 5.8 0.1 -0.1 0.2 -3.6 0.1 -1.4 0.1 4.4 0.2 1.9 0.1 -7.8 0.1 4.2 0.1 -0.9 0.1 4.5 0.2 0.1 0.1 -6.5 0.1 1.6 0.2 -2.6 0.1 4.1 0.1 0.6 0.1 1.9 0.1 -7.1 0.2 0.3 0.1 4.6 0.1 -0.1 0.2 -2.2 0.1 1.6 0.1 1.3 0.1 -1.3 0.1 4.3 0.2 0.2 0.1 -2.9 0.1 -1.7 0.2 -2.4 0.1 1.9 0.1 -0.1 0.1 -6.0 0.1 6.7 0.2 0.9 0.1 -0.9 0.1 -3.6 0.2 0.2 0.1 4.4 0.1 1.0 0.1 -3.8 0.1 -1.3 0.2 2.0 0.1 1.7 0.1 4.5 0.2 -2.4 0.1 -0.9 0.1 -2.2 0.1 1.0 0.1 -2.4 0.2 4.3 0.1 -1.8 0.1 -2.5 0.2 2.4 0.1 3.6 0.1 -5.5 0.1 -1.0 0.1 1.7 0.2 0.6 0.1 0.9 0.1 -1.0 0.2 1.9 0.1 -1.7 0.1 0.9 0.1 3.2 0.1 -6.6 0.2 0.4 0.1 2.7 0.1 -2.6 0.2 0.7 0.1 6.9 0.1 -7.7 0.1 0.1 0.1 3.1 0.2 -1.2 0.1 -4.1 0.1 4.5 0.2 2.4 0.1 -3.5 0.1 1.5 0.1 -1.1 0.1 -1.8 0.2 0.4 0.1 3.5 0.1 -0.5 0.2 -4.8 0.1 5.9 0.1 -1.4 0.1 0.5 0.1 0.8 0.2 -6.1 0.1 2.9 0.1 -0.7 0.2 -0.3 0.1 1.5 0.1 1.4 0.1 -1.5 0.1 5.2 0.2 -7.1 0.1 8.7 0.1 -5.9 0.2 3.7 0.1 -3.2 0.1 -3.0 0.1 1.4 0.1 -0.9 0.2 3.0 0.1 -0.9 0.1 -3.1 0.2 8.1 0.1 -2.8 0.1 -6.0 0.1 1.7 0.1 0.9 0.2 1.0 0.1 0.0 0.1 -1.4 0.2 4.8 0.1 -7.3 0.1 4.7 0.1 -0.7 0.1 2.7 0.2 -3.7 0.1 0.7 0.1 4.7 0.2 -3.8 0.1 -0.7 0.1 -0.4 0.1 -0.5 0.1 -2.3 0.2 -0.1 0.1 1.9 0.1 1.1 0.2 1.8 0.1 -2.8 0.1 -0.1 0.1 1.0 0.1 -1.4 0.2 1.2 0.1 2.7 0.1 -4.4 0.2 -1.0 0.1 1.6 0.1 1.2 0.1 -2.4 0.1 3.9 0.2 3.1 0.1 -2.2 0.1 1.0 0.2 0.6 0.1 -1.6 0.1 -1.6 0.1 0.0 0.1 -4.1 0.2 0.5 0.1 1.5 0.1 -0.8 0.2 0.9 0.1 2.8 0.1 -1.3 0.1 -0.5 0.1 5.1 0.2 -5.5 0.1 0.9 0.1 2.6 0.2 -2.7 0.1 3.0 0.1 -4.4 0.1 4.8 0.1 -2.6 0.2 -4.9 0.1 3.4 0.1 1.5 0.2 -2.1 0.1 2.0 0.1 -1.8 0.1 2.5 0.1 -1.6 0.2 3.1 0.1 -1.2 0.1 1.2 0.2 -0.3 0.1 -3.1 0.1 0.4 0.1 1.4 0.1 1.8 0.2 -1.3 0.1 -4.0 0.1 5.7 0.2 -1.8 0.1 2.0 0.1 -4.9 0.1 0.9 0.1 -0.4 0.2 -1.4 0.1 5.8 0.1 -3.8 0.2 -1.4 0.1 -1.4 0.1 1.3 0.1 3.0 0.1 1.0 0.2 -1.4 0.1 -2.1 0.1 1.3 0.2 -4.2 0.1 1.0 0.1 2.9 0.1 1.0 0.1 -1.0 0.2 0.7 0.1 -1.9 0.1 0.6 0.2 1.1 0.1 -1.0 0.1 -0.2 0.1 0.5 0.1 4.2 0.2 -5.8 0.1 7.0 0.1 -6.6 0.2 4.0 0.1 0.8 0.1 0.3 0.1 -4.1 0.1 -5.5 0.2 3.8 0.1 2.5 0.1 4.5 0.2 -6.0 0.1 1.8 0.1 0.3 0.1 3.1 0.1 -2.4 0.2 2.1 0.1 -5.2 0.1 -2.0 0.2 3.4 0.1 -1.7 0.1 3.6 0.1 -1.8 0.1 2.2 0.2 -4.5 0.1 1.2 0.1 0.4 0.2 3.8 0.1 -3.0 0.1 0.4 0.1 3.6 0.1 -4.8 0.2 0.3 0.1 4.6 0.1 -8.8 0.2 7.9 0.1 -3.4 0.1 0.2 0.1 0.5 0.1 0.3 0.2 -0.7 0.1 3.3 0.1 -8.2 0.2 -0.4 0.1 5.5 0.1 -3.7 0.1 2.6 0.1 -0.2 0.2 0.6 0.1 1.6 0.1 -6.6 0.2 3.1 0.1 5.6 0.1 -4.7 0.1 -0.2 0.1 7.4 0.2 -5.1 0.1 -2.7 0.1 3.5 0.2 0.3 0.1 -3.9 0.1 4.2 0.1 -2.6 0.1 -3.9 0.2 6.0 0.1 -0.1 0.1 -0.4 0.2 -0.1 0.1 -2.3 0.1 0.4 0.1 -1.1 0.1 4.6 0.2 -1.0 0.1 2.9 0.1 -3.1 0.2 -2.1 0.1 -0.5 0.1 -0.8 0.1 0.0 0.1 8.4 0.2 -11.1 0.1 1.8 0.1 -1.1 0.2 5.7 0.1 -1.6 0.1 -0.9 0.1 2.6 0.1 -2.8 0.2 2.1 0.1 3.1 0.1 -4.0 0.2 -0.1 0.1 1.5 0.1 0.6 0.1 -0.1 0.1 -2.5 0.2 1.5 0.1 -0.6 0.1 2.1 0.2 -2.9 0.1 0.0 0.1 -1.7 0.1 1.3 0.1 -0.5 0.2 2.3 0.1 2.0 0.1 -3.8 0.2 5.6 0.1 -4.9 0.1 3.4 0.1 -1.4 0.1 -2.8 0.2 1.0 0.1 -3.4 0.1 4.5 0.2 3.1 0.1 -3.6 0.1 3.5 0.1 -4.0 0.1 -0.4 0.2 0.7 0.1 -1.1 0.1 1.6 0.2 3.4 0.1 -4.1 0.1 -1.5 0.1 1.1 0.1 2.0 0.2 -2.5 0.1 -3.7 0.1 2.0 0.2 5.6 0.1 -3.7 0.1 2.9 0.1 -2.9 0.1 -1.6 0.2 2.0 0.1 1.8 0.1 -2.9 0.2 -2.3 0.1 2.3 0.1 -0.7 0.1 4.3 0.1 -4.5 0.2 -0.1 0.1 -0.8 0.1 3.3 0.2 -1.1 0.1 0.3 0.1 1.6 0.1 -1.5 0.1 5.8 0.2 -1.8 0.1 -5.4 0.1 5.8 0.2 -4.0 0.1 0.8 0.1 -3.1 0.1 3.4 0.1 1.2 0.2 -1.1 0.1 -0.7 0.1 1.5 0.2 -0.8 0.1 -4.7 0.1 3.2 0.1 1.5 0.1 -2.3 0.2 6.3 0.1 -3.5 0.1 -1.3 0.2 0.4 0.1 0.6 0.1 -2.0 0.1 -0.6 0.1 -2.3 0.2 6.0 0.1 -1.8 0.1 -3.5 0.2 5.3 0.1 -2.0 0.1 -1.2 0.1 -1.0 0.1 6.3 0.2 -1.9 0.1 -1.2 0.1 0.1 0.2 -1.3 0.1 0.2 0.1 4.0 0.1 -4.6 0.1 -0.2 0.2 3.6 0.1 -6.6 0.1 2.7 0.2 -0.7 0.1 1.2 0.1 -3.2 0.1 2.1 0.1 0.0 0.2 1.5 0.1 1.5 0.1 1.5 0.2 -2.5 0.1 -1.6 0.1 -0.5 0.1 0.6 0.1 5.7 0.2 -1.4 0.1 -0.8 0.1 -1.1 0.2 -4.0 0.1 4.8 0.1 -3.0 0.1 -2.0 0.1 0.0 0.2 3.0 0.1 -2.0 0.1 5.3 0.2 -0.7 0.1 -1.2 0.1 -0.6 0.1 0.7 0.1 -6.4 0.2 1.4 0.1 3.2 0.1 -1.1 0.2 -3.9 0.1 5.5 0.1 -1.8 0.1 -0.9 0.1 4.4 0.2 0.9 0.1 -4.3 0.1 1.3 0.2 0.6 0.1 -1.4 0.1 1.1 0.1 -3.3 0.1 0.8 0.2 2.6 0.1 -1.1 0.1 4.3 0.2 -5.6 0.1 0.5 0.1 1.3 0.1 0.8 0.1 -0.5 0.2 2.4 0.1 -2.1 0.1 1.3 0.2 -3.3 0.1 3.4 0.1 -1.3 0.1 -4.2 0.1 5.8 0.2 -0.4 0.1 -3.9 0.1 2.6 0.2 2.4 0.1 -3.5 0.1 3.5 0.1 -3.5 0.1 3.4 0.2 -2.1 0.1 -6.7 0.1 5.9 0.2 -0.8 0.1 1.4 0.1 -2.1 0.1 3.9 0.1 -1.6 0.2 -0.5 0.1 -0.3 0.1 -0.1 0.2 -1.5 0.1 2.3 0.1 -2.7 0.1 0.6 0.1 -1.2 0.2 5.2 0.1 0.4 0.1 -4.5 0.2 0.6 0.1 -2.5 0.1 -0.2 0.1 4.5 0.1 3.9 0.2 -6.3 0.1 3.2 0.1 -4.9 0.2 7.0 0.1 1.2 0.1 -5.0 0.1 0.8 0.1 3.4 0.2 -3.3 0.1 -3.7 0.1 3.6 0.2 -4.1 0.1 5.2 0.1 -0.9 0.1 1.8 0.1 -1.6 0.2 0.6 0.1 -1.9 0.1 1.9 0.2 -1.7 0.1 -0.7 0.1 6.8 0.1 -10.5 0.1 4.6 0.2 -2.0 0.1 0.3 0.1 1.4 0.2 0.3 0.1 2.2 0.1 -6.3 0.1 5.1 0.1 -1.5 0.2 2.7 0.1 -5.0 0.1 -3.2 0.2 4.9 0.1 -1.0 0.1 -0.9 0.1 0.6 0.1 3.5 0.2 -2.7 0.1 3.7 0.1 -1.2 0.2 -3.4 0.1 -3.5 0.1 6.7 0.1 -4.2 0.1 0.1 0.2 4.3 0.1 1.6 0.1 0.2 0.2 -3.6 0.1 0.3 0.1 -2.3 0.1 2.4 0.1 0.6 0.2 3.6 0.1 -4.3 0.1 -1.8 0.2 4.5 0.1 -3.9 0.1 -0.9 0.1 2.8 0.1 0.0 0.2 -0.6 0.1 -2.6 0.1 1.9 0.2 -2.3 0.1 -0.9 0.1 4.8 0.1 1.8 0.1 -2.0 0.2 2.4 0.1 -1.5 0.1 3.6 0.2 -6.4 0.1 0.9 0.1 -0.1 0.1 1.6 0.1 0.6 0.2 -3.3 0.1 -1.2 0.1 -1.1 0.2 -0.3 0.1 6.3 0.1 -4.2 0.1 4.7 0.1 -3.0 0.2 2.3 0.1 0.2 0.1 -0.1 0.2 0.6 0.1 -3.2 0.1 2.2 0.1 -2.2 0.1 -1.3 0.2 1.6 0.1 1.2 0.1 -2.5 0.2 4.1 0.1 -5.4 0.1 -0.5 0.1 1.2 0.1 4.1 0.2 -2.7 0.1 1.4 0.1 0.2 0.2 -4.2 0.1 2.9 0.1 2.5 0.1 0.0 0.1 -1.8 0.2 1.2 0.1 -0.7 0.1 1.1 0.2 -5.4 0.1 1.2 0.1 5.2 0.1 -2.9 0.1 -2.6 0.2 3.2 0.1 -0.5 0.1 -2.6 0.2 2.5 0.1 -0.6 0.1 2.2 0.1 -1.8 0.1 0.5 0.2 1.3 0.1 -1.1 0.1 -1.9 0.2 -1.0 0.1 0.9 0.1 0.3 0.1 1.3 0.1 -0.3 0.2 -0.3 0.1 -1.0 0.1 4.3 0.2 -3.3 0.1 -2.8 0.1 3.2 0.1 2.1 0.1 -2.1 0.2 1.0 0.1 -2.9 0.1 3.8 0.2 -0.4 0.1 1.0 0.1 -1.8 0.1 3.8 0.1 -2.3 0.2 0.4 0.1 0.3 0.1 -5.2 0.2 3.9 0.1 0.6 0.1 0.0 0.1 -2.8 0.1 -1.3 0.2 0.6 0.1 -1.6 0.1 3.4 0.2 -2.5 0.1 1.7 0.1 -0.1 0.1 -0.6 0.1 -1.2 0.2 0.3 0.1 4.7 0.1 -5.8 0.2 4.0 0.1 -2.7 0.1 0.4 0.1 0.8 0.1 4.9 0.2 -3.6 0.1 0.7 0.1 0.2 0.2 0.6 0.1 -1.4 0.1 2.4 0.1 -2.6 0.1 -1.6 0.2 1.1 0.1 0.0 0.1 3.6 0.2 -7.1 0.1 1.7 0.1 1.4 0.1 0.2 0.1 -0.6 0.2 -1.5 0.1 2.0 0.1 0.6 0.2 -3.6 0.1 2.2 0.1 0.3 0.1 0.0 0.1 3.8 0.2 -6.3 0.1 3.9 0.1 -0.1 0.2 -3.9 0.1 4.9 0.1 -4.3 0.1 2.9 0.1 -2.2 0.2 0.8 0.1 2.2 0.1 1.0 0.2 -2.1 0.1 0.3 0.1 -0.8 0.1 2.5 0.1 -0.9 0.2 -5.9 0.1 8.9 0.1 -5.6 0.2 -1.9 0.1 1.7 0.1 1.5 0.1 -0.5 0.1 -2.3 0.2 4.3 0.1 -2.5 0.1 1.4 0.2 3.6 0.1 -3.3 0.1 -5.4 0.1 2.1 0.1 1.2 0.2 2.0 0.1 1.7 0.1 -3.8 0.2 1.1 0.1 1.4 0.1 0.9 0.1 1.0 0.1 0.1 0.2 -4.6 0.1 3.3 0.1 -3.5 0.2 2.0 0.1 1.3 0.1 -0.4 0.1 -1.7 0.1 -1.9 0.2 3.5 0.1 -0.8 0.1 -5.7 0.2 7.4 0.1 -0.4 0.1 -6.0 0.1 7.1 0.1 -1.4 0.2 -0.5 0.1 -3.3 0.1 0.9 0.2 2.4 0.1 1.5 0.1 -0.7 0.1 2.6 0.1 -4.5 0.2 -2.3 0.1 1.1 0.1 3.6 0.2 0.1 0.1 0.9 0.1 -0.9 0.1 0.7 0.1 -1.5 0.2 0.8 0.1 0.6 0.1 -0.7 0.2 -2.9 0.1 -1.1 0.1 2.1 0.1 5.7 0.1 -4.8 0.2 -2.6 0.1 0.2 0.1 0.1 0.2 3.4 0.1 0.3 0.1 -5.4 0.1 1.2 0.1 0.2 0.2 -3.7 0.1 4.9 0.1 0.0 0.2 1.1 0.1 -2.5 0.1 0.9 0.1 1.6 0.1 -1.3 0.2 2.9 0.1 -0.1 0.1 -2.3 0.2 0.5 0.1 -0.5 0.1 5.4 0.1 -6.2 0.1 -1.4 0.2 -1.1 0.1 0.5 0.1 3.4 0.2 -0.9 0.1 -0.3 0.1 -6.0 0.1 9.6 0.1 -1.9 0.2 -5.4 0.1 5.0 0.1 -2.7 0.2 7.7 0.1 -4.7 0.1 -2.2 0.1 -1.5 0.1 5.8 0.2 -4.6 0.1 0.3 0.1 1.5 0.2 -0.5 0.1 -2.6 0.1 4.9 0.1 -2.5 0.1 3.8 0.2 -2.7 0.1 1.6 0.1 1.7 0.2 -2.0 0.1 -2.1 0.1 -2.5 0.1 2.6 0.1 -2.7 0.2 2.2 0.1 0.0 0.1 0.9 0.2 2.2 0.1 -0.7 0.1 -0.2 0.1 -1.6 0.1 0.3 0.2 -2.5 0.1 5.3 0.1 -3.8 0.2 1.9 0.1 -0.3 0.1 -3.7 0.1 4.8 0.1 -2.5 0.2 2.4 0.1 1.8 0.1 -4.3 0.2 1.7 0.1 -2.1 0.1 1.8 0.1 -0.4 0.1 -1.1 0.2 0.9 0.1 1.2 0.1 -0.5 0.2 0.6 0.1 -0.8 0.1 -1.6 0.1 -2.0 0.1 3.8 0.2 -0.6 0.1 1.9 0.1 -2.6 0.2 1.4 0.1 -1.0 0.1 -1.4 0.1 0.5 0.1 -6.2 0.2 7.3 0.1 -2.6 0.1 3.2 0.2 0.9 0.1 -3.4 0.1 0.2 0.1 1.5 0.1 0.2 0.2 1.7 0.1 -3.9 0.1 2.1 0.2 4.3 0.1 -3.8 0.1 3.6 0.1 -3.0 0.1 -2.5 0.2 3.1 0.1 0.3 0.1 -3.5 0.2 6.7 0.1 -2.0 0.1 -0.1 0.1 -6.0 0.1 1.4 0.2 -0.2" fill="none" stroke="#167d3c" stroke-width="1.0" stroke-linejoin="round" />
<path d="M814.4 435.0l0.1 5.7 0.1 -7.1 0.2 0.7 0.1 0.9 0.1 7.3 0.2 -2.7 0.1 -2.3 0.1 1.3 0.1 -4.0 0.1 0.5 0.2 4.2 0.1 0.4 0.1 -3.4 0.2 6.0 0.1 -5.7 0.1 -3.5 0.1 4.4 0.1 0.1 0.2 5.0 0.1 -7.1 0.1 6.7 0.2 -3.8 0.1 2.7 0.1 -2.4 0.1 1.5 0.1 -5.2 0.2 6.5 0.1 -2.8 0.1 1.3 0.2 -3.7 0.1 1.2 0.1 -7.1 0.1 6.6 0.1 -1.0 0.2 -0.8 0.1 -2.0 0.1 -5.1 0.2 11.8 0.1 -7.5 0.1 4.5 0.1 -5.7 0.1 -3.9 0.2 1.8 0.1 0.0 0.1 -0.6 0.2 -2.5 0.1 1.7 0.1 1.2 0.1 -3.1 0.1 -0.1 0.2 1.8 0.1 -1.4 0.1 -5.1 0.2 7.1 0.1 -4.5 0.1 2.4 0.1 -4.4 0.1 1.2 0.2 1.7 0.1 3.3 0.1 0.3 0.2 3.6 0.1 -5.4 0.1 -0.2 0.1 -0.9 0.1 2.8 0.2 -3.0 0.1 5.8 0.1 1.0 0.2 -7.5 0.1 4.7 0.1 5.1 0.1 -7.4 0.1 -0.2 0.2 6.3 0.1 -5.7 0.1 1.5 0.2 7.2 0.1 -3.6 0.1 -3.3 0.1 3.6 0.1 -1.2 0.2 2.8 0.1 -7.6 0.1 3.3 0.2 1.4 0.1 -3.5 0.1 -0.9 0.1 2.4 0.1 0.6 0.2 0.0 0.1 0.7 0.1 2.0 0.2 2.9 0.1 -9.8 0.1 3.5 0.1 -3.9 0.1 1.2 0.2 2.9 0.1 3.8 0.1 -10.5 0.2 6.8 0.1 -6.8 0.1 9.7 0.1 -5.8 0.1 -5.0 0.2 2.4 0.1 -0.5 0.1 0.9 0.2 0.4 0.1 -7.4 0.1 8.4 0.1 0.2 0.1 1.4 0.2 -1.3 0.1 -5.4 0.1 0.6 0.2 3.5 0.1 2.1 0.1 -4.6 0.1 -2.0 0.1 -2.4 0.2 0.6 0.1 7.8 0.1 -4.2 0.2 1.7 0.1 0.8 0.1 1.0 0.1 -2.1 0.1 1.2 0.2 0.2 0.1 -0.5 0.1 3.9 0.2 2.3 0.1 -8.5 0.1 4.3 0.1 0.8 0.1 -1.9 0.2 5.5 0.1 -6.6 0.1 -0.9 0.2 -0.2 0.1 2.0 0.1 -2.4 0.1 9.3 0.1 -6.9 0.2 -2.4 0.1 0.7 0.1 -2.7 0.2 4.5 0.1 -9.2 0.1 2.5 0.1 2.7 0.1 -2.5 0.2 3.7 0.1 -7.9 0.1 2.1 0.2 3.9 0.1 -3.6 0.1 -1.1 0.1 2.8 0.1 2.8 0.2 -9.6 0.1 4.0 0.1 4.8 0.2 -0.3 0.1 -3.5 0.1 -0.5 0.1 2.5 0.1 0.8 0.2 -0.3 0.1 0.9 0.1 -2.7 0.2 5.2 0.1 -8.4 0.1 8.1 0.1 -2.7 0.1 2.9 0.2 -5.9 0.1 -1.1 0.1 6.5 0.2 0.4 0.1 -7.9 0.1 8.8 0.1 -0.8 0.1 -6.0 0.2 8.7 0.1 -4.2 0.1 4.3 0.2 3.5 0.1 -4.3 0.1 -3.5 0.1 6.2 0.1 -4.1 0.2 2.9 0.1 -2.7 0.1 -0.4 0.2 0.0 0.1 3.0 0.1 -0.5 0.1 4.6 0.1 5.1 0.2 -12.6 0.1 -2.5 0.1 0.6 0.2 5.6 0.1 8.8 0.1 -9.7 0.1 3.3 0.1 -1.4 0.2 4.6 0.1 -2.4 0.1 -0.6 0.2 1.1 0.1 -4.5 0.1 4.0 0.1 1.8 0.1 4.0 0.2 -5.7 0.1 -3.3 0.1 5.7 0.2 -1.8 0.1 -1.7 0.1 -6.4 0.1 2.3 0.1 6.3 0.2 -5.4 0.1 4.0 0.1 -5.1 0.2 4.1 0.1 1.2 0.1 -5.8 0.1 -0.2 0.1 2.0 0.2 -4.7 0.1 -1.0 0.1 5.4 0.2 -6.6 0.1 0.5 0.1 6.9 0.1 -4.8 0.1 -4.2 0.2 3.8 0.1 -4.5 0.1 2.2 0.2 1.1 0.1 0.4 0.1 -4.3 0.1 2.2 0.1 4.2 0.2 4.4 0.1 -8.5 0.1 3.1 0.2 -4.6 0.1 5.5 0.1 1.2 0.1 1.5 0.1 -3.9 0.2 0.5 0.1 -6.4 0.1 4.3 0.2 5.9 0.1 -3.8 0.1 2.1 0.1 -1.4 0.1 1.9 0.2 -4.1 0.1 4.2 0.1 0.8 0.2 0.0 0.1 6.9 0.1 -8.3 0.1 1.9 0.1 -0.1 0.2 4.5 0.1 -2.9 0.1 -5.4 0.2 6.0 0.1 -1.7 0.1 4.8 0.1 -9.9 0.1 8.6 0.2 -6.2 0.1 2.8 0.1 -0.5 0.2 1.4 0.1 0.9 0.1 0.2 0.1 -2.4 0.1 -0.7 0.2 0.6 0.1 0.3 0.1 -1.5 0.2 3.6 0.1 -6.8 0.1 7.1 0.1 -5.0 0.1 4.4 0.2 2.2 0.1 -1.3 0.1 0.8 0.2 -5.9 0.1 3.2 0.1 -1.2 0.1 -3.7 0.1 -2.4 0.2 0.2 0.1 6.4 0.1 -5.5 0.2 3.6 0.1 -3.1 0.1 1.1 0.1 -5.2 0.1 -0.3 0.2 -1.5 0.1 1.5 0.1 3.9 0.2 -5.0 0.1 -0.4 0.1 0.8 0.1 -0.4 0.1 0.5 0.2 -3.5 0.1 1.6 0.1 -6.9 0.2 8.5 0.1 1.1 0.1 -5.3 0.1 3.6 0.1 -1.8 0.2 -2.1 0.1 3.1 0.1 -1.6 0.2 -0.2 0.1 -0.6 0.1 0.8 0.1 7.5 0.1 -2.9 0.2 -1.4 0.1 -0.9 0.1 0.3 0.2 -2.5 0.1 -1.6 0.1 -0.5 0.1 1.8 0.1 2.0 0.2 -0.6 0.1 -0.6 0.1 6.2 0.2 -4.2 0.1 5.3 0.1 -6.3 0.1 7.1 0.1 -1.5 0.2 0.4 0.1 2.2 0.1 -4.9 0.2 -2.4 0.1 4.1 0.1 4.5 0.1 -8.0 0.1 -0.3 0.2 5.3 0.1 -4.2 0.1 -4.6 0.2 2.3 0.1 3.2 0.1 -3.6 0.1 -1.1 0.1 4.8 0.2 -0.3 0.1 1.7 0.1 -9.5 0.2 2.3 0.1 2.0 0.1 5.1 0.1 -3.5 0.1 -3.3 0.2 -0.1 0.1 2.8 0.1 -5.5 0.2 4.7 0.1 -0.6 0.1 2.9 0.1 -3.8 0.1 -2.1 0.2 -3.5 0.1 4.9 0.1 8.5 0.2 -4.9 0.1 -4.7 0.1 -1.3 0.1 1.7 0.1 0.2 0.2 0.7 0.1 3.6 0.1 2.4 0.2 -6.6 0.1 -3.2 0.1 4.5 0.1 -2.7 0.1 1.7 0.2 -5.5 0.1 8.5 0.1 -2.7 0.2 6.4 0.1 -4.5 0.1 -5.9 0.1 0.6 0.1 -0.1 0.2 1.4 0.1 4.1 0.1 -6.1 0.2 0.4 0.1 7.2 0.1 -8.8 0.1 5.6 0.1 -2.8 0.2 -1.3 0.1 -3.6 0.1 4.4 0.2 -6.6 0.1 0.0 0.1 7.7 0.1 -3.2 0.1 0.2 0.2 5.7 0.1 -4.6 0.1 -3.3 0.2 -2.5 0.1 4.9 0.1 -0.6 0.1 2.5 0.1 -5.4 0.2 0.9 0.1 1.1 0.1 -1.1 0.2 -1.6 0.1 4.5 0.1 0.7 0.1 2.3 0.1 0.3 0.2 1.6 0.1 -2.6 0.1 2.5 0.2 2.4 0.1 -5.2 0.1 4.1 0.1 0.4 0.1 -4.2 0.2 4.1 0.1 1.5 0.1 -0.6 0.2 -3.2 0.1 4.4 0.1 -2.6 0.1 0.9 0.1 3.5 0.2 1.3 0.1 -1.1 0.1 -1.7 0.2 5.8 0.1 0.3 0.1 -2.2 0.1 5.7 0.1 -2.1 0.2 -3.2 0.1 6.2 0.1 -1.7 0.2 -2.7 0.1 -2.4 0.1 1.6 0.1 3.9 0.1 -2.1 0.2 -0.1 0.1 -1.8 0.1 3.1 0.2 -1.5 0.1 3.5 0.1 2.8 0.1 0.9 0.1 -2.5 0.2 0.8 0.1 -3.0 0.1 1.5 0.2 -4.4 0.1 4.0 0.1 -3.0 0.1 4.0 0.1 0.7 0.2 0.2 0.1 -0.3 0.1 -2.5 0.2 -3.0 0.1 0.5 0.1 1.7 0.1 -4.1 0.1 3.9 0.2 -1.2 0.1 1.5 0.1 -1.8 0.2 -4.2 0.1 0.3 0.1 -2.9 0.1 2.8 0.1 -3.3 0.2 2.6 0.1 2.4 0.1 -3.3 0.2 0.2 0.1 6.1 0.1 -11.5 0.1 7.3 0.1 -3.0 0.2 5.4 0.1 -7.8 0.1 -9.1 0.2 10.2 0.1 0.7 0.1 -2.8 0.1 2.0 0.1 6.1 0.2 -5.2 0.1 -4.8 0.1 1.0 0.2 1.5 0.1 -1.1 0.1 1.1 0.1 -1.1 0.1 2.4 0.2 -3.5 0.1 6.9 0.1 -5.3 0.2 -1.2 0.1 -0.9 0.1 1.6 0.1 6.5 0.1 -4.5 0.2 2.2 0.1 -5.1 0.1 2.7 0.2 -5.4 0.1 8.7 0.1 -4.8 0.1 6.3 0.1 -6.3 0.2 2.2 0.1 -0.9 0.1 5.5 0.2 -3.3 0.1 0.0 0.1 -0.2 0.1 0.1 0.1 0.6 0.2 2.1 0.1 -8.5 0.1 8.8 0.2 -3.7 0.1 2.4 0.1 0.9 0.1 -3.6 0.1 2.6 0.2 -2.9 0.1 9.7 0.1 -7.8 0.2 4.5 0.1 0.2 0.1 1.5 0.1 -1.9 0.1 -2.9 0.2 4.4 0.1 -3.9 0.1 -2.3 0.2 2.5 0.1 1.5 0.1 2.5 0.1 -7.4 0.1 1.8 0.2 2.5 0.1 -0.9 0.1 5.0 0.2 -4.4 0.1 -4.4 0.1 7.3 0.1 -4.4 0.1 -1.4 0.2 -3.7 0.1 2.1 0.1 1.3 0.2 2.1 0.1 -0.3 0.1 4.5 0.1 -2.1 0.1 -2.7 0.2 1.2 0.1 -2.1 0.1 -2.3 0.2 3.0 0.1 -3.9 0.1 4.5 0.1 -3.0 0.1 0.3 0.2 3.0 0.1 -2.9 0.1 -3.4 0.2 0.2 0.1 7.6 0.1 -4.0 0.1 -0.2 0.1 -1.0 0.2 -3.3 0.1 3.4 0.1 2.4 0.2 -3.3 0.1 1.5 0.1 -2.1 0.1 1.4 0.1 4.8 0.2 -3.8 0.1 4.9 0.1 -9.7 0.2 -4.3 0.1 8.8 0.1 -3.5 0.1 0.3 0.1 2.0 0.2 1.7 0.1 -1.9 0.1 1.9 0.2 5.4 0.1 2.4 0.1 -6.3 0.1 -5.6 0.1 0.9 0.2 4.9 0.1 3.1 0.1 -3.2 0.2 4.1 0.1 3.9 0.1 -1.9 0.1 5.1 0.1 -5.5 0.2 1.6 0.1 -2.7 0.1 4.6 0.2 2.1 0.1 -3.0 0.1 0.6 0.1 3.3 0.1 -1.3 0.2 -2.8 0.1 10.4 0.1 -6.8 0.2 -0.7 0.1 -1.2 0.1 0.3 0.1 -3.9 0.1 -0.9 0.2 -0.5 0.1 7.1 0.1 -3.2 0.2 -1.1 0.1 0.6 0.1 -3.3 0.1 3.3 0.1 -3.2 0.2 -5.0 0.1 -6.6 0.1 8.3 0.2 -0.4 0.1 -1.0 0.1 2.8 0.1 -5.8 0.1 2.0 0.2 -1.5 0.1 1.6 0.1 -1.6 0.2 -4.0 0.1 -0.1 0.1 3.5 0.1 -3.5 0.1 -4.0 0.2 5.6 0.1 -4.4 0.1 -1.0 0.2 3.6 0.1 -0.5 0.1 3.2 0.1 -7.2 0.1 1.3 0.2 5.3 0.1 3.9 0.1 -7.3 0.2 -0.7 0.1 -0.1 0.1 -2.1 0.1 -0.3 0.1 4.5 0.2 -1.4 0.1 -6.0 0.1 7.4 0.2 -4.3 0.1 -3.6 0.1 3.0 0.1 6.4 0.1 -6.6 0.2 1.5 0.1 2.4 0.1 -4.1 0.2 -3.9 0.1 5.2 0.1 -0.1 0.1 -2.1 0.1 0.7 0.2 -4.3 0.1 1.8 0.1 2.2 0.2 -7.5 0.1 18.2 0.1 -10.2 0.1 -3.4 0.1 -1.3 0.2 0.7 0.1 0.4 0.1 3.4 0.2 -0.7 0.1 1.4 0.1 -1.8 0.1 -2.3 0.1 0.4 0.2 -5.2 0.1 9.9 0.1 -3.8 0.2 -3.9 0.1 4.9 0.1 4.4 0.1 -6.6 0.1 3.0 0.2 0.9 0.1 3.5 0.1 -4.1 0.2 1.3 0.1 -3.8 0.1 3.3 0.1 -4.0 0.1 1.5 0.2 -5.7 0.1 5.6 0.1 -2.5 0.2 0.7 0.1 0.3 0.1 -1.2 0.1 4.5 0.1 -5.5 0.2 9.1 0.1 -2.9 0.1 -7.4 0.2 -3.6 0.1 10.2 0.1 -4.8 0.1 0.9 0.1 7.2 0.2 -2.5 0.1 -6.1 0.1 6.0 0.2 -4.5 0.1 8.6 0.1 -9.4 0.1 0.7 0.1 6.3 0.2 2.2 0.1 -5.9 0.1 6.7 0.2 1.6 0.1 -1.5 0.1 -0.9 0.1 2.9 0.1 -3.7 0.2 5.1 0.1 3.5 0.1 -2.3 0.2 -4.7 0.1 1.8 0.1 0.1 0.1 1.0 0.1 11.2 0.2 -6.1 0.1 -1.9 0.1 -0.6 0.2 -1.6 0.1 -0.2 0.1 5.0 0.1 -6.1 0.1 5.1 0.2 -0.3 0.1 -5.8 0.1 2.5 0.2 5.2 0.1 -5.0 0.1 0.5 0.1 4.0 0.1 -1.9 0.2 -0.9 0.1 -3.4 0.1 -5.0 0.2 3.7 0.1 2.0 0.1 -5.1 0.1 9.4 0.1 -6.9 0.2 -1.5 0.1 -1.2 0.1 8.4 0.2 -2.2 0.1 -5.3 0.1 5.2 0.1 -2.6 0.1 1.6 0.2 -0.8 0.1 0.4 0.1 -2.5 0.2 3.8 0.1 0.5 0.1 -4.7 0.1 8.1 0.1 -2.8 0.2 2.6 0.1 -1.9 0.1 -3.4 0.2 0.0 0.1 4.1 0.1 -1.1 0.1 2.0 0.1 -0.8 0.2 -0.1 0.1 1.4 0.1 -0.3 0.2 -12.0 0.1 19.7 0.1 -12.3 0.1 2.5 0.1 1.9 0.2 -0.9 0.1 -4.8 0.1 4.9 0.2 1.1 0.1 0.8 0.1 -4.5 0.1 2.6 0.1 -0.5 0.2 -3.0 0.1 -2.7 0.1 10.6 0.2 -12.1 0.1 5.0 0.1 3.1 0.1 -9.1 0.1 -1.5 0.2 2.5 0.1 1.7 0.1 -6.0 0.2 3.0 0.1 -3.2 0.1 -1.6 0.1 1.5 0.1 -5.6 0.2 8.3 0.1 -9.0 0.1 6.8 0.2 -4.0 0.1 0.4 0.1 3.2 0.1 -7.3 0.1 5.7 0.2 0.2 0.1 3.3 0.1 -0.9 0.2 7.1 0.1 -5.7 0.1 -0.1 0.1 3.0 0.1 -3.8 0.2 3.7 0.1 4.6 0.1 4.1 0.2 -2.4 0.1 -3.5 0.1 -1.2 0.1 6.3 0.1 6.0 0.2 -6.4 0.1 1.0 0.1 7.4 0.2 -4.8 0.1 6.2 0.1 -1.4 0.1 -1.0 0.1 3.6 0.2 1.5 0.1 -10.1 0.1 -1.6 0.2 10.1 0.1 -1.8 0.1 -7.4 0.1 2.0 0.1 -4.6 0.2 2.3 0.1 -0.7 0.1 -4.0 0.2 5.3 0.1 -7.0 0.1 5.1 0.1 3.0 0.1 -7.4 0.2 5.2 0.1 -2.7 0.1 -4.1 0.2 3.2 0.1 -0.6 0.1 -4.7 0.1 -0.5 0.1 -1.6 0.2 -1.6 0.1 3.2 0.1 -5.3 0.2 5.6 0.1 2.8 0.1 -4.3 0.1 -3.3 0.1 3.9 0.2 5.6 0.1 2.7 0.1 -7.6 0.2 0.6 0.1 0.3 0.1 1.2 0.1 -3.8 0.1 2.5 0.2 -2.9 0.1 3.7 0.1 0.0 0.2 -0.5 0.1 -2.5 0.1 0.6 0.1 0.1 0.1 10.1 0.2 -7.3 0.1 4.6 0.1 -3.9 0.2 -3.0 0.1 4.3 0.1 -1.3 0.1 3.3 0.1 -1.2 0.2 -2.2 0.1 3.3 0.1 -6.0 0.2 -1.7 0.1 -0.2 0.1 11.1 0.1 -12.2 0.1 -1.7 0.2 5.6 0.1 -0.7 0.1 -4.7 0.2 -3.4 0.1 -2.8 0.1 5.4 0.1 -3.4 0.1 2.2 0.2 5.9 0.1 -8.9 0.1 -3.7 0.2 1.3 0.1 7.5 0.1 -4.4 0.1 2.6 0.1 -1.5 0.2 2.7 0.1 -6.2 0.1 0.2 0.2 -6.4 0.1 9.6 0.1 -1.7 0.1 -4.0 0.1 3.3 0.2 2.0 0.1 0.2 0.1 -0.9 0.2 0.7 0.1 -2.3 0.1 7.9 0.1 0.0 0.1 -10.1 0.2 6.5 0.1 -1.3 0.1 -3.0 0.2 1.1 0.1 6.5 0.1 -0.1 0.1 -3.3 0.1 1.2 0.2 -0.5 0.1 0.2 0.1 -6.0 0.2 9.3 0.1 -6.3 0.1 10.1 0.1 -11.8 0.1 1.4 0.2 3.2 0.1 1.6 0.1 -6.3 0.2 3.8 0.1 -2.1 0.1 6.4 0.1 -4.9 0.1 -1.0 0.2 -0.5 0.1 1.6 0.1 -3.9 0.2 5.7 0.1 -5.0 0.1 -5.9 0.1 2.1 0.1 5.2 0.2 -7.0 0.1 2.3 0.1 8.1 0.2 -8.5 0.1 7.6 0.1 -4.9 0.1 -0.5 0.1 -1.1 0.2 -2.4 0.1 -0.1 0.1 4.2 0.2 -3.8 0.1 4.3 0.1 -0.3 0.1 6.5 0.1 -4.6 0.2 -1.1 0.1 4.6 0.1 -1.3 0.2 -2.2 0.1 2.0 0.1 4.7 0.1 -4.5 0.1 1.0 0.2 -4.9 0.1 9.5 0.1 -1.9 0.2 -6.5 0.1 7.1 0.1 -4.4 0.1 -0.3 0.1 1.1 0.2 -1.3 0.1 0.3 0.1 1.3 0.2 5.1 0.1 -3.9 0.1 3.0 0.1 -0.2 0.1 -0.9 0.2 2.3 0.1 -3.4 0.1 2.7 0.2 -1.0 0.1 -5.0 0.1 7.0 0.1 -4.7 0.1 3.1 0.2 1.3 0.1 -4.9 0.1 4.3 0.2 5.2 0.1 -5.4 0.1 -0.2 0.1 5.6 0.1 -4.1 0.2 0.8 0.1 0.0 0.1 -1.8 0.2 1.6 0.1 3.3 0.1 -6.8 0.1 9.6 0.1 -6.5 0.2 -2.1 0.1 3.2 0.1 -6.6 0.2 2.3 0.1 0.3 0.1 -1.2 0.1 2.2 0.1 -8.0 0.2 2.8 0.1 2.7 0.1 -6.0 0.2 1.1 0.1 -1.4 0.1 0.9 0.1 -2.3 0.1 -2.0 0.2 2.4 0.1 -0.5 0.1 -2.3 0.2 -0.9 0.1 -0.1 0.1 3.3 0.1 -5.3 0.1 3.1 0.2 -0.8 0.1 1.5 0.1 -2.1 0.2 0.1 0.1 1.1 0.1 2.1 0.1 -5.0 0.1 2.1 0.2 -3.7 0.1 5.3 0.1 -1.2 0.2 3.9 0.1 -5.0 0.1 9.0 0.1 0.6 0.1 -11.1 0.2 7.8 0.1 -4.5 0.1 4.4 0.2 -6.4 0.1 4.5 0.1 4.3 0.1 -0.3 0.1 -3.5 0.2 2.0 0.1 3.1 0.1 3.4 0.2 -1.8 0.1 -6.0 0.1 0.5 0.1 1.3 0.1 1.2 0.2 -6.2 0.1 3.0 0.1 1.8 0.2 -1.7 0.1 -4.2 0.1 4.5 0.1 4.7 0.1 1.0 0.2 -7.5 0.1 4.8 0.1 -1.7 0.2 1.3 0.1 4.3 0.1 -5.1 0.1 -1.8 0.1 1.1 0.2 -0.8 0.1 -3.7 0.1 7.1 0.2 -4.4 0.1 5.8 0.1 0.5 0.1 -4.4 0.1 -0.1 0.2 0.2 0.1 0.1 0.1 -2.1 0.2 0.8 0.1 -5.1 0.1 9.2 0.1 1.9 0.1 -4.8 0.2 1.2 0.1 1.4 0.1 -1.5 0.2 1.3 0.1 -4.2 0.1 5.0 0.1 -0.9 0.1 0.8 0.2 -4.5 0.1 1.2 0.1 5.8 0.2 -5.6 0.1 0.3 0.1 4.8 0.1 -1.4 0.1 -2.9 0.2 3.5 0.1 0.4 0.1 4.2 0.2 -1.7 0.1 -4.9 0.1 1.7 0.1 -3.5 0.1 2.9 0.2 2.7 0.1 -3.3 0.1 0.8 0.2 3.2 0.1 5.8 0.1 -5.4 0.1 0.1 0.1 -3.0 0.2 3.4 0.1 -6.1 0.1 1.2 0.2 -2.4 0.1 8.5 0.1 -3.8 0.1 0.0 0.1 0.2 0.2 -0.4 0.1 -0.6 0.1 1.1 0.2 -4.2 0.1 -2.0 0.1 2.7 0.1 1.6 0.1 5.0 0.2 1.0 0.1 -3.8 0.1 6.3 0.2 -4.2 0.1 -2.0 0.1 -3.2 0.1 5.6 0.1 1.4 0.2 -3.0 0.1 0.1 0.1 -0.4 0.2 7.5 0.1 -5.6 0.1 0.8 0.1 -0.3 0.1 0.0 0.2 0.7 0.1 6.0 0.1 -1.3 0.2 0.3 0.1 -5.8 0.1 3.1 0.1 -5.3 0.1 7.2 0.2 -0.8 0.1 4.0 0.1 -4.4 0.2 3.1 0.1 -5.5 0.1 0.7 0.1 -5.3 0.1 3.4 0.2 0.8 0.1 -3.0 0.1 4.5 0.2 3.5 0.1 -6.8 0.1 -0.5 0.1 5.7 0.1 -2.2 0.2 -3.8 0.1 3.1 0.1 -3.9 0.2 -4.0 0.1 4.1 0.1 3.6 0.1 -1.3 0.1 -0.4 0.2 -3.6 0.1 -1.3 0.1 5.6 0.2 -1.8 0.1 5.1 0.1 -10.9 0.1 7.7 0.1 -1.2 0.2 -2.5 0.1 -7.0 0.1 -1.0 0.2 8.6 0.1 0.4 0.1 -1.1 0.1 -4.7 0.1 0.5 0.2 1.3 0.1 -5.4 0.1 4.5 0.2 0.1 0.1 1.3 0.1 -6.2 0.1 6.7 0.1 -3.8 0.2 0.2 0.1 -3.8 0.1 0.4 0.2 3.2 0.1 -4.1 0.1 2.7 0.1 -0.1 0.1 -1.9 0.2 -2.1 0.1 7.7 0.1 2.0 0.2 0.5 0.1 -7.0 0.1 1.5 0.1 -0.9 0.1 1.8 0.2 0.3 0.1 0.5 0.1 2.1 0.2 -1.6 0.1 2.6 0.1 -12.6 0.1 14.0 0.1 -8.7 0.2 13.6 0.1 -11.6 0.1 4.5 0.2 1.2 0.1 5.8 0.1 -9.5 0.1 2.1 0.1 5.0 0.2 -6.1 0.1 11.6 0.1 -3.3 0.2 -8.6 0.1 7.1 0.1 -1.6 0.1 -4.3 0.1 5.9 0.2 -4.2 0.1 3.7 0.1 -3.2 0.2 5.3 0.1 -2.6 0.1 -2.5 0.1 -1.9 0.1 -2.1 0.2 3.4 0.1 1.5 0.1 -1.2 0.2 -3.1 0.1 0.3 0.1 2.6 0.1 -0.5 0.1 4.8 0.2 -12.3 0.1 3.9 0.1 -1.0 0.2 3.3 0.1 3.5 0.1 -9.7 0.1 3.1 0.1 3.5 0.2 -4.7 0.1 3.4 0.1 -6.6 0.2 8.8 0.1 -3.0 0.1 -4.8 0.1 7.5 0.1 0.7 0.2 -5.9 0.1 -0.5 0.1 -2.0 0.2 -3.2 0.1 6.1 0.1 -4.0 0.1 1.4 0.1 -2.9 0.2 0.4 0.1 1.3 0.1 1.1 0.2 -1.6 0.1 -3.2 0.1 5.6 0.1 -3.3 0.1 0.2 0.2 0.3 0.1 0.0 0.1 -3.7 0.2 2.2 0.1 -2.2 0.1 7.7 0.1 -7.0 0.1 6.1 0.2 -1.1 0.1 1.0 0.1 0.2 0.2 4.8 0.1 -1.5 0.1 -0.8 0.1 1.2 0.1 0.3 0.2 7.8 0.1 -6.1 0.1 3.4 0.2 -0.8 0.1 3.0 0.1 -0.9 0.1 -2.3 0.1 4.4 0.2 4.2 0.1 0.4 0.1 -6.9 0.2 8.1 0.1 -0.8 0.1 -3.3 0.1 2.3 0.1 -5.4 0.2 3.7 0.1 -6.2 0.1 5.1 0.2 0.7 0.1 -6.0 0.1 -1.2 0.1 2.9 0.1 -5.4 0.2 6.0 0.1 -1.3 0.1 6.8 0.2 -8.7 0.1 -4.5 0.1 5.1 0.1 -2.0 0.1 3.5 0.2 -5.9 0.1 1.3 0.1 -1.0 0.2 0.0 0.1 -1.7 0.1 3.9 0.1 -2.0 0.1 -3.7 0.2 3.8 0.1 0.1 0.1 -4.5 0.2 -1.0 0.1 1.4 0.1 2.3 0.1 -1.9 0.1 -0.8 0.2 -5.2 0.1 3.3 0.1 0.9 0.2 1.8 0.1 -2.3 0.1 -2.4 0.1 0.1 0.1 2.9 0.2 -2.1 0.1 -9.7 0.1 5.8 0.2 0.5 0.1 4.1 0.1 -1.6 0.1 0.1 0.1 -1.2 0.2 -3.0 0.1 -0.8 0.1 3.8 0.2 1.0 0.1 4.9 0.1 -7.1 0.1 1.5 0.1 0.4 0.2 7.8 0.1 -5.4 0.1 1.5 0.2 -2.9 0.1 0.1 0.1 3.9 0.1 -9.5 0.1 5.5 0.2 3.9 0.1 -1.5 0.1 -5.4 0.2 5.0 0.1 1.2 0.1 -1.4 0.1 5.3 0.1 -4.5 0.2 2.6 0.1 -4.4 0.1 4.7 0.2 3.0 0.1 -0.1 0.1 -7.2 0.1 4.4 0.1 -2.0 0.2 0.3 0.1 -1.2 0.1 -0.1 0.2 2.4 0.1 4.4 0.1 -5.5 0.1 5.8 0.1 -8.2 0.2 -3.0 0.1 3.0 0.1 1.9 0.2 -3.2 0.1 -1.6 0.1 8.7 0.1 -1.1 0.1 -1.2 0.2 -2.2 0.1 -1.0 0.1 -2.6 0.2 0.7 0.1 1.1 0.1 -3.8 0.1 2.7 0.1 0.4 0.2 -1.7 0.1 0.4 0.1 -0.2 0.2 4.3 0.1 -7.1 0.1 -0.7 0.1 1.7 0.1 4.0 0.2 -1.7 0.1 -5.7 0.1 1.8 0.2 6.7 0.1 -10.3 0.1 7.1 0.1 5.3 0.1 -11.8 0.2 6.4 0.1 -5.3 0.1 2.8 0.2 -1.1 0.1 -5.3 0.1 5.4 0.1 2.4 0.1 -1.6 0.2 6.1 0.1 -10.5 0.1 2.1 0.2 -3.6 0.1 1.3 0.1 8.3 0.1 1.6 0.1 -0.4 0.2 -2.7 0.1 0.6 0.1 5.8 0.2 -0.6 0.1 -5.1 0.1 5.0 0.1 -3.1 0.1 5.9 0.2 -2.8 0.1 -1.7 0.1 -2.9 0.2 2.9 0.1 1.8 0.1 0.1 0.1 -0.3 0.1 -1.9 0.2 2.9 0.1 0.7 0.1 4.7 0.2 -3.0 0.1 2.0 0.1 -3.9 0.1 0.4 0.1 -0.8 0.2 0.6 0.1 3.3 0.1 3.1 0.2 -7.4 0.1 8.3 0.1 -7.2 0.1 1.7 0.1 -8.5 0.2 5.5 0.1 0.3 0.1 2.2 0.2 -6.4 0.1 0.7 0.1 -0.7 0.1 -3.7 0.1 7.4 0.2 -3.7 0.1 5.9 0.1 -7.5 0.2 1.6 0.1 -7.3 0.1 1.7 0.1 -0.5 0.1 7.9 0.2 -7.1 0.1 -4.5 0.1 3.9 0.2 -4.1 0.1 9.4 0.1 -6.6 0.1 -1.2 0.1 1.2 0.2 6.1 0.1 -5.8 0.1 5.3 0.2 -4.1 0.1 0.4 0.1 3.3 0.1 -5.1 0.1 3.8 0.2 -3.4 0.1 -3.3 0.1 4.6 0.2 -0.9 0.1 -0.9 0.1 2.2 0.1 -0.5 0.1 4.1 0.2 -2.9 0.1 -3.9 0.1 2.7 0.2 1.0 0.1 2.6 0.1 -0.2 0.1 -4.9 0.1 7.4 0.2 -2.6 0.1 -1.9 0.1 -2.1 0.2 -5.8 0.1 12.9 0.1 -2.0 0.1 -0.6 0.1 -6.6 0.2 -0.8 0.1 2.0 0.1 0.5 0.2 -3.8 0.1 3.2 0.1 4.7 0.1 -10.7 0.1 8.0 0.2 0.2 0.1 -3.5 0.1 1.0 0.2 -0.7 0.1 0.7 0.1 3.3 0.1 -7.2 0.1 12.6 0.2 -4.5 0.1 -3.2 0.1 1.2 0.2 -1.2 0.1 4.5 0.1 0.7 0.1 -7.9 0.1 5.6 0.2 2.1 0.1 -5.2 0.1 3.7 0.2 -0.6 0.1 -0.7 0.1 -0.1 0.1 4.2 0.1 -6.1 0.2 5.8 0.1 0.8 0.1 -1.7 0.2 -3.2 0.1 -1.3 0.1 1.1 0.1 2.6 0.1 2.9 0.2 -9.3 0.1 12.3 0.1 -6.7 0.2 4.9 0.1 -4.5 0.1 0.8 0.1 3.8 0.1 -5.0 0.2 9.7 0.1 -8.5 0.1 -0.9 0.2 6.1 0.1 1.0 0.1 -6.7 0.1 5.3 0.1 -6.7 0.2 9.6 0.1 -5.6 0.1 -2.5 0.2 6.5 0.1 -2.0 0.1 1.2 0.1 -4.3 0.1 7.2 0.2 -3.0 0.1 -4.6 0.1 3.3 0.2 -3.0 0.1 -0.7 0.1 8.6 0.1 0.6 0.1 0.6 0.2 -10.3 0.1 4.3 0.1 2.6 0.2 -7.1 0.1 0.5 0.1 11.0 0.1 -4.8 0.1 -0.6 0.2 -3.2 0.1 10.9 0.1 -8.2 0.2 -1.3 0.1 9.8 0.1 -6.5 0.1 -5.4 0.1 8.4 0.2 -0.4 0.1 -4.2 0.1 3.6 0.2 4.1 0.1 0.9 0.1 -1.6 0.1 -5.3 0.1 6.0 0.2 -1.4 0.1 -6.6 0.1 5.2 0.2 -2.1 0.1 4.1 0.1 -3.7 0.1 7.9 0.1 -6.1 0.2 1.3 0.1 -0.5 0.1 7.0 0.2 -6.3 0.1 -3.4 0.1 3.5 0.1 5.7 0.1 -0.3 0.2 7.1 0.1 -7.7 0.1 0.7 0.2 -1.5 0.1 2.4 0.1 0.1 0.1 1.1 0.1 -6.6 0.2 10.6 0.1 -4.3 0.1 -0.9 0.2 -0.2 0.1 3.0 0.1 2.2 0.1 0.6 0.1 -2.9 0.2 4.2 0.1 -12.2 0.1 5.9 0.2 1.9 0.1 -0.9 0.1 -2.0 0.1 -4.1 0.1 1.0 0.2 2.7 0.1 -4.0 0.1 3.8 0.2 -5.8 0.1 1.8 0.1 -4.6 0.1 2.3 0.1 3.5 0.2 -2.8 0.1 -3.1 0.1 9.9 0.2 -9.3 0.1 2.6 0.1 2.5 0.1 -8.2 0.1 2.1 0.2 -0.5 0.1 2.8 0.1 -1.3 0.2 -3.3 0.1 -1.6 0.1 -0.7 0.1 5.6 0.1 1.3 0.2 -3.9 0.1 -0.5 0.1 3.8 0.2 -6.1 0.1 0.6 0.1 8.4 0.1 -4.6 0.1 -2.1 0.2 -7.5 0.1 8.9 0.1 -4.4 0.2 5.0 0.1 -0.6 0.1 -2.5 0.1 1.9 0.1 2.6 0.2 -0.8 0.1 -4.6 0.1 1.7 0.2 -2.5 0.1 0.9 0.1 -3.4 0.1 7.9 0.1 -4.0 0.2 1.9 0.1 -5.1 0.1 -3.1 0.2 3.5 0.1 4.2 0.1 0.7 0.1 3.8 0.1 -4.5 0.2 -0.8 0.1 3.5 0.1 -2.3 0.2 1.4 0.1 2.6 0.1 -9.7 0.1 8.7 0.1 -10.2 0.2 5.6 0.1 -0.4 0.1 2.0 0.2 5.0 0.1 -5.6 0.1 0.9 0.1 1.4 0.1 -4.6 0.2 -1.4 0.1 6.7 0.1 0.2 0.2 -0.3 0.1 -1.1 0.1 -2.4 0.1 6.1 0.1 -4.4 0.2 6.3 0.1 -6.3 0.1 1.8 0.2 -0.3 0.1 7.4 0.1 -5.4 0.1 4.3 0.1 -5.1 0.2 7.9 0.1 -4.4 0.1 2.3 0.2 -1.3 0.1 -4.6 0.1 7.7 0.1 -2.7 0.1 4.9 0.2 -10.9 0.1 1.9 0.1 6.5 0.2 -1.1 0.1 -9.1 0.1 4.7 0.1 -0.8 0.1 3.6 0.2 2.1 0.1 -1.0 0.1 -3.5 0.2 1.0 0.1 -0.3 0.1 -3.8 0.1 5.5 0.1 -2.1 0.2 -7.8 0.1 7.4 0.1 2.0 0.2 2.9 0.1 -4.7 0.1 1.5 0.1 -3.0 0.1 2.2 0.2 0.0 0.1 -1.2 0.1 -2.2 0.2 -0.1 0.1 7.5 0.1 -2.6 0.1 1.1 0.1 -3.4 0.2 1.4 0.1 -7.8 0.1 5.3 0.2 3.0 0.1 -2.7 0.1 2.2 0.1 -5.1 0.1 2.4 0.2 6.5 0.1 -11.1 0.1 9.2 0.2 0.0 0.1 0.8 0.1 3.6 0.1 -0.1 0.1 -4.6 0.2 0.9 0.1 -1.9 0.1 -0.5 0.2 -1.8 0.1 2.3 0.1 6.8 0.1 0.3 0.1 -1.2 0.2 -1.0 0.1 -2.6 0.1 1.1 0.2 -4.0 0.1 5.7 0.1 -0.8 0.1 0.4 0.1 -2.4 0.2 0.2 0.1 0.0 0.1 5.5 0.2 -1.2 0.1 -2.9 0.1 4.4 0.1 0.0 0.1 1.2 0.2 -7.5 0.1 5.7 0.1 -1.4 0.2 -1.5 0.1 -3.0 0.1 2.9 0.1 -1.0 0.1 5.1 0.2 4.0 0.1 -11.9 0.1 4.1 0.2 2.4 0.1 -6.1 0.1 2.4 0.1 3.7 0.1 -8.3 0.2 9.1 0.1 -2.0 0.1 -3.5 0.2 -0.3 0.1 -1.0 0.1 -2.1 0.1 2.3 0.1 1.7 0.2 -0.4 0.1 -1.7 0.1 -5.9 0.2 1.6 0.1 5.6 0.1 -2.8 0.1 0.0 0.1 3.6 0.2 -9.9 0.1 6.4 0.1 -0.3 0.2 -6.9 0.1 -3.4 0.1 2.0 0.1 3.1 0.1 -5.8 0.2 0.9 0.1 4.6 0.1 -1.7 0.2 4.0 0.1 -3.6 0.1 2.3 0.1 1.8 0.1 -3.1 0.2 2.8 0.1 1.1 0.1 1.1 0.2 -2.4 0.1 -1.7 0.1 1.3 0.1 3.3 0.1 -3.8 0.2 3.2 0.1 -0.2 0.1 1.9 0.2 1.5 0.1 0.9 0.1 -5.3 0.1 2.5 0.1 1.8 0.2 -1.9 0.1 1.8 0.1 -6.7 0.2 12.4 0.1 -5.9 0.1 4.5 0.1 -4.6 0.1 3.0 0.2 -0.3 0.1 2.2 0.1 -6.7 0.2 4.5 0.1 -6.0 0.1 1.8 0.1 -1.0 0.1 4.0 0.2 5.5 0.1 -9.6 0.1 8.7 0.2 -3.6 0.1 -2.0 0.1 -0.8 0.1 5.6 0.1 -1.8 0.2 1.9 0.1 -3.6 0.1 -5.2 0.2 0.2 0.1 7.5 0.1 -4.1 0.1 3.3 0.1 -2.6 0.2 -0.3 0.1 -5.6 0.1 10.6 0.2 -10.8 0.1 4.3 0.1 3.8 0.1 -9.7 0.1 7.9 0.2 2.3 0.1 2.9 0.1 -7.6 0.2 2.7 0.1 -4.8 0.1 6.5 0.1 -4.0 0.1 -4.2 0.2 2.4 0.1 2.7 0.1 -2.1 0.2 5.3 0.1 -6.2 0.1 -1.0 0.1 4.8 0.1 -4.1 0.2 -2.7 0.1 7.8 0.1 -5.9 0.2 4.0 0.1 -2.3 0.1 12.4 0.1 -12.9 0.1 1.2 0.2 0.0 0.1 -2.3 0.1 7.7 0.2 -5.4 0.1 -0.5 0.1 3.2 0.1 -8.6 0.1 6.2 0.2 1.2 0.1 4.0 0.1 -3.6 0.2 -3.9 0.1 3.6 0.1 1.4 0.1 -3.1 0.1 -4.0 0.2 4.1 0.1 0.7 0.1 2.7 0.2 -5.1 0.1 -1.7 0.1 4.1 0.1 -1.2 0.1 6.5 0.2 3.6 0.1 -9.5 0.1 7.7 0.2 -7.6 0.1 -3.0 0.1 5.7 0.1 3.3 0.1 0.2 0.2 0.2 0.1 -0.6 0.1 -0.2 0.2 0.8 0.1 -3.7 0.1 6.1 0.1 3.5 0.1 -3.2 0.2 0.0 0.1 2.8 0.1 -1.4 0.2 0.8 0.1 -4.6 0.1 1.3 0.1 -1.8 0.1 2.1 0.2 -2.8 0.1 4.6 0.1 -1.8 0.2 -0.1 0.1 5.3 0.1 -2.8 0.1 -0.6 0.1 -1.7 0.2 1.7 0.1 -1.2 0.1 7.6 0.2 -7.1 0.1 -3.4 0.1 -1.6 0.1 6.9 0.1 -2.3 0.2 3.5 0.1 -4.7 0.1 -0.8 0.2 -3.5 0.1 2.9 0.1 1.9 0.1 -5.4 0.1 5.0 0.2 -2.9 0.1 -2.1 0.1 5.5 0.2 -5.1 0.1 3.3 0.1 2.8 0.1 2.5 0.1 0.5 0.2 -5.0 0.1 4.4 0.1 -4.2 0.2 2.0 0.1 4.6 0.1 -3.2 0.1 -4.1 0.1 1.7 0.2 -2.3 0.1 1.9 0.1 10.5 0.2 -5.4 0.1 -1.4 0.1 -0.2 0.1 5.8 0.1 -2.0 0.2 -0.9 0.1 -3.2 0.1 2.6 0.2 4.2 0.1 -3.4 0.1 -1.8 0.1 4.7 0.1 0.0 0.2 -3.4 0.1 1.1 0.1 4.5 0.2 1.8 0.1 -7.2 0.1 5.6 0.1 -5.5 0.1 7.6 0.2 -0.6 0.1 -2.0 0.1 -1.0 0.2 -1.2 0.1 -0.9 0.1 5.4 0.1 -1.4 0.1 2.2 0.2 3.2 0.1 -4.5 0.1 1.7 0.2 -4.1 0.1 9.6 0.1 -2.9 0.1 -0.7 0.1 1.5 0.2 -6.3 0.1 3.1 0.1 1.0 0.2 1.7 0.1 -3.7 0.1 2.8 0.1 -0.5 0.1 -4.1 0.2 4.5 0.1 -2.1 0.1 0.1 0.2 0.3 0.1 -3.1 0.1 4.1 0.1 -0.1 0.1 -4.3 0.2 0.8 0.1 -1.2 0.1 10.0 0.2 -6.7 0.1 -3.4 0.1 -2.2 0.1 3.6 0.1 1.9 0.2 -4.4 0.1 3.1 0.1 -3.0 0.2 -1.8 0.1 5.1 0.1 -8.4 0.1 11.0 0.1 -8.6 0.2 4.3 0.1 1.5 0.1 0.2 0.2 -1.1 0.1 -3.3 0.1 7.3 0.1 -10.5 0.1 8.5 0.2 -1.9 0.1 3.9 0.1 -3.2 0.2 2.4 0.1 -9.3 0.1 10.3 0.1 -1.3 0.1 -6.8 0.2 1.1 0.1 6.7 0.1 -5.1 0.2 0.9 0.1 0.2 0.1 3.7 0.1 -8.0 0.1 5.8 0.2 -5.1 0.1 0.3 0.1 -1.4 0.2 -1.2 0.1 8.3 0.1 1.0 0.1 -3.9 0.1 6.5 0.2 -11.8 0.1 -0.1 0.1 6.1 0.2 1.8 0.1 -9.1 0.1 3.0 0.1 1.8 0.1 -2.8 0.2 2.6 0.1 -7.7 0.1 3.4 0.2 6.7 0.1 -1.0 0.1 2.2 0.1 -0.9 0.1 -8.6 0.2 5.4 0.1 1.3 0.1 -5.0 0.2 4.2 0.1 -1.5 0.1 -2.5 0.1 9.4 0.1 -1.2 0.2 3.7 0.1 2.9 0.1 -3.1 0.2 1.9 0.1 1.0 0.1 -5.9 0.1 10.9 0.1 -7.1 0.2 1.3 0.1 -2.6 0.1 9.3 0.2 -2.1 0.1 6.2 0.1 -5.5 0.1 1.0 0.1 -2.7 0.2 9.4 0.1 -2.7 0.1 3.1 0.2 -6.0 0.1 1.1 0.1 6.9 0.1 -4.1 0.1 0.5 0.2 -2.7 0.1 2.7 0.1 -1.6 0.2 1.3 0.1 -4.3 0.1 10.3 0.1 -8.7 0.1 4.8 0.2 -1.6 0.1 -6.2 0.1 4.4 0.2 -8.5 0.1 -1.8 0.1 3.4 0.1 2.3 0.1 4.3 0.2 -6.2 0.1 3.9 0.1 -1.8 0.2 -6.0 0.1 5.3 0.1 0.9 0.1 -1.0 0.1 -6.0 0.2 1.2 0.1 0.0 0.1 -3.4 0.2 -1.9 0.1 4.6 0.1 4.4 0.1 -6.1 0.1 7.2 0.2 -5.7 0.1 6.2 0.1 -5.0 0.2 4.4 0.1 -3.5 0.1 3.5 0.1 -0.2 0.1 -1.4 0.2 0.3 0.1 2.3 0.1 1.7 0.2 -2.4 0.1 2.7 0.1 -1.2 0.1 4.1 0.1 -9.8 0.2 4.5 0.1 1.0 0.1 -0.9 0.2 -0.4 0.1 0.7 0.1 2.1 0.1 -0.3 0.1 -0.6 0.2 1.3 0.1 -2.0 0.1 -2.0 0.2 5.3 0.1 3.0 0.1 -2.9 0.1 -5.3 0.1 0.6 0.2 7.7 0.1 -11.9 0.1 8.6 0.2 -2.7 0.1 -3.5 0.1 -1.6 0.1 7.7 0.1 -2.4 0.2 -1.0 0.1 -2.2 0.1 -1.3 0.2 2.1 0.1 -2.2 0.1 1.2 0.1 -2.0 0.1 0.5 0.2 5.6 0.1 -4.4 0.1 -4.8 0.2 0.7 0.1 5.2 0.1 -0.5 0.1 -5.2 0.1 8.5 0.2 6.6 0.1 -9.3 0.1 -2.8 0.2 8.7 0.1 -1.4 0.1 -6.3 0.1 0.8 0.1 3.1 0.2 -1.2 0.1 3.3 0.1 -3.5 0.2 3.0 0.1 3.3 0.1 -2.5 0.1 0.9 0.1 -2.1 0.2 4.5 0.1 -1.2 0.1 -7.6 0.2 7.9 0.1 -6.6 0.1 7.2 0.1 -7.3 0.1 1.7 0.2 -0.4 0.1 0.1 0.1 -0.9 0.2 -5.6 0.1 6.7 0.1 6.2 0.1 -3.5 0.1 -4.6 0.2 4.8 0.1 3.6 0.1 -9.8 0.2 -0.7 0.1 5.8 0.1 -3.4 0.1 2.1 0.1 -4.0 0.2 5.1 0.1 -6.5 0.1 1.6 0.2 1.1 0.1 0.3 0.1 -1.9 0.1 1.2 0.1 -1.2 0.2 3.3 0.1 -4.1 0.1 2.9 0.2 4.1 0.1 -2.6 0.1 -0.7 0.1 -4.0 0.1 -3.4 0.2 3.8 0.1 -1.3 0.1 1.2 0.2 3.1 0.1 -6.1 0.1 0.6 0.1 2.2 0.1 2.8 0.2 -3.0 0.1 -5.8 0.1 5.3 0.2 3.8 0.1 -3.8 0.1 6.2 0.1 -3.9 0.1 0.1 0.2 -2.8 0.1 9.8 0.1 -9.7 0.2 1.8 0.1 1.5 0.1 -3.3 0.1 5.3 0.1 0.1 0.2 -2.1 0.1 -0.6 0.1 4.3 0.2 3.6 0.1 -2.5 0.1 -3.8 0.1 -3.3 0.1 4.7 0.2 -5.5 0.1 11.8 0.1 -7.4 0.2 3.7 0.1 -3.4 0.1 -0.7 0.1 9.7 0.1 -3.6 0.2 -5.6 0.1 3.1 0.1 2.1 0.2 -5.4 0.1 6.7 0.1 -0.5 0.1 -5.0 0.1 5.9 0.2 -3.7 0.1 0.9 0.1 0.8 0.2 1.9 0.1 4.0 0.1 0.8 0.1 -5.0 0.1 -0.7 0.2 1.4 0.1 -0.8 0.1 8.8 0.2 -3.0 0.1 -11.0 0.1 6.2 0.1 0.7 0.1 5.0 0.2 -4.2 0.1 4.5 0.1 1.5 0.2 -2.0 0.1 -2.4 0.1 -0.6 0.1 5.1 0.1 -5.6 0.2 -0.2 0.1 3.8 0.1 -2.8 0.2 2.3 0.1 -1.5 0.1 -3.4 0.1 2.2 0.1 -2.7 0.2 8.5 0.1 -9.1 0.1 4.3 0.2 -5.2 0.1 6.9 0.1 -1.9 0.1 -5.7 0.1 6.0 0.2 5.7 0.1 -5.6 0.1 -6.5 0.2 8.3 0.1 -8.9 0.1 1.6 0.1 -2.1 0.1 0.4 0.2 -2.4 0.1 3.1 0.1 3.1 0.2 7.9 0.1 -7.1 0.1 0.3 0.1 0.8 0.1 1.5 0.2 -9.9 0.1 6.9 0.1 5.5 0.2 -12.0 0.1 7.5 0.1 2.0 0.1 3.0 0.1 -6.5 0.2 -2.0 0.1 7.2 0.1 -1.5 0.2 -1.6 0.1 5.9 0.1 -8.5 0.1 6.8 0.1 2.9 0.2 4.1 0.1 -6.5 0.1 1.7 0.2 0.0 0.1 3.6 0.1 -9.3 0.1 4.1 0.1 -2.7 0.2 1.3 0.1 2.5 0.1 1.8 0.2 -0.1 0.1 -6.7 0.1 0.1 0.1 4.8 0.1 1.4 0.2 -4.1 0.1 3.8 0.1 -1.3 0.2 0.8 0.1 2.1 0.1 -4.0 0.1 4.3 0.1 -3.0 0.2 -1.9 0.1 0.6 0.1 3.3 0.2 -0.1 0.1 -0.9 0.1 3.8 0.1 -2.6 0.1 -6.0 0.2 4.0 0.1 3.7 0.1 0.4 0.2 -4.6 0.1 5.8 0.1 2.2 0.1 -3.3 0.1 -4.9 0.2 1.9 0.1 -0.3 0.1 1.3 0.2 3.6 0.1 -1.1 0.1 3.3 0.1 -5.4 0.1 1.3 0.2 0.0 0.1 1.8 0.1 -2.9 0.2 -1.9 0.1 -0.6 0.1 8.9 0.1 -10.3 0.1 -1.3 0.2 10.3 0.1 -3.1 0.1 -0.1 0.2 1.5 0.1 -5.0 0.1 -0.8 0.1 5.0 0.1 -1.7 0.2 2.0 0.1 1.4 0.1 -1.8 0.2 3.3 0.1 -7.0 0.1 6.3 0.1 2.2 0.1 -1.4 0.2 -0.7 0.1 2.4 0.1 -2.1 0.2 1.5 0.1 -0.4 0.1 8.0 0.1 -10.7 0.1 3.7 0.2 0.1 0.1 3.2 0.1 -5.8 0.2 3.7 0.1 -3.8 0.1 6.1 0.1 -4.4 0.1 3.7 0.2 6.8 0.1 -8.7 0.1 5.3 0.2 5.6 0.1 -1.8 0.1 -7.4 0.1 7.9 0.1 -1.0 0.2 0.3 0.1 -5.9 0.1 10.0 0.2 -4.9 0.1 -3.4 0.1 3.9 0.1 1.7 0.1 4.3 0.2 -2.7 0.1 -1.9 0.1 2.4 0.2 2.3 0.1 -2.0 0.1 1.0 0.1 -2.2 0.1 -0.8 0.2 3.4 0.1 3.4 0.1 -1.4 0.2 1.9 0.1 2.6 0.1 -3.5 0.1 2.3 0.1 -1.1 0.2 -2.9 0.1 7.3 0.1 -0.8 0.2 -7.3 0.1 3.8 0.1 1.6 0.1 -5.0 0.1 2.3 0.2 3.2 0.1 -0.7 0.1 -3.8 0.2 3.2 0.1 1.7 0.1 1.1 0.1 -0.1 0.1 -0.9 0.2 -0.1 0.1 5.9 0.1 -6.1 0.2 -0.2 0.1 -0.3 0.1 0.8 0.1 -0.8 0.1 3.8 0.2 -2.3 0.1 -5.4 0.1 4.2 0.2 -1.8 0.1 2.1 0.1 -1.2 0.1 0.8 0.1 -3.4 0.2 3.7 0.1 3.5 0.1 2.6 0.2 -7.7 0.1 -0.6 0.1 -2.0 0.1 2.3 0.1 -5.6 0.2 0.5 0.1 9.7 0.1 3.3 0.2 -9.3 0.1 -1.2 0.1 0.1 0.1 5.6 0.1 -10.2 0.2 1.5 0.1 1.5 0.1 6.4 0.2 -0.9 0.1 -4.5 0.1 -0.3 0.1 -0.3 0.1 -0.2 0.2 1.7 0.1 -4.3 0.1 2.4 0.2 -1.2 0.1 5.1 0.1 -4.0 0.1 3.0 0.1 3.0 0.2 -4.3 0.1 -3.9 0.1 2.7 0.2 -4.7 0.1 14.6 0.1 -4.8 0.1 0.7 0.1 -8.2 0.2 3.1 0.1 -0.4 0.1 -2.3 0.2 9.2 0.1 2.6 0.1 -5.0 0.1 3.5 0.1 -1.2 0.2 -6.6 0.1 3.7 0.1 -2.7 0.2 2.4 0.1 5.0 0.1 -4.6 0.1 3.8 0.1 -2.7 0.2 5.7 0.1 -1.8 0.1 0.6 0.2 -1.5 0.1 -1.4 0.1 3.2 0.1 -6.2 0.1 -4.8 0.2 10.9 0.1 -2.5 0.1 -0.6 0.2 -1.0 0.1 5.4 0.1 -2.3 0.1 -3.2 0.1 10.1 0.2 -2.7 0.1 -11.2 0.1 3.2 0.2 4.3 0.1 0.6 0.1 -4.0 0.1 9.5 0.1 -2.9 0.2 -3.2 0.1 0.3 0.1 -1.7 0.2 -1.2 0.1 5.7 0.1 -8.7 0.1 7.0 0.1 -1.1 0.2 -0.3 0.1 -0.2 0.1 -4.1 0.2 1.2 0.1 -1.9 0.1 2.6 0.1 -2.6 0.1 1.3 0.2 -0.8 0.1 -3.9 0.1 2.4 0.2 1.6 0.1 4.2 0.1 -2.2 0.1 2.7 0.1 -2.0 0.2 1.9 0.1 1.1 0.1 -2.6 0.2 -0.9 0.1 3.4 0.1 0.7 0.1 3.5 0.1 -0.3 0.2 -5.7 0.1 2.9 0.1 4.7 0.2 -2.7 0.1 0.1 0.1 3.7 0.1 -2.1 0.1 2.3 0.2 -4.4 0.1 4.6 0.1 -4.8 0.2 4.6 0.1 1.6 0.1 0.0 0.1 -1.1 0.1 -0.2 0.2 -3.0 0.1 4.7 0.1 -0.7 0.2 -6.6 0.1 6.4 0.1 -5.7 0.1 4.7 0.1 4.1 0.2 -10.4 0.1 13.5 0.1 -5.1 0.2 -2.9 0.1 4.7 0.1 -6.2 0.1 4.8 0.1 -6.6 0.2 -1.8 0.1 0.3 0.1 2.2 0.2 -2.4 0.1 -1.3 0.1 4.2 0.1 -1.7 0.1 5.4 0.2 -5.0 0.1 4.1 0.1 -1.1 0.2 -3.5 0.1 -1.9 0.1 3.0 0.1 0.7 0.1 2.6 0.2 4.9 0.1 -7.0 0.1 -2.2 0.2 0.8 0.1 6.2 0.1 -5.2 0.1 -2.1 0.1 1.3 0.2 1.8 0.1 -0.4 0.1 1.2 0.2 2.3 0.1 -7.8 0.1 7.0 0.1 -1.5 0.1 -2.4 0.2 5.7 0.1 1.9 0.1 -3.4 0.2 -6.5 0.1 7.2 0.1 -1.4 0.1 -0.6 0.1 -2.3 0.2 2.4 0.1 -1.6 0.1 6.9 0.2 -0.5 0.1 -11.6 0.1 8.6 0.1 -3.9 0.1 0.8 0.2 -1.5 0.1 0.4 0.1 5.2 0.2 -7.4 0.1 4.0 0.1 6.5 0.1 -13.3 0.1 3.6 0.2 1.5 0.1 2.8 0.1 2.1 0.2 -1.6 0.1 -3.3 0.1 0.6 0.1 2.1 0.1 -2.3 0.2 0.6 0.1 -4.7 0.1 3.2 0.2 7.6 0.1 -3.1 0.1 -2.5 0.1 3.1 0.1 -5.0 0.2 -5.3 0.1 5.9 0.1 -0.3 0.2 -6.9 0.1 6.9 0.1 0.5 0.1 7.0 0.1 -7.5 0.2 4.1 0.1 0.7 0.1 -2.0 0.2 -4.6 0.1 3.4 0.1 -1.0 0.1 -6.2 0.1 4.3 0.2 -5.8 0.1 -0.2 0.1 4.4 0.2 -0.2 0.1 1.1 0.1 1.7 0.1 1.9 0.1 -4.8 0.2 3.1 0.1 5.3 0.1 1.0 0.2 1.7 0.1 2.2 0.1 -9.9 0.1 3.2 0.1 0.8 0.2 -1.1 0.1 2.3 0.1 1.3 0.2 -5.8 0.1 6.0 0.1 -1.9 0.1 -1.2 0.1 -0.2 0.2 12.1 0.1 -7.3 0.1 2.6 0.2 2.4 0.1 -3.6 0.1 3.4 0.1 -0.8 0.1 -1.1 0.2 1.2 0.1 0.3 0.1 3.4 0.2 -1.5 0.1 0.1 0.1 5.1 0.1 0.3 0.1 -3.3 0.2 -2.9 0.1 7.0 0.1 -2.5 0.2 -0.5 0.1 -3.6 0.1 4.0 0.1 -2.1 0.1 5.4 0.2 -4.4 0.1 4.2 0.1 3.7 0.2 -7.9 0.1 -3.0 0.1 8.9 0.1 -3.5 0.1 -0.6 0.2 -1.8 0.1 1.4 0.1 0.3 0.2 3.0 0.1 -4.5 0.1 0.9 0.1 5.6 0.1 -0.4 0.2 -2.6 0.1 6.3 0.1 -2.1 0.2 -3.0 0.1 -1.2 0.1 1.9 0.1 -0.9 0.1 -2.4 0.2 9.6 0.1 -1.4 0.1 -0.4 0.2 -1.5 0.1 -1.0 0.1 -1.5 0.1 1.4 0.1 -1.1 0.2 0.3 0.1 2.9 0.1 -1.8 0.2 -1.4 0.1 -1.7 0.1 3.3 0.1 -6.7 0.1 6.6 0.2 2.1 0.1 4.9 0.1 -10.2 0.2 1.5 0.1 -1.3 0.1 0.8 0.1 -4.7 0.1 4.1 0.2 1.0 0.1 -0.9 0.1 -3.7 0.2 4.2 0.1 -3.2 0.1 0.4 0.1 -0.4 0.1 5.6 0.2 -5.2 0.1 0.0 0.1 1.6 0.2 -4.4 0.1 2.2 0.1 -3.9 0.1 -0.4 0.1 2.6 0.2 -0.5 0.1 -2.2 0.1 3.2 0.2 0.3 0.1 -5.4 0.1 6.9 0.1 0.0 0.1 3.0 0.2 -8.8 0.1 6.0 0.1 1.3 0.2 -6.3 0.1 2.6 0.1 0.6 0.1 -2.0 0.1 7.5 0.2 0.6 0.1 -2.0 0.1 -7.9 0.2 3.7 0.1 6.0 0.1 -1.8 0.1 -9.4 0.1 13.3 0.2 -3.2 0.1 -3.3 0.1 1.1 0.2 -1.5 0.1 2.6 0.1 1.4 0.1 1.7 0.1 -1.3 0.2 2.3 0.1 -6.0 0.1 9.7 0.2 -5.1 0.1 -2.1 0.1 -0.3 0.1 3.3 0.1 -6.0 0.2 4.9 0.1 -6.4 0.1 9.6 0.2 -0.8 0.1 -6.5 0.1 6.8 0.1 -4.5 0.1 -2.3 0.2 7.3 0.1 -6.9 0.1 6.1 0.2 0.8 0.1 -6.5 0.1 -2.0 0.1 3.1 0.1 -3.4 0.2 4.2 0.1 2.0 0.1 -0.4 0.2 0.0 0.1 -1.7 0.1 2.3 0.1 3.5 0.1 -0.2 0.2 -0.4 0.1 -5.9 0.1 7.4 0.2 -7.0 0.1 7.7 0.1 -1.8 0.1 -1.7 0.1 -1.3 0.2 6.2 0.1 -5.3 0.1 2.1 0.2 3.0 0.1 -2.5 0.1 3.8 0.1 -2.7 0.1 3.2 0.2 0.0 0.1 -1.5 0.1 -0.1 0.2 5.4 0.1 -7.5 0.1 -2.1 0.1 7.3 0.1 -5.1 0.2 -2.0 0.1 4.3 0.1 2.6 0.2 0.2 0.1 -1.7 0.1 0.3 0.1 -4.6 0.1 4.0 0.2 -0.6 0.1 -0.9 0.1 2.0 0.2 -7.9 0.1 2.2 0.1 -2.5 0.1 10.9 0.1 -3.1 0.2 -1.9 0.1 1.6 0.1 -3.4 0.2 0.6 0.1 -3.0 0.1 3.4 0.1 -1.5 0.1 4.4 0.2 -4.0 0.1 2.0 0.1 -1.1 0.2 1.3 0.1 -1.8 0.1 -3.0 0.1 7.7 0.1 -1.4 0.2 2.2 0.1 -1.1 0.1 1.4 0.2 -0.4 0.1 -2.6 0.1 4.7 0.1 -4.8 0.1 -4.5 0.2 0.9 0.1 4.6 0.1 1.5 0.2 -4.0 0.1 -1.5 0.1 2.7 0.1 3.0 0.1 -3.5 0.2 -1.6 0.1 4.4 0.1 0.0 0.2 1.5 0.1 -6.5 0.1 6.6 0.1 -0.3 0.1 -0.5 0.2 -3.7 0.1 1.1 0.1 -4.9 0.2 6.5 0.1 1.9 0.1 -5.7 0.1 -3.8 0.1 9.1 0.2 -4.0 0.1 1.2 0.1 -0.2 0.2 -4.7 0.1 2.9 0.1 -2.5 0.1 0.3 0.1 5.7 0.2 -7.8 0.1 5.9 0.1 -3.1 0.2 -0.3 0.1 2.0 0.1 -4.1 0.1 -0.8 0.1 -1.0 0.2 3.4 0.1 0.0 0.1 -3.7 0.2 1.0 0.1 3.6 0.1 -6.8 0.1 2.6 0.1 -3.1 0.2 0.6 0.1 -0.1 0.1 1.5 0.2 0.1 0.1 -2.6 0.1 4.5 0.1 -3.8 0.1 -1.7 0.2 1.4 0.1 -5.2 0.1 1.5 0.2 3.3 0.1 3.8 0.1 2.0 0.1 -5.3 0.1 -2.4 0.2 1.7 0.1 0.5 0.1 0.7 0.2 3.8 0.1 -10.9 0.1 3.9 0.1 1.8 0.1 -3.7 0.2 5.2 0.1 -4.3 0.1 4.9 0.2 -4.1 0.1 -5.2 0.1 9.5 0.1 -2.4 0.1 0.3 0.2 -1.3 0.1 4.6 0.1 -1.3 0.2 0.1 0.1 1.7 0.1 -9.5 0.1 10.4 0.1 -9.9 0.2 7.7 0.1 1.0 0.1 2.1 0.2 1.3 0.1 -3.0 0.1 -2.8 0.1 7.5 0.1 -0.3 0.2 -0.2 0.1 -5.5 0.1 7.8 0.2 -2.6 0.1 1.2 0.1 -1.1 0.1 0.0 0.1 3.4 0.2 -0.5 0.1 -2.3 0.1 2.7 0.2 1.6 0.1 0.7 0.1 -1.3 0.1 -2.0 0.1 4.8 0.2 -2.7 0.1 2.2 0.1 2.3 0.2 -0.1 0.1 -0.4 0.1 -1.3 0.1 5.4 0.1 -4.0 0.2 2.3 0.1 -4.4 0.1 3.2 0.2 -2.9 0.1 3.2 0.1 -3.7 0.1 2.8 0.1 -1.3 0.2 6.2 0.1 -0.3 0.1 -4.2 0.2 1.8 0.1 -4.8 0.1 -5.7 0.1 5.8 0.1 0.0 0.2 2.2 0.1 -1.3 0.1 1.0 0.2 -1.5 0.1 6.4 0.1 -1.8 0.1 -1.2 0.1 -3.2 0.2 -3.5 0.1 3.1 0.1 0.4 0.2 1.6 0.1 0.1 0.1 4.3 0.1 -4.1 0.1 -1.9 0.2 -1.7 0.1 0.2 0.1 -0.1 0.2 -0.1 0.1 1.7 0.1 -4.6 0.1 7.3 0.1 -8.7 0.2 9.3 0.1 -5.7 0.1 0.5 0.2 2.3 0.1 3.9 0.1 -10.7 0.1 1.0 0.1 3.4 0.2 3.1 0.1 -1.5 0.1 -4.5 0.2 7.2 0.1 -0.1 0.1 -3.9 0.1 -5.6 0.1 4.7 0.2 2.6 0.1 1.7 0.1 0.1 0.2 -7.4 0.1 1.2 0.1 -1.3 0.1 5.0 0.1 -1.5 0.2 0.4 0.1 -0.5 0.1 -0.7 0.2 -5.4 0.1 3.7 0.1 -1.9 0.1 2.4 0.1 0.8 0.2 -2.5 0.1 -4.6 0.1 6.3 0.2 4.0 0.1 -6.7 0.1 -1.5 0.1 4.1 0.1 0.6 0.2 1.8 0.1 4.6 0.1 -5.6 0.2 1.1 0.1 2.3 0.1 -2.2 0.1 3.7 0.1 -6.0 0.2 -2.3 0.1 4.0 0.1 -1.5 0.2 4.9 0.1 6.4 0.1 -1.5 0.1 -3.6 0.1 -1.3 0.2 8.3 0.1 -9.3 0.1 1.7 0.2 3.5 0.1 -3.0 0.1 2.3 0.1 -1.9 0.1 4.2 0.2 3.2 0.1 -6.0 0.1 -1.6 0.2 1.7 0.1 3.3 0.1 4.2 0.1 -6.4 0.1 -2.5 0.2 2.4 0.1 5.1 0.1 -1.5 0.2 -0.2 0.1 -6.6 0.1 6.3 0.1 -4.5 0.1 10.5 0.2 -1.6 0.1 -0.1 0.1 1.0 0.2 -3.6 0.1 -0.6 0.1 1.9 0.1 -0.2 0.1 -3.9 0.2 -1.7 0.1 5.0 0.1 2.3 0.2 3.2 0.1 -1.5 0.1 3.2 0.1 -4.7 0.1 -4.6 0.2 5.9 0.1 -3.5 0.1 5.0 0.2 -3.7 0.1 -1.4 0.1 -5.0 0.1 11.6 0.1 -2.5 0.2 -7.3 0.1 0.4 0.1 0.2 0.2 6.5 0.1 -12.6 0.1 2.9 0.1 2.8 0.1 -3.9 0.2 4.7 0.1 0.3 0.1 -1.3 0.2 1.0 0.1 -0.4 0.1 -1.1 0.1 3.6 0.1 -6.3 0.2 -1.9 0.1 9.1 0.1 0.4 0.2 3.4 0.1 -8.0 0.1 -1.0 0.1 4.6 0.1 -0.3 0.2 3.4 0.1 -1.6 0.1 -3.2 0.2 -7.7 0.1 8.1 0.1 6.0 0.1 -5.4 0.1 0.8 0.2 -1.6 0.1 3.7 0.1 1.3 0.2 -4.2 0.1 3.0 0.1 -6.6 0.1 8.3 0.1 -1.2 0.2 -0.5 0.1 -12.0 0.1 16.4 0.2 -6.9 0.1 3.2 0.1 2.2 0.1 3.0 0.1 -5.8 0.2 -4.4 0.1 4.6 0.1 1.8 0.2 1.8 0.1 -4.1 0.1 1.2 0.1 -4.8 0.1 4.7 0.2 3.0 0.1 -6.5 0.1 2.4 0.2 -3.3 0.1 -3.6 0.1 2.3 0.1 -3.2 0.1 4.6 0.2 -0.4 0.1 3.5 0.1 1.0 0.2 -4.6 0.1 0.6 0.1 -5.1 0.1 8.3 0.1 -8.8 0.2 0.9 0.1 0.4 0.1 1.3 0.2 2.1 0.1 -5.4 0.1 5.4 0.1 -4.3 0.1 -1.6 0.2 -1.7 0.1 4.4 0.1 -2.0 0.2 -1.4 0.1 -1.6 0.1 1.2 0.1 5.2 0.1 -5.1 0.2 0.3 0.1 -1.3 0.1 -2.4 0.2 -0.2 0.1 1.7 0.1 -3.6 0.1 -0.3 0.1 0.6 0.2 0.5 0.1 -5.8 0.1 5.7 0.2 4.7 0.1 -2.5 0.1 -1.7 0.1 -4.2 0.1 2.8 0.2 2.0 0.1 1.6 0.1 -0.5 0.2 2.5 0.1 7.7 0.1 -3.8 0.1 -1.9 0.1 -2.9 0.2 -0.3 0.1 1.6 0.1 4.0 0.2 -2.2 0.1 7.3 0.1 -9.1 0.1 -1.7 0.1 4.0 0.2 2.3 0.1 -2.7 0.1 4.0 0.2 -0.1 0.1 -5.2 0.1 5.5 0.1 -4.1 0.1 4.6 0.2 2.7 0.1 -3.7 0.1 -7.7 0.2 -0.3 0.1 7.7 0.1 -2.2 0.1 -2.1 0.1 -2.7 0.2 8.8 0.1 -8.9 0.1 2.8 0.2 1.3 0.1 -4.5 0.1 6.2 0.1 -2.2 0.1 -0.1 0.2 -0.6 0.1 -2.7 0.1 -3.3 0.2 6.5 0.1 -0.7 0.1 -1.5 0.1 4.6 0.1 -3.2 0.2 -2.4 0.1 -3.0 0.1 3.9 0.2 1.2 0.1 5.4 0.1 -0.2 0.1 -0.2 0.1 -1.6 0.2 -3.1 0.1 6.5 0.1 0.5 0.2 -4.4 0.1 2.8 0.1 2.5 0.1 -2.0 0.1 0.4 0.2 2.3 0.1 1.5 0.1 -2.5 0.2 2.2 0.1 -3.4 0.1 -0.2 0.1 10.9 0.1 -5.7 0.2 0.0 0.1 2.1 0.1 1.9 0.2 4.0 0.1 -3.4 0.1 1.4 0.1 -2.9 0.1 -1.4 0.2 -0.1 0.1 1.4 0.1 0.5 0.2 -0.5 0.1 -2.8 0.1 2.7 0.1 -2.8 0.1 4.9 0.2 -4.3 0.1 1.7 0.1 -2.2 0.2 -1.9 0.1 6.1 0.1 2.2 0.1 -2.5 0.1 -3.2 0.2 2.7 0.1 1.1 0.1 -8.0 0.2 7.9 0.1 -7.1 0.1 1.0 0.1 0.8 0.1 2.3 0.2 -1.3 0.1 2.2 0.1 5.3 0.2 -9.0 0.1 4.9 0.1 -3.8 0.1 9.0 0.1 -6.8 0.2 4.9 0.1 -3.7 0.1 -1.0 0.2 7.0 0.1 -6.9 0.1 0.0 0.1 3.9 0.1 -0.7 0.2 1.3 0.1 -5.7 0.1 7.9 0.2 -3.9 0.1 2.1 0.1 -5.2 0.1 2.0 0.1 4.2 0.2 -6.4 0.1 3.1 0.1 2.6 0.2 -6.2 0.1 1.6 0.1 -1.2 0.1 2.2 0.1 4.8 0.2 -9.3 0.1 5.9 0.1 -3.5 0.2 -2.5 0.1 0.7 0.1 1.8 0.1 -1.7 0.1 -2.5 0.2 0.0 0.1 7.3 0.1 0.7 0.2 -3.6 0.1 -3.6 0.1 2.1 0.1 2.2 0.1 -2.1 0.2 2.5 0.1 -6.1 0.1 -0.6 0.2 0.2 0.1 1.2 0.1 4.2 0.1 -4.1 0.1 -6.1 0.2 7.9 0.1 -4.1 0.1 0.6 0.2 1.1 0.1 -1.1 0.1 -10.8 0.1 9.1 0.1 -3.2 0.2 0.3 0.1 1.7 0.1 1.1 0.2 -8.1 0.1 4.9 0.1 -2.4 0.1 4.0 0.1 -10.9 0.2 6.4 0.1 1.5 0.1 -6.4 0.2 3.5 0.1 1.0 0.1 -7.5 0.1 13.4 0.1 -8.8 0.2 3.4 0.1 -4.9 0.1 0.5 0.2 2.4 0.1 -8.5 0.1 4.0 0.1 3.1 0.1 2.5 0.2 3.2 0.1 -15.5 0.1 8.7 0.2 -1.2 0.1 1.8 0.1 -1.6 0.1 5.8 0.1 -7.3 0.2 5.4 0.1 -1.8 0.1 -1.5 0.2 1.8 0.1 -6.7 0.1 9.6 0.1 -6.3 0.1 3.3 0.2 -1.0 0.1 1.1 0.1 -2.0 0.2 -1.3 0.1 -3.9 0.1 -0.6 0.1 6.5 0.1 -0.6 0.2 4.5 0.1 -10.6 0.1 7.1 0.2 -3.4 0.1 2.2 0.1 3.6 0.1 2.0 0.1 -4.8 0.2 -0.6 0.1 2.9 0.1 -4.5 0.2 3.8 0.1 1.6 0.1 -2.6 0.1 2.0 0.1 -2.3 0.2 3.4 0.1 -1.6 0.1 1.8 0.2 2.4 0.1 -6.4 0.1 4.3 0.1 1.4 0.1 0.5 0.2 0.2 0.1 -3.9 0.1 7.1 0.2 -4.6 0.1 -0.8 0.1 3.4 0.1 -6.0 0.1 5.9 0.2 -1.4 0.1 -5.4 0.1 5.1 0.2 3.8 0.1 3.5 0.1 -2.8 0.1 -3.6 0.1 3.9 0.2 -2.7 0.1 4.0 0.1 -3.9 0.2 -0.1 0.1 1.2 0.1 4.8 0.1 -8.9 0.1 2.0 0.2 4.0 0.1 -3.2 0.1 2.3 0.2 -4.9 0.1 9.1 0.1 -3.0 0.1 1.2 0.1 -5.1 0.2 6.8 0.1 -0.6 0.1 -2.0 0.2 3.1 0.1 -4.5 0.1 -4.9 0.1 6.5 0.1 8.1 0.2 -9.1 0.1 1.9 0.1 -0.7 0.2 2.5 0.1 0.8 0.1 -1.5 0.1 1.3 0.1 -0.7 0.2 1.3 0.1 2.6 0.1 -3.7 0.2 3.7 0.1 -4.2 0.1 6.5 0.1 -7.0 0.1 1.4 0.2 2.4 0.1 -0.1 0.1 3.3 0.2 -9.9 0.1 5.1 0.1 0.7 0.1 -0.4 0.1 -3.3 0.2 -5.0 0.1 0.3 0.1 13.9 0.2 -0.1 0.1 -12.1 0.1 5.5 0.1 -1.8 0.1 2.9 0.2 -0.2 0.1 -2.3 0.1 2.9 0.2 -6.8 0.1 2.2 0.1 4.3 0.1 2.9 0.1 -11.8 0.2 6.8 0.1 -1.3 0.1 1.7 0.2 4.1 0.1 -5.2 0.1 -2.9 0.1 4.1 0.1 -4.4 0.2 8.2 0.1 -6.8 0.1 1.9 0.2 0.6 0.1 2.8 0.1 0.5 0.1 0.6 0.1 -2.1 0.2 -1.6 0.1 1.6 0.1 3.2 0.2 -3.2 0.1 0.0 0.1 1.4 0.1 1.5 0.1 -4.1 0.2 2.4 0.1 3.0 0.1 -10.3 0.2 9.8 0.1 -1.1 0.1 -5.2 0.1 -0.1 0.1 1.9 0.2 -2.6 0.1 5.4 0.1 -2.7 0.2 -8.9 0.1 10.4 0.1 -6.2 0.1 2.2 0.1 -8.1 0.2 7.7 0.1 -4.1 0.1 0.5 0.2 0.4 0.1 -1.8 0.1 -4.8 0.1 1.5 0.1 8.4 0.2 -12.0 0.1 1.2 0.1 -1.7 0.2 4.5 0.1 -2.0 0.1 -0.4 0.1 -4.1 0.1 13.1 0.2 -4.5 0.1 -3.3 0.1 2.7 0.2 -1.4 0.1 -1.0 0.1 7.0 0.1 -2.3 0.1 -3.9 0.2 2.8 0.1 -0.5 0.1 0.4 0.2 -2.9 0.1 4.7 0.1 -3.1 0.1 7.7 0.1 0.3 0.2 -1.6 0.1 -2.9 0.1 -1.4 0.2 -1.3 0.1 6.2 0.1 -1.9 0.1 0.5 0.1 -2.2 0.2 6.4 0.1 -9.4 0.1 6.7 0.2 -3.6 0.1 3.2 0.1 -6.5 0.1 9.9 0.1 -10.9 0.2 6.1 0.1 1.0 0.1 2.4 0.2 -1.1 0.1 -0.7 0.1 -1.0 0.1 5.3 0.1 -11.3 0.2 10.3 0.1 -4.5 0.1 2.9 0.2 -4.9 0.1 9.7 0.1 -12.7 0.1 8.0 0.1 -6.4 0.2 5.3 0.1 0.6 0.1 -2.9 0.2 0.3 0.1 -1.9 0.1 -0.9 0.1 0.4 0.1 1.3 0.2 0.5 0.1 -3.2 0.1 6.0 0.2 -4.2 0.1 1.0 0.1 -0.7 0.1 -0.8 0.1 -1.6 0.2 2.4 0.1 -0.8 0.1 -1.9 0.2 4.2 0.1 -3.5 0.1 -1.4 0.1 2.3 0.1 -3.7 0.2 0.7 0.1 0.8 0.1 -0.4 0.2 -2.4 0.1 8.3 0.1 -8.7 0.1 1.8 0.1 4.7 0.2 -0.7 0.1 1.2 0.1 -2.4 0.2 -6.8 0.1 1.1 0.1 5.8 0.1 -2.0 0.1 -2.2 0.2 -5.3 0.1 6.2 0.1 -1.4 0.2 0.5 0.1 -0.6 0.1 -0.3 0.1 1.9 0.1 -2.2 0.2 -0.1 0.1 -2.9 0.1 4.4 0.2 -6.0 0.1 6.5 0.1 0.8 0.1 -3.4 0.1 -2.5 0.2 3.9 0.1 -4.1 0.1 1.6 0.2 1.9 0.1 -2.9 0.1 5.5 0.1 -3.5 0.1 0.1 0.2 -7.2 0.1 10.2 0.1 -7.1 0.2 5.6 0.1 -1.2 0.1 0.6 0.1 -5.3 0.1 6.2 0.2 2.1 0.1 -2.4 0.1 0.7 0.2 6.3 0.1 -10.5 0.1 9.4 0.1 -5.6 0.1 2.0 0.2 4.7 0.1 -3.0 0.1 -0.9 0.2 10.0 0.1 -3.2 0.1 -3.1 0.1 -0.1 0.1 -4.1 0.2 2.3 0.1 2.5 0.1 -1.0 0.2 -0.7 0.1 1.1 0.1 -2.9 0.1 2.4 0.1 5.7 0.2 -12.2 0.1 3.2 0.1 1.9 0.2 3.5 0.1 -3.5 0.1 1.8 0.1 -1.2 0.1 6.2 0.2 -6.6 0.1 -0.6 0.1 2.9 0.2 -2.4 0.1 1.3 0.1 -5.6 0.1 3.7 0.1 2.6 0.2 -3.5 0.1 3.4 0.1 -2.0 0.2 3.1 0.1 6.7 0.1 -8.4 0.1 1.8 0.1 -3.3 0.2 -0.2 0.1 -1.6 0.1 -2.1 0.2 -0.8 0.1 3.7 0.1 -4.9 0.1 3.3 0.1 2.9 0.2 -5.9 0.1 -1.4 0.1 3.0 0.2 0.7 0.1 -11.6 0.1 3.0 0.1 5.7 0.1 -3.1 0.2 2.4 0.1 2.8 0.1 2.8 0.2 -7.8 0.1 0.5 0.1 -0.3 0.1 7.1 0.1 -1.5 0.2 -9.4 0.1 0.9 0.1 -1.7 0.2 3.4 0.1 -5.1 0.1 8.8 0.1 0.3 0.1 -1.1 0.2 -4.0 0.1 1.2 0.1 3.8 0.2 -3.0 0.1 -2.7 0.1 2.3 0.1 -3.6 0.1 3.2 0.2 8.2 0.1 -14.6 0.1 7.5 0.2 -0.7 0.1 1.9 0.1 -1.4 0.1 -2.7 0.1 1.2 0.2 1.4 0.1 -4.4 0.1 3.5 0.2 -5.0 0.1 6.2 0.1 -0.1 0.1 -0.2 0.1 3.7 0.2 2.6 0.1 -3.1 0.1 8.2 0.2 -10.1 0.1 5.1 0.1 6.8 0.1 -6.8 0.1 1.9 0.2 5.1 0.1 -4.5 0.1 -3.3 0.2 4.4 0.1 2.9 0.1 -2.8 0.1 -0.6 0.1 0.7 0.2 3.8 0.1 -2.1 0.1 7.4 0.2 -7.7 0.1 2.7 0.1 3.0 0.1 -2.8 0.1 -7.3 0.2 6.7 0.1 -2.3 0.1 0.5 0.2 -2.3 0.1 2.4 0.1 0.6 0.1 -4.2 0.1 -1.7 0.2 6.7 0.1 0.3 0.1 1.3 0.2 -3.5 0.1 -2.0 0.1 -1.7 0.1 6.4 0.1 -0.9 0.2 3.7 0.1 -8.2 0.1 0.6 0.2 5.6 0.1 -8.7 0.1 -1.6 0.1 3.1 0.1 3.7 0.2 0.6 0.1 -6.4 0.1 0.4 0.2 -5.1 0.1 10.4 0.1 -0.4 0.1 -6.6 0.1 -3.2 0.2 3.5 0.1 -0.7 0.1 -5.0 0.2 -3.0 0.1 0.4 0.1 9.9 0.1 -12.2 0.1 1.3 0.2 1.8 0.1 -2.6 0.1 -0.9 0.2 1.9 0.1 -1.4 0.1 3.1 0.1 -6.7 0.1 1.7 0.2 0.7 0.1 -1.4 0.1 -1.1 0.2 1.5 0.1 -6.1 0.1 9.0 0.1 0.4 0.1 -0.6 0.2 5.3 0.1 -11.1 0.1 7.7 0.2 -2.5 0.1 4.5 0.1 -6.8 0.1 4.8 0.1 5.6 0.2 -2.0 0.1 0.0 0.1 2.3 0.2 1.1 0.1 -0.7 0.1 -3.8 0.1 -0.2 0.1 8.3 0.2 2.8 0.1 2.6 0.1 -4.5 0.2 -2.5 0.1 3.3 0.1 -3.3 0.1 5.6 0.1 -1.8 0.2 -11.5 0.1 10.1 0.1 -1.1 0.2 -6.3 0.1 1.5 0.1 2.8 0.1 2.2 0.1 -1.8 0.2 3.0 0.1 -8.4 0.1 5.7 0.2 1.1 0.1 1.8 0.1 -2.9 0.1 -4.0 0.1 8.5 0.2 -5.6 0.1 3.6 0.1 -3.9 0.2 1.7 0.1 -3.7 0.1 0.9 0.1 0.4 0.1 4.6 0.2 2.7 0.1 -0.1 0.1 -4.6 0.2 -1.1 0.1 -9.5 0.1 9.7 0.1 -1.2 0.1 0.6 0.2 -2.9 0.1 3.5 0.1 2.2 0.2 -4.7 0.1 5.8 0.1 -2.8 0.1 -0.3 0.1 -2.9 0.2 -8.1 0.1 7.0 0.1 -0.9 0.2 2.9 0.1 -2.9 0.1 -0.6 0.1 -6.5 0.1 4.9 0.2 1.8 0.1 -1.7 0.1 4.9 0.2 -6.3 0.1 1.0 0.1 -0.6 0.1 0.8 0.1 -3.3 0.2 3.7 0.1 -1.4 0.1 1.5 0.2 1.8 0.1 -3.0 0.1 3.7 0.1 -7.3 0.1 5.6 0.2 -6.5 0.1 5.4 0.1 -1.6 0.2 -1.3 0.1 -3.8 0.1 7.3 0.1 1.9 0.1 -6.9 0.2 2.6 0.1 -2.2 0.1 0.7 0.2 6.5 0.1 -3.2 0.1 -2.3 0.1 -1.2 0.1 0.6 0.2 5.9 0.1 -1.9 0.1 0.2 0.2 -0.8 0.1 2.0 0.1 -10.6 0.1 8.2 0.1 -4.2 0.2 4.4 0.1 2.3 0.1 -5.2 0.2 -1.4 0.1 0.2 0.1 11.9 0.1 -11.9 0.1 6.2 0.2 4.0 0.1 -7.8 0.1 3.7 0.2 -9.3 0.1 5.8 0.1 2.1 0.1 -1.7 0.1 3.4 0.2 5.2 0.1 -5.4 0.1 -1.3 0.2 1.1 0.1 2.8 0.1 -2.7 0.1 3.0 0.1 -0.6 0.2 -8.2 0.1 6.4 0.1 -3.7 0.2 1.3 0.1 -0.5 0.1 1.9 0.1 3.7 0.1 -2.2 0.2 6.1 0.1 -5.8 0.1 -1.1 0.2 -1.1 0.1 2.5 0.1 1.9 0.1 5.8 0.1 -5.1 0.2 1.8 0.1 -4.4 0.1 6.5 0.2 0.8 0.1 -1.0 0.1 0.5 0.1 -1.7 0.1 1.4 0.2 -5.6 0.1 -3.5 0.1 2.9 0.2 3.7 0.1 5.4 0.1 -4.5 0.1 1.7 0.1 -7.3 0.2 0.9 0.1 -3.5 0.1 5.5 0.2 0.9 0.1 -0.7 0.1 -4.7 0.1 2.3 0.1 2.7 0.2 -2.8 0.1 2.6 0.1 -3.4 0.2 0.2 0.1 2.6 0.1 -3.2 0.1 2.8 0.1 -2.2 0.2 0.4 0.1 1.3 0.1 -2.6 0.2 -2.6 0.1 -4.0 0.1 4.9 0.1 -1.0 0.1 3.4 0.2 2.1 0.1 -2.9 0.1 5.6 0.2 -6.0 0.1 3.1 0.1 -2.1 0.1 0.1 0.1 -1.0 0.2 -6.7 0.1 4.4 0.1 4.2 0.2 -8.1 0.1 7.1 0.1 -1.3 0.1 2.3 0.1 -2.4 0.2 -6.6 0.1 10.8 0.1 -5.2 0.2 1.3 0.1 -3.0 0.1 1.3 0.1 3.1 0.1 1.3 0.2 -3.7 0.1 1.8 0.1 -7.0 0.2 1.3 0.1 -8.4 0.1 10.8 0.1 -1.9 0.1 -3.5 0.2 -1.6 0.1 1.6 0.1 7.2 0.2 -4.7 0.1 3.5 0.1 -4.7 0.1 -2.2 0.1 -0.6 0.2 4.7 0.1 -3.4 0.1 -2.1 0.2 5.7 0.1 -13.5 0.1 8.8 0.1 -0.7 0.1 8.5 0.2 -10.3 0.1 4.7 0.1 0.1 0.2 0.4 0.1 -5.8 0.1 10.3 0.1 -1.5 0.1 1.0 0.2 3.0 0.1 0.2 0.1 -7.0 0.2 3.8 0.1 4.4 0.1 -3.9 0.1 5.7 0.1 -5.8 0.2 9.1 0.1 -3.0 0.1 -0.1 0.2 -2.4 0.1 1.1 0.1 0.6 0.1 1.6 0.1 0.4 0.2 0.3 0.1 -1.2 0.1 -0.5 0.2 1.2 0.1 1.3 0.1 -4.1 0.1 2.4 0.1 -4.0 0.2 5.0 0.1 4.3 0.1 -8.6 0.2 8.1 0.1 -2.5 0.1 -5.5 0.1 1.2 0.1 0.8 0.2 2.4 0.1 -7.0 0.1 3.5 0.2 3.2 0.1 -5.5 0.1 0.7 0.1 -2.1 0.1 -2.9 0.2 1.0 0.1 1.9 0.1 5.6 0.2 1.0 0.1 -7.0 0.1 -0.1 0.1 1.3 0.1 -1.1 0.2 -1.7 0.1 2.2 0.1 -3.0 0.2 3.6 0.1 -6.6 0.1 1.8 0.1 6.7 0.1 -6.2 0.2 -3.5 0.1 2.1 0.1 1.3 0.2 0.1 0.1 -1.3 0.1 3.4 0.1 -7.6 0.1 4.2 0.2 -4.1 0.1 0.4 0.1 4.2 0.2 -4.0 0.1 -6.3 0.1 4.1 0.1 4.0 0.1 -6.2 0.2 1.1 0.1 0.0 0.1 3.2 0.2 -2.4 0.1 -3.3 0.1 3.7 0.1 -4.7 0.1 8.5 0.2 -6.0 0.1 6.0 0.1 2.0 0.2 -5.9 0.1 -5.9 0.1 7.6 0.1 1.8 0.1 -4.4 0.2 -0.3 0.1 1.5 0.1 -0.6 0.2 0.7 0.1 -1.2 0.1 0.4 0.1 -1.0 0.1 4.3 0.2 -2.3 0.1 -3.5 0.1 -5.6 0.2 5.8 0.1 5.4 0.1 -4.9 0.1 1.1 0.1 0.0 0.2 5.7 0.1 -7.3 0.1 -1.9 0.2 0.7 0.1 -1.2 0.1 7.8 0.1 -7.2 0.1 6.2 0.2 -1.7 0.1 -0.7 0.1 2.6 0.2 -6.4 0.1 5.3 0.1 -2.1 0.1 0.9 0.1 -3.2 0.2 2.4 0.1 -1.7 0.1 2.3 0.2 2.7 0.1 -0.5 0.1 -2.9 0.1 -0.2 0.1 4.7 0.2 1.8 0.1 -1.4 0.1 -6.2 0.2 2.6 0.1 1.9 0.1 1.7 0.1 3.2 0.1 -6.9 0.2 3.1 0.1 3.3 0.1 -4.7 0.2 4.6 0.1 -5.4 0.1 4.3 0.1 -2.3 0.1 -3.2 0.2 1.9 0.1 4.7 0.1 -5.4 0.2 -3.8 0.1 8.0 0.1 0.7 0.1 -2.9 0.1 11.4 0.2 -5.3 0.1 -2.1 0.1 -5.0 0.2 1.8 0.1 -1.3 0.1 0.8 0.1 3.3 0.1 -1.4 0.2 1.8 0.1 -4.1 0.1 7.7 0.2 -7.7 0.1 -0.2 0.1 0.8 0.1 0.6 0.1 6.8 0.2 -6.2 0.1 -3.0 0.1 5.1 0.2 -7.0 0.1 10.9 0.1 -7.5 0.1 -0.4 0.1 -2.2 0.2 2.2 0.1 2.9 0.1 0.5 0.2 -3.7 0.1 -5.8 0.1 9.3 0.1 0.2 0.1 -0.4 0.2 -3.6 0.1 7.8 0.1 -4.7 0.2 0.0 0.1 1.8 0.1 2.5 0.1 1.1 0.1 -6.5 0.2 -0.2 0.1 0.3 0.1 1.1 0.2 6.8 0.1 -3.5 0.1 1.9 0.1 -7.7 0.1 12.8 0.2 -11.1 0.1 6.7 0.1 2.2 0.2 -7.6 0.1 -2.5 0.1 7.5 0.1 -5.1 0.1 3.6 0.2 -0.5 0.1 3.7 0.1 -1.9 0.2 -2.8 0.1 1.9 0.1 -1.9 0.1 -0.2 0.1 -0.3 0.2 -5.2 0.1 -1.9 0.1 5.5 0.2 -3.2 0.1 -3.3 0.1 -0.2 0.1 5.5 0.1 -9.5 0.2 4.9 0.1 -2.9 0.1 -3.1 0.2 4.4 0.1 -1.6 0.1 -1.9 0.1 -2.3 0.1 3.5 0.2 -0.8 0.1 0.7 0.1 -4.4 0.2 4.6 0.1 1.7 0.1 -2.2 0.1 -1.7 0.1 -2.7 0.2 11.3 0.1 -1.4 0.1 1.0 0.2 -1.4 0.1 0.4 0.1 3.2 0.1 -0.4 0.1 2.7 0.2 -6.8 0.1 4.5 0.1 -1.9 0.2 6.8 0.1 -1.4 0.1 -1.1 0.1 2.9 0.1 -2.7 0.2 3.4 0.1 -1.5 0.1 -3.0 0.2 4.9 0.1 8.5 0.1 -8.6 0.1 -3.7 0.1 7.3 0.2 -4.2 0.1 -2.4 0.1 0.7 0.2 -2.9 0.1 4.9 0.1 -2.9 0.1 -4.9 0.1 9.5 0.2 -10.2 0.1 -5.3 0.1 9.1 0.2 -5.2 0.1 0.3 0.1 -4.6 0.1 -0.3 0.1 3.0 0.2 3.9 0.1 -5.7 0.1 -0.4 0.2 -6.7 0.1 6.6 0.1 -4.5 0.1 -2.0 0.1 0.4 0.2 -3.2 0.1 -1.7 0.1 -4.0 0.2 8.7 0.1 1.4 0.1 -4.6 0.1 6.6 0.1 -5.5 0.2 0.3 0.1 -2.6 0.1 6.4 0.2 2.0 0.1 -1.7 0.1 -3.3 0.1 0.3 0.1 0.3 0.2 8.2 0.1 1.7 0.1 -5.3 0.2 -2.1 0.1 2.6 0.1 1.4 0.1 2.8 0.1 -8.7 0.2 4.0 0.1 -0.1 0.1 -5.4 0.2 5.6 0.1 -3.8 0.1 7.8 0.1 -1.5 0.1 1.6 0.2 -0.4 0.1 -1.6 0.1 -3.5 0.2 0.6 0.1 7.8 0.1 8.0 0.1 -8.4 0.1 2.0 0.2 1.2 0.1 0.6 0.1 0.6 0.2 0.3 0.1 -2.5 0.1 -0.1 0.1 3.9 0.1 0.7 0.2 -6.0 0.1 13.0 0.1 -12.3 0.2 5.2 0.1 -2.5 0.1 9.0 0.1 -6.5 0.1 3.1 0.2 -1.3 0.1 1.3 0.1 -0.1 0.2 1.6 0.1 -4.7 0.1 4.8 0.1 -3.9 0.1 1.3 0.2 -1.1 0.1 4.1 0.1 -3.9 0.2 -1.1 0.1 2.9 0.1 1.0 0.1 0.4 0.1 -1.9 0.2 -0.4 0.1 -4.3 0.1 8.7 0.2 -3.8 0.1 -2.8 0.1 5.1 0.1 -3.5 0.1 1.2 0.2 2.4 0.1 -3.0 0.1 -2.4 0.2 1.9 0.1 -1.1 0.1 -5.5 0.1 4.9 0.1 1.0 0.2 -5.3 0.1 2.3 0.1 -0.2 0.2 -0.4 0.1 -2.3 0.1 -12.4 0.1 11.6 0.1 1.2 0.2 -1.7 0.1 -8.2 0.1 8.7 0.2 -0.4 0.1 -11.1 0.1 -0.3 0.1 3.1 0.1 2.1 0.2 -2.2 0.1 2.5 0.1 -1.6 0.2 1.2 0.1 1.0 0.1 -8.1 0.1 4.4 0.1 -5.0 0.2 2.9 0.1 -3.9 0.1 7.6 0.2 -3.5 0.1 -0.7 0.1 4.5 0.1 -3.9 0.1 -1.8 0.2 -4.8 0.1 4.0 0.1 9.0 0.2 -9.2 0.1 7.4 0.1 -5.7 0.1 6.7 0.1 -3.5 0.2 -2.5 0.1 0.3 0.1 2.6 0.2 -2.2 0.1 5.2 0.1 0.0 0.1 -12.0 0.1 9.5 0.2 0.5 0.1 2.0 0.1 -3.5 0.2 3.2 0.1 -4.0 0.1 0.3 0.1 0.4 0.1 -0.1 0.2 5.7 0.1 1.1 0.1 2.3 0.2 -4.8 0.1 -2.0 0.1 -2.5 0.1 9.1 0.1 -2.1 0.2 -0.8 0.1 11.6 0.1 -10.7 0.2 0.1 0.1 -1.0 0.1 -2.2 0.1 9.0 0.1 -4.0 0.2 1.0 0.1 1.3 0.1 -8.5 0.2 4.5 0.1 0.0 0.1 7.7 0.1 -6.1 0.1 -1.9 0.2 2.8 0.1 2.3 0.1 -1.1 0.2 5.5 0.1 2.0 0.1 -4.4 0.1 -4.1 0.1 7.8 0.2 -8.5 0.1 1.5 0.1 6.5 0.2 3.5 0.1 0.2 0.1 -3.7 0.1 3.9 0.1 -6.3 0.2 1.3 0.1 5.8 0.1 -3.6 0.2 -0.4 0.1 3.5 0.1 6.5 0.1 -2.6 0.1 2.8 0.2 -6.5 0.1 -1.2 0.1 2.8 0.2 -10.1 0.1 6.4 0.1 -10.5 0.1 6.1 0.1 1.2 0.2 -1.8 0.1 1.3 0.1 -2.3 0.2 -6.7 0.1 -0.1 0.1 12.0 0.1 -14.8 0.1 2.4 0.2 -0.4 0.1 0.6 0.1 0.8 0.2 -9.4 0.1 4.4 0.1 6.0 0.1 -2.2 0.1 -4.7 0.2 1.5 0.1 -0.9 0.1 -8.3 0.2 5.1 0.1 -5.3 0.1 7.0 0.1 4.5 0.1 -6.9 0.2 -2.7 0.1 6.2 0.1 -8.8 0.2 3.1 0.1 -3.4 0.1 7.8 0.1 -3.0 0.1 8.3 0.2 -4.6 0.1 -8.4 0.1 3.1 0.2 -0.7 0.1 8.6 0.1 -7.7 0.1 -3.8 0.1 2.1 0.2 1.7 0.1 -1.9 0.1 2.1 0.2 -5.3 0.1 8.0 0.1 -1.9 0.1 1.1 0.1 3.9 0.2 -2.5 0.1 -4.1 0.1 3.0 0.2 2.2 0.1 -4.0 0.1 4.7 0.1 0.2 0.1 0.1 0.2 -2.4 0.1 -0.5 0.1 5.9 0.2 -6.0 0.1 5.9 0.1 2.2 0.1 -5.8 0.1 5.2 0.2 -1.1 0.1 3.4 0.1 -5.5 0.2 1.7 0.1 1.4 0.1 4.0 0.1 -5.1 0.1 1.0 0.2 -0.7 0.1 10.6 0.1 -9.8 0.2 -0.4 0.1 3.1 0.1 -3.0 0.1 0.2 0.1 1.5 0.2 -1.1 0.1 6.4 0.1 -3.9 0.2 -3.7 0.1 1.6 0.1 -4.2 0.1 0.2 0.1 6.0 0.2 -9.0 0.1 1.9 0.1 -0.8 0.2 3.8 0.1 -3.1 0.1 -2.7 0.1 -2.2 0.1 1.9 0.2 4.9 0.1 -0.6 0.1 -2.9 0.2 -1.9 0.1 -1.5 0.1 4.5 0.1 -9.2 0.1 9.0 0.2 2.9 0.1 -6.2 0.1 6.8 0.2 -10.6 0.1 -0.7 0.1 7.9 0.1 -2.4 0.1 -0.9 0.2 4.3 0.1 -2.0 0.1 -0.5 0.2 0.5 0.1 -4.2 0.1 1.5 0.1 -8.4 0.1 2.9 0.2 7.0 0.1 -1.5 0.1 -6.0 0.2 4.7 0.1 -2.0 0.1 -3.9 0.1 0.3 0.1 2.2 0.2 -5.1 0.1 8.9 0.1 1.5 0.2 -2.2 0.1 -1.0 0.1 0.0 0.1 -3.8 0.1 2.8 0.2 1.6 0.1 5.0 0.1 -4.9 0.2 6.6 0.1 -4.1 0.1 -2.1 0.1 4.1 0.1 -3.1 0.2 4.1 0.1 -1.5 0.1 5.4 0.2 -0.2 0.1 -2.1 0.1 3.2 0.1 -4.4 0.1 -4.5 0.2 3.6 0.1 3.6 0.1 0.5 0.2 -3.1 0.1 5.2 0.1 -0.2 0.1 -3.9 0.1 -1.3 0.2 -4.9 0.1 9.3 0.1 -4.1 0.2 -0.7 0.1 -1.0 0.1 4.6 0.1 -3.4 0.1 2.0 0.2 3.4 0.1 1.8 0.1 -3.8 0.2 -10.3 0.1 6.8 0.1 0.3 0.1 3.4 0.1 -5.3 0.2 11.0 0.1 -8.7 0.1 -0.4 0.2 0.7 0.1 -2.9 0.1 -0.2 0.1 3.4 0.1 4.4 0.2 -4.5 0.1 1.9 0.1 -3.2 0.2 6.2 0.1 -1.0 0.1 -4.3 0.1 2.0 0.1 2.3 0.2 -2.9 0.1 1.6 0.1 1.5 0.2 -6.5 0.1 5.3 0.1 1.3 0.1 -3.9 0.1 7.2 0.2 -4.9 0.1 -8.7 0.1 9.5 0.2 3.2 0.1 -2.0 0.1 0.0 0.1 0.9 0.1 -7.2 0.2 0.4 0.1 1.6 0.1 1.5 0.2 3.1 0.1 -1.7 0.1 -2.9 0.1 6.1 0.1 -7.6 0.2 2.8 0.1 -5.5 0.1 -0.8 0.2 2.7 0.1 -9.9 0.1 9.5 0.1 -0.4 0.1 -1.4 0.2 -4.6 0.1 4.8 0.1 -5.1 0.2 1.9 0.1 1.5 0.1 -7.7 0.1 0.4 0.1 -1.4 0.2 -1.8 0.1 8.2 0.1 -5.3 0.2 -5.8 0.1 1.0 0.1 -2.1 0.1 4.5 0.1 -1.5 0.2 1.7 0.1 1.0 0.1 2.0 0.2 4.5 0.1 -4.9 0.1 -1.3 0.1 4.3 0.1 -2.3 0.2 -1.8 0.1 1.5 0.1 2.2 0.2 -4.7 0.1 0.2 0.1 7.3 0.1 -3.9 0.1 -0.1 0.2 -2.7 0.1 9.5 0.1 -5.3 0.2 -0.3 0.1 -1.6 0.1 7.2 0.1 -7.5 0.1 7.3 0.2 -3.3 0.1 -3.9 0.1 3.8 0.2 -1.6 0.1 -0.9 0.1 -2.6 0.1 1.2 0.1 -1.9 0.2 -2.4 0.1 8.0 0.1 -8.9 0.2 5.0 0.1 2.7 0.1 -4.5 0.1 -0.1 0.1 -0.8 0.2 -4.0 0.1 7.2 0.1 -7.0 0.2 4.1 0.1 -1.4 0.1 3.1 0.1 -3.7 0.1 2.2 0.2 -3.7 0.1 -0.7 0.1 4.0 0.2 -0.9 0.1 -1.8 0.1 -0.2 0.1 4.4 0.1 0.4 0.2 1.4 0.1 1.6 0.1 1.5 0.2 -2.9 0.1 -7.3 0.1 3.4 0.1 -3.0 0.1 10.0 0.2 0.9 0.1 1.2 0.1 -1.9 0.2 -3.9 0.1 3.6 0.1 -7.6 0.1 5.0 0.1 6.6 0.2 -2.7 0.1 -2.2 0.1 -1.4 0.2 4.8 0.1 2.4 0.1 1.2 0.1 -2.9 0.1 -1.2 0.2 -1.0 0.1 -3.7 0.1 4.6 0.2 -3.2 0.1 5.9 0.1 -3.5 0.1 -1.2 0.1 6.6 0.2 -4.6 0.1 1.8 0.1 -4.1 0.2 1.8 0.1 2.4 0.1 -4.1 0.1 5.2 0.1 0.8 0.2 -0.1 0.1 -5.4 0.1 6.3 0.2 -7.2 0.1 7.6 0.1 -4.5 0.1 2.5 0.1 -1.1 0.2 -2.9 0.1 -3.2 0.1 0.0 0.2 10.1 0.1 -1.4 0.1 -9.8 0.1 7.4 0.1 -2.4 0.2 3.6 0.1 -8.7 0.1 3.9 0.2 -3.2 0.1 -0.9 0.1 8.7 0.1 -5.1 0.1 5.3 0.2 -3.1 0.1 -5.1 0.1 4.9 0.2 0.4 0.1 5.9 0.1 -6.2 0.1 5.1 0.1 1.4 0.2 -5.6 0.1 0.9 0.1 -3.2 0.2 -0.6 0.1 0.2 0.1 6.6 0.1 -3.5 0.1 -5.7 0.2 -3.2 0.1 5.7 0.1 2.1 0.2 0.9 0.1 -3.0 0.1 1.5 0.1 -1.1 0.1 7.8 0.2 -3.3 0.1 1.5 0.1 -0.2 0.2 -1.9 0.1 4.8 0.1 -2.3 0.1 -0.1 0.1 1.6 0.2 -1.1 0.1 4.2 0.1 -4.9 0.2 5.2 0.1 4.2 0.1 -7.6 0.1 -1.3 0.1 2.2" fill="none" stroke="#8e8e8e" stroke-width="1.8" stroke-linejoin="round" />
<path d="M126.1 820.4l0.5 1.1 0.5 1.1 0.5 1.0 0.5 1.1 0.5 1.1 0.5 1.0 0.5 1.1 0.5 1.0 0.5 1.1 0.5 1.0 0.5 1.1 0.5 1.0 0.5 1.0 0.5 1.1 0.5 1.0 0.5 1.0 0.5 1.0 0.5 1.0 0.5 1.0 0.5 1.0 0.5 1.0 0.5 1.0 0.5 1.0 0.5 1.0 0.5 1.0 0.5 1.0 0.5 1.0 0.5 0.9 0.5 1.0 0.5 1.0 0.5 0.9 0.5 1.0 0.5 0.9 0.5 1.0 0.5 0.9 0.5 1.0 0.5 0.9 0.5 1.0 0.5 0.9 0.5 0.9 0.5 0.9 0.5 1.0 0.5 0.9 0.5 0.9 0.5 0.9 0.5 0.9 0.5 0.9 0.5 0.9 0.5 0.9 0.5 0.9 0.5 0.9 0.5 0.9 0.5 0.9 0.5 0.9 0.5 0.8 0.5 0.9 0.5 0.9 0.5 0.9 0.5 0.8 0.5 0.9 0.5 0.8 0.5 0.9 0.5 0.9 0.5 0.8 0.5 0.9 0.5 0.8 0.5 0.8 0.5 0.9 0.5 0.8 0.5 0.8 0.5 0.9 0.5 0.8 0.5 0.8 0.5 0.9 0.5 0.8 0.5 0.8 0.5 0.8 0.5 0.8 0.5 0.8 0.5 0.8 0.5 0.8 0.5 0.8 0.5 0.8 0.5 0.8 0.5 0.8 0.5 0.8 0.5 0.8 0.5 0.7 0.5 0.8 0.5 0.8 0.5 0.8 0.5 0.7 0.5 0.8 0.5 0.8 0.5 0.7 0.5 0.8 0.5 0.8 0.5 0.7 0.5 0.8 0.5 0.7 0.5 0.8 0.5 0.7 0.5 0.8 0.5 0.7 0.5 0.7 0.5 0.8 0.5 0.7 0.5 0.7 0.5 0.8 0.5 0.7 0.5 0.7 0.5 0.7 0.5 0.7 0.5 0.8 0.5 0.7 0.5 0.7 0.5 0.7 0.5 0.7 0.5 0.7 0.5 0.7 0.5 0.7 0.5 0.7 0.5 0.7 0.5 0.7 0.5 0.7 0.5 0.7 0.5 0.7 0.5 0.6 0.5 0.7 0.5 0.7 0.5 0.7 0.5 0.7 0.5 0.6 0.5 0.7 0.5 0.7 0.5 0.6 0.5 0.7 0.5 0.7 0.5 0.6 0.5 0.7 0.5 0.6 0.5 0.7 0.5 0.7 0.5 0.6 0.5 0.7 0.5 0.6 0.5 0.6 0.5 0.7 0.5 0.6 0.5 0.7 0.5 0.6 0.5 0.6 0.5 0.7 0.5 0.6 0.5 0.6 0.5 0.7 0.5 0.6 0.5 0.6 0.5 0.6 0.5 0.6 0.5 0.7 0.5 0.6 0.5 0.6 0.5 0.6 0.5 0.6 0.5 0.6 0.5 0.6 0.5 0.6 0.5 0.6 0.5 0.6 0.5 0.6 0.5 0.6 0.5 0.6 0.5 0.6 0.5 0.6 0.5 0.6 0.5 0.6 0.5 0.6 0.5 0.5 0.5 0.6 0.5 0.6 0.5 0.6 0.5 0.6 0.5 0.5 0.5 0.6 0.5 0.6 0.5 0.6 0.5 0.5 0.5 0.6 0.5 0.6 0.5 0.5 0.5 0.6 0.5 0.5 0.5 0.6 0.5 0.6 0.5 0.5 0.5 0.6 0.5 0.5 0.5 0.6 0.5 0.5 0.5 0.6 0.5 0.5 0.5 0.6 0.5 0.5 0.5 0.5 0.5 0.6 0.5 0.5 0.5 0.6 0.5 0.5 0.5 0.5 0.5 0.6 0.5 0.5 0.5 0.5 0.5 0.5 0.5 0.6 0.5 0.5 0.5 0.5 0.5 0.5 0.5 0.6 0.5 0.5 0.5 0.5 0.5 0.5 0.5 0.5 0.5 0.5 0.5 0.6 0.5 0.5 0.5 0.5 0.5 0.5 0.5 0.5 0.5 0.5 0.5 0.5 0.5 0.5 0.5 0.5 0.5 0.5 0.5 0.5 0.5 0.5 0.5 0.5 0.5 0.5 0.5 0.5 0.5 0.5 0.5 0.5 0.5 0.4 0.5 0.5 0.5 0.5 0.5 0.5 0.5 0.5 0.5 0.5 0.5 0.4 0.5 0.5 0.5 0.5 0.5 0.5 0.5 0.5 0.5 0.4 0.5 0.5 0.5 0.5 0.5 0.4 0.5 0.5 0.5 0.5 0.5 0.4 0.5 0.5 0.5 0.5 0.5 0.4 0.5 0.5 0.5 0.5 0.5 0.4 0.5 0.5 0.5 0.4 0.5 0.5 0.5 0.4 0.5 0.5 0.5 0.4 0.5 0.5 0.5 0.4 0.5 0.5 0.5 0.4 0.5 0.5 0.5 0.4 0.5 0.5 0.5 0.4 0.5 0.5 0.5 0.4 0.5 0.4 0.5 0.5 0.5 0.4 0.5 0.5 0.5 0.4 0.5 0.4 0.5 0.5 0.5 0.4 0.5 0.4 0.5 0.4 0.5 0.5 0.5 0.4 0.5 0.4 0.5 0.5 0.5 0.4 0.5 0.4 0.5 0.4 0.5 0.4 0.5 0.5 0.5 0.4 0.5 0.4 0.5 0.4 0.5 0.4 0.5 0.4 0.5 0.5 0.5 0.4 0.5 0.4 0.5 0.4 0.5 0.4 0.5 0.4 0.5 0.4 0.5 0.4 0.5 0.4 0.5 0.4 0.5 0.4 0.5 0.4 0.5 0.4 0.5 0.4 0.5 0.4 0.5 0.4 0.5 0.4 0.5 0.4 0.5 0.4 0.5 0.4 0.5 0.4 0.5 0.4 0.5 0.4 0.5 0.4 0.5 0.4 0.5 0.4 0.5 0.3 0.5 0.4 0.5 0.4 0.5 0.4 0.5 0.4 0.5 0.4 0.5 0.3 0.5 0.4 0.5 0.4 0.5 0.4 0.5 0.4 0.5 0.3 0.5 0.4 0.5 0.4 0.5 0.4 0.5 0.3 0.5 0.4 0.5 0.4 0.5 0.4 0.5 0.3 0.5 0.4 0.5 0.4 0.5 0.3 0.5 0.4 0.5 0.4 0.5 0.3 0.5 0.4 0.5 0.4 0.5 0.3 0.5 0.4 0.5 0.3 0.5 0.4 0.5 0.4 0.5 0.3 0.5 0.4 0.5 0.3 0.5 0.4 0.5 0.4 0.5 0.3 0.5 0.4 0.5 0.3 0.5 0.4 0.5 0.3 0.5 0.4 0.5 0.3 0.5 0.4 0.5 0.3 0.5 0.4 0.5 0.3 0.5 0.3 0.5 0.4 0.5 0.3 0.5 0.4 0.5 0.3 0.5 0.4 0.5 0.3 0.5 0.3 0.5 0.4 0.5 0.3 0.5 0.4 0.5 0.3 0.5 0.3 0.5 0.4 0.5 0.3 0.5 0.3 0.5 0.4 0.5 0.3 0.5 0.3 0.5 0.4 0.5 0.3 0.5 0.3 0.5 0.3 0.5 0.4 0.5 0.3 0.5 0.3 0.5 0.4 0.5 0.3 0.5 0.3 0.5 0.3 0.5 0.4 0.5 0.3 0.5 0.3 0.5 0.3 0.5 0.3 0.5 0.4 0.5 0.3 0.5 0.3 0.5 0.3 0.5 0.3 0.5 0.3 0.5 0.4 0.5 0.3 0.5 0.3 0.5 0.3 0.5 0.3 0.5 0.3 0.5 0.3 0.5 0.3 0.5 0.3 0.5 0.4 0.5 0.3 0.5 0.3 0.5 0.3 0.5 0.3 0.5 0.3 0.5 0.3 0.5 0.3 0.5 0.3 0.5 0.3 0.5 0.3 0.5 0.3 0.5 0.3 0.5 0.3 0.5 0.3 0.5 0.3 0.5 0.3 0.5 0.3 0.5 0.3 0.5 0.3 0.5 0.3 0.5 0.3 0.5 0.3 0.5 0.3 0.5 0.3 0.5 0.3 0.5 0.3 0.5 0.3 0.5 0.2 0.5 0.3 0.5 0.3 0.5 0.3 0.5 0.3 0.5 0.3 0.5 0.3 0.5 0.3 0.5 0.3 0.5 0.2 0.5 0.3 0.5 0.3 0.5 0.3 0.5 0.3 0.5 0.3 0.5 0.2 0.5 0.3 0.5 0.3 0.5 0.3 0.5 0.3 0.5 0.2 0.5 0.3 0.5 0.3 0.5 0.3 0.5 0.2 0.5 0.3 0.5 0.3 0.5 0.3 0.5 0.3 0.5 0.2 0.5 0.3 0.5 0.3 0.5 0.2 0.5 0.3 0.5 0.3 0.5 0.3 0.5 0.2 0.5 0.3 0.5 0.3 0.5 0.2 0.5 0.3 0.5 0.3 0.5 0.2 0.5 0.3 0.5 0.3 0.5 0.2 0.5 0.3 0.5 0.3 0.5 0.2 0.5 0.3 0.5 0.3 0.5 0.2 0.5 0.3 0.5 0.2 0.5 0.3 0.5 0.3 0.5 0.2 0.5 0.3 0.5 0.2 0.5 0.3 0.5 0.3 0.5 0.2 0.5 0.3 0.5 0.2 0.5 0.3 0.5 0.2 0.5 0.3 0.5 0.2 0.5 0.3 0.5 0.2 0.5 0.3 0.5 0.3 0.5 0.2 0.5 0.3 0.5 0.2 0.5 0.3 0.5 0.2 0.5 0.3 0.5 0.2 0.5 0.2 0.5 0.3 0.5 0.2 0.5 0.3 0.5 0.2 0.5 0.3 0.5 0.2 0.5 0.3 0.5 0.2 0.5 0.3 0.5 0.2 0.5 0.2 0.5 0.3 0.5 0.2 0.5 0.3 0.5 0.2 0.5 0.3 0.5 0.2 0.5 0.2 0.5 0.3 0.5 0.2 0.5 0.3 0.5 0.2 0.5 0.2 0.5 0.3 0.5 0.2 0.5 0.2 0.5 0.3 0.5 0.2 0.5 0.2 0.5 0.3 0.5 0.2 0.5 0.2 0.5 0.3 0.5 0.2 0.5 0.2 0.5 0.3 0.5 0.2 0.5 0.2 0.5 0.3 0.5 0.2 0.5 0.2 0.5 0.3 0.5 0.2 0.5 0.2 0.5 0.2 0.5 0.3 0.5 0.2 0.5 0.2 0.5 0.2 0.5 0.3 0.5 0.2 0.5 0.2 0.5 0.2 0.5 0.3 0.5 0.2 0.5 0.2 0.5 0.2 0.5 0.3 0.5 0.2 0.5 0.2 0.5 0.2 0.5 0.2 0.5 0.3 0.5 0.2 0.5 0.2 0.5 0.2 0.5 0.2 0.5 0.3 0.5 0.2 0.5 0.2 0.5 0.2 0.5 0.2 0.5 0.2 0.5 0.3 0.5 0.2 0.5 0.2 0.5 0.2 0.5 0.2 0.5 0.2 0.5 0.2 0.5 0.3 0.5 0.2 0.5 0.2 0.5 0.2 0.5 0.2 0.5 0.2 0.5 0.2 0.5 0.2 0.5 0.3 0.5 0.2 0.5 0.2 0.5 0.2 0.5 0.2 0.5 0.2 0.5 0.2 0.5 0.2 0.5 0.2 0.5 0.2 0.5 0.2 0.5 0.2 0.5 0.2 0.5 0.3 0.5 0.2 0.5 0.2 0.5 0.2 0.5 0.2 0.5 0.2 0.5 0.2 0.5 0.2 0.5 0.2 0.5 0.2 0.5 0.2 0.5 0.2 0.5 0.2 0.5 0.2 0.5 0.2 0.5 0.2 0.5 0.2 0.5 0.2 0.5 0.2 0.5 0.2 0.5 0.2 0.5 0.2 0.5 0.2 0.5 0.2 0.5 0.2 0.5 0.2 0.5 0.2 0.5 0.2 0.5 0.2 0.5 0.2 0.5 0.2 0.5 0.1 0.5 0.2 0.5 0.2 0.5 0.2 0.5 0.2 0.5 0.2 0.5 0.2 0.5 0.2 0.5 0.2 0.5 0.2 0.5 0.2 0.5 0.2 0.5 0.2 0.5 0.1 0.5 0.2 0.5 0.2 0.5 0.2 0.5 0.2 0.5 0.2 0.5 0.2 0.5 0.2 0.5 0.2 0.5 0.1 0.5 0.2 0.5 0.2 0.5 0.2 0.5 0.2 0.5 0.2 0.5 0.2 0.5 0.1 0.5 0.2 0.5 0.2 0.5 0.2 0.5 0.2 0.5 0.2 0.5 0.2 0.5 0.1 0.5 0.2 0.5 0.2 0.5 0.2 0.5 0.2 0.5 0.1 0.5 0.2 0.5 0.2 0.5 0.2 0.5 0.2 0.5 0.2 0.5 0.1 0.5 0.2 0.5 0.2 0.5 0.2 0.5 0.1 0.5 0.2 0.5 0.2 0.5 0.2 0.5 0.2 0.5 0.1 0.5 0.2 0.5 0.2 0.5 0.2 0.5 0.1 0.5 0.2 0.5 0.2 0.5 0.2 0.5 0.1 0.5 0.2 0.5 0.2 0.5 0.2 0.5 0.1 0.5 0.2 0.5 0.2 0.5 0.2 0.5 0.1 0.5 0.2 0.5 0.2 0.5 0.1 0.5 0.2 0.5 0.2 0.5 0.2 0.5 0.1 0.5 0.2 0.5 0.2 0.5 0.1 0.5 0.2 0.5 0.2 0.5 0.2 0.5 0.1 0.5 0.2 0.5 0.2 0.5 0.1 0.5 0.2 0.5 0.2 0.5 0.1 0.5 0.2 0.5 0.2 0.5 0.1 0.5 0.2 0.5 0.2 0.5 0.1 0.5 0.2 0.5 0.2 0.5 0.1 0.5 0.2 0.5 0.1 0.5 0.2 0.5 0.2 0.5 0.1 0.5 0.2 0.5 0.2 0.5 0.1 0.5 0.2 0.5 0.2 0.5 0.1 0.5 0.2 0.5 0.1 0.5 0.2 0.5 0.2 0.5 0.1 0.5 0.2 0.5 0.1 0.5 0.2 0.5 0.2 0.5 0.1 0.5 0.2 0.5 0.1 0.5 0.2 0.5 0.2 0.5 0.1 0.5 0.2 0.5 0.1 0.5 0.2 0.5 0.1 0.5 0.2 0.5 0.2 0.5 0.1 0.5 0.2 0.5 0.1 0.5 0.2 0.5 0.1 0.5 0.2 0.5 0.1 0.5 0.2 0.5 0.2 0.5 0.1 0.5 0.2 0.5 0.1 0.5 0.2 0.5 0.1 0.5 0.2 0.5 0.1 0.5 0.2 0.5 0.1 0.5 0.2 0.5 0.1 0.5 0.2 0.5 0.1 0.5 0.2 0.5 0.1 0.5 0.2 0.5 0.1 0.5 0.2 0.5 0.1 0.5 0.2 0.5 0.1 0.5 0.2 0.5 0.1 0.5 0.2 0.5 0.1 0.5 0.2 0.5 0.1 0.5 0.2 0.5 0.1 0.5 0.2 0.5 0.1 0.5 0.2 0.5 0.1 0.5 0.2 0.5 0.1 0.5 0.2 0.5 0.1 0.5 0.2 0.5 0.1 0.5 0.2 0.5 0.1 0.5 0.1 0.5 0.2 0.5 0.1 0.5 0.2 0.5 0.1 0.5 0.2 0.5 0.1 0.5 0.2 0.5 0.1 0.5 0.1 0.5 0.2 0.5 0.1 0.5 0.2 0.5 0.1 0.5 0.2 0.5 0.1 0.5 0.1 0.5 0.2 0.5 0.1 0.5 0.2 0.5 0.1 0.5 0.1 0.5 0.2 0.5 0.1 0.5 0.2 0.5 0.1 0.5 0.1 0.5 0.2 0.5 0.1 0.5 0.2 0.5 0.1 0.5 0.1 0.5 0.2 0.5 0.1 0.5 0.2 0.5 0.1 0.5 0.1 0.5 0.2 0.5 0.1 0.5 0.1 0.5 0.2 0.5 0.1 0.5 0.1 0.5 0.2 0.5 0.1 0.5 0.2 0.5 0.1 0.5 0.1 0.5 0.2 0.5 0.1 0.5 0.1 0.5 0.2 0.5 0.1 0.5 0.1 0.5 0.2 0.5 0.1 0.5 0.1 0.5 0.2 0.5 0.1 0.5 0.1 0.5 0.2 0.5 0.1 0.5 0.1 0.5 0.2 0.5 0.1 0.5 0.1 0.5 0.2 0.5 0.1 0.5 0.1 0.5 0.2 0.5 0.1 0.5 0.1 0.5 0.2 0.5 0.1 0.5 0.1 0.5 0.1 0.5 0.2 0.5 0.1 0.5 0.1 0.5 0.2 0.5 0.1 0.5 0.1 0.5 0.2 0.5 0.1 0.5 0.1 0.5 0.1 0.5 0.2 0.5 0.1 0.5 0.1 0.5 0.1 0.5 0.2 0.5 0.1 0.5 0.1 0.5 0.2 0.5 0.1 0.5 0.1 0.5 0.1 0.5 0.2 0.5 0.1 0.5 0.1 0.5 0.1 0.5 0.2 0.5 0.1 0.5 0.1 0.5 0.1 0.5 0.2 0.5 0.1 0.5 0.1 0.5 0.1 0.5 0.2 0.5 0.1 0.5 0.1 0.5 0.1 0.5 0.2 0.5 0.1 0.5 0.1 0.5 0.1 0.5 0.2 0.5 0.1 0.5 0.1 0.5 0.1 0.5 0.1 0.5 0.2 0.5 0.1 0.5 0.1 0.5 0.1 0.5 0.2 0.5 0.1 0.5 0.1 0.5 0.1 0.5 0.1 0.5 0.2 0.5 0.1 0.5 0.1 0.5 0.1 0.5 0.1 0.5 0.2 0.5 0.1 0.5 0.1 0.5 0.1 0.5 0.1 0.5 0.2 0.5 0.1 0.5 0.1 0.5 0.1 0.5 0.1 0.5 0.1 0.5 0.2 0.5 0.1 0.5 0.1 0.5 0.1 0.5 0.1 0.5 0.1 0.5 0.2 0.5 0.1 0.5 0.1 0.5 0.1 0.5 0.1 0.5 0.1 0.5 0.2 0.5 0.1 0.5 0.1 0.5 0.1 0.5 0.1 0.5 0.1 0.5 0.2 0.5 0.1 0.5 0.1 0.5 0.1 0.5 0.1 0.5 0.1 0.5 0.1 0.5 0.2 0.5 0.1 0.5 0.1 0.5 0.1 0.5 0.1 0.5 0.1 0.5 0.1 0.5 0.2 0.5 0.1 0.5 0.1 0.5 0.1 0.5 0.1 0.5 0.1 0.5 0.1 0.5 0.1 0.5 0.2 0.5 0.1 0.5 0.1 0.5 0.1 0.5 0.1 0.5 0.1 0.5 0.1 0.5 0.1 0.5 0.1 0.5 0.2 0.5 0.1 0.5 0.1 0.5 0.1 0.5 0.1 0.5 0.1 0.5 0.1 0.5 0.1 0.5 0.1 0.5 0.1 0.5 0.2 0.5 0.1 0.5 0.1 0.5 0.1 0.5 0.1 0.5 0.1 0.5 0.1 0.5 0.1" fill="none" stroke="#000" stroke-width="1.9" stroke-linejoin="round" />
<rect x="121.10" y="775.60" width="9.60" height="9.60" fill="#0a0a0a"/>
<rect x="136.40" y="857.90" width="9.60" height="9.60" fill="#0a0a0a"/>
<rect x="156.10" y="904.60" width="9.60" height="9.60" fill="#0a0a0a"/>
<rect x="180.30" y="937.70" width="9.60" height="9.60" fill="#0a0a0a"/>
<rect x="210.90" y="964.70" width="9.60" height="9.60" fill="#0a0a0a"/>
<rect x="241.80" y="987.80" width="9.60" height="9.60" fill="#0a0a0a"/>
<rect x="302.80" y="1028.00" width="9.60" height="9.60" fill="#0a0a0a"/>
<rect x="363.80" y="1072.50" width="9.60" height="9.60" fill="#0a0a0a"/>
<rect x="427.60" y="1104.70" width="9.60" height="9.60" fill="#0a0a0a"/>
<rect x="546.30" y="1156.20" width="9.60" height="9.60" fill="#0a0a0a"/>
<rect x="656.10" y="1183.80" width="9.60" height="9.60" fill="#0a0a0a"/>
<rect x="868.90" y="774.70" width="11.00" height="11.00" fill="#f18223"/>
<rect x="884.70" y="883.60" width="11.00" height="11.00" fill="#f18223"/>
<rect x="904.90" y="958.30" width="11.00" height="11.00" fill="#f18223"/>
<rect x="929.70" y="1019.00" width="11.00" height="11.00" fill="#f18223"/>
<rect x="960.70" y="1064.80" width="11.00" height="11.00" fill="#f18223"/>
<rect x="991.80" y="1099.40" width="11.00" height="11.00" fill="#f18223"/>
<rect x="1053.90" y="1126.40" width="11.00" height="11.00" fill="#f18223"/>
<rect x="1115.80" y="1155.80" width="11.00" height="11.00" fill="#f18223"/>
<rect x="1178.00" y="1161.20" width="11.00" height="11.00" fill="#f18223"/>
<rect x="1318.00" y="1181.20" width="11.00" height="11.00" fill="#f18223"/>
<rect x="1411.80" y="1180.60" width="11.00" height="11.00" fill="#f18223"/>
<rect x="868.90" y="1076.50" width="11.00" height="11.00" fill="#3a54a5"/>
<rect x="884.70" y="1116.30" width="11.00" height="11.00" fill="#3a54a5"/>
<rect x="904.90" y="1145.40" width="11.00" height="11.00" fill="#3a54a5"/>
<rect x="929.70" y="1160.70" width="11.00" height="11.00" fill="#3a54a5"/>
<rect x="960.70" y="1167.20" width="11.00" height="11.00" fill="#3a54a5"/>
<rect x="991.80" y="1173.20" width="11.00" height="11.00" fill="#3a54a5"/>
<rect x="1053.90" y="1184.70" width="11.00" height="11.00" fill="#3a54a5"/>
<rect x="1115.80" y="1188.60" width="11.00" height="11.00" fill="#3a54a5"/>
<rect x="1178.00" y="1194.50" width="11.00" height="11.00" fill="#3a54a5"/>
<rect x="1318.00" y="1198.50" width="11.00" height="11.00" fill="#3a54a5"/>
<rect x="1411.80" y="1201.20" width="11.00" height="11.00" fill="#3a54a5"/>
<path d="M873.7 777.7l0.5 4.3 0.5 4.2 0.5 4.1 0.5 4.1 0.5 3.9 0.5 4.0 0.5 3.8 0.5 3.8 0.5 3.7 0.5 3.6 0.5 3.6 0.5 3.5 0.5 3.4 0.5 3.4 0.5 3.4 0.5 3.3 0.5 3.2 0.5 3.2 0.5 3.1 0.5 3.1 0.5 3.0 0.5 3.0 0.5 2.9 0.5 2.9 0.5 2.9 0.5 2.8 0.5 2.7 0.5 2.8 0.5 2.6 0.5 2.7 0.5 2.6 0.5 2.5 0.5 2.6 0.5 2.5 0.5 2.4 0.5 2.4 0.5 2.4 0.5 2.4 0.5 2.3 0.5 2.3 0.5 2.2 0.5 2.3 0.5 2.2 0.5 2.1 0.5 2.2 0.5 2.1 0.5 2.1 0.5 2.0 0.5 2.1 0.5 2.0 0.5 1.9 0.5 2.0 0.5 1.9 0.5 1.9 0.5 1.9 0.5 1.9 0.5 1.8 0.5 1.8 0.5 1.8 0.5 1.8 0.5 1.7 0.5 1.7 0.5 1.7 0.5 1.7 0.5 1.7 0.5 1.6 0.5 1.7 0.5 1.6 0.5 1.6 0.5 1.5 0.5 1.6 0.5 1.5 0.5 1.6 0.5 1.5 0.5 1.4 0.5 1.5 0.5 1.5 0.5 1.4 0.5 1.4 0.5 1.4 0.5 1.4 0.5 1.4 0.5 1.4 0.5 1.3 0.5 1.4 0.5 1.3 0.5 1.3 0.5 1.3 0.5 1.3 0.5 1.2 0.5 1.3 0.5 1.2 0.5 1.2 0.5 1.3 0.5 1.2 0.5 1.2 0.5 1.1 0.5 1.2 0.5 1.2 0.5 1.1 0.5 1.1 0.5 1.2 0.5 1.1 0.5 1.1 0.5 1.1 0.5 1.1 0.5 1.0 0.5 1.1 0.5 1.0 0.5 1.1 0.5 1.0 0.5 1.0 0.5 1.1 0.5 1.0 0.5 1.0 0.5 0.9 0.5 1.0 0.5 1.0 0.5 1.0 0.5 0.9 0.5 0.9 0.5 1.0 0.5 0.9 0.5 0.9 0.5 0.9 0.5 0.9 0.5 0.9 0.5 0.9 0.5 0.9 0.5 0.9 0.5 0.8 0.5 0.9 0.5 0.8 0.5 0.9 0.5 0.8 0.5 0.9 0.5 0.8 0.5 0.8 0.5 0.8 0.5 0.8 0.5 0.8 0.5 0.8 0.5 0.8 0.5 0.8 0.5 0.7 0.5 0.8 0.5 0.8 0.5 0.7 0.5 0.8 0.5 0.7 0.5 0.7 0.5 0.8 0.5 0.7 0.5 0.7 0.5 0.7 0.5 0.7 0.5 0.7 0.5 0.7 0.5 0.7 0.5 0.7 0.5 0.7 0.5 0.7 0.5 0.6 0.5 0.7 0.5 0.7 0.5 0.6 0.5 0.7 0.5 0.6 0.5 0.6 0.5 0.7 0.5 0.6 0.5 0.6 0.5 0.7 0.5 0.6 0.5 0.6 0.5 0.6 0.5 0.6 0.5 0.6 0.5 0.6 0.5 0.6 0.5 0.6 0.5 0.6 0.5 0.6 0.5 0.5 0.5 0.6 0.5 0.6 0.5 0.6 0.5 0.5 0.5 0.6 0.5 0.5 0.5 0.6 0.5 0.5 0.5 0.6 0.5 0.5 0.5 0.5 0.5 0.6 0.5 0.5 0.5 0.5 0.5 0.5 0.5 0.6 0.5 0.5 0.5 0.5 0.5 0.5 0.5 0.5 0.5 0.5 0.5 0.5 0.5 0.5 0.5 0.5 0.5 0.5 0.5 0.5 0.5 0.4 0.5 0.5 0.5 0.5 0.5 0.5 0.5 0.5 0.5 0.4 0.5 0.5 0.5 0.4 0.5 0.5 0.5 0.5 0.5 0.4 0.5 0.5 0.5 0.4 0.5 0.5 0.5 0.4 0.5 0.4 0.5 0.5 0.5 0.4 0.5 0.4 0.5 0.5 0.5 0.4 0.5 0.4 0.5 0.4 0.5 0.5 0.5 0.4 0.5 0.4 0.5 0.4 0.5 0.4 0.5 0.4 0.5 0.4 0.5 0.4 0.5 0.4 0.5 0.4 0.5 0.4 0.5 0.4 0.5 0.4 0.5 0.4 0.5 0.4 0.5 0.4 0.5 0.4 0.5 0.3 0.5 0.4 0.5 0.4 0.5 0.4 0.5 0.3 0.5 0.4 0.5 0.4 0.5 0.3 0.5 0.4 0.5 0.4 0.5 0.3 0.5 0.4 0.5 0.3 0.5 0.4 0.5 0.3 0.5 0.4 0.5 0.3 0.5 0.4 0.5 0.3 0.5 0.4 0.5 0.3 0.5 0.4 0.5 0.3 0.5 0.3 0.5 0.4 0.5 0.3 0.5 0.3 0.5 0.4 0.5 0.3 0.5 0.3 0.5 0.3 0.5 0.4 0.5 0.3 0.5 0.3 0.5 0.3 0.5 0.3 0.5 0.3 0.5 0.4 0.5 0.3 0.5 0.3 0.5 0.3 0.5 0.3 0.5 0.3 0.5 0.3 0.5 0.3 0.5 0.3 0.5 0.3 0.5 0.3 0.5 0.3 0.5 0.3 0.5 0.3 0.5 0.3 0.5 0.3 0.5 0.2 0.5 0.3 0.5 0.3 0.5 0.3 0.5 0.3 0.5 0.3 0.5 0.2 0.5 0.3 0.5 0.3 0.5 0.3 0.5 0.3 0.5 0.2 0.5 0.3 0.5 0.3 0.5 0.2 0.5 0.3 0.5 0.3 0.5 0.2 0.5 0.3 0.5 0.3 0.5 0.2 0.5 0.3 0.5 0.2 0.5 0.3 0.5 0.3 0.5 0.2 0.5 0.3 0.5 0.2 0.5 0.3 0.5 0.2 0.5 0.3 0.5 0.2 0.5 0.3 0.5 0.2 0.5 0.3 0.5 0.2 0.5 0.3 0.5 0.2 0.5 0.2 0.5 0.3 0.5 0.2 0.5 0.3 0.5 0.2 0.5 0.2 0.5 0.3 0.5 0.2 0.5 0.2 0.5 0.3 0.5 0.2 0.5 0.2 0.5 0.3 0.5 0.2 0.5 0.2 0.5 0.2 0.5 0.3 0.5 0.2 0.5 0.2 0.5 0.2 0.5 0.3 0.5 0.2 0.5 0.2 0.5 0.2 0.5 0.2 0.5 0.2 0.5 0.3 0.5 0.2 0.5 0.2 0.5 0.2 0.5 0.2 0.5 0.2 0.5 0.2 0.5 0.2 0.5 0.3 0.5 0.2 0.5 0.2 0.5 0.2 0.5 0.2 0.5 0.2 0.5 0.2 0.5 0.2 0.5 0.2 0.5 0.2 0.5 0.2 0.5 0.2 0.5 0.2 0.5 0.2 0.5 0.2 0.5 0.2 0.5 0.2 0.5 0.2 0.5 0.2 0.5 0.2 0.5 0.1 0.5 0.2 0.5 0.2 0.5 0.2 0.5 0.2 0.5 0.2 0.5 0.2 0.5 0.2 0.5 0.2 0.5 0.1 0.5 0.2 0.5 0.2 0.5 0.2 0.5 0.2 0.5 0.2 0.5 0.1 0.5 0.2 0.5 0.2 0.5 0.2 0.5 0.2 0.5 0.1 0.5 0.2 0.5 0.2 0.5 0.2 0.5 0.1 0.5 0.2 0.5 0.2 0.5 0.2 0.5 0.1 0.5 0.2 0.5 0.2 0.5 0.1 0.5 0.2 0.5 0.2 0.5 0.2 0.5 0.1 0.5 0.2 0.5 0.2 0.5 0.1 0.5 0.2 0.5 0.2 0.5 0.1 0.5 0.2 0.5 0.1 0.5 0.2 0.5 0.2 0.5 0.1 0.5 0.2 0.5 0.1 0.5 0.2 0.5 0.2 0.5 0.1 0.5 0.2 0.5 0.1 0.5 0.2 0.5 0.2 0.5 0.1 0.5 0.2 0.5 0.1 0.5 0.2 0.5 0.1 0.5 0.2 0.5 0.1 0.5 0.2 0.5 0.1 0.5 0.2 0.5 0.1 0.5 0.2 0.5 0.1 0.5 0.2 0.5 0.1 0.5 0.2 0.5 0.1 0.5 0.2 0.5 0.1 0.5 0.2 0.5 0.1 0.5 0.1 0.5 0.2 0.5 0.1 0.5 0.2 0.5 0.1 0.5 0.2 0.5 0.1 0.5 0.1 0.5 0.2 0.5 0.1 0.5 0.2 0.5 0.1 0.5 0.1 0.5 0.2 0.5 0.1 0.5 0.2 0.5 0.1 0.5 0.1 0.5 0.2 0.5 0.1 0.5 0.1 0.5 0.2 0.5 0.1 0.5 0.1 0.5 0.2 0.5 0.1 0.5 0.1 0.5 0.2 0.5 0.1 0.5 0.1 0.5 0.2 0.5 0.1 0.5 0.1 0.5 0.1 0.5 0.2 0.5 0.1 0.5 0.1 0.5 0.2 0.5 0.1 0.5 0.1 0.5 0.1 0.5 0.2 0.5 0.1 0.5 0.1 0.5 0.1 0.5 0.2 0.5 0.1 0.5 0.1 0.5 0.1 0.5 0.2 0.5 0.1 0.5 0.1 0.5 0.1 0.5 0.1 0.5 0.2 0.5 0.1 0.5 0.1 0.5 0.1 0.5 0.1 0.5 0.2 0.5 0.1 0.5 0.1 0.5 0.1 0.5 0.1 0.5 0.2 0.5 0.1 0.5 0.1 0.5 0.1 0.5 0.1 0.5 0.1 0.5 0.1 0.5 0.2 0.5 0.1 0.5 0.1 0.5 0.1 0.5 0.1 0.5 0.1 0.5 0.1 0.5 0.2 0.5 0.1 0.5 0.1 0.5 0.1 0.5 0.1 0.5 0.1 0.5 0.1 0.5 0.1 0.5 0.1 0.5 0.1 0.5 0.2 0.5 0.1 0.5 0.1 0.5 0.1 0.5 0.1 0.5 0.1 0.5 0.1 0.5 0.1 0.5 0.1 0.5 0.1 0.5 0.1 0.5 0.1 0.5 0.1 0.5 0.1 0.5 0.1 0.5 0.1 0.5 0.2 0.5 0.1 0.5 0.1 0.5 0.1 0.5 0.1 0.5 0.1 0.5 0.1 0.5 0.1 0.5 0.1 0.5 0.1 0.5 0.1 0.5 0.1 0.5 0.1 0.5 0.1 0.5 0.1 0.5 0.1 0.5 0.1 0.5 0.1 0.5 0.1 0.5 0.1 0.5 0.1 0.5 0.1 0.5 0.1 0.5 0.1 0.5 0.1 0.5 0.0 0.5 0.1 0.5 0.1 0.5 0.1 0.5 0.1 0.5 0.1 0.5 0.1 0.5 0.1 0.5 0.1 0.5 0.1 0.5 0.1 0.5 0.1 0.5 0.1 0.5 0.1 0.5 0.1 0.5 0.1 0.5 0.1 0.5 0.0 0.5 0.1 0.5 0.1 0.5 0.1 0.5 0.1 0.5 0.1 0.5 0.1 0.5 0.1 0.5 0.1 0.5 0.1 0.5 0.1 0.5 0.0 0.5 0.1 0.5 0.1 0.5 0.1 0.5 0.1 0.5 0.1 0.5 0.1 0.5 0.1 0.5 0.1 0.5 0.0 0.5 0.1 0.5 0.1 0.5 0.1 0.5 0.1 0.5 0.1 0.5 0.1 0.5 0.0 0.5 0.1 0.5 0.1 0.5 0.1 0.5 0.1 0.5 0.1 0.5 0.1 0.5 0.0 0.5 0.1 0.5 0.1 0.5 0.1 0.5 0.1 0.5 0.1 0.5 0.0 0.5 0.1 0.5 0.1 0.5 0.1 0.5 0.1 0.5 0.0 0.5 0.1 0.5 0.1 0.5 0.1 0.5 0.1 0.5 0.0 0.5 0.1 0.5 0.1 0.5 0.1 0.5 0.1 0.5 0.0 0.5 0.1 0.5 0.1 0.5 0.1 0.5 0.1 0.5 0.0 0.5 0.1 0.5 0.1 0.5 0.1 0.5 0.1 0.5 0.0 0.5 0.1 0.5 0.1 0.5 0.1 0.5 0.0 0.5 0.1 0.5 0.1 0.5 0.1 0.5 0.0 0.5 0.1 0.5 0.1 0.5 0.1 0.5 0.0 0.5 0.1 0.5 0.1 0.5 0.1 0.5 0.0 0.5 0.1 0.5 0.1 0.5 0.1 0.5 0.0 0.5 0.1 0.5 0.1 0.5 0.1 0.5 0.0 0.5 0.1 0.5 0.1 0.5 0.1 0.5 0.0 0.5 0.1 0.5 0.1 0.5 0.0 0.5 0.1 0.5 0.1 0.5 0.1 0.5 0.0 0.5 0.1 0.5 0.1 0.5 0.0 0.5 0.1 0.5 0.1 0.5 0.0 0.5 0.1 0.5 0.1 0.5 0.1 0.5 0.0 0.5 0.1 0.5 0.1 0.5 0.0 0.5 0.1 0.5 0.1 0.5 0.0 0.5 0.1 0.5 0.1 0.5 0.0 0.5 0.1 0.5 0.1 0.5 0.0 0.5 0.1 0.5 0.1 0.5 0.0 0.5 0.1 0.5 0.1 0.5 0.0 0.5 0.1 0.5 0.1 0.5 0.0 0.5 0.1 0.5 0.1 0.5 0.0 0.5 0.1 0.5 0.1 0.5 0.0 0.5 0.1 0.5 0.1 0.5 0.0 0.5 0.1 0.5 0.1 0.5 0.0 0.5 0.1 0.5 0.1 0.5 0.0 0.5 0.1 0.5 0.0 0.5 0.1 0.5 0.1 0.5 0.0 0.5 0.1 0.5 0.1 0.5 0.0 0.5 0.1 0.5 0.0 0.5 0.1 0.5 0.1 0.5 0.0 0.5 0.1 0.5 0.1 0.5 0.0 0.5 0.1 0.5 0.0 0.5 0.1 0.5 0.1 0.5 0.0 0.5 0.1 0.5 0.0 0.5 0.1 0.5 0.1 0.5 0.0 0.5 0.1 0.5 0.0 0.5 0.1 0.5 0.1 0.5 0.0 0.5 0.1 0.5 0.0 0.5 0.1 0.5 0.1 0.5 0.0 0.5 0.1 0.5 0.0 0.5 0.1 0.5 0.1 0.5 0.0 0.5 0.1 0.5 0.0 0.5 0.1 0.5 0.0 0.5 0.1 0.5 0.1 0.5 0.0 0.5 0.1 0.5 0.0 0.5 0.1 0.5 0.0 0.5 0.1 0.5 0.1 0.5 0.0 0.5 0.1 0.5 0.0 0.5 0.1 0.5 0.0 0.5 0.1 0.5 0.0 0.5 0.1 0.5 0.1 0.5 0.0 0.5 0.1 0.5 0.0 0.5 0.1 0.5 0.0 0.5 0.1 0.5 0.0 0.5 0.1 0.5 0.1 0.5 0.0 0.5 0.1 0.5 0.0 0.5 0.1 0.5 0.0 0.5 0.1 0.5 0.0 0.5 0.1 0.5 0.0 0.5 0.1 0.5 0.0 0.5 0.1 0.5 0.0 0.5 0.1 0.5 0.1 0.5 0.0 0.5 0.1 0.5 0.0 0.5 0.1 0.5 0.0 0.5 0.1 0.5 0.0 0.5 0.1 0.5 0.0 0.5 0.1 0.5 0.0 0.5 0.1 0.5 0.0 0.5 0.1 0.5 0.0 0.5 0.1 0.5 0.0 0.5 0.1 0.5 0.0 0.5 0.1 0.5 0.0 0.5 0.1 0.5 0.0 0.5 0.1 0.5 0.0 0.5 0.1 0.5 0.0 0.5 0.1 0.5 0.0 0.5 0.1 0.5 0.0 0.5 0.1 0.5 0.0 0.5 0.1 0.5 0.0 0.5 0.1 0.5 0.0 0.5 0.1 0.5 0.0 0.5 0.1 0.5 0.0 0.5 0.1 0.5 0.0 0.5 0.1 0.5 0.0 0.5 0.1 0.5 0.0 0.5 0.1 0.5 0.0 0.5 0.1 0.5 0.0 0.5 0.0 0.5 0.1 0.5 0.0 0.5 0.1 0.5 0.0 0.5 0.1 0.5 0.0 0.5 0.1 0.5 0.0 0.5 0.1 0.5 0.0 0.5 0.1 0.5 0.0 0.5 0.1 0.5 0.0 0.5 0.0 0.5 0.1 0.5 0.0 0.5 0.1 0.5 0.0 0.5 0.1 0.5 0.0 0.5 0.1 0.5 0.0 0.5 0.1 0.5 0.0 0.5 0.0 0.5 0.1 0.5 0.0 0.5 0.1 0.5 0.0 0.5 0.1 0.5 0.0 0.5 0.1 0.5 0.0 0.5 0.0 0.5 0.1 0.5 0.0 0.5 0.1 0.5 0.0 0.5 0.1 0.5 0.0 0.5 0.1 0.5 0.0 0.5 0.0 0.5 0.1 0.5 0.0 0.5 0.1 0.5 0.0 0.5 0.1 0.5 0.0 0.5 0.0 0.5 0.1 0.5 0.0 0.5 0.1 0.5 0.0 0.5 0.1 0.5 0.0 0.5 0.0 0.5 0.1 0.5 0.0 0.5 0.1 0.5 0.0 0.5 0.1 0.5 0.0 0.5 0.0 0.5 0.1 0.5 0.0 0.5 0.1 0.5 0.0 0.5 0.0 0.5 0.1 0.5 0.0 0.5 0.1 0.5 0.0 0.5 0.1 0.5 0.0 0.5 0.0 0.5 0.1 0.5 0.0 0.5 0.1 0.5 0.0 0.5 0.0 0.5 0.1 0.5 0.0 0.5 0.1 0.5 0.0 0.5 0.0 0.5 0.1 0.5 0.0 0.5 0.1 0.5 0.0 0.5 0.0 0.5 0.1 0.5 0.0 0.5 0.1 0.5 0.0 0.5 0.0 0.5 0.1 0.5 0.0 0.5 0.1 0.5 0.0 0.5 0.0 0.5 0.1 0.5 0.0 0.5 0.1 0.5 0.0 0.5 0.0 0.5 0.1 0.5 0.0 0.5 0.0 0.5 0.1 0.5 0.0 0.5 0.1 0.5 0.0 0.5 0.0 0.5 0.1 0.5 0.0 0.5 0.0 0.5 0.1 0.5 0.0 0.5 0.1 0.5 0.0 0.5 0.0 0.5 0.1 0.5 0.0 0.5 0.1 0.5 0.0 0.5 0.0 0.5 0.1 0.5 0.0 0.5 0.0 0.5 0.1 0.5 0.0 0.5 0.0 0.5 0.1 0.5 0.0 0.5 0.1 0.5 0.0 0.5 0.0 0.5 0.1 0.5 0.0 0.5 0.0 0.5 0.1 0.5 0.0 0.5 0.1 0.5 0.0 0.5 0.0 0.5 0.1 0.5 0.0 0.5 0.0 0.5 0.1 0.5 0.0 0.5 0.0 0.5 0.1 0.5 0.0 0.5 0.0 0.5 0.1 0.5 0.0 0.5 0.1 0.5 0.0 0.5 0.0 0.5 0.1 0.5 0.0 0.5 0.0 0.5 0.1 0.5 0.0 0.5 0.0 0.5 0.1 0.5 0.0 0.5 0.0 0.5 0.1 0.5 0.0 0.5 0.0 0.5 0.1 0.5 0.0 0.5 0.0 0.5 0.1 0.5 0.0 0.5 0.0 0.5 0.1 0.5 0.0 0.5 0.0 0.5 0.1 0.5 0.0" fill="none" stroke="#000" stroke-width="2.7" stroke-linejoin="round" />
<path d="M872.8 1081.6l0.5 1.6 0.5 1.6 0.5 1.5 0.5 1.6 0.5 1.4 0.5 1.5 0.5 1.4 0.5 1.4 0.5 1.4 0.5 1.3 0.5 1.3 0.5 1.3 0.5 1.2 0.5 1.2 0.5 1.2 0.5 1.2 0.5 1.1 0.5 1.2 0.5 1.0 0.5 1.1 0.5 1.1 0.5 1.0 0.5 1.0 0.5 1.0 0.5 1.0 0.5 1.0 0.5 0.9 0.5 0.9 0.5 0.9 0.5 0.9 0.5 0.9 0.5 0.9 0.5 0.8 0.5 0.9 0.5 0.8 0.5 0.8 0.5 0.8 0.5 0.7 0.5 0.8 0.5 0.8 0.5 0.7 0.5 0.7 0.5 0.7 0.5 0.7 0.5 0.7 0.5 0.7 0.5 0.7 0.5 0.6 0.5 0.7 0.5 0.6 0.5 0.7 0.5 0.6 0.5 0.6 0.5 0.6 0.5 0.6 0.5 0.6 0.5 0.6 0.5 0.5 0.5 0.6 0.5 0.6 0.5 0.5 0.5 0.5 0.5 0.6 0.5 0.5 0.5 0.5 0.5 0.5 0.5 0.5 0.5 0.5 0.5 0.5 0.5 0.5 0.5 0.5 0.5 0.4 0.5 0.5 0.5 0.4 0.5 0.5 0.5 0.4 0.5 0.5 0.5 0.4 0.5 0.5 0.5 0.4 0.5 0.4 0.5 0.4 0.5 0.4 0.5 0.4 0.5 0.4 0.5 0.4 0.5 0.4 0.5 0.4 0.5 0.4 0.5 0.3 0.5 0.4 0.5 0.4 0.5 0.4 0.5 0.3 0.5 0.4 0.5 0.3 0.5 0.4 0.5 0.3 0.5 0.3 0.5 0.4 0.5 0.3 0.5 0.3 0.5 0.4 0.5 0.3 0.5 0.3 0.5 0.3 0.5 0.3 0.5 0.3 0.5 0.3 0.5 0.3 0.5 0.3 0.5 0.3 0.5 0.3 0.5 0.3 0.5 0.3 0.5 0.3 0.5 0.3 0.5 0.3 0.5 0.2 0.5 0.3 0.5 0.3 0.5 0.2 0.5 0.3 0.5 0.3 0.5 0.2 0.5 0.3 0.5 0.2 0.5 0.3 0.5 0.2 0.5 0.3 0.5 0.2 0.5 0.3 0.5 0.2 0.5 0.2 0.5 0.3 0.5 0.2 0.5 0.2 0.5 0.3 0.5 0.2 0.5 0.2 0.5 0.3 0.5 0.2 0.5 0.2 0.5 0.2 0.5 0.2 0.5 0.2 0.5 0.2 0.5 0.3 0.5 0.2 0.5 0.2 0.5 0.2 0.5 0.2 0.5 0.2 0.5 0.2 0.5 0.2 0.5 0.2 0.5 0.2 0.5 0.2 0.5 0.2 0.5 0.1 0.5 0.2 0.5 0.2 0.5 0.2 0.5 0.2 0.5 0.2 0.5 0.1 0.5 0.2 0.5 0.2 0.5 0.2 0.5 0.2 0.5 0.1 0.5 0.2 0.5 0.2 0.5 0.1 0.5 0.2 0.5 0.2 0.5 0.1 0.5 0.2 0.5 0.2 0.5 0.1 0.5 0.2 0.5 0.1 0.5 0.2 0.5 0.2 0.5 0.1 0.5 0.2 0.5 0.1 0.5 0.2 0.5 0.1 0.5 0.2 0.5 0.1 0.5 0.2 0.5 0.1 0.5 0.2 0.5 0.1 0.5 0.2 0.5 0.1 0.5 0.1 0.5 0.2 0.5 0.1 0.5 0.2 0.5 0.1 0.5 0.1 0.5 0.2 0.5 0.1 0.5 0.1 0.5 0.2 0.5 0.1 0.5 0.1 0.5 0.2 0.5 0.1 0.5 0.1 0.5 0.1 0.5 0.2 0.5 0.1 0.5 0.1 0.5 0.1 0.5 0.2 0.5 0.1 0.5 0.1 0.5 0.1 0.5 0.1 0.5 0.2 0.5 0.1 0.5 0.1 0.5 0.1 0.5 0.1 0.5 0.2 0.5 0.1 0.5 0.1 0.5 0.1 0.5 0.1 0.5 0.1 0.5 0.1 0.5 0.1 0.5 0.1 0.5 0.2 0.5 0.1 0.5 0.1 0.5 0.1 0.5 0.1 0.5 0.1 0.5 0.1 0.5 0.1 0.5 0.1 0.5 0.1 0.5 0.1 0.5 0.1 0.5 0.1 0.5 0.1 0.5 0.1 0.5 0.1 0.5 0.1 0.5 0.1 0.5 0.1 0.5 0.1 0.5 0.1 0.5 0.1 0.5 0.1 0.5 0.1 0.5 0.1 0.5 0.1 0.5 0.1 0.5 0.1 0.5 0.0 0.5 0.1 0.5 0.1 0.5 0.1 0.5 0.1 0.5 0.1 0.5 0.1 0.5 0.1 0.5 0.1 0.5 0.1 0.5 0.0 0.5 0.1 0.5 0.1 0.5 0.1 0.5 0.1 0.5 0.1 0.5 0.1 0.5 0.0 0.5 0.1 0.5 0.1 0.5 0.1 0.5 0.1 0.5 0.0 0.5 0.1 0.5 0.1 0.5 0.1 0.5 0.1 0.5 0.0 0.5 0.1 0.5 0.1 0.5 0.1 0.5 0.1 0.5 0.0 0.5 0.1 0.5 0.1 0.5 0.1 0.5 0.0 0.5 0.1 0.5 0.1 0.5 0.1 0.5 0.0 0.5 0.1 0.5 0.1 0.5 0.1 0.5 0.0 0.5 0.1 0.5 0.1 0.5 0.0 0.5 0.1 0.5 0.1 0.5 0.1 0.5 0.0 0.5 0.1 0.5 0.1 0.5 0.0 0.5 0.1 0.5 0.1 0.5 0.0 0.5 0.1 0.5 0.1 0.5 0.0 0.5 0.1 0.5 0.1 0.5 0.0 0.5 0.1 0.5 0.1 0.5 0.0 0.5 0.1 0.5 0.1 0.5 0.0 0.5 0.1 0.5 0.1 0.5 0.0 0.5 0.1 0.5 0.0 0.5 0.1 0.5 0.1 0.5 0.0 0.5 0.1 0.5 0.0 0.5 0.1 0.5 0.1 0.5 0.0 0.5 0.1 0.5 0.0 0.5 0.1 0.5 0.1 0.5 0.0 0.5 0.1 0.5 0.0 0.5 0.1 0.5 0.1 0.5 0.0 0.5 0.1 0.5 0.0 0.5 0.1 0.5 0.0 0.5 0.1 0.5 0.1 0.5 0.0 0.5 0.1 0.5 0.0 0.5 0.1 0.5 0.0 0.5 0.1 0.5 0.0 0.5 0.1 0.5 0.0 0.5 0.1 0.5 0.0 0.5 0.1 0.5 0.1 0.5 0.0 0.5 0.1 0.5 0.0 0.5 0.1 0.5 0.0 0.5 0.1 0.5 0.0 0.5 0.1 0.5 0.0 0.5 0.1 0.5 0.0 0.5 0.1 0.5 0.0 0.5 0.1 0.5 0.0 0.5 0.1 0.5 0.0 0.5 0.1 0.5 0.0 0.5 0.1 0.5 0.0 0.5 0.1 0.5 0.0 0.5 0.1 0.5 0.0 0.5 0.0 0.5 0.1 0.5 0.0 0.5 0.1 0.5 0.0 0.5 0.1 0.5 0.0 0.5 0.1 0.5 0.0 0.5 0.1 0.5 0.0 0.5 0.1 0.5 0.0 0.5 0.0 0.5 0.1 0.5 0.0 0.5 0.1 0.5 0.0 0.5 0.1 0.5 0.0 0.5 0.1 0.5 0.0 0.5 0.0 0.5 0.1 0.5 0.0 0.5 0.1 0.5 0.0 0.5 0.1 0.5 0.0 0.5 0.0 0.5 0.1 0.5 0.0 0.5 0.1 0.5 0.0 0.5 0.0 0.5 0.1 0.5 0.0 0.5 0.1 0.5 0.0 0.5 0.0 0.5 0.1 0.5 0.0 0.5 0.1 0.5 0.0 0.5 0.0 0.5 0.1 0.5 0.0 0.5 0.1 0.5 0.0 0.5 0.0 0.5 0.1 0.5 0.0 0.5 0.1 0.5 0.0 0.5 0.0 0.5 0.1 0.5 0.0 0.5 0.0 0.5 0.1 0.5 0.0 0.5 0.1 0.5 0.0 0.5 0.0 0.5 0.1 0.5 0.0 0.5 0.0 0.5 0.1 0.5 0.0 0.5 0.1 0.5 0.0 0.5 0.0 0.5 0.1 0.5 0.0 0.5 0.0 0.5 0.1 0.5 0.0 0.5 0.0 0.5 0.1 0.5 0.0 0.5 0.0 0.5 0.1 0.5 0.0 0.5 0.0 0.5 0.1 0.5 0.0 0.5 0.1 0.5 0.0 0.5 0.0 0.5 0.1 0.5 0.0 0.5 0.0 0.5 0.1 0.5 0.0 0.5 0.0 0.5 0.1 0.5 0.0 0.5 0.0 0.5 0.1 0.5 0.0 0.5 0.0 0.5 0.1 0.5 0.0 0.5 0.0 0.5 0.0 0.5 0.1 0.5 0.0 0.5 0.0 0.5 0.1 0.5 0.0 0.5 0.0 0.5 0.1 0.5 0.0 0.5 0.0 0.5 0.1 0.5 0.0 0.5 0.0 0.5 0.1 0.5 0.0 0.5 0.0 0.5 0.0 0.5 0.1 0.5 0.0 0.5 0.0 0.5 0.1 0.5 0.0 0.5 0.0 0.5 0.1 0.5 0.0 0.5 0.0 0.5 0.0 0.5 0.1 0.5 0.0 0.5 0.0 0.5 0.1 0.5 0.0 0.5 0.0 0.5 0.0 0.5 0.1 0.5 0.0 0.5 0.0 0.5 0.1 0.5 0.0 0.5 0.0 0.5 0.0 0.5 0.1 0.5 0.0 0.5 0.0 0.5 0.1 0.5 0.0 0.5 0.0 0.5 0.0 0.5 0.1 0.5 0.0 0.5 0.0 0.5 0.0 0.5 0.1 0.5 0.0 0.5 0.0 0.5 0.1 0.5 0.0 0.5 0.0 0.5 0.0 0.5 0.1 0.5 0.0 0.5 0.0 0.5 0.0 0.5 0.1 0.5 0.0 0.5 0.0 0.5 0.0 0.5 0.1 0.5 0.0 0.5 0.0 0.5 0.0 0.5 0.1 0.5 0.0 0.5 0.0 0.5 0.0 0.5 0.1 0.5 0.0 0.5 0.0 0.5 0.0 0.5 0.1 0.5 0.0 0.5 0.0 0.5 0.0 0.5 0.1 0.5 0.0 0.5 0.0 0.5 0.0 0.5 0.1 0.5 0.0 0.5 0.0 0.5 0.0 0.5 0.1 0.5 0.0 0.5 0.0 0.5 0.0 0.5 0.1 0.5 0.0 0.5 0.0 0.5 0.0 0.5 0.1 0.5 0.0 0.5 0.0 0.5 0.0 0.5 0.1 0.5 0.0 0.5 0.0 0.5 0.0 0.5 0.0 0.5 0.1 0.5 0.0 0.5 0.0 0.5 0.0 0.5 0.1 0.5 0.0 0.5 0.0 0.5 0.0 0.5 0.0 0.5 0.1 0.5 0.0 0.5 0.0 0.5 0.0 0.5 0.1 0.5 0.0 0.5 0.0 0.5 0.0 0.5 0.0 0.5 0.1 0.5 0.0 0.5 0.0 0.5 0.0 0.5 0.1 0.5 0.0 0.5 0.0 0.5 0.0 0.5 0.0 0.5 0.1 0.5 0.0 0.5 0.0 0.5 0.0 0.5 0.0 0.5 0.1 0.5 0.0 0.5 0.0 0.5 0.0 0.5 0.0 0.5 0.1 0.5 0.0 0.5 0.0 0.5 0.0 0.5 0.0 0.5 0.1 0.5 0.0 0.5 0.0 0.5 0.0 0.5 0.0 0.5 0.1 0.5 0.0 0.5 0.0 0.5 0.0 0.5 0.0 0.5 0.1 0.5 0.0 0.5 0.0 0.5 0.0 0.5 0.0 0.5 0.1 0.5 0.0 0.5 0.0 0.5 0.0 0.5 0.0 0.5 0.1 0.5 0.0 0.5 0.0 0.5 0.0 0.5 0.0 0.5 0.1 0.5 0.0 0.5 0.0 0.5 0.0 0.5 0.0 0.5 0.1 0.5 0.0 0.5 0.0 0.5 0.0 0.5 0.0 0.5 0.0 0.5 0.1 0.5 0.0 0.5 0.0 0.5 0.0 0.5 0.0 0.5 0.1 0.5 0.0 0.5 0.0 0.5 0.0 0.5 0.0 0.5 0.0 0.5 0.1 0.5 0.0 0.5 0.0 0.5 0.0 0.5 0.0 0.5 0.1 0.5 0.0 0.5 0.0 0.5 0.0 0.5 0.0 0.5 0.0 0.5 0.1 0.5 0.0 0.5 0.0 0.5 0.0 0.5 0.0 0.5 0.0 0.5 0.1 0.5 0.0 0.5 0.0 0.5 0.0 0.5 0.0 0.5 0.0 0.5 0.1 0.5 0.0 0.5 0.0 0.5 0.0 0.5 0.0 0.5 0.1 0.5 0.0 0.5 0.0 0.5 0.0 0.5 0.0 0.5 0.0 0.5 0.1 0.5 0.0 0.5 0.0 0.5 0.0 0.5 0.0 0.5 0.0 0.5 0.0 0.5 0.1 0.5 0.0 0.5 0.0 0.5 0.0 0.5 0.0 0.5 0.0 0.5 0.1 0.5 0.0 0.5 0.0 0.5 0.0 0.5 0.0 0.5 0.0 0.5 0.1 0.5 0.0 0.5 0.0 0.5 0.0 0.5 0.0 0.5 0.0 0.5 0.0 0.5 0.1 0.5 0.0 0.5 0.0 0.5 0.0 0.5 0.0 0.5 0.0 0.5 0.1 0.5 0.0 0.5 0.0 0.5 0.0 0.5 0.0 0.5 0.0 0.5 0.0 0.5 0.1 0.5 0.0 0.5 0.0 0.5 0.0 0.5 0.0 0.5 0.0 0.5 0.1 0.5 0.0 0.5 0.0 0.5 0.0 0.5 0.0 0.5 0.0 0.5 0.0 0.5 0.1 0.5 0.0 0.5 0.0 0.5 0.0 0.5 0.0 0.5 0.0 0.5 0.0 0.5 0.1 0.5 0.0 0.5 0.0 0.5 0.0 0.5 0.0 0.5 0.0 0.5 0.0 0.5 0.1 0.5 0.0 0.5 0.0 0.5 0.0 0.5 0.0 0.5 0.0 0.5 0.0 0.5 0.1 0.5 0.0 0.5 0.0 0.5 0.0 0.5 0.0 0.5 0.0 0.5 0.0 0.5 0.1 0.5 0.0 0.5 0.0 0.5 0.0 0.5 0.0 0.5 0.0 0.5 0.0 0.5 0.0 0.5 0.1 0.5 0.0 0.5 0.0 0.5 0.0 0.5 0.0 0.5 0.0 0.5 0.0 0.5 0.1 0.5 0.0 0.5 0.0 0.5 0.0 0.5 0.0 0.5 0.0 0.5 0.0 0.5 0.0 0.5 0.1 0.5 0.0 0.5 0.0 0.5 0.0 0.5 0.0 0.5 0.0 0.5 0.0 0.5 0.0 0.5 0.1 0.5 0.0 0.5 0.0 0.5 0.0 0.5 0.0 0.5 0.0 0.5 0.0 0.5 0.0 0.5 0.1 0.5 0.0 0.5 0.0 0.5 0.0 0.5 0.0 0.5 0.0 0.5 0.0 0.5 0.0 0.5 0.1 0.5 0.0 0.5 0.0 0.5 0.0 0.5 0.0 0.5 0.0 0.5 0.0 0.5 0.0 0.5 0.1 0.5 0.0 0.5 0.0 0.5 0.0 0.5 0.0 0.5 0.0 0.5 0.0 0.5 0.0 0.5 0.1 0.5 0.0 0.5 0.0 0.5 0.0 0.5 0.0 0.5 0.0 0.5 0.0 0.5 0.0 0.5 0.0 0.5 0.1 0.5 0.0 0.5 0.0 0.5 0.0 0.5 0.0 0.5 0.0 0.5 0.0 0.5 0.0 0.5 0.1 0.5 0.0 0.5 0.0 0.5 0.0 0.5 0.0 0.5 0.0 0.5 0.0 0.5 0.0 0.5 0.0 0.5 0.1 0.5 0.0 0.5 0.0 0.5 0.0 0.5 0.0 0.5 0.0 0.5 0.0 0.5 0.0 0.5 0.0 0.5 0.1 0.5 0.0 0.5 0.0 0.5 0.0 0.5 0.0 0.5 0.0 0.5 0.0 0.5 0.0 0.5 0.0 0.5 0.1 0.5 0.0 0.5 0.0 0.5 0.0 0.5 0.0 0.5 0.0 0.5 0.0 0.5 0.0 0.5 0.0 0.5 0.1 0.5 0.0 0.5 0.0 0.5 0.0 0.5 0.0 0.5 0.0 0.5 0.0 0.5 0.0 0.5 0.0 0.5 0.0 0.5 0.1 0.5 0.0 0.5 0.0 0.5 0.0 0.5 0.0 0.5 0.0 0.5 0.0 0.5 0.0 0.5 0.0 0.5 0.1 0.5 0.0 0.5 0.0 0.5 0.0 0.5 0.0 0.5 0.0 0.5 0.0 0.5 0.0 0.5 0.0 0.5 0.0 0.5 0.1 0.5 0.0 0.5 0.0 0.5 0.0 0.5 0.0 0.5 0.0 0.5 0.0 0.5 0.0 0.5 0.0 0.5 0.0 0.5 0.1 0.5 0.0 0.5 0.0 0.5 0.0 0.5 0.0 0.5 0.0 0.5 0.0 0.5 0.0 0.5 0.0 0.5 0.0 0.5 0.1 0.5 0.0 0.5 0.0 0.5 0.0 0.5 0.0 0.5 0.0 0.5 0.0 0.5 0.0 0.5 0.0 0.5 0.0 0.5 0.1 0.5 0.0 0.5 0.0 0.5 0.0 0.5 0.0 0.5 0.0 0.5 0.0 0.5 0.0 0.5 0.0 0.5 0.0 0.5 0.0 0.5 0.1 0.5 0.0 0.5 0.0 0.5 0.0 0.5 0.0 0.5 0.0 0.5 0.0 0.5 0.0 0.5 0.0 0.5 0.0 0.5 0.0 0.5 0.1 0.5 0.0 0.5 0.0 0.5 0.0 0.5 0.0 0.5 0.0 0.5 0.0 0.5 0.0 0.5 0.0 0.5 0.0 0.5 0.0 0.5 0.1 0.5 0.0 0.5 0.0 0.5 0.0 0.5 0.0 0.5 0.0 0.5 0.0 0.5 0.0 0.5 0.0 0.5 0.0 0.5 0.0 0.5 0.1 0.5 0.0 0.5 0.0 0.5 0.0 0.5 0.0 0.5 0.0 0.5 0.0 0.5 0.0 0.5 0.0 0.5 0.0 0.5 0.0 0.5 0.1 0.5 0.0 0.5 0.0 0.5 0.0 0.5 0.0 0.5 0.0 0.5 0.0 0.5 0.0 0.5 0.0 0.5 0.0 0.5 0.0 0.5 0.0 0.5 0.1 0.5 0.0 0.5 0.0 0.5 0.0 0.5 0.0 0.5 0.0 0.5 0.0 0.5 0.0 0.5 0.0 0.5 0.0 0.5 0.0 0.5 0.0 0.5 0.1 0.5 0.0 0.5 0.0 0.5 0.0 0.5 0.0 0.5 0.0 0.5 0.0 0.5 0.0 0.5 0.0 0.5 0.0 0.5 0.0 0.5 0.0 0.5 0.1 0.5 0.0 0.5 0.0 0.5 0.0 0.5 0.0 0.5 0.0 0.5 0.0 0.5 0.0 0.5 0.0" fill="none" stroke="#000" stroke-width="2.7" stroke-linejoin="round" />
</svg>
</body></html>
